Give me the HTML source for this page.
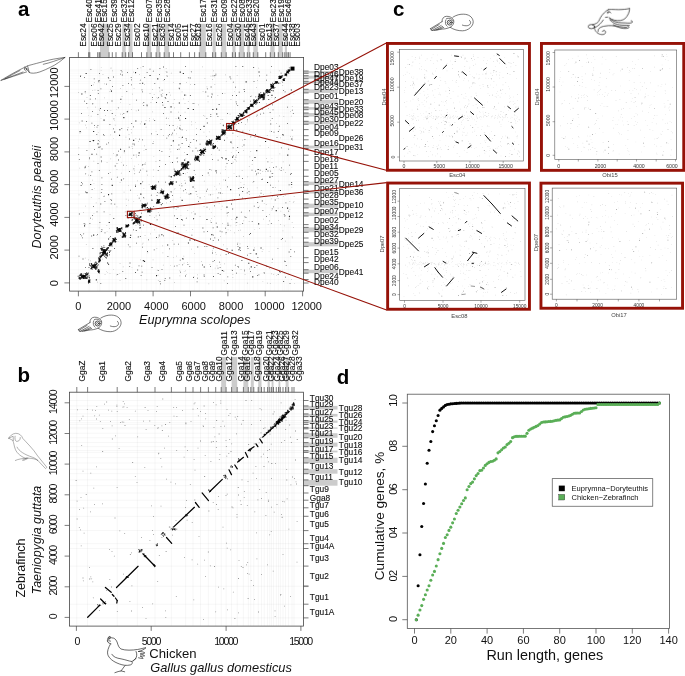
<!DOCTYPE html>
<html><head><meta charset="utf-8"><title>Figure</title>
<style>html,body{margin:0;padding:0;background:#fff}svg{display:block}text{font-family:"Liberation Sans",sans-serif}</style>
</head><body>
<svg width="685" height="676" viewBox="0 0 685 676">
<rect width="685" height="676" fill="#fff"/>
<g opacity="0.999">
<rect x="88.40" y="23.80" width="1.40" height="33.60" fill="#cccccc" stroke="none" stroke-width="0.7" />
<rect x="100.00" y="23.80" width="9.10" height="33.60" fill="#cccccc" stroke="none" stroke-width="0.7" />
<rect x="122.20" y="23.80" width="3.50" height="33.60" fill="#cccccc" stroke="none" stroke-width="0.7" />
<rect x="128.60" y="23.80" width="3.90" height="33.60" fill="#cccccc" stroke="none" stroke-width="0.7" />
<rect x="146.80" y="23.80" width="4.40" height="33.60" fill="#cccccc" stroke="none" stroke-width="0.7" />
<rect x="156.10" y="23.80" width="3.80" height="33.60" fill="#cccccc" stroke="none" stroke-width="0.7" />
<rect x="164.20" y="23.80" width="5.00" height="33.60" fill="#cccccc" stroke="none" stroke-width="0.7" />
<rect x="199.30" y="23.80" width="6.50" height="33.60" fill="#cccccc" stroke="none" stroke-width="0.7" />
<rect x="212.60" y="23.80" width="3.10" height="33.60" fill="#cccccc" stroke="none" stroke-width="0.7" />
<rect x="221.30" y="23.80" width="4.90" height="33.60" fill="#cccccc" stroke="none" stroke-width="0.7" />
<rect x="232.40" y="23.80" width="3.10" height="33.60" fill="#cccccc" stroke="none" stroke-width="0.7" />
<rect x="239.20" y="23.80" width="5.00" height="33.60" fill="#cccccc" stroke="none" stroke-width="0.7" />
<rect x="247.30" y="23.80" width="2.50" height="33.60" fill="#cccccc" stroke="none" stroke-width="0.7" />
<rect x="253.30" y="23.80" width="4.50" height="33.60" fill="#cccccc" stroke="none" stroke-width="0.7" />
<rect x="270.30" y="23.80" width="4.30" height="33.60" fill="#cccccc" stroke="none" stroke-width="0.7" />
<rect x="278.30" y="23.80" width="4.40" height="33.60" fill="#cccccc" stroke="none" stroke-width="0.7" />
<rect x="284.80" y="23.80" width="2.20" height="33.60" fill="#cccccc" stroke="none" stroke-width="0.7" />
<rect x="303.60" y="71.00" width="34.20" height="2.30" fill="#cccccc" stroke="none" stroke-width="0.7" />
<rect x="303.60" y="75.70" width="34.20" height="3.00" fill="#cccccc" stroke="none" stroke-width="0.7" />
<rect x="303.60" y="81.30" width="34.20" height="2.10" fill="#cccccc" stroke="none" stroke-width="0.7" />
<rect x="303.60" y="89.30" width="34.20" height="3.60" fill="#cccccc" stroke="none" stroke-width="0.7" />
<rect x="303.60" y="99.70" width="34.20" height="4.10" fill="#cccccc" stroke="none" stroke-width="0.7" />
<rect x="303.60" y="107.10" width="34.20" height="2.60" fill="#cccccc" stroke="none" stroke-width="0.7" />
<rect x="303.60" y="113.00" width="34.20" height="3.60" fill="#cccccc" stroke="none" stroke-width="0.7" />
<rect x="303.60" y="121.30" width="34.20" height="3.00" fill="#cccccc" stroke="none" stroke-width="0.7" />
<rect x="303.60" y="145.60" width="34.20" height="2.90" fill="#cccccc" stroke="none" stroke-width="0.7" />
<rect x="303.60" y="181.70" width="34.20" height="3.40" fill="#cccccc" stroke="none" stroke-width="0.7" />
<rect x="303.60" y="190.50" width="34.20" height="3.00" fill="#cccccc" stroke="none" stroke-width="0.7" />
<rect x="303.60" y="203.70" width="34.20" height="4.20" fill="#cccccc" stroke="none" stroke-width="0.7" />
<rect x="303.60" y="212.70" width="34.20" height="3.30" fill="#cccccc" stroke="none" stroke-width="0.7" />
<rect x="303.60" y="227.40" width="34.20" height="4.90" fill="#cccccc" stroke="none" stroke-width="0.7" />
<rect x="303.60" y="242.20" width="34.20" height="4.20" fill="#cccccc" stroke="none" stroke-width="0.7" />
<rect x="303.60" y="269.70" width="34.20" height="3.50" fill="#cccccc" stroke="none" stroke-width="0.7" />
<path d="M78.4 57.4V291.1M88.7 57.4V291.1M89.8 57.4V291.1M97.7 57.4V291.1M99.2 57.4V291.1M100.0 57.4V291.1M109.1 57.4V291.1M112.3 57.4V291.1M116.0 57.4V291.1M122.2 57.4V291.1M125.7 57.4V291.1M128.6 57.4V291.1M132.5 57.4V291.1M141.5 57.4V291.1M146.8 57.4V291.1M151.2 57.4V291.1M156.1 57.4V291.1M159.9 57.4V291.1M164.2 57.4V291.1M169.2 57.4V291.1M173.5 57.4V291.1M180.7 57.4V291.1M189.4 57.4V291.1M194.6 57.4V291.1M199.3 57.4V291.1M205.8 57.4V291.1M212.6 57.4V291.1M215.7 57.4V291.1M221.3 57.4V291.1M226.2 57.4V291.1M232.4 57.4V291.1M235.5 57.4V291.1M239.2 57.4V291.1M244.2 57.4V291.1M247.3 57.4V291.1M249.8 57.4V291.1M253.3 57.4V291.1M257.8 57.4V291.1M265.7 57.4V291.1M270.3 57.4V291.1M274.6 57.4V291.1M278.3 57.4V291.1M282.7 57.4V291.1M284.8 57.4V291.1M287.0 57.4V291.1M288.5 57.4V291.1M290.1 57.4V291.1M69.6 69.7H303.6M69.6 71.0H303.6M69.6 73.3H303.6M69.6 75.7H303.6M69.6 78.7H303.6M69.6 81.3H303.6M69.6 83.4H303.6M69.6 89.3H303.6M69.6 92.9H303.6M69.6 99.7H303.6M69.6 103.8H303.6M69.6 107.1H303.6M69.6 109.7H303.6M69.6 113.0H303.6M69.6 116.6H303.6M69.6 121.3H303.6M69.6 124.3H303.6M69.6 129.6H303.6M69.6 135.7H303.6M69.6 139.8H303.6M69.6 145.4H303.6M69.6 148.5H303.6M69.6 155.2H303.6M69.6 161.4H303.6M69.6 170.0H303.6M69.6 176.3H303.6M69.6 181.6H303.6M69.6 185.1H303.6M69.6 190.4H303.6M69.6 193.5H303.6M69.6 199.1H303.6M69.6 203.7H303.6M69.6 207.9H303.6M69.6 212.7H303.6M69.6 216.0H303.6M69.6 224.6H303.6M69.6 227.4H303.6M69.6 232.3H303.6M69.6 238.0H303.6M69.6 242.2H303.6M69.6 246.4H303.6M69.6 257.7H303.6M69.6 262.6H303.6M69.6 269.7H303.6M69.6 273.2H303.6M69.6 279.5H303.6M69.6 283.0H303.6" stroke="#999" stroke-width="0.3" stroke-opacity="0.16" fill="none"/>
<rect x="69.60" y="57.40" width="234.00" height="233.70" fill="none" stroke="#444" stroke-width="0.8" />
<path d="M78.4 57.4v-5.2M88.7 57.4v-5.2M89.8 57.4v-5.2M97.7 57.4v-5.2M99.2 57.4v-5.2M100.0 57.4v-5.2M109.1 57.4v-5.2M112.3 57.4v-5.2M116.0 57.4v-5.2M122.2 57.4v-5.2M125.7 57.4v-5.2M128.6 57.4v-5.2M132.5 57.4v-5.2M141.5 57.4v-5.2M146.8 57.4v-5.2M151.2 57.4v-5.2M156.1 57.4v-5.2M159.9 57.4v-5.2M164.2 57.4v-5.2M169.2 57.4v-5.2M173.5 57.4v-5.2M180.7 57.4v-5.2M189.4 57.4v-5.2M194.6 57.4v-5.2M199.3 57.4v-5.2M205.8 57.4v-5.2M212.6 57.4v-5.2M215.7 57.4v-5.2M221.3 57.4v-5.2M226.2 57.4v-5.2M232.4 57.4v-5.2M235.5 57.4v-5.2M239.2 57.4v-5.2M244.2 57.4v-5.2M247.3 57.4v-5.2M249.8 57.4v-5.2M253.3 57.4v-5.2M257.8 57.4v-5.2M265.7 57.4v-5.2M270.3 57.4v-5.2M274.6 57.4v-5.2M278.3 57.4v-5.2M282.7 57.4v-5.2M284.8 57.4v-5.2M287.0 57.4v-5.2M288.5 57.4v-5.2M290.1 57.4v-5.2M303.6 71.0h5M303.6 73.3h5M303.6 75.7h5M303.6 78.7h5M303.6 81.3h5M303.6 83.4h5M303.6 89.3h5M303.6 92.9h5M303.6 99.7h5M303.6 103.8h5M303.6 107.1h5M303.6 109.7h5M303.6 113.0h5M303.6 116.6h5M303.6 121.3h5M303.6 124.3h5M303.6 129.6h5M303.6 135.7h5M303.6 139.8h5M303.6 145.4h5M303.6 148.5h5M303.6 155.2h5M303.6 161.4h5M303.6 170.0h5M303.6 176.3h5M303.6 181.6h5M303.6 185.1h5M303.6 190.4h5M303.6 193.5h5M303.6 199.1h5M303.6 203.7h5M303.6 207.9h5M303.6 212.7h5M303.6 216.0h5M303.6 224.6h5M303.6 227.4h5M303.6 232.3h5M303.6 238.0h5M303.6 242.2h5M303.6 246.4h5M303.6 257.7h5M303.6 262.6h5M303.6 269.7h5M303.6 273.2h5M303.6 279.5h5M303.6 283.0h5M78.4 291.1v5.2M69.6 282.9h-5.2M115.8 291.1v5.2M69.6 250.1h-5.2M153.1 291.1v5.2M69.6 217.4h-5.2M190.5 291.1v5.2M69.6 184.6h-5.2M227.9 291.1v5.2M69.6 151.9h-5.2M265.2 291.1v5.2M69.6 119.1h-5.2M302.6 291.1v5.2M69.6 86.4h-5.2" stroke="#444" stroke-width="0.7" fill="none"/>
<text font-size="9.0" text-anchor="start" fill="#111" transform="translate(86.20 46.70) rotate(-90) scale(0.93 1)" stroke="#111" stroke-width="0.12">Esc24</text>
<text font-size="9.0" text-anchor="start" fill="#111" transform="translate(96.50 46.70) rotate(-90) scale(0.93 1)" stroke="#111" stroke-width="0.12">Esc06</text>
<text font-size="9.0" text-anchor="start" fill="#111" transform="translate(104.10 46.70) rotate(-90) scale(0.93 1)" stroke="#111" stroke-width="0.12">Esc42</text>
<text font-size="9.0" text-anchor="start" fill="#111" transform="translate(113.20 46.70) rotate(-90) scale(0.93 1)" stroke="#111" stroke-width="0.12">Esc25</text>
<text font-size="9.0" text-anchor="start" fill="#111" transform="translate(121.00 46.70) rotate(-90) scale(0.93 1)" stroke="#111" stroke-width="0.12">Esc29</text>
<text font-size="9.0" text-anchor="start" fill="#111" transform="translate(129.60 46.70) rotate(-90) scale(0.93 1)" stroke="#111" stroke-width="0.12">Esc34</text>
<text font-size="9.0" text-anchor="start" fill="#111" transform="translate(139.80 46.70) rotate(-90) scale(0.93 1)" stroke="#111" stroke-width="0.12">Esc02</text>
<text font-size="9.0" text-anchor="start" fill="#111" transform="translate(149.00 46.70) rotate(-90) scale(0.93 1)" stroke="#111" stroke-width="0.12">Esc10</text>
<text font-size="9.0" text-anchor="start" fill="#111" transform="translate(157.80 46.70) rotate(-90) scale(0.93 1)" stroke="#111" stroke-width="0.12">Esc21</text>
<text font-size="9.0" text-anchor="start" fill="#111" transform="translate(165.40 46.70) rotate(-90) scale(0.93 1)" stroke="#111" stroke-width="0.12">Esc36</text>
<text font-size="9.0" text-anchor="start" fill="#111" transform="translate(173.60 46.70) rotate(-90) scale(0.93 1)" stroke="#111" stroke-width="0.12">Esc14</text>
<text font-size="9.0" text-anchor="start" fill="#111" transform="translate(180.70 46.70) rotate(-90) scale(0.93 1)" stroke="#111" stroke-width="0.12">Esc05</text>
<text font-size="9.0" text-anchor="start" fill="#111" transform="translate(187.70 46.70) rotate(-90) scale(0.93 1)" stroke="#111" stroke-width="0.12">Esc11</text>
<text font-size="9.0" text-anchor="start" fill="#111" transform="translate(195.50 46.70) rotate(-90) scale(0.93 1)" stroke="#111" stroke-width="0.12">Esc27</text>
<text font-size="9.0" text-anchor="start" fill="#111" transform="translate(201.20 46.70) rotate(-90) scale(0.93 1)" stroke="#111" stroke-width="0.12">Esc18</text>
<text font-size="9.0" text-anchor="start" fill="#111" transform="translate(212.40 46.70) rotate(-90) scale(0.93 1)" stroke="#111" stroke-width="0.12">Esc16</text>
<text font-size="9.0" text-anchor="start" fill="#111" transform="translate(222.00 46.70) rotate(-90) scale(0.93 1)" stroke="#111" stroke-width="0.12">Esc26</text>
<text font-size="9.0" text-anchor="start" fill="#111" transform="translate(232.90 46.70) rotate(-90) scale(0.93 1)" stroke="#111" stroke-width="0.12">Esc04</text>
<text font-size="9.0" text-anchor="start" fill="#111" transform="translate(241.00 46.70) rotate(-90) scale(0.93 1)" stroke="#111" stroke-width="0.12">Esc30</text>
<text font-size="9.0" text-anchor="start" fill="#111" transform="translate(249.60 46.70) rotate(-90) scale(0.93 1)" stroke="#111" stroke-width="0.12">Esc45</text>
<text font-size="9.0" text-anchor="start" fill="#111" transform="translate(256.20 46.70) rotate(-90) scale(0.93 1)" stroke="#111" stroke-width="0.12">Esc43</text>
<text font-size="9.0" text-anchor="start" fill="#111" transform="translate(265.00 46.70) rotate(-90) scale(0.93 1)" stroke="#111" stroke-width="0.12">Esc01</text>
<text font-size="9.0" text-anchor="start" fill="#111" transform="translate(271.50 46.70) rotate(-90) scale(0.93 1)" stroke="#111" stroke-width="0.12">Esc13</text>
<text font-size="9.0" text-anchor="start" fill="#111" transform="translate(279.20 46.70) rotate(-90) scale(0.93 1)" stroke="#111" stroke-width="0.12">Esc37</text>
<text font-size="9.0" text-anchor="start" fill="#111" transform="translate(287.50 46.70) rotate(-90) scale(0.93 1)" stroke="#111" stroke-width="0.12">Esc44</text>
<text font-size="9.0" text-anchor="start" fill="#111" transform="translate(294.60 46.70) rotate(-90) scale(0.93 1)" stroke="#111" stroke-width="0.12">Esc38</text>
<text font-size="9.0" text-anchor="start" fill="#111" transform="translate(300.20 46.70) rotate(-90) scale(0.93 1)" stroke="#111" stroke-width="0.12">Esc03</text>
<text font-size="9.0" text-anchor="start" fill="#111" transform="translate(91.80 22.40) rotate(-90) scale(0.93 1)" stroke="#111" stroke-width="0.12">Esc40</text>
<text font-size="9.0" text-anchor="start" fill="#111" transform="translate(101.40 22.40) rotate(-90) scale(0.93 1)" stroke="#111" stroke-width="0.12">Esc41</text>
<text font-size="9.0" text-anchor="start" fill="#111" transform="translate(107.20 22.40) rotate(-90) scale(0.93 1)" stroke="#111" stroke-width="0.12">Esc15</text>
<text font-size="9.0" text-anchor="start" fill="#111" transform="translate(116.70 22.40) rotate(-90) scale(0.93 1)" stroke="#111" stroke-width="0.12">Esc39</text>
<text font-size="9.0" text-anchor="start" fill="#111" transform="translate(127.20 22.40) rotate(-90) scale(0.93 1)" stroke="#111" stroke-width="0.12">Esc32</text>
<text font-size="9.0" text-anchor="start" fill="#111" transform="translate(133.70 22.40) rotate(-90) scale(0.93 1)" stroke="#111" stroke-width="0.12">Esc12</text>
<text font-size="9.0" text-anchor="start" fill="#111" transform="translate(152.20 22.40) rotate(-90) scale(0.93 1)" stroke="#111" stroke-width="0.12">Esc07</text>
<text font-size="9.0" text-anchor="start" fill="#111" transform="translate(161.90 22.40) rotate(-90) scale(0.93 1)" stroke="#111" stroke-width="0.12">Esc35</text>
<text font-size="9.0" text-anchor="start" fill="#111" transform="translate(169.50 22.40) rotate(-90) scale(0.93 1)" stroke="#111" stroke-width="0.12">Esc28</text>
<text font-size="9.0" text-anchor="start" fill="#111" transform="translate(206.20 22.40) rotate(-90) scale(0.93 1)" stroke="#111" stroke-width="0.12">Esc17</text>
<text font-size="9.0" text-anchor="start" fill="#111" transform="translate(217.20 22.40) rotate(-90) scale(0.93 1)" stroke="#111" stroke-width="0.12">Esc31</text>
<text font-size="9.0" text-anchor="start" fill="#111" transform="translate(227.20 22.40) rotate(-90) scale(0.93 1)" stroke="#111" stroke-width="0.12">Esc09</text>
<text font-size="9.0" text-anchor="start" fill="#111" transform="translate(237.00 22.40) rotate(-90) scale(0.93 1)" stroke="#111" stroke-width="0.12">Esc22</text>
<text font-size="9.0" text-anchor="start" fill="#111" transform="translate(245.20 22.40) rotate(-90) scale(0.93 1)" stroke="#111" stroke-width="0.12">Esc08</text>
<text font-size="9.0" text-anchor="start" fill="#111" transform="translate(252.20 22.40) rotate(-90) scale(0.93 1)" stroke="#111" stroke-width="0.12">Esc33</text>
<text font-size="9.0" text-anchor="start" fill="#111" transform="translate(258.90 22.40) rotate(-90) scale(0.93 1)" stroke="#111" stroke-width="0.12">Esc20</text>
<text font-size="9.0" text-anchor="start" fill="#111" transform="translate(276.20 22.40) rotate(-90) scale(0.93 1)" stroke="#111" stroke-width="0.12">Esc23</text>
<text font-size="9.0" text-anchor="start" fill="#111" transform="translate(284.00 22.40) rotate(-90) scale(0.93 1)" stroke="#111" stroke-width="0.12">Esc19</text>
<text font-size="9.0" text-anchor="start" fill="#111" transform="translate(290.50 22.40) rotate(-90) scale(0.93 1)" stroke="#111" stroke-width="0.12">Esc46</text>
<text font-size="9.0" text-anchor="start" fill="#111" transform="translate(314.00 69.50) scale(0.93 1)" stroke="#111" stroke-width="0.12">Dpe03</text>
<text font-size="9.0" text-anchor="start" fill="#111" transform="translate(314.00 76.60) scale(0.93 1)" stroke="#111" stroke-width="0.12">Dpe46</text>
<text font-size="9.0" text-anchor="start" fill="#111" transform="translate(314.00 80.70) scale(0.93 1)" stroke="#111" stroke-width="0.12">Dpe47</text>
<text font-size="9.0" text-anchor="start" fill="#111" transform="translate(314.00 85.10) scale(0.93 1)" stroke="#111" stroke-width="0.12">Dpe44</text>
<text font-size="9.0" text-anchor="start" fill="#111" transform="translate(314.00 90.20) scale(0.93 1)" stroke="#111" stroke-width="0.12">Dpe23</text>
<text font-size="9.0" text-anchor="start" fill="#111" transform="translate(314.00 99.20) scale(0.93 1)" stroke="#111" stroke-width="0.12">Dpe01</text>
<text font-size="9.0" text-anchor="start" fill="#111" transform="translate(314.00 108.80) scale(0.93 1)" stroke="#111" stroke-width="0.12">Dpe43</text>
<text font-size="9.0" text-anchor="start" fill="#111" transform="translate(314.00 115.30) scale(0.93 1)" stroke="#111" stroke-width="0.12">Dpe45</text>
<text font-size="9.0" text-anchor="start" fill="#111" transform="translate(314.00 122.40) scale(0.93 1)" stroke="#111" stroke-width="0.12">Dpe30</text>
<text font-size="9.0" text-anchor="start" fill="#111" transform="translate(314.00 130.00) scale(0.93 1)" stroke="#111" stroke-width="0.12">Dpe04</text>
<text font-size="9.0" text-anchor="start" fill="#111" transform="translate(314.00 136.20) scale(0.93 1)" stroke="#111" stroke-width="0.12">Dpe09</text>
<text font-size="9.0" text-anchor="start" fill="#111" transform="translate(314.00 145.60) scale(0.93 1)" stroke="#111" stroke-width="0.12">Dpe16</text>
<text font-size="9.0" text-anchor="start" fill="#111" transform="translate(314.00 154.90) scale(0.93 1)" stroke="#111" stroke-width="0.12">Dpe17</text>
<text font-size="9.0" text-anchor="start" fill="#111" transform="translate(314.00 162.00) scale(0.93 1)" stroke="#111" stroke-width="0.12">Dpe18</text>
<text font-size="9.0" text-anchor="start" fill="#111" transform="translate(314.00 169.20) scale(0.93 1)" stroke="#111" stroke-width="0.12">Dpe11</text>
<text font-size="9.0" text-anchor="start" fill="#111" transform="translate(314.00 176.20) scale(0.93 1)" stroke="#111" stroke-width="0.12">Dpe05</text>
<text font-size="9.0" text-anchor="start" fill="#111" transform="translate(314.00 182.60) scale(0.93 1)" stroke="#111" stroke-width="0.12">Dpe27</text>
<text font-size="9.0" text-anchor="start" fill="#111" transform="translate(314.00 191.20) scale(0.93 1)" stroke="#111" stroke-width="0.12">Dpe21</text>
<text font-size="9.0" text-anchor="start" fill="#111" transform="translate(314.00 198.00) scale(0.93 1)" stroke="#111" stroke-width="0.12">Dpe28</text>
<text font-size="9.0" text-anchor="start" fill="#111" transform="translate(314.00 204.70) scale(0.93 1)" stroke="#111" stroke-width="0.12">Dpe35</text>
<text font-size="9.0" text-anchor="start" fill="#111" transform="translate(314.00 213.80) scale(0.93 1)" stroke="#111" stroke-width="0.12">Dpe07</text>
<text font-size="9.0" text-anchor="start" fill="#111" transform="translate(314.00 223.40) scale(0.93 1)" stroke="#111" stroke-width="0.12">Dpe02</text>
<text font-size="9.0" text-anchor="start" fill="#111" transform="translate(314.00 229.70) scale(0.93 1)" stroke="#111" stroke-width="0.12">Dpe34</text>
<text font-size="9.0" text-anchor="start" fill="#111" transform="translate(314.00 237.40) scale(0.93 1)" stroke="#111" stroke-width="0.12">Dpe32</text>
<text font-size="9.0" text-anchor="start" fill="#111" transform="translate(314.00 244.20) scale(0.93 1)" stroke="#111" stroke-width="0.12">Dpe39</text>
<text font-size="9.0" text-anchor="start" fill="#111" transform="translate(314.00 254.70) scale(0.93 1)" stroke="#111" stroke-width="0.12">Dpe15</text>
<text font-size="9.0" text-anchor="start" fill="#111" transform="translate(314.00 262.40) scale(0.93 1)" stroke="#111" stroke-width="0.12">Dpe42</text>
<text font-size="9.0" text-anchor="start" fill="#111" transform="translate(314.00 269.50) scale(0.93 1)" stroke="#111" stroke-width="0.12">Dpe06</text>
<text font-size="9.0" text-anchor="start" fill="#111" transform="translate(314.00 279.20) scale(0.93 1)" stroke="#111" stroke-width="0.12">Dpe24</text>
<text font-size="9.0" text-anchor="start" fill="#111" transform="translate(314.00 284.90) scale(0.93 1)" stroke="#111" stroke-width="0.12">Dpe40</text>
<text font-size="9.0" text-anchor="start" fill="#111" transform="translate(338.80 74.80) scale(0.93 1)" stroke="#111" stroke-width="0.12">Dpe38</text>
<text font-size="9.0" text-anchor="start" fill="#111" transform="translate(338.80 80.50) scale(0.93 1)" stroke="#111" stroke-width="0.12">Dpe19</text>
<text font-size="9.0" text-anchor="start" fill="#111" transform="translate(338.80 86.70) scale(0.93 1)" stroke="#111" stroke-width="0.12">Dpe37</text>
<text font-size="9.0" text-anchor="start" fill="#111" transform="translate(338.80 94.20) scale(0.93 1)" stroke="#111" stroke-width="0.12">Dpe13</text>
<text font-size="9.0" text-anchor="start" fill="#111" transform="translate(338.80 105.20) scale(0.93 1)" stroke="#111" stroke-width="0.12">Dpe20</text>
<text font-size="9.0" text-anchor="start" fill="#111" transform="translate(338.80 111.80) scale(0.93 1)" stroke="#111" stroke-width="0.12">Dpe33</text>
<text font-size="9.0" text-anchor="start" fill="#111" transform="translate(338.80 118.20) scale(0.93 1)" stroke="#111" stroke-width="0.12">Dpe08</text>
<text font-size="9.0" text-anchor="start" fill="#111" transform="translate(338.80 126.00) scale(0.93 1)" stroke="#111" stroke-width="0.12">Dpe22</text>
<text font-size="9.0" text-anchor="start" fill="#111" transform="translate(338.80 140.70) scale(0.93 1)" stroke="#111" stroke-width="0.12">Dpe26</text>
<text font-size="9.0" text-anchor="start" fill="#111" transform="translate(338.80 150.40) scale(0.93 1)" stroke="#111" stroke-width="0.12">Dpe31</text>
<text font-size="9.0" text-anchor="start" fill="#111" transform="translate(338.80 186.90) scale(0.93 1)" stroke="#111" stroke-width="0.12">Dpe14</text>
<text font-size="9.0" text-anchor="start" fill="#111" transform="translate(338.80 195.20) scale(0.93 1)" stroke="#111" stroke-width="0.12">Dpe36</text>
<text font-size="9.0" text-anchor="start" fill="#111" transform="translate(338.80 208.00) scale(0.93 1)" stroke="#111" stroke-width="0.12">Dpe10</text>
<text font-size="9.0" text-anchor="start" fill="#111" transform="translate(338.80 218.20) scale(0.93 1)" stroke="#111" stroke-width="0.12">Dpe12</text>
<text font-size="9.0" text-anchor="start" fill="#111" transform="translate(338.80 233.00) scale(0.93 1)" stroke="#111" stroke-width="0.12">Dpe29</text>
<text font-size="9.0" text-anchor="start" fill="#111" transform="translate(338.80 247.00) scale(0.93 1)" stroke="#111" stroke-width="0.12">Dpe25</text>
<text font-size="9.0" text-anchor="start" fill="#111" transform="translate(338.80 274.90) scale(0.93 1)" stroke="#111" stroke-width="0.12">Dpe41</text>
<text x="78.40" y="309.70" font-size="11" text-anchor="middle" fill="#111">0</text>
<text x="57.60" y="283.30" font-size="11" text-anchor="middle" fill="#111" transform="rotate(-90 57.60 283.30)">0</text>
<text x="118.97" y="309.70" font-size="11" text-anchor="middle" fill="#111">2000</text>
<text x="57.60" y="247.35" font-size="11" text-anchor="middle" fill="#111" transform="rotate(-90 57.60 247.35)">2000</text>
<text x="156.33" y="309.70" font-size="11" text-anchor="middle" fill="#111">4000</text>
<text x="57.60" y="214.60" font-size="11" text-anchor="middle" fill="#111" transform="rotate(-90 57.60 214.60)">4000</text>
<text x="193.70" y="309.70" font-size="11" text-anchor="middle" fill="#111">6000</text>
<text x="57.60" y="181.85" font-size="11" text-anchor="middle" fill="#111" transform="rotate(-90 57.60 181.85)">6000</text>
<text x="231.07" y="309.70" font-size="11" text-anchor="middle" fill="#111">8000</text>
<text x="57.60" y="149.10" font-size="11" text-anchor="middle" fill="#111" transform="rotate(-90 57.60 149.10)">8000</text>
<text x="269.33" y="309.70" font-size="11" text-anchor="middle" fill="#111">10000</text>
<text x="57.60" y="115.45" font-size="11" text-anchor="middle" fill="#111" transform="rotate(-90 57.60 115.45)">10000</text>
<text x="306.70" y="309.70" font-size="11" text-anchor="middle" fill="#111">12000</text>
<text x="57.60" y="82.70" font-size="11" text-anchor="middle" fill="#111" transform="rotate(-90 57.60 82.70)">12000</text>
<text x="139.10" y="323.80" font-size="12.7" text-anchor="start" fill="#111" font-style="italic">Euprymna scolopes</text>
<text x="40.80" y="197.00" font-size="12.5" text-anchor="middle" fill="#111" transform="rotate(-90 40.80 197.00)" font-style="italic">Doryteuthis pealeii</text>
<text x="18.00" y="16.40" font-size="20.5" text-anchor="start" fill="#000" font-weight="bold">a</text>
<path d="M212.7 227.5h0.8v0.8h-0.8zM250.0 271.2h0.8v0.8h-0.8zM238.0 266.8h0.8v0.8h-0.8zM84.5 167.4h0.8v0.8h-0.8zM282.0 207.3h0.8v0.8h-0.8zM272.8 90.6h0.8v0.8h-0.8zM179.5 119.7h0.8v0.8h-0.8zM195.7 190.9h0.8v0.8h-0.8zM81.0 113.2h0.8v0.8h-0.8zM138.6 265.5h0.8v0.8h-0.8zM243.6 100.7h0.8v0.8h-0.8zM250.4 96.2h0.8v0.8h-0.8zM211.6 93.6h0.8v0.8h-0.8zM78.6 255.7h0.8v0.8h-0.8zM123.4 112.9h0.8v0.8h-0.8zM290.4 255.9h0.8v0.8h-0.8zM140.7 275.3h0.8v0.8h-0.8zM194.7 213.6h0.8v0.8h-0.8zM122.4 270.9h0.8v0.8h-0.8zM227.4 276.4h0.8v0.8h-0.8zM271.2 131.0h0.8v0.8h-0.8zM156.2 102.1h0.8v0.8h-0.8zM109.7 80.2h0.8v0.8h-0.8zM143.3 197.3h0.8v0.8h-0.8zM78.9 213.6h0.8v0.8h-0.8zM151.2 133.5h0.8v0.8h-0.8zM255.0 170.7h0.8v0.8h-0.8zM146.4 170.8h0.8v0.8h-0.8zM230.4 78.4h0.8v0.8h-0.8zM288.8 71.0h0.8v0.8h-0.8zM240.2 249.9h0.8v0.8h-0.8zM82.1 237.5h0.8v0.8h-0.8zM157.3 191.9h0.8v0.8h-0.8zM80.2 76.2h0.8v0.8h-0.8zM117.3 273.9h0.8v0.8h-0.8zM120.6 230.5h0.8v0.8h-0.8zM279.0 271.1h0.8v0.8h-0.8zM152.6 143.2h0.8v0.8h-0.8zM191.5 234.8h0.8v0.8h-0.8zM101.5 228.9h0.8v0.8h-0.8zM250.4 253.2h0.8v0.8h-0.8zM86.1 271.9h0.8v0.8h-0.8zM97.9 140.2h0.8v0.8h-0.8zM210.1 265.9h0.8v0.8h-0.8zM151.6 267.2h0.8v0.8h-0.8zM196.0 134.0h0.8v0.8h-0.8zM146.6 104.6h0.8v0.8h-0.8zM95.1 98.4h0.8v0.8h-0.8zM227.1 283.0h0.8v0.8h-0.8zM113.1 76.6h0.8v0.8h-0.8zM291.3 182.1h0.8v0.8h-0.8zM165.9 117.7h0.8v0.8h-0.8zM206.5 245.9h0.8v0.8h-0.8zM176.6 157.8h0.8v0.8h-0.8zM90.2 265.4h0.8v0.8h-0.8zM85.3 173.4h0.8v0.8h-0.8zM259.3 94.4h0.8v0.8h-0.8zM236.2 272.8h0.8v0.8h-0.8zM214.4 237.5h0.8v0.8h-0.8zM101.2 160.6h0.8v0.8h-0.8zM110.4 249.9h0.8v0.8h-0.8zM141.9 164.7h0.8v0.8h-0.8zM294.0 251.5h0.8v0.8h-0.8zM289.0 164.7h0.8v0.8h-0.8zM183.6 224.8h0.8v0.8h-0.8zM181.7 129.4h0.8v0.8h-0.8zM165.4 97.9h0.8v0.8h-0.8zM159.6 281.2h0.8v0.8h-0.8zM285.5 202.5h0.8v0.8h-0.8zM186.1 139.7h0.8v0.8h-0.8zM97.5 125.3h0.8v0.8h-0.8zM247.1 254.8h0.8v0.8h-0.8zM156.2 237.1h0.8v0.8h-0.8zM245.6 217.2h0.8v0.8h-0.8zM221.6 231.4h0.8v0.8h-0.8zM156.7 219.4h0.8v0.8h-0.8zM138.9 171.7h0.8v0.8h-0.8zM244.5 216.4h0.8v0.8h-0.8zM141.7 271.8h0.8v0.8h-0.8zM218.5 192.4h0.8v0.8h-0.8zM80.7 185.1h0.8v0.8h-0.8zM132.3 212.2h0.8v0.8h-0.8zM178.2 243.8h0.8v0.8h-0.8zM218.0 239.6h0.8v0.8h-0.8zM153.3 206.2h0.8v0.8h-0.8zM237.6 246.3h0.8v0.8h-0.8zM153.8 249.5h0.8v0.8h-0.8zM266.1 215.9h0.8v0.8h-0.8zM289.0 274.2h0.8v0.8h-0.8zM190.1 181.2h0.8v0.8h-0.8zM114.1 248.1h0.8v0.8h-0.8zM280.7 169.9h0.8v0.8h-0.8zM227.5 222.7h0.8v0.8h-0.8zM236.0 103.4h0.8v0.8h-0.8zM246.8 192.5h0.8v0.8h-0.8zM222.0 157.6h0.8v0.8h-0.8zM212.9 234.7h0.8v0.8h-0.8zM215.8 222.8h0.8v0.8h-0.8zM84.2 100.8h0.8v0.8h-0.8zM173.5 207.5h0.8v0.8h-0.8zM125.5 215.3h0.8v0.8h-0.8zM214.5 75.1h0.8v0.8h-0.8zM180.1 115.3h0.8v0.8h-0.8zM89.9 95.1h0.8v0.8h-0.8zM146.7 105.5h0.8v0.8h-0.8zM120.0 73.8h0.8v0.8h-0.8zM178.7 148.8h0.8v0.8h-0.8zM210.3 194.5h0.8v0.8h-0.8zM129.6 262.6h0.8v0.8h-0.8zM78.3 154.3h0.8v0.8h-0.8zM138.4 155.3h0.8v0.8h-0.8zM103.1 247.0h0.8v0.8h-0.8zM159.0 73.9h0.8v0.8h-0.8zM210.7 86.6h0.8v0.8h-0.8zM196.0 139.9h0.8v0.8h-0.8zM203.7 274.6h0.8v0.8h-0.8zM255.0 157.2h0.8v0.8h-0.8zM253.8 205.8h0.8v0.8h-0.8zM158.0 96.9h0.8v0.8h-0.8zM206.9 188.8h0.8v0.8h-0.8zM285.0 276.7h0.8v0.8h-0.8zM209.7 142.4h0.8v0.8h-0.8zM271.2 66.2h0.8v0.8h-0.8zM101.5 189.2h0.8v0.8h-0.8zM211.1 96.6h0.8v0.8h-0.8zM214.2 260.0h0.8v0.8h-0.8zM159.4 160.0h0.8v0.8h-0.8zM127.1 129.5h0.8v0.8h-0.8zM288.3 148.7h0.8v0.8h-0.8zM285.8 264.9h0.8v0.8h-0.8zM206.9 122.6h0.8v0.8h-0.8zM290.1 174.0h0.8v0.8h-0.8zM167.9 135.5h0.8v0.8h-0.8zM290.8 173.1h0.8v0.8h-0.8zM140.1 169.8h0.8v0.8h-0.8zM104.5 201.3h0.8v0.8h-0.8zM174.0 129.8h0.8v0.8h-0.8zM247.0 246.0h0.8v0.8h-0.8zM81.1 181.9h0.8v0.8h-0.8zM137.3 269.6h0.8v0.8h-0.8zM247.1 119.5h0.8v0.8h-0.8zM136.0 99.7h0.8v0.8h-0.8zM291.8 129.8h0.8v0.8h-0.8zM209.5 169.3h0.8v0.8h-0.8zM217.5 197.5h0.8v0.8h-0.8zM238.8 91.7h0.8v0.8h-0.8zM242.4 131.5h0.8v0.8h-0.8zM193.4 139.2h0.8v0.8h-0.8zM142.3 181.4h0.8v0.8h-0.8zM178.5 144.6h0.8v0.8h-0.8zM239.1 194.6h0.8v0.8h-0.8zM86.1 121.0h0.8v0.8h-0.8zM176.6 265.5h0.8v0.8h-0.8zM270.0 184.8h0.8v0.8h-0.8zM81.3 235.5h0.8v0.8h-0.8zM170.6 191.3h0.8v0.8h-0.8zM231.2 203.6h0.8v0.8h-0.8zM182.3 264.5h0.8v0.8h-0.8zM161.5 151.3h0.8v0.8h-0.8zM262.2 108.8h0.8v0.8h-0.8zM142.2 246.7h0.8v0.8h-0.8zM92.5 248.1h0.8v0.8h-0.8zM228.2 160.2h0.8v0.8h-0.8zM140.1 236.0h0.8v0.8h-0.8zM274.9 97.1h0.8v0.8h-0.8zM181.5 185.5h0.8v0.8h-0.8zM185.7 138.0h0.8v0.8h-0.8zM111.4 193.5h0.8v0.8h-0.8zM253.6 80.9h0.8v0.8h-0.8zM127.9 244.4h0.8v0.8h-0.8zM249.2 210.5h0.8v0.8h-0.8zM83.7 223.3h0.8v0.8h-0.8zM289.6 283.3h0.8v0.8h-0.8zM229.7 76.6h0.8v0.8h-0.8zM260.1 113.7h0.8v0.8h-0.8zM217.7 273.3h0.8v0.8h-0.8zM232.1 95.3h0.8v0.8h-0.8zM141.4 265.8h0.8v0.8h-0.8zM110.5 198.9h0.8v0.8h-0.8zM167.6 101.1h0.8v0.8h-0.8zM212.6 75.5h0.8v0.8h-0.8zM101.6 148.6h0.8v0.8h-0.8zM93.8 78.5h0.8v0.8h-0.8zM202.5 227.6h0.8v0.8h-0.8zM267.9 95.2h0.8v0.8h-0.8zM171.4 134.5h0.8v0.8h-0.8zM207.8 172.6h0.8v0.8h-0.8zM280.9 147.5h0.8v0.8h-0.8zM90.2 217.8h0.8v0.8h-0.8zM110.8 203.4h0.8v0.8h-0.8zM187.5 264.2h0.8v0.8h-0.8zM198.1 201.2h0.8v0.8h-0.8zM135.1 186.1h0.8v0.8h-0.8zM133.1 229.4h0.8v0.8h-0.8zM189.9 95.1h0.8v0.8h-0.8zM128.8 146.8h0.8v0.8h-0.8zM237.3 105.0h0.8v0.8h-0.8zM232.3 208.6h0.8v0.8h-0.8zM96.6 211.4h0.8v0.8h-0.8zM97.9 93.2h0.8v0.8h-0.8zM206.5 117.9h0.8v0.8h-0.8zM267.6 170.6h0.8v0.8h-0.8zM148.0 239.4h0.8v0.8h-0.8zM84.6 223.8h0.8v0.8h-0.8zM89.8 98.8h0.8v0.8h-0.8zM283.8 214.3h0.8v0.8h-0.8zM126.4 91.3h0.8v0.8h-0.8zM288.3 210.8h0.8v0.8h-0.8zM255.4 96.4h0.8v0.8h-0.8zM213.2 143.1h0.8v0.8h-0.8zM129.0 138.6h0.8v0.8h-0.8zM210.8 141.9h0.8v0.8h-0.8zM161.5 95.7h0.8v0.8h-0.8zM257.7 207.0h0.8v0.8h-0.8zM252.0 160.3h0.8v0.8h-0.8zM262.1 178.7h0.8v0.8h-0.8zM206.2 190.8h0.8v0.8h-0.8zM238.1 152.1h0.8v0.8h-0.8zM99.2 73.2h0.8v0.8h-0.8zM121.9 74.6h0.8v0.8h-0.8zM270.3 170.7h0.8v0.8h-0.8zM242.4 66.1h0.8v0.8h-0.8zM179.8 259.7h0.8v0.8h-0.8zM212.0 159.3h0.8v0.8h-0.8zM178.8 87.7h0.8v0.8h-0.8zM111.6 100.6h0.8v0.8h-0.8zM159.1 150.0h0.8v0.8h-0.8zM268.4 99.1h0.8v0.8h-0.8zM133.1 126.4h0.8v0.8h-0.8zM113.1 128.5h0.8v0.8h-0.8zM129.0 170.9h0.8v0.8h-0.8zM85.1 267.3h0.8v0.8h-0.8zM157.9 270.2h0.8v0.8h-0.8zM226.7 212.7h0.8v0.8h-0.8zM180.1 271.8h0.8v0.8h-0.8zM103.7 211.5h0.8v0.8h-0.8zM141.1 212.8h0.8v0.8h-0.8zM235.7 101.5h0.8v0.8h-0.8zM121.6 71.4h0.8v0.8h-0.8zM128.0 83.0h0.8v0.8h-0.8zM164.8 278.0h0.8v0.8h-0.8zM156.9 133.9h0.8v0.8h-0.8zM179.3 127.6h0.8v0.8h-0.8zM236.4 222.3h0.8v0.8h-0.8zM113.5 118.4h0.8v0.8h-0.8zM223.4 270.7h0.8v0.8h-0.8zM217.7 159.8h0.8v0.8h-0.8zM288.9 67.4h0.8v0.8h-0.8zM91.3 235.6h0.8v0.8h-0.8zM166.8 75.8h0.8v0.8h-0.8zM196.7 281.4h0.8v0.8h-0.8zM190.3 142.2h0.8v0.8h-0.8zM98.5 81.5h0.8v0.8h-0.8zM272.3 172.9h0.8v0.8h-0.8zM280.3 77.7h0.8v0.8h-0.8zM130.8 77.0h0.8v0.8h-0.8zM164.0 79.1h0.8v0.8h-0.8zM133.4 154.7h0.8v0.8h-0.8zM144.3 77.2h0.8v0.8h-0.8zM86.3 277.5h0.8v0.8h-0.8zM116.9 176.7h0.8v0.8h-0.8zM165.1 181.7h0.8v0.8h-0.8zM96.4 134.3h0.8v0.8h-0.8zM101.5 184.0h0.8v0.8h-0.8zM277.2 196.2h0.8v0.8h-0.8zM263.3 112.7h0.8v0.8h-0.8zM82.0 183.5h0.8v0.8h-0.8zM183.3 190.4h0.8v0.8h-0.8zM159.6 202.1h0.8v0.8h-0.8zM234.9 264.8h0.8v0.8h-0.8zM144.6 163.8h0.8v0.8h-0.8zM256.7 114.8h0.8v0.8h-0.8zM103.2 133.9h0.8v0.8h-0.8zM97.1 234.2h0.8v0.8h-0.8zM255.2 134.1h0.8v0.8h-0.8zM106.2 83.8h0.8v0.8h-0.8zM131.1 84.4h0.8v0.8h-0.8zM170.8 191.6h0.8v0.8h-0.8zM131.2 79.4h0.8v0.8h-0.8zM229.5 76.5h0.8v0.8h-0.8zM121.4 128.3h0.8v0.8h-0.8zM158.9 87.5h0.8v0.8h-0.8zM169.0 134.3h0.8v0.8h-0.8zM240.7 187.1h0.8v0.8h-0.8zM271.8 208.4h0.8v0.8h-0.8zM242.3 191.1h0.8v0.8h-0.8zM173.7 243.8h0.8v0.8h-0.8zM219.8 273.9h0.8v0.8h-0.8zM235.5 218.6h0.8v0.8h-0.8zM136.0 242.8h0.8v0.8h-0.8zM160.8 94.4h0.8v0.8h-0.8zM92.4 102.9h0.8v0.8h-0.8zM134.9 213.1h0.8v0.8h-0.8zM139.9 79.8h0.8v0.8h-0.8zM243.2 187.3h0.8v0.8h-0.8zM84.1 77.0h0.8v0.8h-0.8zM106.3 143.8h0.8v0.8h-0.8zM263.9 272.6h0.8v0.8h-0.8zM210.4 116.3h0.8v0.8h-0.8zM170.8 144.9h0.8v0.8h-0.8zM149.6 68.7h0.8v0.8h-0.8zM204.4 246.0h0.8v0.8h-0.8zM235.2 86.7h0.8v0.8h-0.8zM192.7 103.3h0.8v0.8h-0.8zM231.4 163.1h0.8v0.8h-0.8zM280.9 239.0h0.8v0.8h-0.8zM103.7 135.0h0.8v0.8h-0.8zM275.8 166.4h0.8v0.8h-0.8zM172.0 162.1h0.8v0.8h-0.8zM244.0 269.8h0.8v0.8h-0.8zM193.2 277.1h0.8v0.8h-0.8zM206.9 88.5h0.8v0.8h-0.8zM254.1 157.3h0.8v0.8h-0.8zM89.5 278.9h0.8v0.8h-0.8zM85.3 191.6h0.8v0.8h-0.8zM182.3 258.0h0.8v0.8h-0.8zM163.0 112.9h0.8v0.8h-0.8zM138.0 109.8h0.8v0.8h-0.8zM199.7 143.7h0.8v0.8h-0.8zM240.4 118.6h0.8v0.8h-0.8zM154.2 120.0h0.8v0.8h-0.8zM290.4 248.9h0.8v0.8h-0.8zM261.8 200.6h0.8v0.8h-0.8zM164.8 97.1h0.8v0.8h-0.8zM257.8 172.7h0.8v0.8h-0.8zM86.4 102.9h0.8v0.8h-0.8zM99.5 222.2h0.8v0.8h-0.8zM272.6 109.4h0.8v0.8h-0.8zM250.4 136.5h0.8v0.8h-0.8zM225.7 253.9h0.8v0.8h-0.8zM212.8 240.2h0.8v0.8h-0.8zM159.5 68.2h0.8v0.8h-0.8zM188.7 193.7h0.8v0.8h-0.8zM118.1 150.7h0.8v0.8h-0.8zM146.7 71.9h0.8v0.8h-0.8zM145.6 149.3h0.8v0.8h-0.8zM181.0 219.1h0.8v0.8h-0.8zM164.4 279.9h0.8v0.8h-0.8zM254.4 267.1h0.8v0.8h-0.8zM227.8 211.9h0.8v0.8h-0.8zM194.1 239.9h0.8v0.8h-0.8zM156.6 195.2h0.8v0.8h-0.8zM225.0 179.7h0.8v0.8h-0.8zM139.6 82.9h0.8v0.8h-0.8zM97.1 143.5h0.8v0.8h-0.8zM203.6 231.4h0.8v0.8h-0.8zM232.5 132.8h0.8v0.8h-0.8zM278.9 125.8h0.8v0.8h-0.8zM232.9 81.7h0.8v0.8h-0.8zM240.9 211.8h0.8v0.8h-0.8zM284.9 261.3h0.8v0.8h-0.8zM226.7 248.5h0.8v0.8h-0.8zM237.7 199.0h0.8v0.8h-0.8zM123.3 178.5h0.8v0.8h-0.8zM271.8 118.0h0.8v0.8h-0.8zM288.7 184.4h0.8v0.8h-0.8zM163.2 66.6h0.8v0.8h-0.8zM162.5 104.8h0.8v0.8h-0.8zM219.3 261.8h0.8v0.8h-0.8zM274.8 199.6h0.8v0.8h-0.8zM161.7 89.7h0.8v0.8h-0.8zM227.0 186.5h0.8v0.8h-0.8zM232.7 147.4h0.8v0.8h-0.8zM269.7 112.3h0.8v0.8h-0.8zM144.2 124.3h0.8v0.8h-0.8zM212.6 261.3h0.8v0.8h-0.8zM114.4 203.8h0.8v0.8h-0.8zM243.8 114.9h0.8v0.8h-0.8zM91.7 189.2h0.8v0.8h-0.8zM257.5 257.3h0.8v0.8h-0.8zM235.5 156.7h0.8v0.8h-0.8zM170.1 181.1h0.8v0.8h-0.8zM273.6 131.8h0.8v0.8h-0.8zM138.8 197.8h0.8v0.8h-0.8zM287.0 106.8h0.8v0.8h-0.8zM84.8 91.2h0.8v0.8h-0.8zM199.7 197.4h0.8v0.8h-0.8zM117.9 107.4h0.8v0.8h-0.8zM206.6 206.7h0.8v0.8h-0.8zM227.3 224.7h0.8v0.8h-0.8zM91.5 171.5h0.8v0.8h-0.8zM258.5 274.4h0.8v0.8h-0.8zM147.0 251.1h0.8v0.8h-0.8zM217.6 267.7h0.8v0.8h-0.8zM127.7 217.7h0.8v0.8h-0.8zM259.8 169.8h0.8v0.8h-0.8zM100.0 108.1h0.8v0.8h-0.8zM112.0 86.2h0.8v0.8h-0.8zM111.0 200.0h0.8v0.8h-0.8zM100.9 231.0h0.8v0.8h-0.8zM237.2 243.7h0.8v0.8h-0.8zM251.8 221.2h0.8v0.8h-0.8zM277.8 274.3h0.8v0.8h-0.8zM213.2 276.1h0.8v0.8h-0.8zM100.5 88.4h0.8v0.8h-0.8zM92.1 110.9h0.8v0.8h-0.8zM159.1 165.9h0.8v0.8h-0.8zM225.2 227.7h0.8v0.8h-0.8zM96.3 153.8h0.8v0.8h-0.8zM195.6 147.7h0.8v0.8h-0.8zM103.6 196.0h0.8v0.8h-0.8zM159.1 214.8h0.8v0.8h-0.8zM185.2 275.6h0.8v0.8h-0.8zM282.3 81.7h0.8v0.8h-0.8zM242.3 223.0h0.8v0.8h-0.8zM142.1 91.4h0.8v0.8h-0.8zM181.7 143.1h0.8v0.8h-0.8zM237.5 265.9h0.8v0.8h-0.8zM160.7 129.3h0.8v0.8h-0.8zM185.9 217.7h0.8v0.8h-0.8zM248.6 191.3h0.8v0.8h-0.8zM142.1 139.4h0.8v0.8h-0.8zM261.4 179.0h0.8v0.8h-0.8zM89.1 157.6h0.8v0.8h-0.8zM129.6 211.0h0.8v0.8h-0.8zM94.0 125.0h0.8v0.8h-0.8zM98.9 170.0h0.8v0.8h-0.8zM290.9 183.9h0.8v0.8h-0.8zM161.6 269.3h0.8v0.8h-0.8zM98.0 143.5h0.8v0.8h-0.8zM253.3 67.1h0.8v0.8h-0.8zM243.6 144.6h0.8v0.8h-0.8zM81.7 120.6h0.8v0.8h-0.8zM177.2 149.3h0.8v0.8h-0.8zM189.8 77.6h0.8v0.8h-0.8zM125.4 278.1h0.8v0.8h-0.8zM173.8 168.7h0.8v0.8h-0.8zM96.6 126.8h0.8v0.8h-0.8zM284.4 215.6h0.8v0.8h-0.8zM187.9 77.5h0.8v0.8h-0.8zM163.0 235.5h0.8v0.8h-0.8zM172.1 195.2h0.8v0.8h-0.8zM273.1 206.4h0.8v0.8h-0.8zM215.5 73.8h0.8v0.8h-0.8zM83.3 233.5h0.8v0.8h-0.8zM167.5 256.3h0.8v0.8h-0.8zM256.5 265.3h0.8v0.8h-0.8zM160.0 283.5h0.8v0.8h-0.8zM241.5 260.1h0.8v0.8h-0.8zM110.2 236.0h0.8v0.8h-0.8zM169.4 277.6h0.8v0.8h-0.8zM292.9 113.2h0.8v0.8h-0.8zM169.2 125.0h0.8v0.8h-0.8zM179.7 128.4h0.8v0.8h-0.8zM222.2 92.9h0.8v0.8h-0.8zM114.8 165.6h0.8v0.8h-0.8zM94.2 149.0h0.8v0.8h-0.8zM272.0 258.7h0.8v0.8h-0.8zM120.7 70.0h0.8v0.8h-0.8zM257.1 275.2h0.8v0.8h-0.8zM207.6 95.7h0.8v0.8h-0.8zM129.3 266.3h0.8v0.8h-0.8zM280.7 72.8h0.8v0.8h-0.8zM118.1 159.4h0.8v0.8h-0.8zM135.8 230.1h0.8v0.8h-0.8zM158.8 234.8h0.8v0.8h-0.8zM111.0 178.8h0.8v0.8h-0.8zM288.8 218.8h0.8v0.8h-0.8zM97.7 90.2h0.8v0.8h-0.8zM217.2 147.6h0.8v0.8h-0.8zM157.8 170.0h0.8v0.8h-0.8zM203.8 276.3h0.8v0.8h-0.8zM130.2 189.8h0.8v0.8h-0.8zM135.0 184.7h0.8v0.8h-0.8zM236.2 95.1h0.8v0.8h-0.8zM182.1 219.6h0.8v0.8h-0.8zM80.0 233.9h0.8v0.8h-0.8zM168.7 175.8h0.8v0.8h-0.8zM210.1 238.6h0.8v0.8h-0.8zM90.3 175.0h0.8v0.8h-0.8zM86.5 149.9h0.8v0.8h-0.8zM152.9 70.7h0.8v0.8h-0.8zM142.5 164.0h0.8v0.8h-0.8zM219.7 267.3h0.8v0.8h-0.8zM158.2 181.4h0.8v0.8h-0.8zM232.2 270.0h0.8v0.8h-0.8zM283.3 281.1h0.8v0.8h-0.8zM143.4 102.3h0.8v0.8h-0.8zM279.5 82.8h0.8v0.8h-0.8zM175.1 226.3h0.8v0.8h-0.8zM192.4 150.6h0.8v0.8h-0.8zM277.9 131.1h0.8v0.8h-0.8zM197.4 246.6h0.8v0.8h-0.8zM108.0 142.4h0.8v0.8h-0.8zM185.0 189.2h0.8v0.8h-0.8zM123.0 164.8h0.8v0.8h-0.8zM91.1 85.1h0.8v0.8h-0.8zM152.1 97.3h0.8v0.8h-0.8zM287.2 123.3h0.8v0.8h-0.8zM137.8 236.6h0.8v0.8h-0.8zM238.3 123.1h0.8v0.8h-0.8zM257.3 202.2h0.8v0.8h-0.8zM162.1 202.9h0.8v0.8h-0.8zM131.3 123.3h0.8v0.8h-0.8zM267.5 161.5h0.8v0.8h-0.8zM272.0 104.5h0.8v0.8h-0.8zM107.9 77.3h0.8v0.8h-0.8zM238.0 188.2h0.8v0.8h-0.8zM80.3 75.4h0.8v0.8h-0.8zM256.2 173.6h0.8v0.8h-0.8zM266.4 74.7h0.8v0.8h-0.8zM205.4 91.6h0.8v0.8h-0.8zM234.0 199.1h0.8v0.8h-0.8zM210.4 114.2h0.8v0.8h-0.8zM283.2 90.2h0.8v0.8h-0.8zM92.0 214.9h0.8v0.8h-0.8zM98.2 80.5h0.8v0.8h-0.8zM177.6 207.3h0.8v0.8h-0.8zM270.9 222.9h0.8v0.8h-0.8zM93.2 206.0h0.8v0.8h-0.8zM260.4 92.2h0.8v0.8h-0.8zM241.2 122.3h0.8v0.8h-0.8zM142.7 66.3h0.8v0.8h-0.8zM242.0 178.3h0.8v0.8h-0.8zM273.0 167.3h0.8v0.8h-0.8zM111.8 113.1h0.8v0.8h-0.8zM135.1 272.1h0.8v0.8h-0.8zM122.5 85.2h0.8v0.8h-0.8zM154.4 83.2h0.8v0.8h-0.8zM170.0 201.3h0.8v0.8h-0.8zM218.7 104.1h0.8v0.8h-0.8zM108.2 172.9h0.8v0.8h-0.8zM226.6 163.3h0.8v0.8h-0.8zM202.0 264.6h0.8v0.8h-0.8zM109.5 124.3h0.8v0.8h-0.8zM184.9 182.7h0.8v0.8h-0.8zM272.6 186.9h0.8v0.8h-0.8zM221.3 157.3h0.8v0.8h-0.8zM247.6 248.0h0.8v0.8h-0.8zM141.6 89.5h0.8v0.8h-0.8zM134.2 143.8h0.8v0.8h-0.8zM270.4 123.6h0.8v0.8h-0.8zM214.1 205.5h0.8v0.8h-0.8zM284.7 91.4h0.8v0.8h-0.8zM244.5 139.2h0.8v0.8h-0.8zM100.4 203.6h0.8v0.8h-0.8zM260.6 192.8h0.8v0.8h-0.8zM89.0 277.6h0.8v0.8h-0.8zM161.2 204.5h0.8v0.8h-0.8zM234.6 122.7h0.8v0.8h-0.8zM166.4 137.7h0.8v0.8h-0.8zM98.9 80.0h0.8v0.8h-0.8zM233.0 155.4h0.8v0.8h-0.8zM266.1 79.7h0.8v0.8h-0.8zM143.3 105.2h0.8v0.8h-0.8zM282.0 238.1h0.8v0.8h-0.8zM271.8 176.2h0.8v0.8h-0.8zM100.7 156.6h0.8v0.8h-0.8zM127.1 71.9h0.8v0.8h-0.8zM200.2 129.1h0.8v0.8h-0.8zM101.5 177.4h0.8v0.8h-0.8zM279.8 271.9h0.8v0.8h-0.8zM178.9 88.4h0.8v0.8h-0.8zM244.2 91.0h0.8v0.8h-0.8zM194.3 84.2h0.8v0.8h-0.8zM291.4 184.2h0.8v0.8h-0.8zM172.7 125.3h0.8v0.8h-0.8zM197.2 277.8h0.8v0.8h-0.8zM170.6 111.6h0.8v0.8h-0.8zM189.4 265.9h0.8v0.8h-0.8zM160.7 204.0h0.8v0.8h-0.8zM276.6 136.9h0.8v0.8h-0.8zM253.4 181.2h0.8v0.8h-0.8zM108.3 77.7h0.8v0.8h-0.8zM281.0 167.4h0.8v0.8h-0.8zM173.9 265.8h0.8v0.8h-0.8zM202.2 174.9h0.8v0.8h-0.8zM139.6 228.0h0.8v0.8h-0.8zM133.5 168.4h0.8v0.8h-0.8zM242.0 197.7h0.8v0.8h-0.8zM107.2 110.1h0.8v0.8h-0.8zM228.3 224.7h0.8v0.8h-0.8zM100.4 283.2h0.8v0.8h-0.8zM107.0 102.5h0.8v0.8h-0.8zM97.6 163.2h0.8v0.8h-0.8zM212.0 252.6h0.8v0.8h-0.8zM113.4 218.1h0.8v0.8h-0.8zM100.9 192.3h0.8v0.8h-0.8zM132.6 143.6h0.8v0.8h-0.8zM89.5 222.9h0.8v0.8h-0.8zM104.6 232.4h0.8v0.8h-0.8zM150.9 194.8h0.8v0.8h-0.8zM216.2 172.4h0.8v0.8h-0.8zM266.9 266.2h0.8v0.8h-0.8zM139.1 138.7h0.8v0.8h-0.8zM267.6 94.9h0.8v0.8h-0.8zM168.9 156.3h0.8v0.8h-0.8zM289.1 93.9h0.8v0.8h-0.8zM219.7 230.8h0.8v0.8h-0.8zM235.5 66.2h0.8v0.8h-0.8zM282.0 134.0h0.8v0.8h-0.8zM262.5 210.0h0.8v0.8h-0.8zM169.1 248.4h0.8v0.8h-0.8zM224.2 140.0h0.8v0.8h-0.8zM236.3 176.0h0.8v0.8h-0.8zM231.9 199.7h0.8v0.8h-0.8zM250.1 100.7h0.8v0.8h-0.8zM185.0 66.3h0.8v0.8h-0.8zM249.0 234.0h0.8v0.8h-0.8zM259.0 75.4h0.8v0.8h-0.8zM193.8 170.2h0.8v0.8h-0.8zM104.0 110.1h0.8v0.8h-0.8zM288.7 251.6h0.8v0.8h-0.8zM129.6 246.5h0.8v0.8h-0.8zM218.8 149.8h0.8v0.8h-0.8zM217.5 115.9h0.8v0.8h-0.8zM137.3 68.2h0.8v0.8h-0.8zM220.0 192.6h0.8v0.8h-0.8zM238.8 175.7h0.8v0.8h-0.8zM172.1 132.7h0.8v0.8h-0.8zM237.0 147.2h0.8v0.8h-0.8zM207.1 230.9h0.8v0.8h-0.8zM174.2 215.4h0.8v0.8h-0.8zM91.5 122.7h0.8v0.8h-0.8zM259.8 98.1h0.8v0.8h-0.8zM90.5 69.2h0.8v0.8h-0.8zM243.7 89.1h0.8v0.8h-0.8zM177.1 161.4h0.8v0.8h-0.8zM251.6 169.8h0.8v0.8h-0.8zM190.9 71.4h0.8v0.8h-0.8zM250.0 233.1h0.8v0.8h-0.8zM212.9 247.7h0.8v0.8h-0.8zM210.8 221.9h0.8v0.8h-0.8zM262.0 200.4h0.8v0.8h-0.8zM82.6 258.6h0.8v0.8h-0.8zM291.9 109.8h0.8v0.8h-0.8zM92.5 140.0h0.8v0.8h-0.8zM99.8 146.4h0.8v0.8h-0.8zM97.5 113.9h0.8v0.8h-0.8zM78.9 159.3h0.8v0.8h-0.8zM143.0 224.7h0.8v0.8h-0.8zM162.2 102.1h0.8v0.8h-0.8zM284.1 260.7h0.8v0.8h-0.8zM227.1 113.2h0.8v0.8h-0.8zM165.2 164.2h0.8v0.8h-0.8zM166.5 71.7h0.8v0.8h-0.8zM176.6 233.1h0.8v0.8h-0.8zM228.0 253.3h0.8v0.8h-0.8zM225.7 232.0h0.8v0.8h-0.8zM266.3 265.7h0.8v0.8h-0.8z" fill="#000" fill-opacity="0.8"/>
<path d="M249.5 156.6h0.7v0.7h-0.7zM220.8 209.4h0.7v0.7h-0.7zM268.9 221.4h0.7v0.7h-0.7zM174.0 107.6h0.7v0.7h-0.7zM149.0 120.6h0.7v0.7h-0.7zM225.5 233.5h0.7v0.7h-0.7zM119.7 182.2h0.7v0.7h-0.7zM259.7 145.6h0.7v0.7h-0.7zM98.7 197.9h0.7v0.7h-0.7zM156.5 97.4h0.7v0.7h-0.7zM140.5 67.5h0.7v0.7h-0.7zM110.4 158.6h0.7v0.7h-0.7zM100.9 67.4h0.7v0.7h-0.7zM197.0 274.6h0.7v0.7h-0.7zM258.4 137.1h0.7v0.7h-0.7zM277.9 83.4h0.7v0.7h-0.7zM110.7 67.5h0.7v0.7h-0.7zM90.9 197.1h0.7v0.7h-0.7zM241.8 170.0h0.7v0.7h-0.7zM251.8 164.3h0.7v0.7h-0.7zM276.7 198.4h0.7v0.7h-0.7zM194.2 103.2h0.7v0.7h-0.7zM170.4 161.9h0.7v0.7h-0.7zM256.0 116.0h0.7v0.7h-0.7zM141.9 243.8h0.7v0.7h-0.7zM93.6 182.9h0.7v0.7h-0.7zM125.7 210.9h0.7v0.7h-0.7zM206.6 86.6h0.7v0.7h-0.7zM236.0 154.7h0.7v0.7h-0.7zM147.5 252.5h0.7v0.7h-0.7zM246.5 133.4h0.7v0.7h-0.7zM224.6 92.9h0.7v0.7h-0.7zM190.3 84.0h0.7v0.7h-0.7zM216.7 265.5h0.7v0.7h-0.7zM215.7 74.9h0.7v0.7h-0.7zM189.1 168.3h0.7v0.7h-0.7zM173.9 99.0h0.7v0.7h-0.7zM138.3 163.9h0.7v0.7h-0.7zM93.6 212.9h0.7v0.7h-0.7zM130.9 129.2h0.7v0.7h-0.7zM97.9 131.9h0.7v0.7h-0.7zM279.4 129.6h0.7v0.7h-0.7zM99.0 141.3h0.7v0.7h-0.7zM282.4 85.2h0.7v0.7h-0.7zM152.2 111.6h0.7v0.7h-0.7zM225.5 166.5h0.7v0.7h-0.7zM99.5 253.8h0.7v0.7h-0.7zM149.1 215.4h0.7v0.7h-0.7zM176.1 255.8h0.7v0.7h-0.7zM90.8 115.7h0.7v0.7h-0.7zM139.9 123.6h0.7v0.7h-0.7zM255.8 175.4h0.7v0.7h-0.7zM153.1 176.4h0.7v0.7h-0.7zM260.9 190.1h0.7v0.7h-0.7zM175.8 209.0h0.7v0.7h-0.7zM211.1 154.3h0.7v0.7h-0.7zM170.3 94.7h0.7v0.7h-0.7zM173.1 257.4h0.7v0.7h-0.7zM144.3 145.6h0.7v0.7h-0.7zM208.6 194.6h0.7v0.7h-0.7zM116.1 163.1h0.7v0.7h-0.7zM236.8 75.1h0.7v0.7h-0.7zM101.7 230.5h0.7v0.7h-0.7zM273.8 80.7h0.7v0.7h-0.7zM95.8 202.5h0.7v0.7h-0.7zM139.7 209.0h0.7v0.7h-0.7zM85.6 165.4h0.7v0.7h-0.7zM113.2 138.4h0.7v0.7h-0.7zM228.1 177.1h0.7v0.7h-0.7zM262.6 249.3h0.7v0.7h-0.7zM212.0 250.6h0.7v0.7h-0.7zM116.6 169.3h0.7v0.7h-0.7zM147.3 202.1h0.7v0.7h-0.7zM102.3 258.8h0.7v0.7h-0.7zM158.3 236.7h0.7v0.7h-0.7zM281.9 270.7h0.7v0.7h-0.7zM162.5 252.6h0.7v0.7h-0.7zM293.6 94.4h0.7v0.7h-0.7zM239.7 224.4h0.7v0.7h-0.7zM177.1 126.5h0.7v0.7h-0.7zM115.7 155.7h0.7v0.7h-0.7zM279.5 153.6h0.7v0.7h-0.7zM133.4 200.9h0.7v0.7h-0.7zM172.7 199.6h0.7v0.7h-0.7zM176.4 128.4h0.7v0.7h-0.7zM85.9 244.2h0.7v0.7h-0.7zM220.6 119.1h0.7v0.7h-0.7zM186.1 192.5h0.7v0.7h-0.7zM187.0 262.2h0.7v0.7h-0.7zM246.4 132.8h0.7v0.7h-0.7zM151.4 199.2h0.7v0.7h-0.7zM113.3 269.4h0.7v0.7h-0.7zM88.1 174.8h0.7v0.7h-0.7zM137.3 180.6h0.7v0.7h-0.7zM88.1 114.9h0.7v0.7h-0.7zM291.9 237.6h0.7v0.7h-0.7zM126.0 165.3h0.7v0.7h-0.7zM85.3 92.6h0.7v0.7h-0.7zM119.7 280.3h0.7v0.7h-0.7zM145.6 120.0h0.7v0.7h-0.7zM92.4 90.0h0.7v0.7h-0.7zM293.2 227.2h0.7v0.7h-0.7zM277.0 248.0h0.7v0.7h-0.7zM247.3 121.6h0.7v0.7h-0.7zM114.8 124.8h0.7v0.7h-0.7zM92.4 104.2h0.7v0.7h-0.7zM233.7 172.9h0.7v0.7h-0.7zM80.5 132.4h0.7v0.7h-0.7zM261.8 251.3h0.7v0.7h-0.7zM235.8 225.3h0.7v0.7h-0.7zM275.2 187.3h0.7v0.7h-0.7zM161.0 190.8h0.7v0.7h-0.7zM139.3 74.0h0.7v0.7h-0.7zM134.4 165.7h0.7v0.7h-0.7zM104.2 83.6h0.7v0.7h-0.7zM131.7 146.2h0.7v0.7h-0.7zM285.0 172.1h0.7v0.7h-0.7zM259.0 228.1h0.7v0.7h-0.7zM206.2 136.2h0.7v0.7h-0.7zM163.1 135.1h0.7v0.7h-0.7zM215.3 252.2h0.7v0.7h-0.7zM249.0 130.3h0.7v0.7h-0.7zM110.6 68.0h0.7v0.7h-0.7zM204.5 115.7h0.7v0.7h-0.7zM79.4 131.8h0.7v0.7h-0.7zM127.6 110.7h0.7v0.7h-0.7zM221.8 193.3h0.7v0.7h-0.7zM139.1 225.1h0.7v0.7h-0.7zM122.8 266.6h0.7v0.7h-0.7zM103.9 194.9h0.7v0.7h-0.7zM230.5 225.5h0.7v0.7h-0.7zM183.5 255.8h0.7v0.7h-0.7zM214.1 216.4h0.7v0.7h-0.7zM95.3 106.7h0.7v0.7h-0.7zM178.9 184.8h0.7v0.7h-0.7zM98.8 227.5h0.7v0.7h-0.7zM153.1 169.5h0.7v0.7h-0.7zM191.0 248.7h0.7v0.7h-0.7zM143.5 187.9h0.7v0.7h-0.7zM209.0 208.7h0.7v0.7h-0.7zM145.7 126.8h0.7v0.7h-0.7zM179.9 196.9h0.7v0.7h-0.7zM217.5 95.2h0.7v0.7h-0.7zM174.6 188.0h0.7v0.7h-0.7zM120.3 88.3h0.7v0.7h-0.7zM278.9 70.6h0.7v0.7h-0.7zM186.0 130.2h0.7v0.7h-0.7zM85.0 124.8h0.7v0.7h-0.7zM113.1 153.2h0.7v0.7h-0.7zM274.8 83.3h0.7v0.7h-0.7zM154.2 217.3h0.7v0.7h-0.7zM213.2 70.6h0.7v0.7h-0.7zM127.7 127.2h0.7v0.7h-0.7zM271.6 162.3h0.7v0.7h-0.7zM133.9 170.6h0.7v0.7h-0.7zM183.0 98.6h0.7v0.7h-0.7zM222.3 223.0h0.7v0.7h-0.7zM181.3 183.0h0.7v0.7h-0.7zM244.7 274.2h0.7v0.7h-0.7zM210.6 75.7h0.7v0.7h-0.7zM187.4 210.2h0.7v0.7h-0.7zM149.7 215.0h0.7v0.7h-0.7zM157.7 200.2h0.7v0.7h-0.7zM210.9 211.9h0.7v0.7h-0.7zM278.2 220.1h0.7v0.7h-0.7zM231.5 219.4h0.7v0.7h-0.7zM128.1 199.7h0.7v0.7h-0.7zM212.3 79.3h0.7v0.7h-0.7zM241.2 115.4h0.7v0.7h-0.7zM184.5 180.1h0.7v0.7h-0.7zM234.2 232.6h0.7v0.7h-0.7zM179.4 270.6h0.7v0.7h-0.7zM173.9 189.4h0.7v0.7h-0.7zM292.4 136.5h0.7v0.7h-0.7zM232.5 274.2h0.7v0.7h-0.7zM96.5 235.2h0.7v0.7h-0.7zM219.1 183.5h0.7v0.7h-0.7zM248.8 253.3h0.7v0.7h-0.7zM109.9 172.0h0.7v0.7h-0.7zM211.2 218.2h0.7v0.7h-0.7zM285.3 240.8h0.7v0.7h-0.7zM257.2 80.1h0.7v0.7h-0.7zM170.3 264.9h0.7v0.7h-0.7zM282.6 230.6h0.7v0.7h-0.7zM150.3 233.6h0.7v0.7h-0.7zM193.1 211.4h0.7v0.7h-0.7zM215.9 254.4h0.7v0.7h-0.7zM232.5 277.3h0.7v0.7h-0.7zM184.9 173.5h0.7v0.7h-0.7zM220.3 188.4h0.7v0.7h-0.7zM88.9 274.9h0.7v0.7h-0.7zM147.1 174.8h0.7v0.7h-0.7zM87.4 107.5h0.7v0.7h-0.7zM278.9 126.4h0.7v0.7h-0.7zM142.7 242.8h0.7v0.7h-0.7zM130.4 211.4h0.7v0.7h-0.7zM201.0 261.2h0.7v0.7h-0.7zM181.2 137.6h0.7v0.7h-0.7zM134.2 145.3h0.7v0.7h-0.7zM78.3 92.1h0.7v0.7h-0.7zM110.4 134.5h0.7v0.7h-0.7zM244.2 271.1h0.7v0.7h-0.7zM154.8 120.4h0.7v0.7h-0.7zM141.6 203.0h0.7v0.7h-0.7zM181.7 91.6h0.7v0.7h-0.7zM191.4 124.6h0.7v0.7h-0.7zM109.4 237.0h0.7v0.7h-0.7zM101.0 161.7h0.7v0.7h-0.7zM243.7 184.2h0.7v0.7h-0.7zM266.9 135.1h0.7v0.7h-0.7zM282.7 75.5h0.7v0.7h-0.7zM271.6 158.4h0.7v0.7h-0.7zM78.9 122.5h0.7v0.7h-0.7zM291.8 222.0h0.7v0.7h-0.7zM237.5 242.6h0.7v0.7h-0.7zM79.6 132.9h0.7v0.7h-0.7zM178.8 264.0h0.7v0.7h-0.7zM274.4 98.6h0.7v0.7h-0.7zM291.5 186.7h0.7v0.7h-0.7zM144.1 84.1h0.7v0.7h-0.7zM170.4 179.4h0.7v0.7h-0.7zM176.2 133.6h0.7v0.7h-0.7zM283.0 169.5h0.7v0.7h-0.7zM144.7 235.3h0.7v0.7h-0.7zM131.0 158.1h0.7v0.7h-0.7zM100.7 117.9h0.7v0.7h-0.7zM293.6 201.3h0.7v0.7h-0.7zM191.4 212.6h0.7v0.7h-0.7zM223.4 179.5h0.7v0.7h-0.7zM157.5 98.1h0.7v0.7h-0.7zM84.6 92.4h0.7v0.7h-0.7zM165.8 68.3h0.7v0.7h-0.7zM224.0 139.5h0.7v0.7h-0.7zM128.7 134.3h0.7v0.7h-0.7zM184.7 111.7h0.7v0.7h-0.7zM262.4 171.2h0.7v0.7h-0.7zM93.1 84.6h0.7v0.7h-0.7zM270.6 191.9h0.7v0.7h-0.7zM141.2 221.3h0.7v0.7h-0.7zM88.2 259.6h0.7v0.7h-0.7zM280.5 210.7h0.7v0.7h-0.7zM89.2 158.7h0.7v0.7h-0.7zM259.0 195.2h0.7v0.7h-0.7zM123.4 117.1h0.7v0.7h-0.7zM92.0 179.7h0.7v0.7h-0.7zM117.4 163.0h0.7v0.7h-0.7zM271.7 262.2h0.7v0.7h-0.7zM184.5 236.7h0.7v0.7h-0.7zM107.2 272.4h0.7v0.7h-0.7zM265.2 171.1h0.7v0.7h-0.7zM269.6 130.8h0.7v0.7h-0.7zM290.0 136.3h0.7v0.7h-0.7zM277.9 248.3h0.7v0.7h-0.7zM280.1 224.3h0.7v0.7h-0.7zM94.1 126.9h0.7v0.7h-0.7zM219.9 263.9h0.7v0.7h-0.7zM225.3 74.5h0.7v0.7h-0.7zM153.3 141.2h0.7v0.7h-0.7zM115.2 115.0h0.7v0.7h-0.7zM189.7 147.2h0.7v0.7h-0.7zM135.9 155.8h0.7v0.7h-0.7zM282.9 196.0h0.7v0.7h-0.7zM240.7 269.1h0.7v0.7h-0.7zM84.9 257.7h0.7v0.7h-0.7zM98.8 108.8h0.7v0.7h-0.7zM238.0 230.0h0.7v0.7h-0.7zM211.0 169.7h0.7v0.7h-0.7zM234.2 159.2h0.7v0.7h-0.7zM120.2 113.8h0.7v0.7h-0.7zM102.6 74.0h0.7v0.7h-0.7zM283.9 272.9h0.7v0.7h-0.7zM153.5 155.9h0.7v0.7h-0.7zM138.5 236.1h0.7v0.7h-0.7zM184.6 103.2h0.7v0.7h-0.7zM269.2 268.2h0.7v0.7h-0.7zM88.3 166.0h0.7v0.7h-0.7zM126.0 205.2h0.7v0.7h-0.7zM155.7 130.9h0.7v0.7h-0.7zM143.6 198.3h0.7v0.7h-0.7zM186.9 172.2h0.7v0.7h-0.7zM225.3 169.1h0.7v0.7h-0.7zM282.8 161.5h0.7v0.7h-0.7zM249.3 268.6h0.7v0.7h-0.7zM212.5 194.4h0.7v0.7h-0.7zM248.8 221.0h0.7v0.7h-0.7zM120.0 156.8h0.7v0.7h-0.7zM112.1 70.6h0.7v0.7h-0.7zM226.7 137.6h0.7v0.7h-0.7zM133.3 71.7h0.7v0.7h-0.7zM83.1 212.3h0.7v0.7h-0.7zM155.6 161.0h0.7v0.7h-0.7zM224.2 263.6h0.7v0.7h-0.7zM229.7 113.8h0.7v0.7h-0.7zM291.9 106.0h0.7v0.7h-0.7zM203.7 206.2h0.7v0.7h-0.7zM140.3 259.6h0.7v0.7h-0.7zM210.0 220.6h0.7v0.7h-0.7zM108.2 247.2h0.7v0.7h-0.7zM140.3 200.6h0.7v0.7h-0.7zM237.4 136.2h0.7v0.7h-0.7zM135.5 138.0h0.7v0.7h-0.7zM289.5 209.2h0.7v0.7h-0.7zM180.0 188.4h0.7v0.7h-0.7zM219.9 123.1h0.7v0.7h-0.7zM94.6 89.8h0.7v0.7h-0.7zM204.0 196.4h0.7v0.7h-0.7zM289.5 201.2h0.7v0.7h-0.7zM262.5 280.9h0.7v0.7h-0.7zM185.5 157.9h0.7v0.7h-0.7zM180.0 147.0h0.7v0.7h-0.7zM242.4 191.3h0.7v0.7h-0.7zM104.7 274.0h0.7v0.7h-0.7zM192.0 229.0h0.7v0.7h-0.7zM196.5 194.2h0.7v0.7h-0.7zM202.7 91.0h0.7v0.7h-0.7zM106.5 225.2h0.7v0.7h-0.7zM153.8 94.1h0.7v0.7h-0.7zM254.4 228.9h0.7v0.7h-0.7zM243.2 150.3h0.7v0.7h-0.7zM106.7 231.4h0.7v0.7h-0.7zM124.8 211.5h0.7v0.7h-0.7zM228.7 125.6h0.7v0.7h-0.7zM78.7 194.6h0.7v0.7h-0.7zM249.0 194.1h0.7v0.7h-0.7zM290.9 115.8h0.7v0.7h-0.7zM236.2 160.8h0.7v0.7h-0.7zM203.6 131.8h0.7v0.7h-0.7zM128.0 185.4h0.7v0.7h-0.7zM209.5 264.1h0.7v0.7h-0.7zM208.7 174.8h0.7v0.7h-0.7zM218.8 202.8h0.7v0.7h-0.7zM166.4 124.1h0.7v0.7h-0.7zM225.6 150.3h0.7v0.7h-0.7zM86.3 103.1h0.7v0.7h-0.7zM155.8 215.5h0.7v0.7h-0.7zM220.0 172.8h0.7v0.7h-0.7zM254.6 137.1h0.7v0.7h-0.7zM154.1 229.6h0.7v0.7h-0.7zM225.0 158.8h0.7v0.7h-0.7zM270.4 71.8h0.7v0.7h-0.7zM194.1 252.9h0.7v0.7h-0.7zM268.1 108.1h0.7v0.7h-0.7zM252.6 182.1h0.7v0.7h-0.7zM280.3 137.5h0.7v0.7h-0.7zM221.8 205.8h0.7v0.7h-0.7zM292.2 139.9h0.7v0.7h-0.7zM162.4 93.2h0.7v0.7h-0.7zM225.9 81.4h0.7v0.7h-0.7zM261.7 97.9h0.7v0.7h-0.7zM119.4 272.9h0.7v0.7h-0.7zM185.9 230.4h0.7v0.7h-0.7zM152.9 118.8h0.7v0.7h-0.7zM157.9 280.0h0.7v0.7h-0.7zM119.7 263.0h0.7v0.7h-0.7zM269.0 214.2h0.7v0.7h-0.7zM135.6 225.1h0.7v0.7h-0.7zM273.7 195.1h0.7v0.7h-0.7zM125.8 198.8h0.7v0.7h-0.7zM284.9 194.7h0.7v0.7h-0.7zM110.5 110.1h0.7v0.7h-0.7zM214.4 76.5h0.7v0.7h-0.7zM78.5 147.5h0.7v0.7h-0.7zM133.9 173.5h0.7v0.7h-0.7zM94.1 187.9h0.7v0.7h-0.7zM224.2 135.1h0.7v0.7h-0.7zM203.9 180.8h0.7v0.7h-0.7zM248.7 191.5h0.7v0.7h-0.7zM216.1 188.8h0.7v0.7h-0.7zM256.0 87.1h0.7v0.7h-0.7zM102.9 254.5h0.7v0.7h-0.7zM258.4 67.8h0.7v0.7h-0.7zM271.4 198.6h0.7v0.7h-0.7zM263.2 218.7h0.7v0.7h-0.7zM159.5 90.8h0.7v0.7h-0.7zM243.4 220.6h0.7v0.7h-0.7zM179.8 125.0h0.7v0.7h-0.7zM156.9 269.8h0.7v0.7h-0.7zM178.3 111.8h0.7v0.7h-0.7zM291.3 279.0h0.7v0.7h-0.7zM116.4 108.9h0.7v0.7h-0.7zM235.9 150.3h0.7v0.7h-0.7zM180.6 214.9h0.7v0.7h-0.7zM137.3 195.4h0.7v0.7h-0.7zM122.3 114.2h0.7v0.7h-0.7zM196.1 159.2h0.7v0.7h-0.7zM271.5 97.2h0.7v0.7h-0.7zM276.2 123.1h0.7v0.7h-0.7zM152.3 89.2h0.7v0.7h-0.7zM146.5 279.6h0.7v0.7h-0.7zM156.5 248.0h0.7v0.7h-0.7zM289.2 217.5h0.7v0.7h-0.7zM118.1 160.0h0.7v0.7h-0.7zM114.3 120.4h0.7v0.7h-0.7zM150.6 102.2h0.7v0.7h-0.7zM225.1 179.9h0.7v0.7h-0.7zM141.1 121.5h0.7v0.7h-0.7zM109.0 90.9h0.7v0.7h-0.7zM173.0 82.4h0.7v0.7h-0.7zM191.1 121.6h0.7v0.7h-0.7zM245.0 124.2h0.7v0.7h-0.7zM263.2 271.9h0.7v0.7h-0.7zM279.0 115.6h0.7v0.7h-0.7zM278.9 168.8h0.7v0.7h-0.7zM269.3 167.1h0.7v0.7h-0.7zM195.1 122.4h0.7v0.7h-0.7zM241.9 146.1h0.7v0.7h-0.7zM269.2 220.1h0.7v0.7h-0.7zM170.9 72.8h0.7v0.7h-0.7zM136.3 156.9h0.7v0.7h-0.7zM158.2 192.9h0.7v0.7h-0.7zM79.4 167.8h0.7v0.7h-0.7zM271.0 273.5h0.7v0.7h-0.7zM227.0 215.5h0.7v0.7h-0.7zM208.5 283.6h0.7v0.7h-0.7zM248.9 166.2h0.7v0.7h-0.7zM185.3 270.6h0.7v0.7h-0.7zM197.4 196.3h0.7v0.7h-0.7zM144.7 210.7h0.7v0.7h-0.7zM183.8 271.4h0.7v0.7h-0.7zM294.2 282.9h0.7v0.7h-0.7zM283.6 75.5h0.7v0.7h-0.7zM94.0 139.9h0.7v0.7h-0.7zM256.8 187.6h0.7v0.7h-0.7zM133.7 88.0h0.7v0.7h-0.7zM132.3 93.8h0.7v0.7h-0.7zM109.3 228.2h0.7v0.7h-0.7zM120.0 102.4h0.7v0.7h-0.7zM212.1 94.5h0.7v0.7h-0.7zM258.3 207.6h0.7v0.7h-0.7zM267.8 224.1h0.7v0.7h-0.7zM236.1 124.3h0.7v0.7h-0.7zM169.6 148.7h0.7v0.7h-0.7zM162.9 264.7h0.7v0.7h-0.7zM172.4 240.0h0.7v0.7h-0.7zM214.5 84.1h0.7v0.7h-0.7zM123.7 191.8h0.7v0.7h-0.7zM248.8 116.8h0.7v0.7h-0.7zM132.2 148.1h0.7v0.7h-0.7zM177.4 157.5h0.7v0.7h-0.7zM278.0 198.4h0.7v0.7h-0.7zM138.3 141.0h0.7v0.7h-0.7zM187.9 101.0h0.7v0.7h-0.7zM162.9 80.2h0.7v0.7h-0.7zM220.0 254.8h0.7v0.7h-0.7zM272.4 196.1h0.7v0.7h-0.7zM161.3 188.0h0.7v0.7h-0.7zM198.2 104.5h0.7v0.7h-0.7zM195.0 174.3h0.7v0.7h-0.7zM120.9 162.4h0.7v0.7h-0.7zM258.9 205.7h0.7v0.7h-0.7zM149.3 118.0h0.7v0.7h-0.7zM214.4 186.4h0.7v0.7h-0.7zM142.6 168.6h0.7v0.7h-0.7zM166.1 202.6h0.7v0.7h-0.7zM268.0 147.2h0.7v0.7h-0.7zM194.5 188.4h0.7v0.7h-0.7zM222.4 119.1h0.7v0.7h-0.7zM131.6 266.9h0.7v0.7h-0.7zM109.7 214.3h0.7v0.7h-0.7zM134.4 173.0h0.7v0.7h-0.7zM175.7 118.1h0.7v0.7h-0.7zM116.3 274.5h0.7v0.7h-0.7zM86.6 97.1h0.7v0.7h-0.7zM237.8 146.9h0.7v0.7h-0.7zM120.4 235.1h0.7v0.7h-0.7zM290.3 111.3h0.7v0.7h-0.7zM230.9 152.4h0.7v0.7h-0.7zM293.8 196.0h0.7v0.7h-0.7zM271.5 210.4h0.7v0.7h-0.7zM106.7 162.2h0.7v0.7h-0.7zM230.6 99.3h0.7v0.7h-0.7zM97.3 281.8h0.7v0.7h-0.7zM277.8 207.7h0.7v0.7h-0.7zM92.0 218.7h0.7v0.7h-0.7zM291.8 236.4h0.7v0.7h-0.7zM232.8 161.8h0.7v0.7h-0.7zM214.8 267.7h0.7v0.7h-0.7zM186.1 82.3h0.7v0.7h-0.7zM109.6 273.4h0.7v0.7h-0.7zM231.5 269.7h0.7v0.7h-0.7zM110.2 89.0h0.7v0.7h-0.7zM225.8 159.3h0.7v0.7h-0.7zM178.2 116.7h0.7v0.7h-0.7zM243.1 236.2h0.7v0.7h-0.7zM235.0 159.6h0.7v0.7h-0.7zM184.3 152.2h0.7v0.7h-0.7zM178.8 137.0h0.7v0.7h-0.7zM179.5 275.5h0.7v0.7h-0.7zM251.4 95.5h0.7v0.7h-0.7zM223.1 244.5h0.7v0.7h-0.7zM152.7 259.6h0.7v0.7h-0.7zM281.4 81.4h0.7v0.7h-0.7zM213.3 148.9h0.7v0.7h-0.7zM179.0 185.4h0.7v0.7h-0.7zM263.9 203.4h0.7v0.7h-0.7zM270.1 120.2h0.7v0.7h-0.7zM250.4 151.3h0.7v0.7h-0.7zM117.7 240.9h0.7v0.7h-0.7zM203.0 115.1h0.7v0.7h-0.7zM271.2 173.1h0.7v0.7h-0.7zM223.8 280.6h0.7v0.7h-0.7zM148.8 184.4h0.7v0.7h-0.7zM196.3 128.2h0.7v0.7h-0.7zM193.6 276.4h0.7v0.7h-0.7zM228.9 123.8h0.7v0.7h-0.7zM225.9 200.0h0.7v0.7h-0.7zM157.9 212.2h0.7v0.7h-0.7zM159.4 236.1h0.7v0.7h-0.7zM162.0 245.5h0.7v0.7h-0.7zM142.4 103.4h0.7v0.7h-0.7zM149.4 93.4h0.7v0.7h-0.7zM267.2 282.8h0.7v0.7h-0.7zM168.1 118.3h0.7v0.7h-0.7zM268.7 251.4h0.7v0.7h-0.7zM131.0 132.6h0.7v0.7h-0.7zM185.7 94.8h0.7v0.7h-0.7zM123.8 152.6h0.7v0.7h-0.7zM104.1 97.5h0.7v0.7h-0.7zM208.9 131.5h0.7v0.7h-0.7zM276.0 275.4h0.7v0.7h-0.7zM223.0 125.9h0.7v0.7h-0.7zM242.3 139.8h0.7v0.7h-0.7zM266.2 158.3h0.7v0.7h-0.7zM227.7 229.5h0.7v0.7h-0.7zM230.0 229.9h0.7v0.7h-0.7zM152.2 99.1h0.7v0.7h-0.7zM157.8 274.7h0.7v0.7h-0.7zM86.2 127.5h0.7v0.7h-0.7zM145.1 161.9h0.7v0.7h-0.7zM266.3 103.5h0.7v0.7h-0.7zM100.8 69.9h0.7v0.7h-0.7zM151.6 224.2h0.7v0.7h-0.7zM176.0 206.7h0.7v0.7h-0.7zM189.0 144.5h0.7v0.7h-0.7zM166.3 74.9h0.7v0.7h-0.7zM283.9 225.5h0.7v0.7h-0.7zM99.3 110.2h0.7v0.7h-0.7zM247.4 176.6h0.7v0.7h-0.7zM240.0 229.7h0.7v0.7h-0.7zM109.7 245.1h0.7v0.7h-0.7zM121.7 96.1h0.7v0.7h-0.7zM239.7 243.5h0.7v0.7h-0.7zM143.6 149.9h0.7v0.7h-0.7zM236.8 130.1h0.7v0.7h-0.7zM174.3 282.1h0.7v0.7h-0.7zM106.3 271.4h0.7v0.7h-0.7zM269.9 283.0h0.7v0.7h-0.7zM131.2 109.2h0.7v0.7h-0.7zM172.8 103.3h0.7v0.7h-0.7zM278.0 190.3h0.7v0.7h-0.7zM260.1 173.0h0.7v0.7h-0.7zM185.9 274.1h0.7v0.7h-0.7zM105.3 115.2h0.7v0.7h-0.7zM263.2 194.3h0.7v0.7h-0.7zM247.2 282.7h0.7v0.7h-0.7zM245.0 198.9h0.7v0.7h-0.7zM240.5 181.9h0.7v0.7h-0.7zM125.6 136.8h0.7v0.7h-0.7zM278.0 180.7h0.7v0.7h-0.7zM85.2 205.7h0.7v0.7h-0.7zM292.9 202.3h0.7v0.7h-0.7zM184.6 165.3h0.7v0.7h-0.7zM214.5 199.9h0.7v0.7h-0.7zM183.7 262.7h0.7v0.7h-0.7zM269.8 236.3h0.7v0.7h-0.7zM234.9 222.5h0.7v0.7h-0.7zM120.9 172.8h0.7v0.7h-0.7zM135.8 110.6h0.7v0.7h-0.7zM283.5 116.3h0.7v0.7h-0.7zM254.3 247.6h0.7v0.7h-0.7zM165.7 71.4h0.7v0.7h-0.7zM116.6 206.6h0.7v0.7h-0.7zM231.5 143.3h0.7v0.7h-0.7zM207.7 101.5h0.7v0.7h-0.7zM220.3 236.2h0.7v0.7h-0.7zM247.3 188.6h0.7v0.7h-0.7zM202.1 66.5h0.7v0.7h-0.7zM135.8 154.5h0.7v0.7h-0.7zM93.9 82.0h0.7v0.7h-0.7zM285.0 214.9h0.7v0.7h-0.7zM199.7 216.1h0.7v0.7h-0.7zM265.9 204.3h0.7v0.7h-0.7zM170.5 151.5h0.7v0.7h-0.7zM287.9 273.8h0.7v0.7h-0.7zM111.1 244.2h0.7v0.7h-0.7zM217.1 140.9h0.7v0.7h-0.7zM228.3 125.8h0.7v0.7h-0.7zM239.3 187.7h0.7v0.7h-0.7zM204.6 78.3h0.7v0.7h-0.7zM273.4 274.2h0.7v0.7h-0.7zM242.6 129.9h0.7v0.7h-0.7zM234.3 91.4h0.7v0.7h-0.7zM196.3 141.2h0.7v0.7h-0.7zM180.0 129.1h0.7v0.7h-0.7zM93.5 160.8h0.7v0.7h-0.7zM129.5 104.2h0.7v0.7h-0.7zM149.8 93.2h0.7v0.7h-0.7zM83.0 278.0h0.7v0.7h-0.7zM90.2 260.5h0.7v0.7h-0.7zM168.9 92.3h0.7v0.7h-0.7z" fill="#000" fill-opacity="0.33"/>
<path d="M170.7 176.3h1.1v1.1h-1.1zM90.1 184.0h1.1v1.1h-1.1zM79.6 130.9h1.1v1.1h-1.1zM231.6 249.7h1.1v1.1h-1.1zM116.5 154.4h1.1v1.1h-1.1zM282.7 134.4h1.1v1.1h-1.1zM103.5 119.6h1.1v1.1h-1.1zM265.0 140.9h1.1v1.1h-1.1zM221.8 270.0h1.1v1.1h-1.1zM212.3 108.9h1.1v1.1h-1.1zM181.9 136.7h1.1v1.1h-1.1zM181.6 199.8h1.1v1.1h-1.1zM288.9 215.8h1.1v1.1h-1.1zM187.9 242.4h1.1v1.1h-1.1zM187.6 107.9h1.1v1.1h-1.1zM222.8 124.7h1.1v1.1h-1.1zM123.9 150.5h1.1v1.1h-1.1zM182.8 72.9h1.1v1.1h-1.1zM156.0 275.1h1.1v1.1h-1.1zM188.2 146.0h1.1v1.1h-1.1zM176.7 217.9h1.1v1.1h-1.1zM186.7 154.0h1.1v1.1h-1.1zM203.5 125.8h1.1v1.1h-1.1zM225.5 158.1h1.1v1.1h-1.1zM230.4 141.6h1.1v1.1h-1.1zM216.0 108.6h1.1v1.1h-1.1zM182.8 173.0h1.1v1.1h-1.1zM81.3 93.4h1.1v1.1h-1.1zM177.5 232.4h1.1v1.1h-1.1zM253.3 249.6h1.1v1.1h-1.1zM252.2 276.3h1.1v1.1h-1.1zM120.3 98.7h1.1v1.1h-1.1zM108.0 238.4h1.1v1.1h-1.1zM119.0 134.8h1.1v1.1h-1.1zM108.0 263.7h1.1v1.1h-1.1zM123.3 117.1h1.1v1.1h-1.1zM206.4 218.9h1.1v1.1h-1.1zM86.4 192.1h1.1v1.1h-1.1zM192.5 186.5h1.1v1.1h-1.1zM189.4 239.5h1.1v1.1h-1.1zM255.7 253.3h1.1v1.1h-1.1zM149.5 74.9h1.1v1.1h-1.1zM179.7 71.6h1.1v1.1h-1.1zM215.5 170.3h1.1v1.1h-1.1zM239.3 247.3h1.1v1.1h-1.1zM236.3 216.8h1.1v1.1h-1.1zM149.9 223.9h1.1v1.1h-1.1zM216.2 113.5h1.1v1.1h-1.1zM265.8 168.8h1.1v1.1h-1.1zM192.8 108.9h1.1v1.1h-1.1zM257.6 169.0h1.1v1.1h-1.1zM238.4 249.2h1.1v1.1h-1.1zM190.2 193.2h1.1v1.1h-1.1zM178.1 117.6h1.1v1.1h-1.1zM250.7 266.3h1.1v1.1h-1.1zM85.6 73.0h1.1v1.1h-1.1zM179.5 83.2h1.1v1.1h-1.1zM172.8 140.3h1.1v1.1h-1.1zM130.1 234.7h1.1v1.1h-1.1zM203.7 266.5h1.1v1.1h-1.1zM120.0 148.7h1.1v1.1h-1.1zM211.3 234.1h1.1v1.1h-1.1zM170.5 106.3h1.1v1.1h-1.1zM161.3 189.5h1.1v1.1h-1.1zM287.0 207.6h1.1v1.1h-1.1zM260.5 247.4h1.1v1.1h-1.1zM170.6 176.0h1.1v1.1h-1.1zM258.1 223.3h1.1v1.1h-1.1zM164.4 106.9h1.1v1.1h-1.1zM236.1 129.5h1.1v1.1h-1.1zM135.3 120.5h1.1v1.1h-1.1zM226.4 206.6h1.1v1.1h-1.1zM280.4 194.2h1.1v1.1h-1.1zM182.5 258.4h1.1v1.1h-1.1zM108.0 194.1h1.1v1.1h-1.1zM291.3 138.4h1.1v1.1h-1.1zM110.9 90.6h1.1v1.1h-1.1zM84.0 225.3h1.1v1.1h-1.1zM167.1 244.5h1.1v1.1h-1.1zM258.5 71.5h1.1v1.1h-1.1zM144.3 123.3h1.1v1.1h-1.1zM135.0 72.1h1.1v1.1h-1.1zM133.1 139.8h1.1v1.1h-1.1zM175.8 181.5h1.1v1.1h-1.1zM290.8 89.4h1.1v1.1h-1.1zM107.0 262.5h1.1v1.1h-1.1zM140.2 183.1h1.1v1.1h-1.1zM144.0 260.8h1.1v1.1h-1.1zM279.8 190.0h1.1v1.1h-1.1zM98.4 146.7h1.1v1.1h-1.1zM230.1 189.1h1.1v1.1h-1.1zM138.6 152.3h1.1v1.1h-1.1zM91.4 153.7h1.1v1.1h-1.1zM256.2 150.1h1.1v1.1h-1.1zM178.8 102.4h1.1v1.1h-1.1zM232.0 156.6h1.1v1.1h-1.1zM161.3 234.2h1.1v1.1h-1.1zM142.1 82.7h1.1v1.1h-1.1zM216.7 226.5h1.1v1.1h-1.1zM89.5 141.0h1.1v1.1h-1.1zM269.4 176.6h1.1v1.1h-1.1zM166.0 94.2h1.1v1.1h-1.1zM140.3 193.6h1.1v1.1h-1.1zM275.7 210.1h1.1v1.1h-1.1zM287.2 154.6h1.1v1.1h-1.1zM93.0 140.1h1.1v1.1h-1.1zM157.2 78.3h1.1v1.1h-1.1zM95.6 264.2h1.1v1.1h-1.1zM271.4 94.8h1.1v1.1h-1.1zM95.8 279.3h1.1v1.1h-1.1zM114.1 131.5h1.1v1.1h-1.1zM126.8 111.2h1.1v1.1h-1.1zM84.8 166.4h1.1v1.1h-1.1zM245.6 81.3h1.1v1.1h-1.1zM184.2 94.6h1.1v1.1h-1.1zM248.2 262.7h1.1v1.1h-1.1zM267.0 182.0h1.1v1.1h-1.1zM108.7 222.0h1.1v1.1h-1.1zM93.1 234.6h1.1v1.1h-1.1zM142.8 260.1h1.1v1.1h-1.1zM139.6 227.0h1.1v1.1h-1.1zM185.0 117.9h1.1v1.1h-1.1zM184.1 159.6h1.1v1.1h-1.1zM111.7 184.8h1.1v1.1h-1.1zM193.0 218.2h1.1v1.1h-1.1zM151.4 199.7h1.1v1.1h-1.1zM120.9 179.5h1.1v1.1h-1.1zM129.8 236.9h1.1v1.1h-1.1zM119.3 129.2h1.1v1.1h-1.1zM93.1 131.0h1.1v1.1h-1.1z" fill="#000" fill-opacity="0.85"/>
<path d="M84.0 276.2h0.9v0.9h-0.9zM80.9 277.3h0.9v0.9h-0.9zM80.9 275.5h0.9v0.9h-0.9zM82.8 275.3h0.9v0.9h-0.9zM80.3 273.6h0.9v0.9h-0.9zM82.0 275.7h0.9v0.9h-0.9zM83.7 275.8h0.9v0.9h-0.9zM80.6 274.3h0.9v0.9h-0.9zM86.3 274.3h0.9v0.9h-0.9zM80.7 274.6h0.9v0.9h-0.9zM79.1 277.6h0.9v0.9h-0.9zM78.9 274.7h0.9v0.9h-0.9zM81.8 276.7h0.9v0.9h-0.9zM84.4 276.6h0.9v0.9h-0.9zM78.3 277.5h0.9v0.9h-0.9zM81.1 273.3h0.9v0.9h-0.9zM82.8 275.4h0.9v0.9h-0.9zM84.4 275.1h0.9v0.9h-0.9zM83.2 276.7h0.9v0.9h-0.9zM81.9 276.4h0.9v0.9h-0.9zM87.2 273.5h0.9v0.9h-0.9zM82.3 277.4h0.9v0.9h-0.9zM81.3 274.9h0.9v0.9h-0.9zM79.2 278.4h0.9v0.9h-0.9zM80.7 277.0h0.9v0.9h-0.9zM80.2 277.3h0.9v0.9h-0.9zM83.5 275.5h0.9v0.9h-0.9zM80.5 275.1h0.9v0.9h-0.9zM79.5 274.7h0.9v0.9h-0.9zM82.6 276.0h0.9v0.9h-0.9zM81.9 277.4h0.9v0.9h-0.9zM88.7 277.0h0.9v0.9h-0.9zM85.9 277.2h0.9v0.9h-0.9zM86.1 274.4h0.9v0.9h-0.9zM85.2 276.4h0.9v0.9h-0.9zM87.3 274.0h0.9v0.9h-0.9zM85.7 273.6h0.9v0.9h-0.9zM85.9 273.3h0.9v0.9h-0.9zM84.4 277.8h0.9v0.9h-0.9zM77.7 275.8h0.9v0.9h-0.9zM86.1 277.9h0.9v0.9h-0.9zM79.5 277.7h0.9v0.9h-0.9zM85.2 275.5h0.9v0.9h-0.9zM86.7 273.9h0.9v0.9h-0.9zM86.7 277.4h0.9v0.9h-0.9zM81.8 275.1h0.9v0.9h-0.9zM80.6 275.2h0.9v0.9h-0.9zM85.9 274.6h0.9v0.9h-0.9zM84.9 277.1h0.9v0.9h-0.9zM87.3 273.8h0.9v0.9h-0.9zM85.8 278.2h0.9v0.9h-0.9zM84.4 276.2h0.9v0.9h-0.9zM83.5 275.5h0.9v0.9h-0.9zM80.9 274.3h0.9v0.9h-0.9zM80.9 274.9h0.9v0.9h-0.9zM83.2 275.0h0.9v0.9h-0.9zM80.1 277.9h0.9v0.9h-0.9zM83.8 275.8h0.9v0.9h-0.9zM85.7 278.1h0.9v0.9h-0.9zM80.1 273.7h0.9v0.9h-0.9zM80.6 277.1h0.9v0.9h-0.9zM87.2 276.4h0.9v0.9h-0.9zM87.0 273.2h0.9v0.9h-0.9zM86.8 274.1h0.9v0.9h-0.9zM82.9 276.4h0.9v0.9h-0.9zM83.4 275.6h0.9v0.9h-0.9zM83.0 277.6h0.9v0.9h-0.9zM86.5 275.5h0.9v0.9h-0.9zM87.0 277.5h0.9v0.9h-0.9zM86.1 277.8h0.9v0.9h-0.9zM86.6 273.3h0.9v0.9h-0.9zM80.2 277.7h0.9v0.9h-0.9zM82.1 275.9h0.9v0.9h-0.9zM83.0 278.1h0.9v0.9h-0.9zM84.6 277.0h0.9v0.9h-0.9zM84.4 275.1h0.9v0.9h-0.9zM85.7 274.2h0.9v0.9h-0.9zM87.7 272.5h0.9v0.9h-0.9zM79.1 277.1h0.9v0.9h-0.9zM81.5 274.4h0.9v0.9h-0.9zM80.3 274.3h0.9v0.9h-0.9zM84.9 277.8h0.9v0.9h-0.9zM88.5 275.5h0.9v0.9h-0.9zM79.5 278.8h0.9v0.9h-0.9zM80.3 274.4h0.9v0.9h-0.9zM82.7 273.7h0.9v0.9h-0.9zM83.7 276.1h0.9v0.9h-0.9zM84.1 275.1h0.9v0.9h-0.9zM84.7 273.1h0.9v0.9h-0.9zM80.7 274.8h0.9v0.9h-0.9zM79.5 278.7h0.9v0.9h-0.9zM85.3 274.2h0.9v0.9h-0.9zM82.9 276.4h0.9v0.9h-0.9zM87.0 274.3h0.9v0.9h-0.9zM82.3 275.4h0.9v0.9h-0.9zM86.8 273.5h0.9v0.9h-0.9zM78.8 278.1h0.9v0.9h-0.9zM84.0 277.3h0.9v0.9h-0.9zM83.5 275.8h0.9v0.9h-0.9zM83.4 275.3h0.9v0.9h-0.9zM85.6 273.8h0.9v0.9h-0.9zM81.3 277.5h0.9v0.9h-0.9zM84.8 277.8h0.9v0.9h-0.9zM81.4 277.1h0.9v0.9h-0.9zM80.4 277.7h0.9v0.9h-0.9zM85.1 274.5h0.9v0.9h-0.9zM87.6 273.4h0.9v0.9h-0.9zM86.8 273.9h0.9v0.9h-0.9zM82.9 276.5h0.9v0.9h-0.9zM85.1 277.4h0.9v0.9h-0.9zM85.3 274.5h0.9v0.9h-0.9zM79.5 277.3h0.9v0.9h-0.9zM87.7 272.8h0.9v0.9h-0.9zM82.0 276.7h0.9v0.9h-0.9zM82.6 276.6h0.9v0.9h-0.9zM79.9 278.8h0.9v0.9h-0.9zM81.7 275.3h0.9v0.9h-0.9zM86.0 274.0h0.9v0.9h-0.9zM86.1 273.7h0.9v0.9h-0.9zM87.1 273.6h0.9v0.9h-0.9zM81.5 275.4h0.9v0.9h-0.9zM83.9 277.7h0.9v0.9h-0.9zM85.3 277.4h0.9v0.9h-0.9zM86.1 277.5h0.9v0.9h-0.9zM85.1 275.1h0.9v0.9h-0.9zM79.3 275.7h0.9v0.9h-0.9zM86.5 277.8h0.9v0.9h-0.9zM80.0 275.0h0.9v0.9h-0.9zM80.9 277.8h0.9v0.9h-0.9zM81.7 275.7h0.9v0.9h-0.9zM85.0 274.4h0.9v0.9h-0.9zM87.3 273.3h0.9v0.9h-0.9zM84.3 278.2h0.9v0.9h-0.9zM81.2 276.5h0.9v0.9h-0.9zM85.8 277.5h0.9v0.9h-0.9zM87.4 273.2h0.9v0.9h-0.9zM81.4 275.1h0.9v0.9h-0.9zM81.9 276.3h0.9v0.9h-0.9zM79.4 277.5h0.9v0.9h-0.9zM88.7 280.2h0.9v0.9h-0.9zM88.5 282.1h0.9v0.9h-0.9zM89.2 280.6h0.9v0.9h-0.9zM89.4 279.8h0.9v0.9h-0.9zM88.7 281.9h0.9v0.9h-0.9zM88.6 280.6h0.9v0.9h-0.9zM89.3 279.7h0.9v0.9h-0.9zM88.4 281.9h0.9v0.9h-0.9zM88.2 280.6h0.9v0.9h-0.9zM88.6 281.4h0.9v0.9h-0.9zM88.0 282.3h0.9v0.9h-0.9zM89.1 280.3h0.9v0.9h-0.9zM88.6 282.0h0.9v0.9h-0.9zM89.0 281.8h0.9v0.9h-0.9zM89.5 281.9h0.9v0.9h-0.9zM88.7 279.8h0.9v0.9h-0.9zM88.1 282.6h0.9v0.9h-0.9zM88.7 280.9h0.9v0.9h-0.9zM88.7 281.5h0.9v0.9h-0.9zM88.1 280.7h0.9v0.9h-0.9zM88.2 279.6h0.9v0.9h-0.9zM87.9 282.4h0.9v0.9h-0.9zM88.5 266.9h0.9v0.9h-0.9zM96.5 263.0h0.9v0.9h-0.9zM95.5 267.3h0.9v0.9h-0.9zM92.0 267.1h0.9v0.9h-0.9zM89.5 264.9h0.9v0.9h-0.9zM96.9 263.4h0.9v0.9h-0.9zM91.3 263.6h0.9v0.9h-0.9zM92.6 264.9h0.9v0.9h-0.9zM94.7 266.7h0.9v0.9h-0.9zM94.7 267.9h0.9v0.9h-0.9zM93.0 265.9h0.9v0.9h-0.9zM93.4 265.5h0.9v0.9h-0.9zM94.2 266.9h0.9v0.9h-0.9zM94.7 263.7h0.9v0.9h-0.9zM94.6 265.2h0.9v0.9h-0.9zM95.4 267.1h0.9v0.9h-0.9zM93.4 266.6h0.9v0.9h-0.9zM92.2 266.2h0.9v0.9h-0.9zM91.0 264.3h0.9v0.9h-0.9zM92.9 265.0h0.9v0.9h-0.9zM93.8 266.4h0.9v0.9h-0.9zM93.7 265.7h0.9v0.9h-0.9zM97.1 265.4h0.9v0.9h-0.9zM90.6 265.5h0.9v0.9h-0.9zM94.2 264.3h0.9v0.9h-0.9zM94.4 264.9h0.9v0.9h-0.9zM93.6 265.3h0.9v0.9h-0.9zM92.7 265.8h0.9v0.9h-0.9zM95.6 265.9h0.9v0.9h-0.9zM96.2 262.6h0.9v0.9h-0.9zM91.0 268.0h0.9v0.9h-0.9zM93.6 265.9h0.9v0.9h-0.9zM94.5 266.4h0.9v0.9h-0.9zM94.8 267.8h0.9v0.9h-0.9zM89.2 264.5h0.9v0.9h-0.9zM93.9 265.8h0.9v0.9h-0.9zM94.3 265.7h0.9v0.9h-0.9zM93.7 267.0h0.9v0.9h-0.9zM96.6 267.3h0.9v0.9h-0.9zM96.0 267.8h0.9v0.9h-0.9zM90.6 268.1h0.9v0.9h-0.9zM91.2 265.9h0.9v0.9h-0.9zM96.0 267.6h0.9v0.9h-0.9zM93.4 265.7h0.9v0.9h-0.9zM91.3 264.3h0.9v0.9h-0.9zM90.5 267.9h0.9v0.9h-0.9zM96.1 264.2h0.9v0.9h-0.9zM93.2 264.8h0.9v0.9h-0.9zM95.2 268.9h0.9v0.9h-0.9zM96.2 263.0h0.9v0.9h-0.9zM92.2 264.7h0.9v0.9h-0.9zM91.3 267.3h0.9v0.9h-0.9zM92.8 266.7h0.9v0.9h-0.9zM93.4 265.2h0.9v0.9h-0.9zM92.7 265.4h0.9v0.9h-0.9zM91.0 267.5h0.9v0.9h-0.9zM92.6 264.8h0.9v0.9h-0.9zM96.3 265.7h0.9v0.9h-0.9zM92.5 264.8h0.9v0.9h-0.9zM91.3 263.5h0.9v0.9h-0.9zM95.5 267.4h0.9v0.9h-0.9zM94.6 266.5h0.9v0.9h-0.9zM91.5 264.4h0.9v0.9h-0.9zM94.2 265.7h0.9v0.9h-0.9zM91.0 267.2h0.9v0.9h-0.9zM90.6 268.0h0.9v0.9h-0.9zM94.0 266.3h0.9v0.9h-0.9zM93.2 265.5h0.9v0.9h-0.9zM95.1 265.0h0.9v0.9h-0.9zM93.5 265.5h0.9v0.9h-0.9zM91.9 266.2h0.9v0.9h-0.9zM93.0 266.0h0.9v0.9h-0.9zM95.3 264.0h0.9v0.9h-0.9zM92.8 266.8h0.9v0.9h-0.9zM93.9 264.8h0.9v0.9h-0.9zM94.3 264.4h0.9v0.9h-0.9zM94.2 267.1h0.9v0.9h-0.9zM94.6 266.7h0.9v0.9h-0.9zM92.9 266.1h0.9v0.9h-0.9zM91.8 266.8h0.9v0.9h-0.9zM90.9 263.1h0.9v0.9h-0.9zM98.1 264.4h0.9v0.9h-0.9zM94.7 264.5h0.9v0.9h-0.9zM93.8 264.8h0.9v0.9h-0.9zM91.9 267.7h0.9v0.9h-0.9zM93.5 265.4h0.9v0.9h-0.9zM95.2 268.2h0.9v0.9h-0.9zM94.1 263.4h0.9v0.9h-0.9zM94.8 266.2h0.9v0.9h-0.9zM93.1 265.0h0.9v0.9h-0.9zM96.7 267.6h0.9v0.9h-0.9zM95.2 264.0h0.9v0.9h-0.9zM91.2 267.0h0.9v0.9h-0.9zM91.7 268.9h0.9v0.9h-0.9zM91.9 266.2h0.9v0.9h-0.9zM93.2 265.6h0.9v0.9h-0.9zM92.1 267.2h0.9v0.9h-0.9zM90.4 268.3h0.9v0.9h-0.9zM92.4 267.1h0.9v0.9h-0.9zM89.3 263.3h0.9v0.9h-0.9zM95.6 269.2h0.9v0.9h-0.9zM90.6 268.3h0.9v0.9h-0.9zM95.2 266.4h0.9v0.9h-0.9zM89.1 264.7h0.9v0.9h-0.9zM95.9 266.8h0.9v0.9h-0.9zM93.2 266.1h0.9v0.9h-0.9zM92.9 266.0h0.9v0.9h-0.9zM92.5 266.5h0.9v0.9h-0.9zM94.4 267.0h0.9v0.9h-0.9zM93.4 266.6h0.9v0.9h-0.9zM94.7 264.0h0.9v0.9h-0.9zM91.2 267.9h0.9v0.9h-0.9zM96.8 265.6h0.9v0.9h-0.9zM95.6 267.4h0.9v0.9h-0.9zM95.4 261.6h0.9v0.9h-0.9zM94.7 267.0h0.9v0.9h-0.9zM94.7 262.3h0.9v0.9h-0.9zM94.6 264.0h0.9v0.9h-0.9zM94.9 267.9h0.9v0.9h-0.9zM94.5 267.5h0.9v0.9h-0.9zM93.7 265.5h0.9v0.9h-0.9zM93.4 265.2h0.9v0.9h-0.9zM98.2 271.1h0.9v0.9h-0.9zM98.5 270.8h0.9v0.9h-0.9zM97.9 270.9h0.9v0.9h-0.9zM97.4 270.2h0.9v0.9h-0.9zM99.0 270.4h0.9v0.9h-0.9zM98.2 270.8h0.9v0.9h-0.9zM98.0 270.7h0.9v0.9h-0.9zM97.7 270.4h0.9v0.9h-0.9zM98.7 271.8h0.9v0.9h-0.9zM98.7 270.7h0.9v0.9h-0.9zM97.9 271.3h0.9v0.9h-0.9zM97.8 268.9h0.9v0.9h-0.9zM98.1 272.1h0.9v0.9h-0.9zM98.8 270.9h0.9v0.9h-0.9zM98.1 270.8h0.9v0.9h-0.9zM98.4 269.2h0.9v0.9h-0.9zM97.7 271.0h0.9v0.9h-0.9zM97.7 270.9h0.9v0.9h-0.9zM98.4 270.1h0.9v0.9h-0.9zM97.8 270.7h0.9v0.9h-0.9zM98.8 272.6h0.9v0.9h-0.9zM97.8 270.4h0.9v0.9h-0.9zM99.3 258.4h0.9v0.9h-0.9zM100.0 257.2h0.9v0.9h-0.9zM98.2 261.1h0.9v0.9h-0.9zM99.5 260.7h0.9v0.9h-0.9zM99.8 257.6h0.9v0.9h-0.9zM98.9 259.9h0.9v0.9h-0.9zM99.0 261.2h0.9v0.9h-0.9zM100.1 260.3h0.9v0.9h-0.9zM99.1 261.0h0.9v0.9h-0.9zM99.0 259.0h0.9v0.9h-0.9zM98.7 259.7h0.9v0.9h-0.9zM99.4 260.5h0.9v0.9h-0.9zM99.2 258.6h0.9v0.9h-0.9zM99.1 260.6h0.9v0.9h-0.9zM98.3 257.3h0.9v0.9h-0.9zM98.9 258.1h0.9v0.9h-0.9zM98.3 257.9h0.9v0.9h-0.9zM98.4 258.5h0.9v0.9h-0.9zM98.7 260.2h0.9v0.9h-0.9zM99.0 261.4h0.9v0.9h-0.9zM99.8 259.2h0.9v0.9h-0.9zM99.1 259.4h0.9v0.9h-0.9zM99.0 259.8h0.9v0.9h-0.9zM98.7 260.8h0.9v0.9h-0.9zM98.3 262.2h0.9v0.9h-0.9zM99.7 257.4h0.9v0.9h-0.9zM99.6 257.0h0.9v0.9h-0.9zM101.9 254.2h0.9v0.9h-0.9zM101.8 253.7h0.9v0.9h-0.9zM104.3 252.4h0.9v0.9h-0.9zM104.5 250.1h0.9v0.9h-0.9zM105.3 254.3h0.9v0.9h-0.9zM100.4 252.2h0.9v0.9h-0.9zM105.4 249.6h0.9v0.9h-0.9zM103.3 254.1h0.9v0.9h-0.9zM107.7 247.5h0.9v0.9h-0.9zM105.4 253.7h0.9v0.9h-0.9zM101.1 248.7h0.9v0.9h-0.9zM105.4 249.9h0.9v0.9h-0.9zM103.9 249.6h0.9v0.9h-0.9zM104.3 246.9h0.9v0.9h-0.9zM103.4 245.4h0.9v0.9h-0.9zM103.3 252.8h0.9v0.9h-0.9zM105.5 250.1h0.9v0.9h-0.9zM99.6 256.0h0.9v0.9h-0.9zM105.4 257.1h0.9v0.9h-0.9zM101.8 254.1h0.9v0.9h-0.9zM101.5 247.9h0.9v0.9h-0.9zM101.9 248.2h0.9v0.9h-0.9zM106.3 250.0h0.9v0.9h-0.9zM106.2 249.3h0.9v0.9h-0.9zM104.9 252.8h0.9v0.9h-0.9zM102.2 254.0h0.9v0.9h-0.9zM101.2 246.4h0.9v0.9h-0.9zM102.1 254.1h0.9v0.9h-0.9zM101.4 255.0h0.9v0.9h-0.9zM106.5 255.0h0.9v0.9h-0.9zM105.1 252.1h0.9v0.9h-0.9zM102.3 250.7h0.9v0.9h-0.9zM103.6 254.4h0.9v0.9h-0.9zM100.4 256.3h0.9v0.9h-0.9zM105.0 250.7h0.9v0.9h-0.9zM104.4 252.1h0.9v0.9h-0.9zM104.6 252.6h0.9v0.9h-0.9zM99.3 255.8h0.9v0.9h-0.9zM104.6 251.8h0.9v0.9h-0.9zM106.7 254.7h0.9v0.9h-0.9zM100.2 255.8h0.9v0.9h-0.9zM104.0 251.6h0.9v0.9h-0.9zM103.2 251.0h0.9v0.9h-0.9zM106.9 255.1h0.9v0.9h-0.9zM104.7 250.8h0.9v0.9h-0.9zM104.0 253.3h0.9v0.9h-0.9zM104.2 255.9h0.9v0.9h-0.9zM105.3 249.2h0.9v0.9h-0.9zM104.7 252.6h0.9v0.9h-0.9zM102.8 250.3h0.9v0.9h-0.9zM101.2 256.2h0.9v0.9h-0.9zM107.3 248.0h0.9v0.9h-0.9zM99.8 256.0h0.9v0.9h-0.9zM101.7 248.6h0.9v0.9h-0.9zM105.1 252.4h0.9v0.9h-0.9zM105.7 248.9h0.9v0.9h-0.9zM105.2 254.1h0.9v0.9h-0.9zM105.3 252.7h0.9v0.9h-0.9zM103.3 250.3h0.9v0.9h-0.9zM102.2 253.3h0.9v0.9h-0.9zM103.6 252.2h0.9v0.9h-0.9zM102.2 249.2h0.9v0.9h-0.9zM103.8 252.2h0.9v0.9h-0.9zM102.7 249.4h0.9v0.9h-0.9zM103.0 251.0h0.9v0.9h-0.9zM106.7 247.9h0.9v0.9h-0.9zM103.9 251.5h0.9v0.9h-0.9zM102.0 254.3h0.9v0.9h-0.9zM106.9 255.3h0.9v0.9h-0.9zM104.9 252.6h0.9v0.9h-0.9zM101.0 249.9h0.9v0.9h-0.9zM102.9 253.6h0.9v0.9h-0.9zM105.4 253.5h0.9v0.9h-0.9zM107.5 246.9h0.9v0.9h-0.9zM101.0 249.3h0.9v0.9h-0.9zM99.7 253.3h0.9v0.9h-0.9zM100.4 255.9h0.9v0.9h-0.9zM100.1 255.7h0.9v0.9h-0.9zM102.5 248.7h0.9v0.9h-0.9zM105.0 253.0h0.9v0.9h-0.9zM104.5 250.7h0.9v0.9h-0.9zM104.8 249.7h0.9v0.9h-0.9zM107.3 247.8h0.9v0.9h-0.9zM103.2 252.7h0.9v0.9h-0.9zM103.2 250.1h0.9v0.9h-0.9zM106.8 254.3h0.9v0.9h-0.9zM102.2 251.9h0.9v0.9h-0.9zM105.7 253.1h0.9v0.9h-0.9zM108.0 247.1h0.9v0.9h-0.9zM106.9 247.6h0.9v0.9h-0.9zM102.4 253.2h0.9v0.9h-0.9zM100.9 255.8h0.9v0.9h-0.9zM101.6 248.6h0.9v0.9h-0.9zM101.9 247.4h0.9v0.9h-0.9zM103.0 251.9h0.9v0.9h-0.9zM106.7 249.3h0.9v0.9h-0.9zM105.7 249.9h0.9v0.9h-0.9zM106.1 253.8h0.9v0.9h-0.9zM103.4 252.5h0.9v0.9h-0.9zM105.5 253.8h0.9v0.9h-0.9zM101.3 248.3h0.9v0.9h-0.9zM106.9 247.9h0.9v0.9h-0.9zM101.8 249.6h0.9v0.9h-0.9zM101.8 254.4h0.9v0.9h-0.9zM105.0 250.3h0.9v0.9h-0.9zM101.0 248.3h0.9v0.9h-0.9zM104.0 252.6h0.9v0.9h-0.9zM102.9 253.8h0.9v0.9h-0.9zM105.7 253.2h0.9v0.9h-0.9zM103.4 252.1h0.9v0.9h-0.9zM106.3 255.0h0.9v0.9h-0.9zM100.6 256.0h0.9v0.9h-0.9zM105.9 250.0h0.9v0.9h-0.9zM100.3 255.5h0.9v0.9h-0.9zM102.8 254.1h0.9v0.9h-0.9zM103.7 250.4h0.9v0.9h-0.9zM101.1 249.5h0.9v0.9h-0.9zM107.3 247.8h0.9v0.9h-0.9zM103.6 249.0h0.9v0.9h-0.9zM104.6 250.7h0.9v0.9h-0.9zM107.0 253.0h0.9v0.9h-0.9zM107.6 247.5h0.9v0.9h-0.9zM103.9 251.1h0.9v0.9h-0.9zM103.3 250.8h0.9v0.9h-0.9zM104.2 252.0h0.9v0.9h-0.9zM107.9 247.5h0.9v0.9h-0.9zM104.7 255.4h0.9v0.9h-0.9zM109.1 254.4h0.9v0.9h-0.9zM102.9 253.1h0.9v0.9h-0.9zM103.4 253.0h0.9v0.9h-0.9zM103.0 251.2h0.9v0.9h-0.9zM103.1 252.2h0.9v0.9h-0.9zM101.8 249.3h0.9v0.9h-0.9zM105.3 250.4h0.9v0.9h-0.9zM106.6 254.3h0.9v0.9h-0.9zM103.7 252.2h0.9v0.9h-0.9zM102.4 253.5h0.9v0.9h-0.9zM103.1 254.5h0.9v0.9h-0.9zM103.7 252.2h0.9v0.9h-0.9zM105.0 252.2h0.9v0.9h-0.9zM106.1 254.2h0.9v0.9h-0.9zM103.2 252.8h0.9v0.9h-0.9zM105.4 253.2h0.9v0.9h-0.9zM100.6 256.7h0.9v0.9h-0.9zM101.4 248.6h0.9v0.9h-0.9zM101.5 252.0h0.9v0.9h-0.9zM101.6 247.8h0.9v0.9h-0.9zM105.9 257.6h0.9v0.9h-0.9zM100.4 255.4h0.9v0.9h-0.9zM104.9 252.4h0.9v0.9h-0.9zM100.1 255.7h0.9v0.9h-0.9zM103.8 250.5h0.9v0.9h-0.9zM104.2 252.0h0.9v0.9h-0.9zM106.6 255.5h0.9v0.9h-0.9zM102.0 254.6h0.9v0.9h-0.9zM104.2 248.9h0.9v0.9h-0.9zM107.1 255.6h0.9v0.9h-0.9zM100.1 256.1h0.9v0.9h-0.9zM101.9 248.8h0.9v0.9h-0.9zM102.3 255.2h0.9v0.9h-0.9zM102.8 252.9h0.9v0.9h-0.9zM103.3 251.5h0.9v0.9h-0.9zM101.8 248.8h0.9v0.9h-0.9zM100.3 248.1h0.9v0.9h-0.9zM106.9 252.2h0.9v0.9h-0.9zM106.1 250.2h0.9v0.9h-0.9zM109.5 251.0h0.9v0.9h-0.9zM106.6 247.4h0.9v0.9h-0.9zM102.5 249.8h0.9v0.9h-0.9zM107.6 248.1h0.9v0.9h-0.9zM105.9 253.5h0.9v0.9h-0.9zM102.3 253.8h0.9v0.9h-0.9zM104.5 252.4h0.9v0.9h-0.9zM102.1 252.5h0.9v0.9h-0.9zM104.4 250.9h0.9v0.9h-0.9zM103.3 253.4h0.9v0.9h-0.9zM99.6 252.6h0.9v0.9h-0.9zM103.6 250.6h0.9v0.9h-0.9zM104.7 252.2h0.9v0.9h-0.9zM109.0 252.1h0.9v0.9h-0.9zM103.8 252.0h0.9v0.9h-0.9zM106.2 249.0h0.9v0.9h-0.9zM107.0 248.8h0.9v0.9h-0.9zM106.2 254.2h0.9v0.9h-0.9zM106.2 248.1h0.9v0.9h-0.9zM105.6 254.2h0.9v0.9h-0.9zM106.5 249.2h0.9v0.9h-0.9zM102.4 253.2h0.9v0.9h-0.9zM100.8 255.1h0.9v0.9h-0.9zM104.9 252.8h0.9v0.9h-0.9zM103.6 250.5h0.9v0.9h-0.9zM104.7 252.4h0.9v0.9h-0.9zM101.2 255.7h0.9v0.9h-0.9zM104.8 252.2h0.9v0.9h-0.9zM106.2 249.4h0.9v0.9h-0.9zM102.9 250.4h0.9v0.9h-0.9zM107.1 247.6h0.9v0.9h-0.9zM102.2 248.9h0.9v0.9h-0.9zM100.3 255.7h0.9v0.9h-0.9zM105.4 250.2h0.9v0.9h-0.9zM104.5 251.1h0.9v0.9h-0.9zM100.6 248.7h0.9v0.9h-0.9zM102.7 249.0h0.9v0.9h-0.9zM106.8 254.6h0.9v0.9h-0.9zM108.5 249.9h0.9v0.9h-0.9zM101.2 248.0h0.9v0.9h-0.9zM106.9 248.2h0.9v0.9h-0.9zM106.6 255.0h0.9v0.9h-0.9zM101.5 254.3h0.9v0.9h-0.9zM105.6 249.1h0.9v0.9h-0.9zM104.9 249.5h0.9v0.9h-0.9zM104.5 252.2h0.9v0.9h-0.9zM103.8 250.6h0.9v0.9h-0.9zM104.4 251.7h0.9v0.9h-0.9zM106.5 254.1h0.9v0.9h-0.9zM110.3 243.1h0.9v0.9h-0.9zM110.7 244.3h0.9v0.9h-0.9zM110.6 243.3h0.9v0.9h-0.9zM110.7 244.4h0.9v0.9h-0.9zM109.3 244.5h0.9v0.9h-0.9zM110.4 244.7h0.9v0.9h-0.9zM109.8 244.1h0.9v0.9h-0.9zM110.5 244.1h0.9v0.9h-0.9zM109.7 244.1h0.9v0.9h-0.9zM111.6 242.5h0.9v0.9h-0.9zM110.5 243.1h0.9v0.9h-0.9zM109.2 243.4h0.9v0.9h-0.9zM111.6 245.6h0.9v0.9h-0.9zM110.3 242.1h0.9v0.9h-0.9zM109.4 243.2h0.9v0.9h-0.9zM110.4 243.3h0.9v0.9h-0.9zM111.1 243.1h0.9v0.9h-0.9zM108.5 245.1h0.9v0.9h-0.9zM111.8 242.2h0.9v0.9h-0.9zM111.1 244.4h0.9v0.9h-0.9zM109.2 245.3h0.9v0.9h-0.9zM110.9 243.6h0.9v0.9h-0.9zM111.1 244.2h0.9v0.9h-0.9zM110.8 242.7h0.9v0.9h-0.9zM109.0 244.6h0.9v0.9h-0.9zM110.6 243.8h0.9v0.9h-0.9zM111.1 242.4h0.9v0.9h-0.9zM109.8 244.8h0.9v0.9h-0.9zM109.2 244.4h0.9v0.9h-0.9zM109.5 244.5h0.9v0.9h-0.9zM109.7 244.1h0.9v0.9h-0.9zM109.2 242.7h0.9v0.9h-0.9zM110.4 242.6h0.9v0.9h-0.9zM110.9 244.1h0.9v0.9h-0.9zM111.9 242.6h0.9v0.9h-0.9zM109.5 245.5h0.9v0.9h-0.9zM113.1 239.1h0.9v0.9h-0.9zM112.5 240.9h0.9v0.9h-0.9zM112.0 238.2h0.9v0.9h-0.9zM112.7 239.0h0.9v0.9h-0.9zM115.5 240.9h0.9v0.9h-0.9zM113.1 238.3h0.9v0.9h-0.9zM115.1 237.5h0.9v0.9h-0.9zM112.0 238.2h0.9v0.9h-0.9zM112.5 240.2h0.9v0.9h-0.9zM114.3 238.5h0.9v0.9h-0.9zM113.1 240.2h0.9v0.9h-0.9zM112.5 241.9h0.9v0.9h-0.9zM113.9 239.8h0.9v0.9h-0.9zM113.0 241.0h0.9v0.9h-0.9zM113.5 240.0h0.9v0.9h-0.9zM112.3 241.2h0.9v0.9h-0.9zM116.1 239.2h0.9v0.9h-0.9zM113.2 240.4h0.9v0.9h-0.9zM114.7 240.3h0.9v0.9h-0.9zM114.3 240.8h0.9v0.9h-0.9zM113.0 241.2h0.9v0.9h-0.9zM114.3 239.7h0.9v0.9h-0.9zM113.5 239.5h0.9v0.9h-0.9zM113.9 239.8h0.9v0.9h-0.9zM114.5 240.5h0.9v0.9h-0.9zM113.5 239.3h0.9v0.9h-0.9zM113.1 239.1h0.9v0.9h-0.9zM114.5 241.6h0.9v0.9h-0.9zM115.2 238.5h0.9v0.9h-0.9zM115.0 238.7h0.9v0.9h-0.9zM113.4 238.8h0.9v0.9h-0.9zM112.3 241.6h0.9v0.9h-0.9zM113.3 240.4h0.9v0.9h-0.9zM113.9 239.4h0.9v0.9h-0.9zM114.4 238.7h0.9v0.9h-0.9zM115.5 238.7h0.9v0.9h-0.9zM111.8 240.5h0.9v0.9h-0.9zM114.4 237.4h0.9v0.9h-0.9zM114.5 240.9h0.9v0.9h-0.9zM113.0 240.6h0.9v0.9h-0.9zM113.3 240.2h0.9v0.9h-0.9zM121.6 228.6h0.9v0.9h-0.9zM118.4 229.5h0.9v0.9h-0.9zM118.8 229.5h0.9v0.9h-0.9zM116.9 227.9h0.9v0.9h-0.9zM119.0 228.6h0.9v0.9h-0.9zM118.5 229.8h0.9v0.9h-0.9zM119.3 229.6h0.9v0.9h-0.9zM117.6 228.8h0.9v0.9h-0.9zM116.7 228.9h0.9v0.9h-0.9zM120.5 228.1h0.9v0.9h-0.9zM119.1 229.7h0.9v0.9h-0.9zM117.8 228.8h0.9v0.9h-0.9zM119.6 228.2h0.9v0.9h-0.9zM119.8 229.1h0.9v0.9h-0.9zM116.1 227.6h0.9v0.9h-0.9zM116.9 230.7h0.9v0.9h-0.9zM120.7 227.7h0.9v0.9h-0.9zM117.6 230.2h0.9v0.9h-0.9zM117.2 230.4h0.9v0.9h-0.9zM118.9 229.9h0.9v0.9h-0.9zM118.1 230.3h0.9v0.9h-0.9zM119.3 230.1h0.9v0.9h-0.9zM115.9 230.1h0.9v0.9h-0.9zM119.9 228.8h0.9v0.9h-0.9zM119.3 231.1h0.9v0.9h-0.9zM119.5 228.7h0.9v0.9h-0.9zM117.2 228.2h0.9v0.9h-0.9zM119.2 228.6h0.9v0.9h-0.9zM119.9 228.1h0.9v0.9h-0.9zM121.2 227.8h0.9v0.9h-0.9zM120.5 231.1h0.9v0.9h-0.9zM119.7 230.3h0.9v0.9h-0.9zM120.5 230.4h0.9v0.9h-0.9zM117.0 227.0h0.9v0.9h-0.9zM117.9 229.7h0.9v0.9h-0.9zM117.4 228.0h0.9v0.9h-0.9zM119.2 229.2h0.9v0.9h-0.9zM119.2 229.1h0.9v0.9h-0.9zM119.4 228.1h0.9v0.9h-0.9zM119.9 230.9h0.9v0.9h-0.9zM118.7 229.3h0.9v0.9h-0.9zM119.9 231.2h0.9v0.9h-0.9zM116.9 230.7h0.9v0.9h-0.9zM121.4 227.1h0.9v0.9h-0.9zM116.4 231.9h0.9v0.9h-0.9zM119.1 230.3h0.9v0.9h-0.9zM116.0 231.7h0.9v0.9h-0.9zM120.9 231.4h0.9v0.9h-0.9zM117.9 231.5h0.9v0.9h-0.9zM116.9 227.7h0.9v0.9h-0.9zM117.6 228.5h0.9v0.9h-0.9zM118.3 230.0h0.9v0.9h-0.9zM116.1 230.7h0.9v0.9h-0.9zM117.8 230.5h0.9v0.9h-0.9zM118.8 230.3h0.9v0.9h-0.9zM120.5 228.3h0.9v0.9h-0.9zM118.0 229.9h0.9v0.9h-0.9zM117.6 228.5h0.9v0.9h-0.9zM119.4 228.5h0.9v0.9h-0.9zM120.5 228.4h0.9v0.9h-0.9zM120.2 228.2h0.9v0.9h-0.9zM119.6 228.7h0.9v0.9h-0.9zM117.5 230.6h0.9v0.9h-0.9zM120.5 230.3h0.9v0.9h-0.9zM118.5 229.1h0.9v0.9h-0.9zM117.4 228.2h0.9v0.9h-0.9zM119.1 229.9h0.9v0.9h-0.9zM116.7 232.1h0.9v0.9h-0.9zM117.3 229.9h0.9v0.9h-0.9zM116.4 231.6h0.9v0.9h-0.9zM125.2 232.9h0.9v0.9h-0.9zM125.4 234.9h0.9v0.9h-0.9zM122.1 236.4h0.9v0.9h-0.9zM123.0 235.5h0.9v0.9h-0.9zM122.4 232.1h0.9v0.9h-0.9zM123.7 235.4h0.9v0.9h-0.9zM122.5 235.5h0.9v0.9h-0.9zM124.3 233.3h0.9v0.9h-0.9zM123.9 234.0h0.9v0.9h-0.9zM123.9 235.6h0.9v0.9h-0.9zM123.3 234.6h0.9v0.9h-0.9zM122.3 232.9h0.9v0.9h-0.9zM124.1 234.1h0.9v0.9h-0.9zM122.4 237.2h0.9v0.9h-0.9zM123.0 235.6h0.9v0.9h-0.9zM123.2 233.3h0.9v0.9h-0.9zM124.8 233.7h0.9v0.9h-0.9zM122.7 233.5h0.9v0.9h-0.9zM123.2 232.8h0.9v0.9h-0.9zM124.0 233.9h0.9v0.9h-0.9zM123.2 235.4h0.9v0.9h-0.9zM124.3 235.7h0.9v0.9h-0.9zM121.9 236.3h0.9v0.9h-0.9zM122.7 235.4h0.9v0.9h-0.9zM122.8 234.6h0.9v0.9h-0.9zM122.8 236.2h0.9v0.9h-0.9zM123.1 235.3h0.9v0.9h-0.9zM125.2 236.0h0.9v0.9h-0.9zM123.9 235.7h0.9v0.9h-0.9zM123.1 235.3h0.9v0.9h-0.9zM125.0 231.9h0.9v0.9h-0.9zM123.5 236.9h0.9v0.9h-0.9zM122.6 233.2h0.9v0.9h-0.9zM123.9 235.3h0.9v0.9h-0.9zM124.9 236.5h0.9v0.9h-0.9zM124.8 236.8h0.9v0.9h-0.9zM124.5 233.9h0.9v0.9h-0.9zM123.2 235.4h0.9v0.9h-0.9zM125.0 232.4h0.9v0.9h-0.9zM123.3 233.4h0.9v0.9h-0.9zM124.2 233.2h0.9v0.9h-0.9zM123.7 234.5h0.9v0.9h-0.9zM121.8 236.6h0.9v0.9h-0.9zM121.6 236.5h0.9v0.9h-0.9zM122.6 236.2h0.9v0.9h-0.9zM124.8 235.1h0.9v0.9h-0.9zM123.2 235.2h0.9v0.9h-0.9zM122.1 236.9h0.9v0.9h-0.9zM125.0 236.1h0.9v0.9h-0.9zM125.4 226.4h0.9v0.9h-0.9zM128.2 224.2h0.9v0.9h-0.9zM125.3 224.8h0.9v0.9h-0.9zM128.1 224.2h0.9v0.9h-0.9zM126.4 225.4h0.9v0.9h-0.9zM125.8 226.6h0.9v0.9h-0.9zM127.4 224.9h0.9v0.9h-0.9zM125.8 226.4h0.9v0.9h-0.9zM126.2 224.9h0.9v0.9h-0.9zM128.1 223.9h0.9v0.9h-0.9zM127.7 224.3h0.9v0.9h-0.9zM127.4 226.4h0.9v0.9h-0.9zM128.4 225.0h0.9v0.9h-0.9zM127.6 223.9h0.9v0.9h-0.9zM127.7 224.6h0.9v0.9h-0.9zM126.1 226.1h0.9v0.9h-0.9zM128.1 224.4h0.9v0.9h-0.9zM128.0 224.8h0.9v0.9h-0.9zM125.6 224.2h0.9v0.9h-0.9zM126.7 225.0h0.9v0.9h-0.9zM125.6 225.9h0.9v0.9h-0.9zM128.1 225.5h0.9v0.9h-0.9zM127.1 225.8h0.9v0.9h-0.9zM126.8 226.2h0.9v0.9h-0.9zM126.4 225.4h0.9v0.9h-0.9zM125.1 226.5h0.9v0.9h-0.9zM131.0 214.0h0.9v0.9h-0.9zM129.0 213.7h0.9v0.9h-0.9zM131.8 212.9h0.9v0.9h-0.9zM130.1 212.9h0.9v0.9h-0.9zM129.6 214.4h0.9v0.9h-0.9zM130.0 214.9h0.9v0.9h-0.9zM129.6 214.2h0.9v0.9h-0.9zM128.3 214.8h0.9v0.9h-0.9zM132.1 212.4h0.9v0.9h-0.9zM130.9 215.0h0.9v0.9h-0.9zM131.5 212.4h0.9v0.9h-0.9zM130.7 213.2h0.9v0.9h-0.9zM129.1 215.2h0.9v0.9h-0.9zM128.9 214.8h0.9v0.9h-0.9zM131.3 215.9h0.9v0.9h-0.9zM130.0 213.6h0.9v0.9h-0.9zM131.5 215.0h0.9v0.9h-0.9zM131.5 212.5h0.9v0.9h-0.9zM131.0 214.1h0.9v0.9h-0.9zM132.6 214.5h0.9v0.9h-0.9zM131.3 212.0h0.9v0.9h-0.9zM131.2 212.8h0.9v0.9h-0.9zM131.0 213.1h0.9v0.9h-0.9zM128.7 215.2h0.9v0.9h-0.9zM129.3 212.6h0.9v0.9h-0.9zM130.3 213.6h0.9v0.9h-0.9zM128.9 213.5h0.9v0.9h-0.9zM130.5 212.7h0.9v0.9h-0.9zM131.1 212.3h0.9v0.9h-0.9zM130.2 213.5h0.9v0.9h-0.9zM128.8 215.0h0.9v0.9h-0.9zM131.6 214.8h0.9v0.9h-0.9zM130.1 214.4h0.9v0.9h-0.9zM130.2 214.0h0.9v0.9h-0.9zM130.1 214.1h0.9v0.9h-0.9zM136.0 220.2h0.9v0.9h-0.9zM138.7 217.2h0.9v0.9h-0.9zM139.7 216.8h0.9v0.9h-0.9zM140.3 216.8h0.9v0.9h-0.9zM131.7 219.6h0.9v0.9h-0.9zM134.6 221.9h0.9v0.9h-0.9zM137.9 217.4h0.9v0.9h-0.9zM133.7 216.8h0.9v0.9h-0.9zM132.6 223.1h0.9v0.9h-0.9zM136.3 217.5h0.9v0.9h-0.9zM138.3 221.7h0.9v0.9h-0.9zM137.4 219.6h0.9v0.9h-0.9zM136.9 220.0h0.9v0.9h-0.9zM133.5 222.7h0.9v0.9h-0.9zM135.1 218.3h0.9v0.9h-0.9zM135.9 219.9h0.9v0.9h-0.9zM135.4 221.1h0.9v0.9h-0.9zM138.3 221.5h0.9v0.9h-0.9zM136.8 220.2h0.9v0.9h-0.9zM133.3 222.4h0.9v0.9h-0.9zM134.2 222.7h0.9v0.9h-0.9zM139.8 216.2h0.9v0.9h-0.9zM134.8 218.5h0.9v0.9h-0.9zM135.9 220.0h0.9v0.9h-0.9zM139.2 221.5h0.9v0.9h-0.9zM139.0 221.7h0.9v0.9h-0.9zM133.7 222.8h0.9v0.9h-0.9zM134.6 221.9h0.9v0.9h-0.9zM137.1 219.6h0.9v0.9h-0.9zM135.3 220.9h0.9v0.9h-0.9zM134.7 219.0h0.9v0.9h-0.9zM138.7 222.1h0.9v0.9h-0.9zM136.1 218.6h0.9v0.9h-0.9zM132.7 223.7h0.9v0.9h-0.9zM137.4 218.9h0.9v0.9h-0.9zM134.0 222.5h0.9v0.9h-0.9zM134.2 221.9h0.9v0.9h-0.9zM136.5 217.4h0.9v0.9h-0.9zM135.9 220.7h0.9v0.9h-0.9zM137.5 223.4h0.9v0.9h-0.9zM134.4 221.7h0.9v0.9h-0.9zM134.8 218.3h0.9v0.9h-0.9zM137.9 219.6h0.9v0.9h-0.9zM137.5 219.3h0.9v0.9h-0.9zM140.3 216.2h0.9v0.9h-0.9zM133.8 217.2h0.9v0.9h-0.9zM139.1 222.1h0.9v0.9h-0.9zM137.2 217.9h0.9v0.9h-0.9zM135.4 221.0h0.9v0.9h-0.9zM136.9 219.4h0.9v0.9h-0.9zM139.3 222.8h0.9v0.9h-0.9zM134.5 222.1h0.9v0.9h-0.9zM134.0 217.3h0.9v0.9h-0.9zM139.0 217.9h0.9v0.9h-0.9zM135.6 220.6h0.9v0.9h-0.9zM136.8 219.4h0.9v0.9h-0.9zM133.6 223.0h0.9v0.9h-0.9zM136.1 220.7h0.9v0.9h-0.9zM138.6 222.2h0.9v0.9h-0.9zM138.3 222.0h0.9v0.9h-0.9zM140.6 216.4h0.9v0.9h-0.9zM135.9 219.7h0.9v0.9h-0.9zM136.1 220.0h0.9v0.9h-0.9zM138.6 222.0h0.9v0.9h-0.9zM138.4 221.5h0.9v0.9h-0.9zM134.5 218.0h0.9v0.9h-0.9zM140.3 216.1h0.9v0.9h-0.9zM132.3 219.2h0.9v0.9h-0.9zM139.8 217.0h0.9v0.9h-0.9zM133.1 223.3h0.9v0.9h-0.9zM139.7 220.4h0.9v0.9h-0.9zM136.4 219.8h0.9v0.9h-0.9zM134.6 221.6h0.9v0.9h-0.9zM135.9 219.3h0.9v0.9h-0.9zM134.7 221.2h0.9v0.9h-0.9zM136.4 221.0h0.9v0.9h-0.9zM132.9 222.3h0.9v0.9h-0.9zM133.6 216.6h0.9v0.9h-0.9zM138.7 221.2h0.9v0.9h-0.9zM138.1 221.5h0.9v0.9h-0.9zM133.5 221.9h0.9v0.9h-0.9zM134.8 220.9h0.9v0.9h-0.9zM137.5 220.5h0.9v0.9h-0.9zM140.2 216.4h0.9v0.9h-0.9zM133.4 222.3h0.9v0.9h-0.9zM132.9 216.7h0.9v0.9h-0.9zM139.3 217.3h0.9v0.9h-0.9zM134.9 221.1h0.9v0.9h-0.9zM137.3 219.5h0.9v0.9h-0.9zM139.0 221.5h0.9v0.9h-0.9zM139.4 222.8h0.9v0.9h-0.9zM138.8 222.4h0.9v0.9h-0.9zM138.9 217.8h0.9v0.9h-0.9zM135.9 220.1h0.9v0.9h-0.9zM137.9 222.1h0.9v0.9h-0.9zM136.1 220.3h0.9v0.9h-0.9zM141.2 220.4h0.9v0.9h-0.9zM138.8 221.7h0.9v0.9h-0.9zM136.8 219.5h0.9v0.9h-0.9zM136.5 219.1h0.9v0.9h-0.9zM136.2 217.9h0.9v0.9h-0.9zM134.3 222.2h0.9v0.9h-0.9zM134.7 222.3h0.9v0.9h-0.9zM136.4 219.9h0.9v0.9h-0.9zM134.1 222.8h0.9v0.9h-0.9zM137.2 220.0h0.9v0.9h-0.9zM139.9 215.9h0.9v0.9h-0.9zM134.1 221.3h0.9v0.9h-0.9zM139.0 220.5h0.9v0.9h-0.9zM139.0 222.6h0.9v0.9h-0.9zM136.2 221.7h0.9v0.9h-0.9zM136.7 222.6h0.9v0.9h-0.9zM140.8 219.5h0.9v0.9h-0.9zM137.9 221.1h0.9v0.9h-0.9zM137.0 222.1h0.9v0.9h-0.9zM135.0 218.2h0.9v0.9h-0.9zM135.6 214.8h0.9v0.9h-0.9zM137.2 218.9h0.9v0.9h-0.9zM132.8 223.3h0.9v0.9h-0.9zM140.5 216.5h0.9v0.9h-0.9zM135.6 220.8h0.9v0.9h-0.9zM140.5 215.9h0.9v0.9h-0.9zM133.3 217.7h0.9v0.9h-0.9zM137.0 219.9h0.9v0.9h-0.9zM135.4 220.1h0.9v0.9h-0.9zM137.9 219.1h0.9v0.9h-0.9zM137.0 219.6h0.9v0.9h-0.9zM134.8 220.9h0.9v0.9h-0.9zM133.1 222.7h0.9v0.9h-0.9zM136.1 220.4h0.9v0.9h-0.9zM136.3 217.2h0.9v0.9h-0.9zM138.7 217.7h0.9v0.9h-0.9zM136.7 220.8h0.9v0.9h-0.9zM138.1 221.4h0.9v0.9h-0.9zM133.2 223.0h0.9v0.9h-0.9zM134.3 222.2h0.9v0.9h-0.9zM134.7 216.7h0.9v0.9h-0.9zM134.3 216.9h0.9v0.9h-0.9zM133.1 223.4h0.9v0.9h-0.9zM134.2 222.5h0.9v0.9h-0.9zM137.3 215.5h0.9v0.9h-0.9zM134.9 218.6h0.9v0.9h-0.9zM133.5 217.2h0.9v0.9h-0.9zM137.0 220.7h0.9v0.9h-0.9zM138.0 219.4h0.9v0.9h-0.9zM140.0 216.2h0.9v0.9h-0.9zM134.3 218.3h0.9v0.9h-0.9zM137.2 220.6h0.9v0.9h-0.9zM140.3 216.8h0.9v0.9h-0.9zM139.2 222.6h0.9v0.9h-0.9zM135.8 218.2h0.9v0.9h-0.9zM136.4 220.6h0.9v0.9h-0.9zM137.1 218.6h0.9v0.9h-0.9zM134.8 222.0h0.9v0.9h-0.9zM137.5 218.7h0.9v0.9h-0.9zM135.8 220.4h0.9v0.9h-0.9zM137.5 218.5h0.9v0.9h-0.9zM131.6 219.8h0.9v0.9h-0.9zM139.1 222.8h0.9v0.9h-0.9zM135.9 222.0h0.9v0.9h-0.9zM135.9 221.9h0.9v0.9h-0.9zM139.6 224.6h0.9v0.9h-0.9zM133.0 223.4h0.9v0.9h-0.9zM138.2 221.5h0.9v0.9h-0.9zM144.4 204.6h0.9v0.9h-0.9zM144.6 205.9h0.9v0.9h-0.9zM144.0 203.7h0.9v0.9h-0.9zM143.2 205.8h0.9v0.9h-0.9zM143.2 204.4h0.9v0.9h-0.9zM141.9 206.7h0.9v0.9h-0.9zM144.1 204.2h0.9v0.9h-0.9zM141.0 205.3h0.9v0.9h-0.9zM143.0 204.3h0.9v0.9h-0.9zM143.7 205.5h0.9v0.9h-0.9zM143.4 205.1h0.9v0.9h-0.9zM143.9 205.7h0.9v0.9h-0.9zM142.0 206.7h0.9v0.9h-0.9zM142.3 206.9h0.9v0.9h-0.9zM144.2 204.7h0.9v0.9h-0.9zM142.1 205.8h0.9v0.9h-0.9zM141.4 207.2h0.9v0.9h-0.9zM143.2 205.4h0.9v0.9h-0.9zM144.8 204.4h0.9v0.9h-0.9zM143.4 204.6h0.9v0.9h-0.9zM143.5 205.8h0.9v0.9h-0.9zM141.8 203.6h0.9v0.9h-0.9zM146.9 203.4h0.9v0.9h-0.9zM144.7 205.9h0.9v0.9h-0.9zM143.5 205.3h0.9v0.9h-0.9zM144.4 204.6h0.9v0.9h-0.9zM142.6 204.5h0.9v0.9h-0.9zM143.3 205.3h0.9v0.9h-0.9zM144.1 204.6h0.9v0.9h-0.9zM143.0 205.6h0.9v0.9h-0.9zM144.6 205.1h0.9v0.9h-0.9zM145.6 203.7h0.9v0.9h-0.9zM145.5 204.7h0.9v0.9h-0.9zM145.4 203.9h0.9v0.9h-0.9zM144.0 205.6h0.9v0.9h-0.9zM143.0 205.3h0.9v0.9h-0.9zM141.6 206.4h0.9v0.9h-0.9zM144.0 205.4h0.9v0.9h-0.9zM142.1 205.6h0.9v0.9h-0.9zM144.2 204.3h0.9v0.9h-0.9zM144.4 206.7h0.9v0.9h-0.9zM143.9 205.1h0.9v0.9h-0.9zM143.6 205.6h0.9v0.9h-0.9zM143.9 205.4h0.9v0.9h-0.9zM141.8 204.3h0.9v0.9h-0.9zM143.5 204.5h0.9v0.9h-0.9zM146.0 204.8h0.9v0.9h-0.9zM143.5 205.7h0.9v0.9h-0.9zM145.2 203.6h0.9v0.9h-0.9zM143.7 204.7h0.9v0.9h-0.9zM143.2 204.1h0.9v0.9h-0.9zM141.8 207.5h0.9v0.9h-0.9zM142.7 205.4h0.9v0.9h-0.9zM145.6 207.5h0.9v0.9h-0.9zM151.7 208.5h0.9v0.9h-0.9zM150.0 209.2h0.9v0.9h-0.9zM148.8 209.6h0.9v0.9h-0.9zM149.1 211.2h0.9v0.9h-0.9zM149.8 209.5h0.9v0.9h-0.9zM147.2 211.1h0.9v0.9h-0.9zM147.3 209.6h0.9v0.9h-0.9zM148.7 208.8h0.9v0.9h-0.9zM147.6 210.3h0.9v0.9h-0.9zM148.5 209.2h0.9v0.9h-0.9zM147.1 207.0h0.9v0.9h-0.9zM149.2 210.8h0.9v0.9h-0.9zM149.3 209.0h0.9v0.9h-0.9zM149.5 208.5h0.9v0.9h-0.9zM149.3 209.7h0.9v0.9h-0.9zM148.5 209.0h0.9v0.9h-0.9zM149.5 210.8h0.9v0.9h-0.9zM148.4 210.2h0.9v0.9h-0.9zM148.5 209.9h0.9v0.9h-0.9zM147.7 210.6h0.9v0.9h-0.9zM149.4 210.8h0.9v0.9h-0.9zM149.5 210.3h0.9v0.9h-0.9zM148.2 208.8h0.9v0.9h-0.9zM149.8 209.1h0.9v0.9h-0.9zM149.1 211.2h0.9v0.9h-0.9zM149.6 210.3h0.9v0.9h-0.9zM148.5 209.1h0.9v0.9h-0.9zM147.5 210.7h0.9v0.9h-0.9zM151.2 210.6h0.9v0.9h-0.9zM149.9 210.5h0.9v0.9h-0.9zM151.0 208.5h0.9v0.9h-0.9zM148.0 209.1h0.9v0.9h-0.9zM147.0 211.6h0.9v0.9h-0.9zM147.1 209.6h0.9v0.9h-0.9zM147.2 210.5h0.9v0.9h-0.9zM147.1 208.7h0.9v0.9h-0.9zM149.5 212.0h0.9v0.9h-0.9zM149.8 208.9h0.9v0.9h-0.9zM148.7 210.0h0.9v0.9h-0.9zM148.9 209.8h0.9v0.9h-0.9zM149.8 209.1h0.9v0.9h-0.9zM148.9 209.3h0.9v0.9h-0.9zM149.6 209.3h0.9v0.9h-0.9zM147.1 210.7h0.9v0.9h-0.9zM150.0 207.5h0.9v0.9h-0.9zM147.8 210.5h0.9v0.9h-0.9zM148.6 211.0h0.9v0.9h-0.9zM150.0 208.5h0.9v0.9h-0.9zM149.0 210.5h0.9v0.9h-0.9zM147.7 209.2h0.9v0.9h-0.9zM148.8 210.0h0.9v0.9h-0.9zM148.4 209.5h0.9v0.9h-0.9zM154.7 189.2h0.9v0.9h-0.9zM153.3 188.5h0.9v0.9h-0.9zM154.3 188.2h0.9v0.9h-0.9zM152.1 185.8h0.9v0.9h-0.9zM153.3 187.2h0.9v0.9h-0.9zM155.5 186.6h0.9v0.9h-0.9zM154.1 187.3h0.9v0.9h-0.9zM151.3 185.9h0.9v0.9h-0.9zM152.6 186.7h0.9v0.9h-0.9zM154.9 186.3h0.9v0.9h-0.9zM152.4 185.9h0.9v0.9h-0.9zM153.0 186.7h0.9v0.9h-0.9zM153.5 185.8h0.9v0.9h-0.9zM155.3 186.9h0.9v0.9h-0.9zM152.4 185.9h0.9v0.9h-0.9zM153.7 186.0h0.9v0.9h-0.9zM153.0 185.9h0.9v0.9h-0.9zM152.6 187.0h0.9v0.9h-0.9zM152.3 187.1h0.9v0.9h-0.9zM153.8 187.5h0.9v0.9h-0.9zM154.3 186.4h0.9v0.9h-0.9zM153.2 187.3h0.9v0.9h-0.9zM155.4 184.5h0.9v0.9h-0.9zM155.2 189.2h0.9v0.9h-0.9zM154.1 185.9h0.9v0.9h-0.9zM153.2 187.6h0.9v0.9h-0.9zM153.5 187.2h0.9v0.9h-0.9zM153.2 187.0h0.9v0.9h-0.9zM152.3 187.1h0.9v0.9h-0.9zM152.2 188.8h0.9v0.9h-0.9zM155.0 185.8h0.9v0.9h-0.9zM153.7 186.4h0.9v0.9h-0.9zM155.5 185.2h0.9v0.9h-0.9zM151.8 189.1h0.9v0.9h-0.9zM154.3 186.5h0.9v0.9h-0.9zM153.1 188.6h0.9v0.9h-0.9zM153.8 187.0h0.9v0.9h-0.9zM151.8 188.0h0.9v0.9h-0.9zM152.9 187.7h0.9v0.9h-0.9zM150.7 186.7h0.9v0.9h-0.9zM152.7 187.4h0.9v0.9h-0.9zM153.2 187.3h0.9v0.9h-0.9zM152.8 186.7h0.9v0.9h-0.9zM154.1 186.3h0.9v0.9h-0.9zM152.6 186.8h0.9v0.9h-0.9zM153.2 187.4h0.9v0.9h-0.9zM152.7 188.1h0.9v0.9h-0.9zM154.1 188.2h0.9v0.9h-0.9zM150.9 187.9h0.9v0.9h-0.9zM153.1 186.5h0.9v0.9h-0.9zM152.0 189.0h0.9v0.9h-0.9zM153.5 188.2h0.9v0.9h-0.9zM154.7 188.5h0.9v0.9h-0.9zM155.2 187.9h0.9v0.9h-0.9zM152.2 186.9h0.9v0.9h-0.9zM153.0 187.8h0.9v0.9h-0.9zM151.4 188.8h0.9v0.9h-0.9zM152.5 188.1h0.9v0.9h-0.9zM150.6 186.1h0.9v0.9h-0.9zM153.6 186.1h0.9v0.9h-0.9zM152.0 185.8h0.9v0.9h-0.9zM156.9 202.3h0.9v0.9h-0.9zM156.8 199.5h0.9v0.9h-0.9zM158.8 200.1h0.9v0.9h-0.9zM157.1 199.0h0.9v0.9h-0.9zM156.7 202.0h0.9v0.9h-0.9zM158.2 199.3h0.9v0.9h-0.9zM157.6 200.7h0.9v0.9h-0.9zM157.9 200.9h0.9v0.9h-0.9zM157.7 201.6h0.9v0.9h-0.9zM157.8 200.1h0.9v0.9h-0.9zM156.9 199.7h0.9v0.9h-0.9zM158.0 200.1h0.9v0.9h-0.9zM158.6 199.7h0.9v0.9h-0.9zM158.0 201.9h0.9v0.9h-0.9zM157.5 200.9h0.9v0.9h-0.9zM158.2 200.8h0.9v0.9h-0.9zM158.1 201.7h0.9v0.9h-0.9zM157.5 201.1h0.9v0.9h-0.9zM157.0 202.9h0.9v0.9h-0.9zM159.4 199.0h0.9v0.9h-0.9zM157.6 200.6h0.9v0.9h-0.9zM157.1 202.5h0.9v0.9h-0.9zM158.3 202.5h0.9v0.9h-0.9zM156.0 203.2h0.9v0.9h-0.9zM157.0 202.0h0.9v0.9h-0.9zM158.2 200.8h0.9v0.9h-0.9zM157.8 200.3h0.9v0.9h-0.9zM158.7 199.1h0.9v0.9h-0.9zM156.3 202.2h0.9v0.9h-0.9zM156.6 199.7h0.9v0.9h-0.9zM156.8 201.2h0.9v0.9h-0.9zM156.9 200.8h0.9v0.9h-0.9zM157.7 200.4h0.9v0.9h-0.9zM158.9 202.3h0.9v0.9h-0.9zM156.0 202.2h0.9v0.9h-0.9zM157.5 200.8h0.9v0.9h-0.9zM157.2 202.0h0.9v0.9h-0.9zM158.9 199.7h0.9v0.9h-0.9zM157.6 199.9h0.9v0.9h-0.9zM157.3 201.9h0.9v0.9h-0.9zM156.7 201.5h0.9v0.9h-0.9zM158.5 201.1h0.9v0.9h-0.9zM157.3 201.4h0.9v0.9h-0.9zM157.6 200.9h0.9v0.9h-0.9zM160.9 191.9h0.9v0.9h-0.9zM160.6 191.7h0.9v0.9h-0.9zM161.0 192.2h0.9v0.9h-0.9zM161.7 191.0h0.9v0.9h-0.9zM162.8 192.3h0.9v0.9h-0.9zM163.2 193.4h0.9v0.9h-0.9zM161.8 191.6h0.9v0.9h-0.9zM162.6 191.5h0.9v0.9h-0.9zM161.2 191.0h0.9v0.9h-0.9zM161.1 191.1h0.9v0.9h-0.9zM162.3 192.3h0.9v0.9h-0.9zM161.7 191.5h0.9v0.9h-0.9zM162.7 192.1h0.9v0.9h-0.9zM162.1 191.4h0.9v0.9h-0.9zM160.7 190.8h0.9v0.9h-0.9zM163.1 191.2h0.9v0.9h-0.9zM163.1 192.5h0.9v0.9h-0.9zM160.6 192.3h0.9v0.9h-0.9zM160.1 191.7h0.9v0.9h-0.9zM160.4 190.2h0.9v0.9h-0.9zM161.1 190.7h0.9v0.9h-0.9zM161.7 191.2h0.9v0.9h-0.9zM159.9 192.7h0.9v0.9h-0.9zM161.0 191.9h0.9v0.9h-0.9zM162.1 193.3h0.9v0.9h-0.9zM163.1 190.9h0.9v0.9h-0.9zM162.0 191.8h0.9v0.9h-0.9zM162.7 192.7h0.9v0.9h-0.9zM159.7 192.6h0.9v0.9h-0.9zM161.7 192.1h0.9v0.9h-0.9zM162.9 190.6h0.9v0.9h-0.9zM161.4 192.7h0.9v0.9h-0.9zM162.8 190.7h0.9v0.9h-0.9zM163.4 190.6h0.9v0.9h-0.9zM161.7 191.2h0.9v0.9h-0.9zM161.3 190.9h0.9v0.9h-0.9zM165.4 198.7h0.9v0.9h-0.9zM165.3 194.7h0.9v0.9h-0.9zM166.7 196.0h0.9v0.9h-0.9zM166.6 195.6h0.9v0.9h-0.9zM167.3 196.5h0.9v0.9h-0.9zM165.8 195.0h0.9v0.9h-0.9zM164.6 197.7h0.9v0.9h-0.9zM168.8 197.1h0.9v0.9h-0.9zM167.6 197.7h0.9v0.9h-0.9zM165.2 196.6h0.9v0.9h-0.9zM165.9 196.0h0.9v0.9h-0.9zM166.4 197.1h0.9v0.9h-0.9zM166.3 196.0h0.9v0.9h-0.9zM166.3 196.5h0.9v0.9h-0.9zM166.3 195.8h0.9v0.9h-0.9zM168.5 197.1h0.9v0.9h-0.9zM167.0 193.2h0.9v0.9h-0.9zM167.6 197.9h0.9v0.9h-0.9zM168.0 197.9h0.9v0.9h-0.9zM166.2 195.7h0.9v0.9h-0.9zM167.0 196.5h0.9v0.9h-0.9zM168.1 197.4h0.9v0.9h-0.9zM166.3 196.5h0.9v0.9h-0.9zM164.4 197.9h0.9v0.9h-0.9zM166.9 197.5h0.9v0.9h-0.9zM166.3 198.4h0.9v0.9h-0.9zM165.4 196.4h0.9v0.9h-0.9zM166.2 195.5h0.9v0.9h-0.9zM167.1 193.9h0.9v0.9h-0.9zM165.0 196.5h0.9v0.9h-0.9zM165.7 197.0h0.9v0.9h-0.9zM167.6 194.4h0.9v0.9h-0.9zM168.3 195.8h0.9v0.9h-0.9zM166.0 196.2h0.9v0.9h-0.9zM165.8 195.5h0.9v0.9h-0.9zM166.6 195.7h0.9v0.9h-0.9zM166.5 195.9h0.9v0.9h-0.9zM167.0 196.1h0.9v0.9h-0.9zM167.1 195.1h0.9v0.9h-0.9zM166.9 194.5h0.9v0.9h-0.9zM167.2 197.9h0.9v0.9h-0.9zM167.3 193.9h0.9v0.9h-0.9zM166.2 195.8h0.9v0.9h-0.9zM166.0 196.8h0.9v0.9h-0.9zM165.3 197.1h0.9v0.9h-0.9zM167.4 196.8h0.9v0.9h-0.9zM168.3 194.6h0.9v0.9h-0.9zM165.3 196.2h0.9v0.9h-0.9zM166.1 197.3h0.9v0.9h-0.9zM164.7 198.1h0.9v0.9h-0.9zM165.1 196.1h0.9v0.9h-0.9zM165.1 197.8h0.9v0.9h-0.9zM164.8 197.5h0.9v0.9h-0.9zM165.9 195.3h0.9v0.9h-0.9zM164.3 197.4h0.9v0.9h-0.9zM166.5 196.4h0.9v0.9h-0.9zM164.4 197.9h0.9v0.9h-0.9zM166.1 196.4h0.9v0.9h-0.9zM166.7 196.1h0.9v0.9h-0.9zM165.3 195.8h0.9v0.9h-0.9zM165.7 195.6h0.9v0.9h-0.9zM165.8 195.2h0.9v0.9h-0.9zM165.7 197.4h0.9v0.9h-0.9zM167.3 197.9h0.9v0.9h-0.9zM166.0 196.3h0.9v0.9h-0.9zM169.5 184.0h0.9v0.9h-0.9zM169.5 183.5h0.9v0.9h-0.9zM172.7 181.3h0.9v0.9h-0.9zM169.8 182.0h0.9v0.9h-0.9zM171.3 181.3h0.9v0.9h-0.9zM171.8 182.4h0.9v0.9h-0.9zM171.5 182.4h0.9v0.9h-0.9zM171.0 182.5h0.9v0.9h-0.9zM171.7 182.2h0.9v0.9h-0.9zM168.6 183.3h0.9v0.9h-0.9zM169.4 182.9h0.9v0.9h-0.9zM170.7 182.1h0.9v0.9h-0.9zM169.6 184.1h0.9v0.9h-0.9zM171.8 182.2h0.9v0.9h-0.9zM170.6 182.6h0.9v0.9h-0.9zM170.2 181.9h0.9v0.9h-0.9zM171.3 183.1h0.9v0.9h-0.9zM170.7 182.3h0.9v0.9h-0.9zM171.9 184.3h0.9v0.9h-0.9zM170.6 182.9h0.9v0.9h-0.9zM172.1 181.5h0.9v0.9h-0.9zM169.8 183.6h0.9v0.9h-0.9zM170.3 183.1h0.9v0.9h-0.9zM169.6 182.5h0.9v0.9h-0.9zM171.2 183.5h0.9v0.9h-0.9zM170.4 183.1h0.9v0.9h-0.9zM169.7 184.2h0.9v0.9h-0.9zM172.4 183.8h0.9v0.9h-0.9zM171.8 183.6h0.9v0.9h-0.9zM172.4 181.5h0.9v0.9h-0.9zM169.0 184.5h0.9v0.9h-0.9zM170.6 183.2h0.9v0.9h-0.9zM172.2 183.5h0.9v0.9h-0.9zM170.0 183.0h0.9v0.9h-0.9zM169.9 181.8h0.9v0.9h-0.9zM169.8 182.9h0.9v0.9h-0.9zM170.7 181.6h0.9v0.9h-0.9zM171.5 182.9h0.9v0.9h-0.9zM168.9 184.1h0.9v0.9h-0.9zM172.6 183.0h0.9v0.9h-0.9zM175.9 173.7h0.9v0.9h-0.9zM175.0 173.8h0.9v0.9h-0.9zM177.3 173.6h0.9v0.9h-0.9zM178.4 174.0h0.9v0.9h-0.9zM177.3 170.0h0.9v0.9h-0.9zM174.6 174.4h0.9v0.9h-0.9zM175.4 172.7h0.9v0.9h-0.9zM178.3 171.0h0.9v0.9h-0.9zM176.7 172.2h0.9v0.9h-0.9zM176.8 171.4h0.9v0.9h-0.9zM178.7 170.2h0.9v0.9h-0.9zM178.7 172.0h0.9v0.9h-0.9zM178.4 173.6h0.9v0.9h-0.9zM180.3 174.5h0.9v0.9h-0.9zM179.0 170.9h0.9v0.9h-0.9zM174.5 174.1h0.9v0.9h-0.9zM177.5 173.8h0.9v0.9h-0.9zM179.3 172.6h0.9v0.9h-0.9zM174.1 174.9h0.9v0.9h-0.9zM175.8 174.1h0.9v0.9h-0.9zM178.9 174.9h0.9v0.9h-0.9zM175.5 171.9h0.9v0.9h-0.9zM174.8 171.4h0.9v0.9h-0.9zM177.7 171.6h0.9v0.9h-0.9zM175.1 171.4h0.9v0.9h-0.9zM174.7 170.5h0.9v0.9h-0.9zM176.1 172.1h0.9v0.9h-0.9zM176.5 171.9h0.9v0.9h-0.9zM175.2 173.6h0.9v0.9h-0.9zM179.7 170.0h0.9v0.9h-0.9zM177.9 174.1h0.9v0.9h-0.9zM179.3 170.0h0.9v0.9h-0.9zM177.0 172.1h0.9v0.9h-0.9zM177.2 171.7h0.9v0.9h-0.9zM175.8 171.4h0.9v0.9h-0.9zM175.0 174.0h0.9v0.9h-0.9zM177.0 172.3h0.9v0.9h-0.9zM178.0 171.7h0.9v0.9h-0.9zM176.6 171.8h0.9v0.9h-0.9zM176.1 173.8h0.9v0.9h-0.9zM175.6 174.2h0.9v0.9h-0.9zM177.6 171.6h0.9v0.9h-0.9zM175.4 170.9h0.9v0.9h-0.9zM177.2 172.6h0.9v0.9h-0.9zM178.4 171.5h0.9v0.9h-0.9zM173.9 175.6h0.9v0.9h-0.9zM177.3 172.4h0.9v0.9h-0.9zM178.7 172.4h0.9v0.9h-0.9zM177.0 173.1h0.9v0.9h-0.9zM178.4 171.9h0.9v0.9h-0.9zM176.9 171.6h0.9v0.9h-0.9zM176.7 173.0h0.9v0.9h-0.9zM178.0 171.0h0.9v0.9h-0.9zM174.2 175.0h0.9v0.9h-0.9zM177.5 172.1h0.9v0.9h-0.9zM178.0 172.5h0.9v0.9h-0.9zM177.8 171.9h0.9v0.9h-0.9zM176.8 172.8h0.9v0.9h-0.9zM177.5 173.8h0.9v0.9h-0.9zM176.4 174.4h0.9v0.9h-0.9zM177.3 170.7h0.9v0.9h-0.9zM176.6 173.6h0.9v0.9h-0.9zM178.2 173.9h0.9v0.9h-0.9zM174.4 173.4h0.9v0.9h-0.9zM176.3 174.9h0.9v0.9h-0.9zM178.9 174.5h0.9v0.9h-0.9zM178.0 172.8h0.9v0.9h-0.9zM178.0 171.8h0.9v0.9h-0.9zM176.6 172.8h0.9v0.9h-0.9zM174.0 170.7h0.9v0.9h-0.9zM178.4 171.7h0.9v0.9h-0.9zM174.4 173.9h0.9v0.9h-0.9zM179.2 170.5h0.9v0.9h-0.9zM177.0 172.0h0.9v0.9h-0.9zM173.4 175.1h0.9v0.9h-0.9zM176.5 173.0h0.9v0.9h-0.9zM178.3 170.9h0.9v0.9h-0.9zM174.0 170.7h0.9v0.9h-0.9zM175.6 174.7h0.9v0.9h-0.9zM176.1 171.6h0.9v0.9h-0.9zM178.0 172.1h0.9v0.9h-0.9zM175.9 172.8h0.9v0.9h-0.9zM179.0 171.1h0.9v0.9h-0.9zM175.4 171.0h0.9v0.9h-0.9zM175.6 173.3h0.9v0.9h-0.9zM174.6 174.2h0.9v0.9h-0.9zM176.9 173.3h0.9v0.9h-0.9zM178.4 172.1h0.9v0.9h-0.9zM179.0 174.4h0.9v0.9h-0.9zM177.0 173.7h0.9v0.9h-0.9zM179.5 172.9h0.9v0.9h-0.9zM176.6 173.8h0.9v0.9h-0.9zM176.1 173.3h0.9v0.9h-0.9zM176.1 174.9h0.9v0.9h-0.9zM174.6 174.4h0.9v0.9h-0.9zM177.8 170.9h0.9v0.9h-0.9zM178.1 171.2h0.9v0.9h-0.9zM175.7 173.5h0.9v0.9h-0.9zM178.1 171.5h0.9v0.9h-0.9zM178.2 171.4h0.9v0.9h-0.9zM181.7 168.3h0.9v0.9h-0.9zM182.8 166.5h0.9v0.9h-0.9zM183.1 166.6h0.9v0.9h-0.9zM187.1 162.8h0.9v0.9h-0.9zM186.1 164.3h0.9v0.9h-0.9zM187.4 162.0h0.9v0.9h-0.9zM186.0 166.8h0.9v0.9h-0.9zM187.8 160.9h0.9v0.9h-0.9zM180.5 169.1h0.9v0.9h-0.9zM181.6 163.2h0.9v0.9h-0.9zM184.0 165.9h0.9v0.9h-0.9zM185.5 166.5h0.9v0.9h-0.9zM187.2 166.7h0.9v0.9h-0.9zM187.5 167.9h0.9v0.9h-0.9zM184.0 165.9h0.9v0.9h-0.9zM184.8 168.6h0.9v0.9h-0.9zM184.9 164.8h0.9v0.9h-0.9zM180.8 163.8h0.9v0.9h-0.9zM186.9 163.7h0.9v0.9h-0.9zM187.0 162.7h0.9v0.9h-0.9zM182.4 164.3h0.9v0.9h-0.9zM184.5 166.7h0.9v0.9h-0.9zM183.9 164.4h0.9v0.9h-0.9zM185.2 164.2h0.9v0.9h-0.9zM181.2 164.2h0.9v0.9h-0.9zM181.8 166.2h0.9v0.9h-0.9zM184.6 165.4h0.9v0.9h-0.9zM187.0 163.2h0.9v0.9h-0.9zM186.3 167.2h0.9v0.9h-0.9zM183.1 166.8h0.9v0.9h-0.9zM181.6 165.1h0.9v0.9h-0.9zM184.2 164.6h0.9v0.9h-0.9zM184.7 164.4h0.9v0.9h-0.9zM181.9 167.7h0.9v0.9h-0.9zM186.6 163.8h0.9v0.9h-0.9zM182.2 167.1h0.9v0.9h-0.9zM184.3 165.0h0.9v0.9h-0.9zM183.7 165.5h0.9v0.9h-0.9zM181.1 169.1h0.9v0.9h-0.9zM187.6 161.9h0.9v0.9h-0.9zM185.7 166.0h0.9v0.9h-0.9zM183.3 163.8h0.9v0.9h-0.9zM187.8 164.8h0.9v0.9h-0.9zM184.4 165.3h0.9v0.9h-0.9zM181.3 168.7h0.9v0.9h-0.9zM182.6 163.2h0.9v0.9h-0.9zM187.5 162.7h0.9v0.9h-0.9zM183.1 167.0h0.9v0.9h-0.9zM181.4 165.3h0.9v0.9h-0.9zM185.5 164.2h0.9v0.9h-0.9zM182.1 167.5h0.9v0.9h-0.9zM181.6 162.9h0.9v0.9h-0.9zM184.7 165.2h0.9v0.9h-0.9zM183.9 165.2h0.9v0.9h-0.9zM182.3 162.4h0.9v0.9h-0.9zM183.5 166.1h0.9v0.9h-0.9zM181.2 168.2h0.9v0.9h-0.9zM187.9 168.3h0.9v0.9h-0.9zM186.5 167.3h0.9v0.9h-0.9zM187.6 162.5h0.9v0.9h-0.9zM185.2 164.3h0.9v0.9h-0.9zM183.4 165.8h0.9v0.9h-0.9zM183.2 164.0h0.9v0.9h-0.9zM183.3 165.8h0.9v0.9h-0.9zM186.1 166.5h0.9v0.9h-0.9zM182.1 162.3h0.9v0.9h-0.9zM182.4 163.1h0.9v0.9h-0.9zM185.5 164.8h0.9v0.9h-0.9zM182.3 162.5h0.9v0.9h-0.9zM183.8 166.2h0.9v0.9h-0.9zM180.7 169.8h0.9v0.9h-0.9zM186.8 165.5h0.9v0.9h-0.9zM186.8 166.3h0.9v0.9h-0.9zM185.8 165.1h0.9v0.9h-0.9zM186.2 164.7h0.9v0.9h-0.9zM185.1 166.5h0.9v0.9h-0.9zM186.6 163.0h0.9v0.9h-0.9zM185.6 164.2h0.9v0.9h-0.9zM187.2 162.7h0.9v0.9h-0.9zM187.1 167.8h0.9v0.9h-0.9zM181.2 162.4h0.9v0.9h-0.9zM181.6 162.5h0.9v0.9h-0.9zM184.7 165.6h0.9v0.9h-0.9zM188.6 161.7h0.9v0.9h-0.9zM181.5 162.5h0.9v0.9h-0.9zM184.3 164.8h0.9v0.9h-0.9zM187.9 162.0h0.9v0.9h-0.9zM187.4 162.2h0.9v0.9h-0.9zM185.0 165.5h0.9v0.9h-0.9zM183.4 167.3h0.9v0.9h-0.9zM185.3 164.5h0.9v0.9h-0.9zM183.1 167.0h0.9v0.9h-0.9zM188.1 162.0h0.9v0.9h-0.9zM181.8 168.1h0.9v0.9h-0.9zM183.5 165.4h0.9v0.9h-0.9zM184.3 164.9h0.9v0.9h-0.9zM182.7 168.7h0.9v0.9h-0.9zM185.4 162.8h0.9v0.9h-0.9zM182.7 166.9h0.9v0.9h-0.9zM185.8 163.7h0.9v0.9h-0.9zM182.9 167.1h0.9v0.9h-0.9zM182.5 162.9h0.9v0.9h-0.9zM186.0 163.5h0.9v0.9h-0.9zM184.0 166.9h0.9v0.9h-0.9zM183.0 163.8h0.9v0.9h-0.9zM187.9 161.8h0.9v0.9h-0.9zM184.5 164.4h0.9v0.9h-0.9zM185.1 167.8h0.9v0.9h-0.9zM183.9 164.7h0.9v0.9h-0.9zM187.4 162.6h0.9v0.9h-0.9zM187.9 164.0h0.9v0.9h-0.9zM189.6 163.7h0.9v0.9h-0.9zM182.0 166.7h0.9v0.9h-0.9zM186.7 163.1h0.9v0.9h-0.9zM182.9 166.5h0.9v0.9h-0.9zM186.9 161.5h0.9v0.9h-0.9zM183.0 164.7h0.9v0.9h-0.9zM186.7 168.0h0.9v0.9h-0.9zM181.7 162.2h0.9v0.9h-0.9zM184.8 163.8h0.9v0.9h-0.9zM182.8 166.8h0.9v0.9h-0.9zM186.0 164.3h0.9v0.9h-0.9zM184.0 166.0h0.9v0.9h-0.9zM184.2 164.9h0.9v0.9h-0.9zM185.2 164.9h0.9v0.9h-0.9zM185.2 164.4h0.9v0.9h-0.9zM184.7 165.9h0.9v0.9h-0.9zM186.4 164.9h0.9v0.9h-0.9zM182.8 162.1h0.9v0.9h-0.9zM187.2 164.3h0.9v0.9h-0.9zM183.4 166.6h0.9v0.9h-0.9zM184.9 165.2h0.9v0.9h-0.9zM186.9 162.6h0.9v0.9h-0.9zM187.3 161.6h0.9v0.9h-0.9zM184.5 165.4h0.9v0.9h-0.9zM181.8 163.2h0.9v0.9h-0.9zM185.6 163.7h0.9v0.9h-0.9zM182.1 163.9h0.9v0.9h-0.9zM182.8 166.7h0.9v0.9h-0.9zM183.0 164.0h0.9v0.9h-0.9zM185.5 164.2h0.9v0.9h-0.9zM183.6 163.6h0.9v0.9h-0.9zM185.2 163.6h0.9v0.9h-0.9zM183.0 163.6h0.9v0.9h-0.9zM184.7 164.9h0.9v0.9h-0.9zM184.7 165.5h0.9v0.9h-0.9zM182.6 167.6h0.9v0.9h-0.9zM185.4 167.4h0.9v0.9h-0.9zM186.9 162.5h0.9v0.9h-0.9zM180.9 168.0h0.9v0.9h-0.9zM184.8 165.4h0.9v0.9h-0.9zM181.7 167.9h0.9v0.9h-0.9zM183.4 164.5h0.9v0.9h-0.9zM186.1 164.4h0.9v0.9h-0.9zM184.2 165.9h0.9v0.9h-0.9zM183.5 168.4h0.9v0.9h-0.9zM186.1 163.7h0.9v0.9h-0.9zM183.8 163.6h0.9v0.9h-0.9zM186.5 163.5h0.9v0.9h-0.9zM192.5 177.8h0.9v0.9h-0.9zM191.5 179.5h0.9v0.9h-0.9zM191.0 179.9h0.9v0.9h-0.9zM192.5 179.2h0.9v0.9h-0.9zM192.9 176.9h0.9v0.9h-0.9zM192.9 176.7h0.9v0.9h-0.9zM188.7 176.5h0.9v0.9h-0.9zM191.7 178.1h0.9v0.9h-0.9zM191.0 178.2h0.9v0.9h-0.9zM192.0 179.2h0.9v0.9h-0.9zM192.0 178.8h0.9v0.9h-0.9zM189.9 180.9h0.9v0.9h-0.9zM192.3 179.3h0.9v0.9h-0.9zM191.1 178.1h0.9v0.9h-0.9zM190.6 177.9h0.9v0.9h-0.9zM190.4 180.0h0.9v0.9h-0.9zM189.8 180.4h0.9v0.9h-0.9zM190.2 176.6h0.9v0.9h-0.9zM191.5 179.1h0.9v0.9h-0.9zM190.5 177.2h0.9v0.9h-0.9zM190.4 177.8h0.9v0.9h-0.9zM192.1 177.6h0.9v0.9h-0.9zM191.9 177.8h0.9v0.9h-0.9zM190.4 180.4h0.9v0.9h-0.9zM193.8 180.6h0.9v0.9h-0.9zM191.7 179.0h0.9v0.9h-0.9zM192.2 178.0h0.9v0.9h-0.9zM190.7 178.1h0.9v0.9h-0.9zM191.3 178.1h0.9v0.9h-0.9zM189.7 180.0h0.9v0.9h-0.9zM193.2 179.6h0.9v0.9h-0.9zM193.8 180.1h0.9v0.9h-0.9zM190.3 176.8h0.9v0.9h-0.9zM190.6 180.8h0.9v0.9h-0.9zM192.6 176.1h0.9v0.9h-0.9zM192.1 177.5h0.9v0.9h-0.9zM190.2 177.2h0.9v0.9h-0.9zM192.5 180.3h0.9v0.9h-0.9zM191.7 178.3h0.9v0.9h-0.9zM193.7 180.2h0.9v0.9h-0.9zM191.3 180.9h0.9v0.9h-0.9zM190.8 180.1h0.9v0.9h-0.9zM192.7 179.2h0.9v0.9h-0.9zM193.5 176.9h0.9v0.9h-0.9zM192.8 177.0h0.9v0.9h-0.9zM191.9 178.2h0.9v0.9h-0.9zM190.8 179.5h0.9v0.9h-0.9zM190.1 178.2h0.9v0.9h-0.9zM190.7 177.9h0.9v0.9h-0.9zM192.5 177.2h0.9v0.9h-0.9zM193.1 176.3h0.9v0.9h-0.9zM190.2 177.4h0.9v0.9h-0.9zM193.2 177.3h0.9v0.9h-0.9zM192.6 179.4h0.9v0.9h-0.9zM191.5 177.7h0.9v0.9h-0.9zM193.0 180.3h0.9v0.9h-0.9zM191.7 179.3h0.9v0.9h-0.9zM191.8 178.5h0.9v0.9h-0.9zM190.0 179.3h0.9v0.9h-0.9zM190.9 179.4h0.9v0.9h-0.9zM193.1 177.0h0.9v0.9h-0.9zM192.6 177.8h0.9v0.9h-0.9zM191.1 177.8h0.9v0.9h-0.9zM191.2 178.3h0.9v0.9h-0.9zM190.1 181.0h0.9v0.9h-0.9zM198.4 159.7h0.9v0.9h-0.9zM197.2 158.1h0.9v0.9h-0.9zM195.8 159.0h0.9v0.9h-0.9zM196.7 158.8h0.9v0.9h-0.9zM197.1 157.8h0.9v0.9h-0.9zM196.3 157.6h0.9v0.9h-0.9zM197.5 156.3h0.9v0.9h-0.9zM196.9 158.7h0.9v0.9h-0.9zM196.4 158.6h0.9v0.9h-0.9zM197.3 158.6h0.9v0.9h-0.9zM197.9 159.4h0.9v0.9h-0.9zM197.0 157.4h0.9v0.9h-0.9zM196.6 158.4h0.9v0.9h-0.9zM196.4 159.6h0.9v0.9h-0.9zM197.6 159.1h0.9v0.9h-0.9zM198.8 159.8h0.9v0.9h-0.9zM195.9 158.3h0.9v0.9h-0.9zM195.1 157.5h0.9v0.9h-0.9zM197.5 155.6h0.9v0.9h-0.9zM198.0 156.8h0.9v0.9h-0.9zM194.1 159.1h0.9v0.9h-0.9zM194.9 155.6h0.9v0.9h-0.9zM197.4 156.4h0.9v0.9h-0.9zM195.8 158.5h0.9v0.9h-0.9zM195.7 157.4h0.9v0.9h-0.9zM197.5 156.5h0.9v0.9h-0.9zM197.4 159.9h0.9v0.9h-0.9zM197.4 156.9h0.9v0.9h-0.9zM197.5 158.5h0.9v0.9h-0.9zM195.7 159.2h0.9v0.9h-0.9zM197.2 156.7h0.9v0.9h-0.9zM195.4 156.2h0.9v0.9h-0.9zM196.2 157.6h0.9v0.9h-0.9zM197.8 156.9h0.9v0.9h-0.9zM197.3 157.0h0.9v0.9h-0.9zM197.6 160.0h0.9v0.9h-0.9zM196.0 157.5h0.9v0.9h-0.9zM196.1 158.3h0.9v0.9h-0.9zM196.8 157.0h0.9v0.9h-0.9zM197.2 156.7h0.9v0.9h-0.9zM194.9 157.0h0.9v0.9h-0.9zM197.0 159.3h0.9v0.9h-0.9zM197.6 156.3h0.9v0.9h-0.9zM196.3 156.8h0.9v0.9h-0.9zM196.3 159.0h0.9v0.9h-0.9zM197.1 158.6h0.9v0.9h-0.9zM198.1 156.1h0.9v0.9h-0.9zM195.4 156.8h0.9v0.9h-0.9zM195.4 156.1h0.9v0.9h-0.9zM195.1 157.4h0.9v0.9h-0.9zM198.3 156.1h0.9v0.9h-0.9zM196.9 157.4h0.9v0.9h-0.9zM194.6 160.3h0.9v0.9h-0.9zM195.5 159.3h0.9v0.9h-0.9zM195.7 157.4h0.9v0.9h-0.9zM198.4 156.7h0.9v0.9h-0.9zM195.9 158.8h0.9v0.9h-0.9zM196.4 157.8h0.9v0.9h-0.9zM198.9 161.1h0.9v0.9h-0.9zM196.5 157.6h0.9v0.9h-0.9zM196.7 158.4h0.9v0.9h-0.9zM195.2 159.7h0.9v0.9h-0.9zM195.7 156.2h0.9v0.9h-0.9zM198.0 159.7h0.9v0.9h-0.9zM195.6 155.8h0.9v0.9h-0.9zM196.8 158.2h0.9v0.9h-0.9zM195.7 157.8h0.9v0.9h-0.9zM197.3 159.0h0.9v0.9h-0.9zM202.1 152.0h0.9v0.9h-0.9zM203.3 154.7h0.9v0.9h-0.9zM202.6 152.3h0.9v0.9h-0.9zM202.7 150.5h0.9v0.9h-0.9zM205.2 151.2h0.9v0.9h-0.9zM201.4 151.4h0.9v0.9h-0.9zM204.4 148.9h0.9v0.9h-0.9zM204.8 148.9h0.9v0.9h-0.9zM201.1 152.5h0.9v0.9h-0.9zM201.1 150.3h0.9v0.9h-0.9zM202.0 151.8h0.9v0.9h-0.9zM202.1 151.5h0.9v0.9h-0.9zM204.2 149.0h0.9v0.9h-0.9zM203.6 153.1h0.9v0.9h-0.9zM202.0 150.8h0.9v0.9h-0.9zM199.0 150.2h0.9v0.9h-0.9zM203.5 152.9h0.9v0.9h-0.9zM202.5 151.0h0.9v0.9h-0.9zM202.4 151.2h0.9v0.9h-0.9zM202.0 152.0h0.9v0.9h-0.9zM200.7 154.6h0.9v0.9h-0.9zM202.4 150.8h0.9v0.9h-0.9zM202.4 149.8h0.9v0.9h-0.9zM202.4 150.9h0.9v0.9h-0.9zM202.8 151.6h0.9v0.9h-0.9zM200.2 150.2h0.9v0.9h-0.9zM200.1 150.0h0.9v0.9h-0.9zM204.6 149.6h0.9v0.9h-0.9zM201.1 152.3h0.9v0.9h-0.9zM200.5 153.0h0.9v0.9h-0.9zM202.9 152.5h0.9v0.9h-0.9zM197.4 150.4h0.9v0.9h-0.9zM201.4 150.6h0.9v0.9h-0.9zM202.9 151.1h0.9v0.9h-0.9zM202.8 152.1h0.9v0.9h-0.9zM204.1 149.0h0.9v0.9h-0.9zM202.2 151.0h0.9v0.9h-0.9zM199.7 154.8h0.9v0.9h-0.9zM201.6 151.9h0.9v0.9h-0.9zM202.7 152.1h0.9v0.9h-0.9zM203.5 150.6h0.9v0.9h-0.9zM201.3 153.3h0.9v0.9h-0.9zM201.3 150.9h0.9v0.9h-0.9zM203.9 149.7h0.9v0.9h-0.9zM201.2 150.4h0.9v0.9h-0.9zM200.5 152.9h0.9v0.9h-0.9zM204.1 150.1h0.9v0.9h-0.9zM203.3 149.6h0.9v0.9h-0.9zM201.3 151.7h0.9v0.9h-0.9zM202.2 151.9h0.9v0.9h-0.9zM203.3 148.2h0.9v0.9h-0.9zM204.1 148.9h0.9v0.9h-0.9zM201.7 152.0h0.9v0.9h-0.9zM204.1 152.9h0.9v0.9h-0.9zM201.9 151.4h0.9v0.9h-0.9zM203.9 150.1h0.9v0.9h-0.9zM202.5 152.1h0.9v0.9h-0.9zM202.0 150.9h0.9v0.9h-0.9zM202.2 151.7h0.9v0.9h-0.9zM202.0 151.2h0.9v0.9h-0.9zM203.3 152.0h0.9v0.9h-0.9zM199.9 149.6h0.9v0.9h-0.9zM203.5 150.4h0.9v0.9h-0.9zM202.1 150.9h0.9v0.9h-0.9zM201.3 153.1h0.9v0.9h-0.9zM201.2 152.6h0.9v0.9h-0.9zM204.2 150.2h0.9v0.9h-0.9zM199.1 154.1h0.9v0.9h-0.9zM200.4 150.5h0.9v0.9h-0.9zM203.6 150.0h0.9v0.9h-0.9zM202.1 152.3h0.9v0.9h-0.9zM200.9 151.7h0.9v0.9h-0.9zM200.4 150.1h0.9v0.9h-0.9zM202.3 151.5h0.9v0.9h-0.9zM201.6 153.7h0.9v0.9h-0.9zM202.5 150.0h0.9v0.9h-0.9zM200.4 149.6h0.9v0.9h-0.9zM203.9 150.2h0.9v0.9h-0.9zM201.2 150.6h0.9v0.9h-0.9zM199.7 153.9h0.9v0.9h-0.9zM204.8 147.7h0.9v0.9h-0.9zM203.1 152.9h0.9v0.9h-0.9zM202.1 150.8h0.9v0.9h-0.9zM200.4 152.4h0.9v0.9h-0.9zM204.6 149.5h0.9v0.9h-0.9zM201.2 151.9h0.9v0.9h-0.9zM205.2 149.0h0.9v0.9h-0.9zM202.9 149.9h0.9v0.9h-0.9zM203.5 152.9h0.9v0.9h-0.9zM202.4 151.2h0.9v0.9h-0.9zM201.3 151.3h0.9v0.9h-0.9zM202.1 150.6h0.9v0.9h-0.9zM200.6 149.7h0.9v0.9h-0.9zM200.3 149.6h0.9v0.9h-0.9zM203.2 152.4h0.9v0.9h-0.9zM201.3 151.2h0.9v0.9h-0.9zM200.3 149.0h0.9v0.9h-0.9zM210.1 140.7h0.9v0.9h-0.9zM207.9 141.0h0.9v0.9h-0.9zM206.0 144.4h0.9v0.9h-0.9zM208.7 141.5h0.9v0.9h-0.9zM206.6 142.3h0.9v0.9h-0.9zM209.1 142.3h0.9v0.9h-0.9zM206.3 144.2h0.9v0.9h-0.9zM208.9 139.3h0.9v0.9h-0.9zM210.2 140.1h0.9v0.9h-0.9zM208.6 142.9h0.9v0.9h-0.9zM211.0 140.0h0.9v0.9h-0.9zM207.5 143.2h0.9v0.9h-0.9zM207.8 143.2h0.9v0.9h-0.9zM208.5 142.0h0.9v0.9h-0.9zM210.5 141.5h0.9v0.9h-0.9zM207.0 142.2h0.9v0.9h-0.9zM206.0 144.2h0.9v0.9h-0.9zM206.3 144.1h0.9v0.9h-0.9zM211.4 139.8h0.9v0.9h-0.9zM211.0 142.6h0.9v0.9h-0.9zM206.2 141.2h0.9v0.9h-0.9zM207.6 142.1h0.9v0.9h-0.9zM210.9 141.4h0.9v0.9h-0.9zM210.0 140.8h0.9v0.9h-0.9zM208.3 142.2h0.9v0.9h-0.9zM211.2 140.1h0.9v0.9h-0.9zM206.6 144.1h0.9v0.9h-0.9zM206.7 144.9h0.9v0.9h-0.9zM209.3 141.7h0.9v0.9h-0.9zM206.5 144.8h0.9v0.9h-0.9zM206.9 143.3h0.9v0.9h-0.9zM206.4 143.4h0.9v0.9h-0.9zM209.3 141.9h0.9v0.9h-0.9zM208.9 142.8h0.9v0.9h-0.9zM205.2 142.7h0.9v0.9h-0.9zM209.8 143.1h0.9v0.9h-0.9zM209.8 142.1h0.9v0.9h-0.9zM209.0 142.1h0.9v0.9h-0.9zM207.4 142.7h0.9v0.9h-0.9zM206.8 143.5h0.9v0.9h-0.9zM207.4 142.7h0.9v0.9h-0.9zM207.1 143.7h0.9v0.9h-0.9zM208.2 142.1h0.9v0.9h-0.9zM206.7 140.8h0.9v0.9h-0.9zM209.3 143.0h0.9v0.9h-0.9zM209.5 141.8h0.9v0.9h-0.9zM210.4 141.1h0.9v0.9h-0.9zM209.5 144.2h0.9v0.9h-0.9zM210.9 140.9h0.9v0.9h-0.9zM206.3 143.8h0.9v0.9h-0.9zM208.8 142.1h0.9v0.9h-0.9zM206.8 139.9h0.9v0.9h-0.9zM209.2 140.5h0.9v0.9h-0.9zM208.4 141.6h0.9v0.9h-0.9zM210.1 142.6h0.9v0.9h-0.9zM210.6 144.8h0.9v0.9h-0.9zM208.2 141.2h0.9v0.9h-0.9zM211.2 140.4h0.9v0.9h-0.9zM209.8 140.6h0.9v0.9h-0.9zM207.0 141.2h0.9v0.9h-0.9zM206.8 143.6h0.9v0.9h-0.9zM207.8 142.7h0.9v0.9h-0.9zM211.7 143.7h0.9v0.9h-0.9zM210.3 143.5h0.9v0.9h-0.9zM208.3 142.3h0.9v0.9h-0.9zM211.5 139.6h0.9v0.9h-0.9zM210.2 144.3h0.9v0.9h-0.9zM209.8 141.0h0.9v0.9h-0.9zM207.1 143.1h0.9v0.9h-0.9zM205.5 143.9h0.9v0.9h-0.9zM206.6 140.3h0.9v0.9h-0.9zM207.2 144.0h0.9v0.9h-0.9zM206.8 143.3h0.9v0.9h-0.9zM207.9 144.7h0.9v0.9h-0.9zM207.9 143.9h0.9v0.9h-0.9zM209.8 142.6h0.9v0.9h-0.9zM208.1 142.3h0.9v0.9h-0.9zM207.5 143.9h0.9v0.9h-0.9zM207.5 141.6h0.9v0.9h-0.9zM210.8 142.9h0.9v0.9h-0.9zM209.9 141.6h0.9v0.9h-0.9zM210.6 144.4h0.9v0.9h-0.9zM211.3 139.7h0.9v0.9h-0.9zM206.7 144.0h0.9v0.9h-0.9zM205.9 143.0h0.9v0.9h-0.9zM206.4 144.5h0.9v0.9h-0.9zM214.9 146.8h0.9v0.9h-0.9zM213.5 145.5h0.9v0.9h-0.9zM214.4 146.6h0.9v0.9h-0.9zM212.4 145.2h0.9v0.9h-0.9zM214.5 147.2h0.9v0.9h-0.9zM213.1 148.1h0.9v0.9h-0.9zM214.1 146.4h0.9v0.9h-0.9zM212.9 147.2h0.9v0.9h-0.9zM213.7 146.8h0.9v0.9h-0.9zM211.8 147.7h0.9v0.9h-0.9zM212.5 144.7h0.9v0.9h-0.9zM215.3 146.1h0.9v0.9h-0.9zM213.7 147.1h0.9v0.9h-0.9zM214.5 147.0h0.9v0.9h-0.9zM213.7 146.2h0.9v0.9h-0.9zM215.0 145.3h0.9v0.9h-0.9zM213.0 145.6h0.9v0.9h-0.9zM212.4 146.2h0.9v0.9h-0.9zM214.1 147.3h0.9v0.9h-0.9zM212.2 146.3h0.9v0.9h-0.9zM212.8 145.6h0.9v0.9h-0.9zM213.3 146.3h0.9v0.9h-0.9zM215.0 144.9h0.9v0.9h-0.9zM214.5 145.7h0.9v0.9h-0.9zM214.0 147.5h0.9v0.9h-0.9zM212.6 147.8h0.9v0.9h-0.9zM213.5 146.7h0.9v0.9h-0.9zM212.6 147.1h0.9v0.9h-0.9zM213.4 146.1h0.9v0.9h-0.9zM218.5 137.3h0.9v0.9h-0.9zM219.0 136.7h0.9v0.9h-0.9zM218.2 137.6h0.9v0.9h-0.9zM217.4 136.3h0.9v0.9h-0.9zM216.5 138.0h0.9v0.9h-0.9zM217.4 138.5h0.9v0.9h-0.9zM217.8 136.7h0.9v0.9h-0.9zM217.6 137.6h0.9v0.9h-0.9zM216.3 138.4h0.9v0.9h-0.9zM217.3 137.6h0.9v0.9h-0.9zM217.5 137.1h0.9v0.9h-0.9zM219.4 136.1h0.9v0.9h-0.9zM219.9 138.6h0.9v0.9h-0.9zM219.6 137.1h0.9v0.9h-0.9zM219.4 136.5h0.9v0.9h-0.9zM215.7 138.5h0.9v0.9h-0.9zM215.8 138.1h0.9v0.9h-0.9zM218.3 137.2h0.9v0.9h-0.9zM219.3 136.0h0.9v0.9h-0.9zM217.8 137.5h0.9v0.9h-0.9zM218.6 137.1h0.9v0.9h-0.9zM219.0 136.6h0.9v0.9h-0.9zM219.1 137.3h0.9v0.9h-0.9zM215.9 138.8h0.9v0.9h-0.9zM218.5 136.6h0.9v0.9h-0.9zM219.4 136.7h0.9v0.9h-0.9zM216.7 136.5h0.9v0.9h-0.9zM219.6 139.0h0.9v0.9h-0.9zM217.1 138.1h0.9v0.9h-0.9zM219.5 138.1h0.9v0.9h-0.9zM220.4 135.5h0.9v0.9h-0.9zM218.2 135.7h0.9v0.9h-0.9zM217.3 137.9h0.9v0.9h-0.9zM219.4 138.8h0.9v0.9h-0.9zM216.0 135.8h0.9v0.9h-0.9zM218.7 139.0h0.9v0.9h-0.9zM219.5 136.5h0.9v0.9h-0.9zM218.9 135.9h0.9v0.9h-0.9zM216.5 136.1h0.9v0.9h-0.9zM218.3 136.6h0.9v0.9h-0.9zM216.1 136.5h0.9v0.9h-0.9zM218.7 137.5h0.9v0.9h-0.9zM216.1 139.0h0.9v0.9h-0.9zM217.2 137.5h0.9v0.9h-0.9zM216.4 138.8h0.9v0.9h-0.9zM217.9 137.5h0.9v0.9h-0.9zM218.0 137.0h0.9v0.9h-0.9zM219.9 138.9h0.9v0.9h-0.9zM219.6 136.0h0.9v0.9h-0.9zM217.3 138.3h0.9v0.9h-0.9zM216.9 138.5h0.9v0.9h-0.9zM218.0 137.4h0.9v0.9h-0.9zM216.3 138.7h0.9v0.9h-0.9zM220.0 138.8h0.9v0.9h-0.9zM218.1 137.2h0.9v0.9h-0.9zM223.2 132.6h0.9v0.9h-0.9zM222.4 133.8h0.9v0.9h-0.9zM222.3 133.9h0.9v0.9h-0.9zM223.8 133.0h0.9v0.9h-0.9zM221.1 134.4h0.9v0.9h-0.9zM223.0 131.4h0.9v0.9h-0.9zM223.1 133.2h0.9v0.9h-0.9zM222.4 132.2h0.9v0.9h-0.9zM223.7 131.3h0.9v0.9h-0.9zM225.2 132.6h0.9v0.9h-0.9zM224.7 131.9h0.9v0.9h-0.9zM224.3 131.0h0.9v0.9h-0.9zM224.2 130.9h0.9v0.9h-0.9zM223.1 132.3h0.9v0.9h-0.9zM225.4 129.7h0.9v0.9h-0.9zM223.0 130.8h0.9v0.9h-0.9zM222.0 130.2h0.9v0.9h-0.9zM222.1 132.2h0.9v0.9h-0.9zM222.0 132.9h0.9v0.9h-0.9zM221.4 134.9h0.9v0.9h-0.9zM223.1 132.4h0.9v0.9h-0.9zM222.9 131.1h0.9v0.9h-0.9zM222.0 134.5h0.9v0.9h-0.9zM222.5 133.3h0.9v0.9h-0.9zM223.5 133.0h0.9v0.9h-0.9zM224.7 130.5h0.9v0.9h-0.9zM226.1 129.3h0.9v0.9h-0.9zM221.5 133.9h0.9v0.9h-0.9zM221.2 130.9h0.9v0.9h-0.9zM223.8 131.1h0.9v0.9h-0.9zM223.8 131.4h0.9v0.9h-0.9zM221.5 129.8h0.9v0.9h-0.9zM223.2 133.6h0.9v0.9h-0.9zM223.5 132.5h0.9v0.9h-0.9zM225.0 129.9h0.9v0.9h-0.9zM223.5 133.0h0.9v0.9h-0.9zM224.4 131.2h0.9v0.9h-0.9zM221.4 132.2h0.9v0.9h-0.9zM223.2 130.1h0.9v0.9h-0.9zM223.4 130.1h0.9v0.9h-0.9zM224.7 132.3h0.9v0.9h-0.9zM224.9 130.9h0.9v0.9h-0.9zM222.8 132.8h0.9v0.9h-0.9zM222.9 132.8h0.9v0.9h-0.9zM222.8 132.2h0.9v0.9h-0.9zM222.3 130.3h0.9v0.9h-0.9zM222.4 132.9h0.9v0.9h-0.9zM222.0 130.5h0.9v0.9h-0.9zM223.5 131.5h0.9v0.9h-0.9zM224.2 129.8h0.9v0.9h-0.9zM225.0 130.5h0.9v0.9h-0.9zM224.6 132.7h0.9v0.9h-0.9zM224.6 131.2h0.9v0.9h-0.9zM224.1 130.7h0.9v0.9h-0.9zM221.5 129.3h0.9v0.9h-0.9zM222.1 131.1h0.9v0.9h-0.9zM224.1 133.4h0.9v0.9h-0.9zM224.1 131.1h0.9v0.9h-0.9zM224.7 133.9h0.9v0.9h-0.9zM223.2 133.9h0.9v0.9h-0.9zM224.1 132.0h0.9v0.9h-0.9zM220.6 134.7h0.9v0.9h-0.9zM225.6 129.6h0.9v0.9h-0.9zM223.6 132.4h0.9v0.9h-0.9zM224.0 130.5h0.9v0.9h-0.9zM222.6 129.1h0.9v0.9h-0.9zM224.3 131.3h0.9v0.9h-0.9zM224.5 131.3h0.9v0.9h-0.9zM225.6 130.0h0.9v0.9h-0.9zM229.0 126.4h0.9v0.9h-0.9zM227.0 125.7h0.9v0.9h-0.9zM229.5 126.1h0.9v0.9h-0.9zM228.9 126.7h0.9v0.9h-0.9zM229.1 126.5h0.9v0.9h-0.9zM228.0 125.2h0.9v0.9h-0.9zM227.5 128.2h0.9v0.9h-0.9zM229.1 125.8h0.9v0.9h-0.9zM228.5 125.6h0.9v0.9h-0.9zM229.2 127.5h0.9v0.9h-0.9zM229.1 126.1h0.9v0.9h-0.9zM230.4 126.0h0.9v0.9h-0.9zM228.6 123.8h0.9v0.9h-0.9zM231.3 128.0h0.9v0.9h-0.9zM228.1 127.8h0.9v0.9h-0.9zM228.1 126.6h0.9v0.9h-0.9zM231.1 124.7h0.9v0.9h-0.9zM227.2 126.6h0.9v0.9h-0.9zM228.6 126.3h0.9v0.9h-0.9zM230.2 125.0h0.9v0.9h-0.9zM230.6 125.0h0.9v0.9h-0.9zM229.8 126.7h0.9v0.9h-0.9zM230.5 128.2h0.9v0.9h-0.9zM227.0 123.1h0.9v0.9h-0.9zM229.8 126.9h0.9v0.9h-0.9zM230.6 125.6h0.9v0.9h-0.9zM225.9 126.6h0.9v0.9h-0.9zM231.5 124.1h0.9v0.9h-0.9zM229.6 125.5h0.9v0.9h-0.9zM229.1 126.0h0.9v0.9h-0.9zM231.8 125.3h0.9v0.9h-0.9zM226.8 128.4h0.9v0.9h-0.9zM230.9 125.7h0.9v0.9h-0.9zM228.7 126.1h0.9v0.9h-0.9zM228.0 128.4h0.9v0.9h-0.9zM226.8 128.3h0.9v0.9h-0.9zM228.0 127.5h0.9v0.9h-0.9zM226.4 124.9h0.9v0.9h-0.9zM228.2 125.7h0.9v0.9h-0.9zM231.2 124.5h0.9v0.9h-0.9zM226.9 127.9h0.9v0.9h-0.9zM231.1 124.4h0.9v0.9h-0.9zM228.6 126.2h0.9v0.9h-0.9zM230.7 125.3h0.9v0.9h-0.9zM228.8 126.8h0.9v0.9h-0.9zM231.3 127.3h0.9v0.9h-0.9zM230.0 128.0h0.9v0.9h-0.9zM227.5 126.8h0.9v0.9h-0.9zM227.7 128.3h0.9v0.9h-0.9zM229.0 128.8h0.9v0.9h-0.9zM231.0 128.5h0.9v0.9h-0.9zM230.4 128.3h0.9v0.9h-0.9zM230.4 127.0h0.9v0.9h-0.9zM228.7 127.0h0.9v0.9h-0.9zM229.5 127.1h0.9v0.9h-0.9zM230.0 127.2h0.9v0.9h-0.9zM228.7 125.7h0.9v0.9h-0.9zM230.6 127.8h0.9v0.9h-0.9zM230.2 125.9h0.9v0.9h-0.9zM228.5 126.6h0.9v0.9h-0.9zM230.7 125.7h0.9v0.9h-0.9zM230.4 125.2h0.9v0.9h-0.9zM231.0 128.2h0.9v0.9h-0.9zM227.2 128.1h0.9v0.9h-0.9zM229.1 126.0h0.9v0.9h-0.9zM231.0 125.2h0.9v0.9h-0.9zM229.8 127.3h0.9v0.9h-0.9zM229.0 125.6h0.9v0.9h-0.9zM229.9 126.2h0.9v0.9h-0.9zM228.5 126.2h0.9v0.9h-0.9zM227.1 127.9h0.9v0.9h-0.9zM230.7 128.2h0.9v0.9h-0.9zM229.7 125.6h0.9v0.9h-0.9zM229.7 125.8h0.9v0.9h-0.9zM231.0 124.9h0.9v0.9h-0.9zM233.7 123.0h0.9v0.9h-0.9zM233.4 122.4h0.9v0.9h-0.9zM233.0 122.3h0.9v0.9h-0.9zM234.7 121.9h0.9v0.9h-0.9zM232.8 122.0h0.9v0.9h-0.9zM232.4 123.4h0.9v0.9h-0.9zM232.2 121.5h0.9v0.9h-0.9zM233.0 120.8h0.9v0.9h-0.9zM234.3 122.0h0.9v0.9h-0.9zM232.8 123.6h0.9v0.9h-0.9zM233.9 122.2h0.9v0.9h-0.9zM233.0 123.4h0.9v0.9h-0.9zM234.0 122.2h0.9v0.9h-0.9zM233.4 123.2h0.9v0.9h-0.9zM233.9 121.8h0.9v0.9h-0.9zM233.5 122.6h0.9v0.9h-0.9zM233.2 123.0h0.9v0.9h-0.9zM234.5 121.8h0.9v0.9h-0.9zM233.0 122.8h0.9v0.9h-0.9zM232.9 122.7h0.9v0.9h-0.9zM233.7 122.6h0.9v0.9h-0.9zM231.5 121.1h0.9v0.9h-0.9zM232.6 123.9h0.9v0.9h-0.9zM234.1 123.9h0.9v0.9h-0.9zM232.7 123.3h0.9v0.9h-0.9zM232.6 123.7h0.9v0.9h-0.9zM233.2 122.0h0.9v0.9h-0.9zM233.0 122.8h0.9v0.9h-0.9zM237.0 118.6h0.9v0.9h-0.9zM237.4 119.6h0.9v0.9h-0.9zM238.2 118.9h0.9v0.9h-0.9zM235.6 120.6h0.9v0.9h-0.9zM236.2 117.4h0.9v0.9h-0.9zM237.2 119.6h0.9v0.9h-0.9zM237.3 117.7h0.9v0.9h-0.9zM236.8 119.2h0.9v0.9h-0.9zM236.1 118.4h0.9v0.9h-0.9zM238.5 116.3h0.9v0.9h-0.9zM236.1 117.7h0.9v0.9h-0.9zM236.2 119.3h0.9v0.9h-0.9zM235.7 119.6h0.9v0.9h-0.9zM236.3 119.4h0.9v0.9h-0.9zM235.6 120.9h0.9v0.9h-0.9zM235.2 120.6h0.9v0.9h-0.9zM237.9 117.3h0.9v0.9h-0.9zM237.4 119.2h0.9v0.9h-0.9zM236.0 119.7h0.9v0.9h-0.9zM236.1 118.0h0.9v0.9h-0.9zM237.5 115.2h0.9v0.9h-0.9zM237.0 118.6h0.9v0.9h-0.9zM238.5 120.3h0.9v0.9h-0.9zM237.6 117.4h0.9v0.9h-0.9zM235.3 120.2h0.9v0.9h-0.9zM237.7 120.2h0.9v0.9h-0.9zM238.0 116.9h0.9v0.9h-0.9zM236.1 116.8h0.9v0.9h-0.9zM236.7 118.6h0.9v0.9h-0.9zM235.7 118.8h0.9v0.9h-0.9zM237.5 119.6h0.9v0.9h-0.9zM237.4 119.9h0.9v0.9h-0.9zM237.9 117.1h0.9v0.9h-0.9zM238.5 117.0h0.9v0.9h-0.9zM236.5 118.5h0.9v0.9h-0.9zM234.7 119.1h0.9v0.9h-0.9zM236.0 117.0h0.9v0.9h-0.9zM237.6 117.4h0.9v0.9h-0.9zM237.0 117.9h0.9v0.9h-0.9zM235.6 120.5h0.9v0.9h-0.9zM237.4 118.4h0.9v0.9h-0.9zM237.4 117.9h0.9v0.9h-0.9zM236.7 118.1h0.9v0.9h-0.9zM235.9 117.1h0.9v0.9h-0.9zM241.5 115.1h0.9v0.9h-0.9zM238.2 115.1h0.9v0.9h-0.9zM240.2 115.1h0.9v0.9h-0.9zM239.6 113.3h0.9v0.9h-0.9zM241.2 114.0h0.9v0.9h-0.9zM241.3 115.6h0.9v0.9h-0.9zM241.0 113.8h0.9v0.9h-0.9zM239.0 115.7h0.9v0.9h-0.9zM239.9 113.7h0.9v0.9h-0.9zM241.3 114.6h0.9v0.9h-0.9zM243.0 113.9h0.9v0.9h-0.9zM240.5 114.6h0.9v0.9h-0.9zM241.4 114.4h0.9v0.9h-0.9zM242.3 114.6h0.9v0.9h-0.9zM240.4 115.8h0.9v0.9h-0.9zM242.7 115.4h0.9v0.9h-0.9zM242.8 113.2h0.9v0.9h-0.9zM242.5 113.2h0.9v0.9h-0.9zM241.3 114.0h0.9v0.9h-0.9zM241.7 113.7h0.9v0.9h-0.9zM240.6 115.1h0.9v0.9h-0.9zM242.9 113.0h0.9v0.9h-0.9zM239.5 115.6h0.9v0.9h-0.9zM240.5 115.6h0.9v0.9h-0.9zM240.9 114.5h0.9v0.9h-0.9zM243.4 113.4h0.9v0.9h-0.9zM242.5 115.2h0.9v0.9h-0.9zM243.1 112.8h0.9v0.9h-0.9zM241.7 116.2h0.9v0.9h-0.9zM239.7 113.8h0.9v0.9h-0.9zM242.2 115.0h0.9v0.9h-0.9zM241.4 114.5h0.9v0.9h-0.9zM241.0 115.7h0.9v0.9h-0.9zM240.5 113.7h0.9v0.9h-0.9zM239.4 115.7h0.9v0.9h-0.9zM242.9 112.3h0.9v0.9h-0.9zM240.9 115.5h0.9v0.9h-0.9zM240.5 114.7h0.9v0.9h-0.9zM243.5 114.9h0.9v0.9h-0.9zM239.0 113.2h0.9v0.9h-0.9zM243.0 111.8h0.9v0.9h-0.9zM242.1 114.8h0.9v0.9h-0.9zM240.7 114.1h0.9v0.9h-0.9zM240.4 113.7h0.9v0.9h-0.9zM242.0 115.6h0.9v0.9h-0.9zM246.4 112.6h0.9v0.9h-0.9zM245.2 110.5h0.9v0.9h-0.9zM246.3 112.0h0.9v0.9h-0.9zM245.8 112.1h0.9v0.9h-0.9zM244.3 110.4h0.9v0.9h-0.9zM246.5 111.9h0.9v0.9h-0.9zM246.2 108.9h0.9v0.9h-0.9zM245.6 111.1h0.9v0.9h-0.9zM245.9 110.6h0.9v0.9h-0.9zM246.3 109.9h0.9v0.9h-0.9zM247.1 109.6h0.9v0.9h-0.9zM245.5 110.9h0.9v0.9h-0.9zM245.9 110.5h0.9v0.9h-0.9zM245.3 110.0h0.9v0.9h-0.9zM243.6 111.7h0.9v0.9h-0.9zM245.9 110.2h0.9v0.9h-0.9zM244.9 111.1h0.9v0.9h-0.9zM244.4 112.2h0.9v0.9h-0.9zM246.3 111.5h0.9v0.9h-0.9zM245.4 111.3h0.9v0.9h-0.9zM245.4 111.2h0.9v0.9h-0.9zM245.8 110.5h0.9v0.9h-0.9zM244.7 109.9h0.9v0.9h-0.9zM245.5 110.4h0.9v0.9h-0.9zM246.4 109.5h0.9v0.9h-0.9zM244.8 110.8h0.9v0.9h-0.9zM245.7 111.7h0.9v0.9h-0.9zM244.4 110.5h0.9v0.9h-0.9zM244.4 110.5h0.9v0.9h-0.9zM245.8 109.3h0.9v0.9h-0.9zM248.4 107.8h0.9v0.9h-0.9zM248.0 107.3h0.9v0.9h-0.9zM248.9 107.3h0.9v0.9h-0.9zM246.7 107.4h0.9v0.9h-0.9zM247.7 108.6h0.9v0.9h-0.9zM247.6 108.3h0.9v0.9h-0.9zM248.3 108.5h0.9v0.9h-0.9zM247.2 108.7h0.9v0.9h-0.9zM247.7 108.1h0.9v0.9h-0.9zM248.8 108.1h0.9v0.9h-0.9zM247.2 109.2h0.9v0.9h-0.9zM248.4 108.9h0.9v0.9h-0.9zM247.8 107.9h0.9v0.9h-0.9zM248.1 108.2h0.9v0.9h-0.9zM247.4 107.5h0.9v0.9h-0.9zM248.3 107.3h0.9v0.9h-0.9zM249.0 107.3h0.9v0.9h-0.9zM248.6 108.3h0.9v0.9h-0.9zM249.2 108.5h0.9v0.9h-0.9zM249.3 108.7h0.9v0.9h-0.9zM247.7 107.1h0.9v0.9h-0.9zM249.1 107.1h0.9v0.9h-0.9zM248.3 106.9h0.9v0.9h-0.9zM249.3 106.1h0.9v0.9h-0.9zM250.6 104.7h0.9v0.9h-0.9zM252.6 104.2h0.9v0.9h-0.9zM250.8 104.3h0.9v0.9h-0.9zM251.8 103.8h0.9v0.9h-0.9zM251.3 105.5h0.9v0.9h-0.9zM251.1 105.3h0.9v0.9h-0.9zM250.4 105.6h0.9v0.9h-0.9zM251.6 103.5h0.9v0.9h-0.9zM252.8 106.3h0.9v0.9h-0.9zM252.8 104.0h0.9v0.9h-0.9zM250.4 103.9h0.9v0.9h-0.9zM250.2 103.7h0.9v0.9h-0.9zM250.1 105.9h0.9v0.9h-0.9zM250.7 105.2h0.9v0.9h-0.9zM249.9 104.4h0.9v0.9h-0.9zM250.7 105.2h0.9v0.9h-0.9zM250.4 104.6h0.9v0.9h-0.9zM249.9 105.8h0.9v0.9h-0.9zM251.1 105.8h0.9v0.9h-0.9zM250.4 104.7h0.9v0.9h-0.9zM251.8 104.7h0.9v0.9h-0.9zM251.5 105.2h0.9v0.9h-0.9zM250.6 105.2h0.9v0.9h-0.9zM252.1 104.2h0.9v0.9h-0.9zM251.5 104.5h0.9v0.9h-0.9zM251.2 104.8h0.9v0.9h-0.9zM252.3 105.0h0.9v0.9h-0.9zM251.3 105.5h0.9v0.9h-0.9zM252.0 104.2h0.9v0.9h-0.9zM251.8 105.2h0.9v0.9h-0.9zM250.9 105.1h0.9v0.9h-0.9zM252.3 105.9h0.9v0.9h-0.9zM256.1 100.8h0.9v0.9h-0.9zM253.3 102.6h0.9v0.9h-0.9zM254.0 102.2h0.9v0.9h-0.9zM253.8 103.2h0.9v0.9h-0.9zM253.8 101.1h0.9v0.9h-0.9zM254.6 101.3h0.9v0.9h-0.9zM255.3 101.4h0.9v0.9h-0.9zM255.4 101.4h0.9v0.9h-0.9zM254.0 102.7h0.9v0.9h-0.9zM256.3 99.1h0.9v0.9h-0.9zM256.6 100.7h0.9v0.9h-0.9zM255.4 103.8h0.9v0.9h-0.9zM256.8 99.7h0.9v0.9h-0.9zM253.2 102.3h0.9v0.9h-0.9zM258.9 102.0h0.9v0.9h-0.9zM256.2 102.3h0.9v0.9h-0.9zM254.8 101.1h0.9v0.9h-0.9zM254.2 101.1h0.9v0.9h-0.9zM255.3 101.2h0.9v0.9h-0.9zM254.1 101.6h0.9v0.9h-0.9zM254.0 101.9h0.9v0.9h-0.9zM254.3 102.0h0.9v0.9h-0.9zM253.7 102.9h0.9v0.9h-0.9zM256.9 102.3h0.9v0.9h-0.9zM253.1 100.3h0.9v0.9h-0.9zM253.1 103.3h0.9v0.9h-0.9zM256.1 100.7h0.9v0.9h-0.9zM254.6 101.9h0.9v0.9h-0.9zM257.0 100.1h0.9v0.9h-0.9zM256.1 102.6h0.9v0.9h-0.9zM255.3 101.5h0.9v0.9h-0.9zM255.0 100.7h0.9v0.9h-0.9zM253.5 101.7h0.9v0.9h-0.9zM254.1 102.6h0.9v0.9h-0.9zM255.0 102.0h0.9v0.9h-0.9zM254.7 100.5h0.9v0.9h-0.9zM256.1 100.2h0.9v0.9h-0.9zM255.2 101.0h0.9v0.9h-0.9zM256.1 100.0h0.9v0.9h-0.9zM253.9 103.1h0.9v0.9h-0.9zM254.5 102.1h0.9v0.9h-0.9zM254.3 100.5h0.9v0.9h-0.9zM253.5 99.1h0.9v0.9h-0.9zM254.6 101.2h0.9v0.9h-0.9zM253.9 102.5h0.9v0.9h-0.9zM256.8 99.5h0.9v0.9h-0.9zM261.0 96.0h0.9v0.9h-0.9zM259.9 97.2h0.9v0.9h-0.9zM262.3 95.8h0.9v0.9h-0.9zM261.5 96.1h0.9v0.9h-0.9zM261.8 94.8h0.9v0.9h-0.9zM258.1 96.0h0.9v0.9h-0.9zM263.6 97.8h0.9v0.9h-0.9zM260.0 97.1h0.9v0.9h-0.9zM261.2 95.6h0.9v0.9h-0.9zM262.9 96.5h0.9v0.9h-0.9zM260.2 97.3h0.9v0.9h-0.9zM261.9 95.3h0.9v0.9h-0.9zM263.3 98.8h0.9v0.9h-0.9zM258.2 98.7h0.9v0.9h-0.9zM262.9 94.0h0.9v0.9h-0.9zM259.5 94.9h0.9v0.9h-0.9zM263.7 94.2h0.9v0.9h-0.9zM262.6 99.3h0.9v0.9h-0.9zM258.8 97.7h0.9v0.9h-0.9zM261.5 95.3h0.9v0.9h-0.9zM260.7 96.6h0.9v0.9h-0.9zM263.3 92.3h0.9v0.9h-0.9zM264.3 93.3h0.9v0.9h-0.9zM263.8 98.9h0.9v0.9h-0.9zM259.1 97.2h0.9v0.9h-0.9zM259.2 95.4h0.9v0.9h-0.9zM262.8 97.5h0.9v0.9h-0.9zM261.1 96.1h0.9v0.9h-0.9zM258.4 98.4h0.9v0.9h-0.9zM263.4 97.2h0.9v0.9h-0.9zM259.6 96.7h0.9v0.9h-0.9zM258.4 95.6h0.9v0.9h-0.9zM261.0 95.9h0.9v0.9h-0.9zM261.2 95.4h0.9v0.9h-0.9zM260.1 96.8h0.9v0.9h-0.9zM260.2 94.9h0.9v0.9h-0.9zM260.9 94.1h0.9v0.9h-0.9zM259.7 96.9h0.9v0.9h-0.9zM262.4 94.8h0.9v0.9h-0.9zM261.2 96.2h0.9v0.9h-0.9zM263.2 96.5h0.9v0.9h-0.9zM258.8 93.4h0.9v0.9h-0.9zM263.4 94.1h0.9v0.9h-0.9zM263.1 92.9h0.9v0.9h-0.9zM259.2 96.8h0.9v0.9h-0.9zM260.8 95.1h0.9v0.9h-0.9zM263.0 97.1h0.9v0.9h-0.9zM261.9 95.4h0.9v0.9h-0.9zM257.8 98.1h0.9v0.9h-0.9zM258.7 94.5h0.9v0.9h-0.9zM259.1 95.9h0.9v0.9h-0.9zM260.4 95.2h0.9v0.9h-0.9zM262.4 97.1h0.9v0.9h-0.9zM264.3 93.4h0.9v0.9h-0.9zM260.2 94.6h0.9v0.9h-0.9zM264.3 93.3h0.9v0.9h-0.9zM263.9 93.4h0.9v0.9h-0.9zM261.3 94.6h0.9v0.9h-0.9zM262.1 94.1h0.9v0.9h-0.9zM259.9 96.9h0.9v0.9h-0.9zM257.8 96.5h0.9v0.9h-0.9zM260.0 95.3h0.9v0.9h-0.9zM260.6 95.4h0.9v0.9h-0.9zM262.1 94.3h0.9v0.9h-0.9zM259.4 93.5h0.9v0.9h-0.9zM264.8 92.7h0.9v0.9h-0.9zM264.3 93.8h0.9v0.9h-0.9zM258.4 98.5h0.9v0.9h-0.9zM262.4 95.1h0.9v0.9h-0.9zM261.1 95.6h0.9v0.9h-0.9zM262.1 97.0h0.9v0.9h-0.9zM263.2 94.4h0.9v0.9h-0.9zM262.1 95.4h0.9v0.9h-0.9zM258.2 99.2h0.9v0.9h-0.9zM259.3 94.8h0.9v0.9h-0.9zM259.0 94.7h0.9v0.9h-0.9zM264.1 96.8h0.9v0.9h-0.9zM263.9 98.4h0.9v0.9h-0.9zM260.5 94.8h0.9v0.9h-0.9zM263.4 97.0h0.9v0.9h-0.9zM258.8 98.2h0.9v0.9h-0.9zM259.2 94.7h0.9v0.9h-0.9zM262.7 95.5h0.9v0.9h-0.9zM259.5 95.0h0.9v0.9h-0.9zM262.5 98.6h0.9v0.9h-0.9zM260.6 96.6h0.9v0.9h-0.9zM259.3 94.4h0.9v0.9h-0.9zM260.1 96.3h0.9v0.9h-0.9zM262.3 94.8h0.9v0.9h-0.9zM262.4 94.3h0.9v0.9h-0.9zM258.7 97.8h0.9v0.9h-0.9zM263.2 93.4h0.9v0.9h-0.9zM262.6 97.1h0.9v0.9h-0.9zM263.2 93.6h0.9v0.9h-0.9zM262.9 94.2h0.9v0.9h-0.9zM258.2 95.6h0.9v0.9h-0.9zM259.2 94.4h0.9v0.9h-0.9zM258.1 99.4h0.9v0.9h-0.9zM264.3 96.4h0.9v0.9h-0.9zM261.3 95.8h0.9v0.9h-0.9zM263.8 95.6h0.9v0.9h-0.9zM261.4 96.3h0.9v0.9h-0.9zM263.2 95.1h0.9v0.9h-0.9zM258.4 97.5h0.9v0.9h-0.9zM263.8 98.0h0.9v0.9h-0.9zM261.1 96.4h0.9v0.9h-0.9zM261.9 95.7h0.9v0.9h-0.9zM261.3 95.2h0.9v0.9h-0.9zM263.6 94.5h0.9v0.9h-0.9zM263.8 93.8h0.9v0.9h-0.9zM261.2 96.9h0.9v0.9h-0.9zM259.3 97.1h0.9v0.9h-0.9zM258.4 93.7h0.9v0.9h-0.9zM264.4 94.5h0.9v0.9h-0.9zM261.2 94.4h0.9v0.9h-0.9zM258.0 96.0h0.9v0.9h-0.9zM261.2 95.3h0.9v0.9h-0.9zM267.3 91.0h0.9v0.9h-0.9zM267.0 89.5h0.9v0.9h-0.9zM267.6 91.2h0.9v0.9h-0.9zM267.5 91.0h0.9v0.9h-0.9zM267.4 89.1h0.9v0.9h-0.9zM265.1 90.6h0.9v0.9h-0.9zM267.3 90.5h0.9v0.9h-0.9zM269.1 92.0h0.9v0.9h-0.9zM269.6 90.6h0.9v0.9h-0.9zM268.8 89.3h0.9v0.9h-0.9zM267.6 90.7h0.9v0.9h-0.9zM266.8 89.9h0.9v0.9h-0.9zM268.7 91.9h0.9v0.9h-0.9zM266.9 90.9h0.9v0.9h-0.9zM270.1 89.2h0.9v0.9h-0.9zM266.7 92.5h0.9v0.9h-0.9zM268.0 90.3h0.9v0.9h-0.9zM269.5 89.0h0.9v0.9h-0.9zM267.1 89.9h0.9v0.9h-0.9zM268.9 89.4h0.9v0.9h-0.9zM266.3 89.1h0.9v0.9h-0.9zM265.9 89.8h0.9v0.9h-0.9zM267.3 90.7h0.9v0.9h-0.9zM266.2 89.2h0.9v0.9h-0.9zM267.7 90.8h0.9v0.9h-0.9zM266.2 91.9h0.9v0.9h-0.9zM268.4 90.9h0.9v0.9h-0.9zM267.4 91.0h0.9v0.9h-0.9zM269.0 89.2h0.9v0.9h-0.9zM267.7 90.3h0.9v0.9h-0.9zM266.4 91.5h0.9v0.9h-0.9zM266.6 90.1h0.9v0.9h-0.9zM266.2 90.3h0.9v0.9h-0.9zM267.5 91.5h0.9v0.9h-0.9zM266.9 90.2h0.9v0.9h-0.9zM267.6 91.1h0.9v0.9h-0.9zM267.7 90.7h0.9v0.9h-0.9zM269.6 91.9h0.9v0.9h-0.9zM267.3 90.6h0.9v0.9h-0.9zM269.4 89.3h0.9v0.9h-0.9zM267.4 89.4h0.9v0.9h-0.9zM269.0 89.5h0.9v0.9h-0.9zM265.6 91.8h0.9v0.9h-0.9zM270.9 85.8h0.9v0.9h-0.9zM272.1 85.5h0.9v0.9h-0.9zM272.4 85.5h0.9v0.9h-0.9zM272.5 86.4h0.9v0.9h-0.9zM271.5 85.1h0.9v0.9h-0.9zM270.2 84.3h0.9v0.9h-0.9zM272.6 89.9h0.9v0.9h-0.9zM272.4 87.6h0.9v0.9h-0.9zM271.1 87.6h0.9v0.9h-0.9zM270.4 84.4h0.9v0.9h-0.9zM270.7 84.9h0.9v0.9h-0.9zM271.1 84.0h0.9v0.9h-0.9zM272.3 85.5h0.9v0.9h-0.9zM273.2 83.6h0.9v0.9h-0.9zM270.7 84.1h0.9v0.9h-0.9zM271.8 85.9h0.9v0.9h-0.9zM270.8 87.7h0.9v0.9h-0.9zM271.4 86.0h0.9v0.9h-0.9zM272.2 82.8h0.9v0.9h-0.9zM270.4 87.9h0.9v0.9h-0.9zM272.0 86.0h0.9v0.9h-0.9zM273.5 87.9h0.9v0.9h-0.9zM272.3 87.3h0.9v0.9h-0.9zM273.0 84.3h0.9v0.9h-0.9zM271.6 85.5h0.9v0.9h-0.9zM272.8 86.6h0.9v0.9h-0.9zM273.0 87.7h0.9v0.9h-0.9zM271.3 85.1h0.9v0.9h-0.9zM272.7 85.5h0.9v0.9h-0.9zM271.4 85.1h0.9v0.9h-0.9zM273.2 84.2h0.9v0.9h-0.9zM271.1 84.5h0.9v0.9h-0.9zM271.0 87.4h0.9v0.9h-0.9zM273.2 86.2h0.9v0.9h-0.9zM270.9 85.7h0.9v0.9h-0.9zM271.8 85.7h0.9v0.9h-0.9zM271.1 89.9h0.9v0.9h-0.9zM273.3 87.0h0.9v0.9h-0.9zM270.7 84.4h0.9v0.9h-0.9zM274.0 83.2h0.9v0.9h-0.9zM271.6 87.1h0.9v0.9h-0.9zM271.8 86.9h0.9v0.9h-0.9zM272.4 86.8h0.9v0.9h-0.9zM270.6 88.0h0.9v0.9h-0.9zM270.3 83.8h0.9v0.9h-0.9zM272.6 86.3h0.9v0.9h-0.9zM270.5 86.6h0.9v0.9h-0.9zM270.5 86.1h0.9v0.9h-0.9zM272.8 86.1h0.9v0.9h-0.9zM272.5 86.0h0.9v0.9h-0.9zM272.8 86.0h0.9v0.9h-0.9zM274.5 87.2h0.9v0.9h-0.9zM273.2 84.7h0.9v0.9h-0.9zM270.3 88.5h0.9v0.9h-0.9zM271.4 87.9h0.9v0.9h-0.9zM270.5 85.8h0.9v0.9h-0.9zM272.6 85.4h0.9v0.9h-0.9zM271.6 87.3h0.9v0.9h-0.9zM272.0 87.2h0.9v0.9h-0.9zM272.5 86.4h0.9v0.9h-0.9zM277.0 81.2h0.9v0.9h-0.9zM274.7 82.9h0.9v0.9h-0.9zM275.8 81.6h0.9v0.9h-0.9zM275.1 82.7h0.9v0.9h-0.9zM275.1 82.1h0.9v0.9h-0.9zM276.6 82.1h0.9v0.9h-0.9zM275.4 82.1h0.9v0.9h-0.9zM276.8 81.1h0.9v0.9h-0.9zM275.3 81.8h0.9v0.9h-0.9zM277.2 82.3h0.9v0.9h-0.9zM277.9 82.9h0.9v0.9h-0.9zM275.7 82.6h0.9v0.9h-0.9zM277.0 81.0h0.9v0.9h-0.9zM276.0 82.4h0.9v0.9h-0.9zM276.1 81.7h0.9v0.9h-0.9zM275.5 81.8h0.9v0.9h-0.9zM275.5 82.4h0.9v0.9h-0.9zM275.3 82.8h0.9v0.9h-0.9zM274.9 81.2h0.9v0.9h-0.9zM275.2 82.0h0.9v0.9h-0.9zM274.0 82.7h0.9v0.9h-0.9zM276.6 82.5h0.9v0.9h-0.9zM275.8 81.2h0.9v0.9h-0.9zM277.5 81.9h0.9v0.9h-0.9zM274.7 82.7h0.9v0.9h-0.9zM279.5 76.7h0.9v0.9h-0.9zM279.4 76.7h0.9v0.9h-0.9zM280.4 76.8h0.9v0.9h-0.9zM278.8 77.1h0.9v0.9h-0.9zM279.2 77.0h0.9v0.9h-0.9zM279.5 77.0h0.9v0.9h-0.9zM280.9 76.0h0.9v0.9h-0.9zM282.0 75.2h0.9v0.9h-0.9zM281.0 75.9h0.9v0.9h-0.9zM280.1 78.0h0.9v0.9h-0.9zM278.5 77.8h0.9v0.9h-0.9zM278.3 77.8h0.9v0.9h-0.9zM279.3 77.2h0.9v0.9h-0.9zM278.8 76.7h0.9v0.9h-0.9zM280.2 77.2h0.9v0.9h-0.9zM278.4 78.0h0.9v0.9h-0.9zM279.8 76.0h0.9v0.9h-0.9zM281.3 77.0h0.9v0.9h-0.9zM279.7 78.2h0.9v0.9h-0.9zM280.5 76.4h0.9v0.9h-0.9zM280.4 76.2h0.9v0.9h-0.9zM281.1 77.3h0.9v0.9h-0.9zM281.6 75.8h0.9v0.9h-0.9zM278.8 76.7h0.9v0.9h-0.9zM278.7 77.9h0.9v0.9h-0.9zM279.9 77.2h0.9v0.9h-0.9zM279.5 76.8h0.9v0.9h-0.9zM280.9 75.6h0.9v0.9h-0.9zM280.3 76.3h0.9v0.9h-0.9zM278.5 77.5h0.9v0.9h-0.9zM280.1 77.2h0.9v0.9h-0.9zM279.4 76.8h0.9v0.9h-0.9zM278.6 76.0h0.9v0.9h-0.9zM278.4 76.0h0.9v0.9h-0.9zM281.7 76.4h0.9v0.9h-0.9zM281.5 75.4h0.9v0.9h-0.9zM283.7 79.7h0.9v0.9h-0.9zM283.0 78.9h0.9v0.9h-0.9zM282.5 79.0h0.9v0.9h-0.9zM283.8 78.2h0.9v0.9h-0.9zM282.6 79.9h0.9v0.9h-0.9zM283.3 79.8h0.9v0.9h-0.9zM283.4 79.5h0.9v0.9h-0.9zM283.0 78.8h0.9v0.9h-0.9zM283.0 80.1h0.9v0.9h-0.9zM283.1 79.8h0.9v0.9h-0.9zM283.7 79.8h0.9v0.9h-0.9zM283.3 79.6h0.9v0.9h-0.9zM283.6 80.0h0.9v0.9h-0.9zM284.4 78.2h0.9v0.9h-0.9zM283.6 79.1h0.9v0.9h-0.9zM283.1 79.3h0.9v0.9h-0.9zM283.4 79.2h0.9v0.9h-0.9zM283.8 79.2h0.9v0.9h-0.9zM283.4 79.7h0.9v0.9h-0.9zM282.8 79.0h0.9v0.9h-0.9zM285.6 73.9h0.9v0.9h-0.9zM285.0 74.3h0.9v0.9h-0.9zM284.5 75.2h0.9v0.9h-0.9zM286.6 73.4h0.9v0.9h-0.9zM285.2 74.2h0.9v0.9h-0.9zM284.8 74.3h0.9v0.9h-0.9zM286.3 75.4h0.9v0.9h-0.9zM285.1 73.5h0.9v0.9h-0.9zM284.9 74.4h0.9v0.9h-0.9zM285.6 73.9h0.9v0.9h-0.9zM285.3 73.7h0.9v0.9h-0.9zM285.6 73.6h0.9v0.9h-0.9zM285.7 73.9h0.9v0.9h-0.9zM285.1 73.9h0.9v0.9h-0.9zM284.5 73.4h0.9v0.9h-0.9zM285.3 73.5h0.9v0.9h-0.9zM284.8 74.2h0.9v0.9h-0.9zM285.5 74.5h0.9v0.9h-0.9zM286.3 72.7h0.9v0.9h-0.9zM286.2 74.7h0.9v0.9h-0.9zM287.3 71.6h0.9v0.9h-0.9zM287.2 71.2h0.9v0.9h-0.9zM286.9 71.3h0.9v0.9h-0.9zM286.5 70.6h0.9v0.9h-0.9zM286.7 70.3h0.9v0.9h-0.9zM288.2 71.1h0.9v0.9h-0.9zM287.2 71.3h0.9v0.9h-0.9zM288.1 72.2h0.9v0.9h-0.9zM286.6 71.2h0.9v0.9h-0.9zM286.7 70.7h0.9v0.9h-0.9zM287.7 72.0h0.9v0.9h-0.9zM288.1 71.0h0.9v0.9h-0.9zM288.3 72.8h0.9v0.9h-0.9zM286.4 71.8h0.9v0.9h-0.9zM287.9 71.0h0.9v0.9h-0.9zM287.6 71.8h0.9v0.9h-0.9zM287.2 71.4h0.9v0.9h-0.9zM287.3 71.1h0.9v0.9h-0.9zM287.7 69.2h0.9v0.9h-0.9zM288.1 70.4h0.9v0.9h-0.9zM289.1 70.6h0.9v0.9h-0.9zM288.3 70.5h0.9v0.9h-0.9zM288.9 70.4h0.9v0.9h-0.9zM288.5 69.8h0.9v0.9h-0.9zM288.5 70.3h0.9v0.9h-0.9zM289.0 69.5h0.9v0.9h-0.9zM287.9 69.5h0.9v0.9h-0.9zM288.0 70.1h0.9v0.9h-0.9zM289.6 70.4h0.9v0.9h-0.9zM289.0 69.5h0.9v0.9h-0.9zM288.7 69.7h0.9v0.9h-0.9zM289.0 69.8h0.9v0.9h-0.9zM288.6 69.8h0.9v0.9h-0.9zM288.7 70.3h0.9v0.9h-0.9z" fill="#000" fill-opacity="0.88"/>
<path d="M82.7 276.0h1.0v1.0h-1.0zM82.3 275.1h1.0v1.0h-1.0zM81.1 276.1h1.0v1.0h-1.0zM82.4 276.5h1.0v1.0h-1.0zM83.4 275.9h1.0v1.0h-1.0zM83.2 276.3h1.0v1.0h-1.0zM83.2 276.2h1.0v1.0h-1.0zM83.9 275.4h1.0v1.0h-1.0zM82.1 275.9h1.0v1.0h-1.0zM82.7 277.3h1.0v1.0h-1.0zM83.0 275.1h1.0v1.0h-1.0zM83.1 275.9h1.0v1.0h-1.0zM84.2 276.1h1.0v1.0h-1.0zM83.9 276.0h1.0v1.0h-1.0zM82.3 275.8h1.0v1.0h-1.0zM82.5 277.5h1.0v1.0h-1.0zM84.3 275.5h1.0v1.0h-1.0zM89.2 280.7h1.0v1.0h-1.0zM87.9 281.2h1.0v1.0h-1.0zM89.0 280.6h1.0v1.0h-1.0zM88.4 280.8h1.0v1.0h-1.0zM89.1 281.0h1.0v1.0h-1.0zM88.7 280.4h1.0v1.0h-1.0zM88.2 280.4h1.0v1.0h-1.0zM88.4 280.4h1.0v1.0h-1.0zM94.0 266.5h1.0v1.0h-1.0zM93.3 265.5h1.0v1.0h-1.0zM93.2 264.8h1.0v1.0h-1.0zM94.6 264.7h1.0v1.0h-1.0zM92.3 264.7h1.0v1.0h-1.0zM93.7 266.8h1.0v1.0h-1.0zM92.9 264.5h1.0v1.0h-1.0zM92.7 265.8h1.0v1.0h-1.0zM92.9 266.0h1.0v1.0h-1.0zM92.7 264.7h1.0v1.0h-1.0zM92.3 264.7h1.0v1.0h-1.0zM93.0 266.6h1.0v1.0h-1.0zM93.6 264.6h1.0v1.0h-1.0zM93.5 266.2h1.0v1.0h-1.0zM93.0 266.3h1.0v1.0h-1.0zM93.0 265.0h1.0v1.0h-1.0zM93.7 267.4h1.0v1.0h-1.0zM91.8 264.9h1.0v1.0h-1.0zM92.9 265.8h1.0v1.0h-1.0zM97.9 270.9h1.0v1.0h-1.0zM97.9 271.1h1.0v1.0h-1.0zM97.6 271.0h1.0v1.0h-1.0zM98.0 271.2h1.0v1.0h-1.0zM98.7 271.0h1.0v1.0h-1.0zM98.1 270.8h1.0v1.0h-1.0zM98.4 270.9h1.0v1.0h-1.0zM97.7 270.9h1.0v1.0h-1.0zM99.1 259.6h1.0v1.0h-1.0zM99.3 259.2h1.0v1.0h-1.0zM99.0 259.6h1.0v1.0h-1.0zM99.1 259.7h1.0v1.0h-1.0zM98.7 259.5h1.0v1.0h-1.0zM99.5 260.0h1.0v1.0h-1.0zM99.0 259.7h1.0v1.0h-1.0zM98.9 259.5h1.0v1.0h-1.0zM105.1 250.5h1.0v1.0h-1.0zM104.1 250.9h1.0v1.0h-1.0zM104.0 252.3h1.0v1.0h-1.0zM103.8 251.7h1.0v1.0h-1.0zM104.4 252.6h1.0v1.0h-1.0zM104.2 251.3h1.0v1.0h-1.0zM104.3 252.0h1.0v1.0h-1.0zM104.4 250.8h1.0v1.0h-1.0zM103.8 252.5h1.0v1.0h-1.0zM103.9 250.6h1.0v1.0h-1.0zM102.9 250.8h1.0v1.0h-1.0zM103.0 251.2h1.0v1.0h-1.0zM102.7 252.2h1.0v1.0h-1.0zM104.9 251.1h1.0v1.0h-1.0zM102.9 250.5h1.0v1.0h-1.0zM104.6 252.0h1.0v1.0h-1.0zM103.5 252.4h1.0v1.0h-1.0zM104.2 250.6h1.0v1.0h-1.0zM102.8 251.1h1.0v1.0h-1.0zM103.3 252.4h1.0v1.0h-1.0zM104.1 250.7h1.0v1.0h-1.0zM104.1 251.4h1.0v1.0h-1.0zM103.2 250.7h1.0v1.0h-1.0zM110.5 244.2h1.0v1.0h-1.0zM109.8 244.3h1.0v1.0h-1.0zM110.1 244.0h1.0v1.0h-1.0zM111.3 243.8h1.0v1.0h-1.0zM109.7 244.3h1.0v1.0h-1.0zM110.4 243.9h1.0v1.0h-1.0zM109.5 243.6h1.0v1.0h-1.0zM110.6 243.6h1.0v1.0h-1.0zM111.2 242.8h1.0v1.0h-1.0zM109.7 244.3h1.0v1.0h-1.0zM110.8 244.2h1.0v1.0h-1.0zM113.8 239.2h1.0v1.0h-1.0zM113.8 239.7h1.0v1.0h-1.0zM113.2 238.2h1.0v1.0h-1.0zM113.4 238.9h1.0v1.0h-1.0zM113.4 238.6h1.0v1.0h-1.0zM114.5 239.6h1.0v1.0h-1.0zM115.1 241.6h1.0v1.0h-1.0zM113.4 239.1h1.0v1.0h-1.0zM114.7 238.8h1.0v1.0h-1.0zM113.2 240.0h1.0v1.0h-1.0zM114.5 240.8h1.0v1.0h-1.0zM113.4 238.8h1.0v1.0h-1.0zM119.8 229.5h1.0v1.0h-1.0zM118.0 228.6h1.0v1.0h-1.0zM118.6 229.8h1.0v1.0h-1.0zM119.4 229.0h1.0v1.0h-1.0zM118.4 230.1h1.0v1.0h-1.0zM117.1 228.9h1.0v1.0h-1.0zM118.0 229.3h1.0v1.0h-1.0zM119.9 230.1h1.0v1.0h-1.0zM119.0 228.3h1.0v1.0h-1.0zM118.9 230.9h1.0v1.0h-1.0zM117.4 229.4h1.0v1.0h-1.0zM119.5 229.5h1.0v1.0h-1.0zM118.9 228.0h1.0v1.0h-1.0zM118.8 228.6h1.0v1.0h-1.0zM123.5 233.8h1.0v1.0h-1.0zM124.1 235.6h1.0v1.0h-1.0zM123.9 234.9h1.0v1.0h-1.0zM124.3 234.3h1.0v1.0h-1.0zM123.3 236.1h1.0v1.0h-1.0zM123.3 234.5h1.0v1.0h-1.0zM123.0 234.5h1.0v1.0h-1.0zM123.6 234.5h1.0v1.0h-1.0zM123.1 234.6h1.0v1.0h-1.0zM123.2 234.4h1.0v1.0h-1.0zM123.9 235.6h1.0v1.0h-1.0zM122.9 234.4h1.0v1.0h-1.0zM126.0 225.3h1.0v1.0h-1.0zM126.5 226.0h1.0v1.0h-1.0zM127.6 225.3h1.0v1.0h-1.0zM126.8 225.2h1.0v1.0h-1.0zM127.7 225.3h1.0v1.0h-1.0zM126.8 225.5h1.0v1.0h-1.0zM126.6 226.4h1.0v1.0h-1.0zM126.1 225.6h1.0v1.0h-1.0zM126.7 225.7h1.0v1.0h-1.0zM126.0 224.9h1.0v1.0h-1.0zM128.9 213.9h1.0v1.0h-1.0zM129.9 213.9h1.0v1.0h-1.0zM129.4 214.4h1.0v1.0h-1.0zM130.3 213.8h1.0v1.0h-1.0zM129.8 213.8h1.0v1.0h-1.0zM129.1 214.2h1.0v1.0h-1.0zM129.5 213.3h1.0v1.0h-1.0zM129.4 214.3h1.0v1.0h-1.0zM129.5 213.4h1.0v1.0h-1.0zM130.6 213.6h1.0v1.0h-1.0zM129.8 214.2h1.0v1.0h-1.0zM136.5 220.8h1.0v1.0h-1.0zM136.7 220.4h1.0v1.0h-1.0zM135.1 219.9h1.0v1.0h-1.0zM137.5 219.5h1.0v1.0h-1.0zM136.4 219.3h1.0v1.0h-1.0zM135.7 220.2h1.0v1.0h-1.0zM136.5 220.2h1.0v1.0h-1.0zM137.5 219.9h1.0v1.0h-1.0zM135.8 219.5h1.0v1.0h-1.0zM135.8 218.7h1.0v1.0h-1.0zM136.4 220.9h1.0v1.0h-1.0zM136.6 219.3h1.0v1.0h-1.0zM136.7 219.4h1.0v1.0h-1.0zM136.5 220.4h1.0v1.0h-1.0zM135.9 219.5h1.0v1.0h-1.0zM135.1 220.0h1.0v1.0h-1.0zM137.2 220.7h1.0v1.0h-1.0zM136.7 219.9h1.0v1.0h-1.0zM137.0 219.5h1.0v1.0h-1.0zM136.7 217.8h1.0v1.0h-1.0zM135.6 218.7h1.0v1.0h-1.0zM137.7 219.6h1.0v1.0h-1.0zM143.7 205.3h1.0v1.0h-1.0zM143.6 205.5h1.0v1.0h-1.0zM143.1 204.5h1.0v1.0h-1.0zM144.3 205.8h1.0v1.0h-1.0zM143.2 205.4h1.0v1.0h-1.0zM141.9 206.2h1.0v1.0h-1.0zM143.7 205.6h1.0v1.0h-1.0zM143.3 204.8h1.0v1.0h-1.0zM143.5 205.2h1.0v1.0h-1.0zM143.5 204.3h1.0v1.0h-1.0zM142.1 205.2h1.0v1.0h-1.0zM144.9 204.5h1.0v1.0h-1.0zM145.1 205.3h1.0v1.0h-1.0zM149.6 210.5h1.0v1.0h-1.0zM148.3 211.4h1.0v1.0h-1.0zM148.9 209.0h1.0v1.0h-1.0zM149.1 209.6h1.0v1.0h-1.0zM148.4 209.1h1.0v1.0h-1.0zM148.1 210.3h1.0v1.0h-1.0zM148.7 209.4h1.0v1.0h-1.0zM148.1 208.4h1.0v1.0h-1.0zM148.0 208.5h1.0v1.0h-1.0zM147.5 209.2h1.0v1.0h-1.0zM148.2 211.2h1.0v1.0h-1.0zM147.8 210.9h1.0v1.0h-1.0zM147.8 208.8h1.0v1.0h-1.0zM151.8 187.3h1.0v1.0h-1.0zM151.8 186.6h1.0v1.0h-1.0zM152.7 187.0h1.0v1.0h-1.0zM154.4 186.8h1.0v1.0h-1.0zM154.0 185.5h1.0v1.0h-1.0zM151.8 186.4h1.0v1.0h-1.0zM153.8 187.2h1.0v1.0h-1.0zM152.0 185.4h1.0v1.0h-1.0zM153.2 186.7h1.0v1.0h-1.0zM152.6 187.4h1.0v1.0h-1.0zM152.7 188.1h1.0v1.0h-1.0zM151.9 187.7h1.0v1.0h-1.0zM152.1 186.3h1.0v1.0h-1.0zM152.7 187.1h1.0v1.0h-1.0zM157.2 201.4h1.0v1.0h-1.0zM157.3 201.5h1.0v1.0h-1.0zM158.3 199.9h1.0v1.0h-1.0zM158.7 201.5h1.0v1.0h-1.0zM158.1 202.4h1.0v1.0h-1.0zM157.4 201.1h1.0v1.0h-1.0zM157.1 201.2h1.0v1.0h-1.0zM158.1 200.6h1.0v1.0h-1.0zM157.0 201.2h1.0v1.0h-1.0zM157.8 200.3h1.0v1.0h-1.0zM158.5 200.8h1.0v1.0h-1.0zM157.7 201.1h1.0v1.0h-1.0zM161.9 191.4h1.0v1.0h-1.0zM161.8 192.3h1.0v1.0h-1.0zM162.1 191.6h1.0v1.0h-1.0zM161.1 191.3h1.0v1.0h-1.0zM161.0 191.5h1.0v1.0h-1.0zM161.4 191.7h1.0v1.0h-1.0zM162.5 190.9h1.0v1.0h-1.0zM161.2 191.2h1.0v1.0h-1.0zM162.0 191.9h1.0v1.0h-1.0zM162.1 191.5h1.0v1.0h-1.0zM162.6 192.1h1.0v1.0h-1.0zM167.2 196.7h1.0v1.0h-1.0zM167.0 196.0h1.0v1.0h-1.0zM166.5 196.7h1.0v1.0h-1.0zM166.3 194.2h1.0v1.0h-1.0zM166.7 194.7h1.0v1.0h-1.0zM166.7 194.5h1.0v1.0h-1.0zM166.4 196.6h1.0v1.0h-1.0zM164.6 196.0h1.0v1.0h-1.0zM167.3 194.0h1.0v1.0h-1.0zM163.7 195.5h1.0v1.0h-1.0zM165.7 195.8h1.0v1.0h-1.0zM164.8 197.0h1.0v1.0h-1.0zM165.5 196.3h1.0v1.0h-1.0zM166.4 196.5h1.0v1.0h-1.0zM166.3 194.3h1.0v1.0h-1.0zM170.6 182.5h1.0v1.0h-1.0zM170.8 182.6h1.0v1.0h-1.0zM170.5 183.5h1.0v1.0h-1.0zM171.5 183.3h1.0v1.0h-1.0zM170.4 183.6h1.0v1.0h-1.0zM171.4 183.4h1.0v1.0h-1.0zM171.3 183.2h1.0v1.0h-1.0zM171.2 183.4h1.0v1.0h-1.0zM170.9 182.5h1.0v1.0h-1.0zM170.5 183.6h1.0v1.0h-1.0zM170.7 183.3h1.0v1.0h-1.0zM170.5 182.7h1.0v1.0h-1.0zM176.0 173.3h1.0v1.0h-1.0zM176.8 173.7h1.0v1.0h-1.0zM176.4 172.9h1.0v1.0h-1.0zM176.3 171.6h1.0v1.0h-1.0zM176.3 171.9h1.0v1.0h-1.0zM176.8 173.3h1.0v1.0h-1.0zM176.1 173.3h1.0v1.0h-1.0zM177.4 172.4h1.0v1.0h-1.0zM176.4 171.6h1.0v1.0h-1.0zM177.1 172.7h1.0v1.0h-1.0zM176.7 173.2h1.0v1.0h-1.0zM177.1 172.7h1.0v1.0h-1.0zM175.7 173.4h1.0v1.0h-1.0zM177.2 173.3h1.0v1.0h-1.0zM176.8 173.4h1.0v1.0h-1.0zM176.4 171.5h1.0v1.0h-1.0zM175.6 174.0h1.0v1.0h-1.0zM185.1 164.5h1.0v1.0h-1.0zM184.4 163.7h1.0v1.0h-1.0zM184.9 164.5h1.0v1.0h-1.0zM183.0 166.1h1.0v1.0h-1.0zM184.4 164.5h1.0v1.0h-1.0zM183.9 165.9h1.0v1.0h-1.0zM184.6 164.5h1.0v1.0h-1.0zM183.9 165.6h1.0v1.0h-1.0zM184.6 166.3h1.0v1.0h-1.0zM183.9 165.8h1.0v1.0h-1.0zM185.0 165.0h1.0v1.0h-1.0zM184.9 165.2h1.0v1.0h-1.0zM184.4 164.4h1.0v1.0h-1.0zM184.8 166.5h1.0v1.0h-1.0zM185.0 165.9h1.0v1.0h-1.0zM184.7 165.9h1.0v1.0h-1.0zM183.0 167.0h1.0v1.0h-1.0zM185.4 164.2h1.0v1.0h-1.0zM184.6 165.6h1.0v1.0h-1.0zM185.4 164.7h1.0v1.0h-1.0zM184.0 164.3h1.0v1.0h-1.0zM183.5 164.9h1.0v1.0h-1.0zM192.1 179.4h1.0v1.0h-1.0zM190.6 179.2h1.0v1.0h-1.0zM193.1 177.9h1.0v1.0h-1.0zM191.1 179.5h1.0v1.0h-1.0zM189.5 178.6h1.0v1.0h-1.0zM192.0 176.7h1.0v1.0h-1.0zM191.4 178.9h1.0v1.0h-1.0zM192.8 176.5h1.0v1.0h-1.0zM190.8 179.5h1.0v1.0h-1.0zM192.0 178.7h1.0v1.0h-1.0zM192.5 178.1h1.0v1.0h-1.0zM192.0 178.3h1.0v1.0h-1.0zM191.7 179.0h1.0v1.0h-1.0zM191.6 178.6h1.0v1.0h-1.0zM191.8 178.3h1.0v1.0h-1.0zM198.2 157.4h1.0v1.0h-1.0zM196.9 158.4h1.0v1.0h-1.0zM195.6 158.2h1.0v1.0h-1.0zM196.0 157.7h1.0v1.0h-1.0zM196.9 158.1h1.0v1.0h-1.0zM196.8 156.1h1.0v1.0h-1.0zM194.3 157.7h1.0v1.0h-1.0zM196.6 158.3h1.0v1.0h-1.0zM197.7 157.5h1.0v1.0h-1.0zM197.1 158.4h1.0v1.0h-1.0zM196.3 158.7h1.0v1.0h-1.0zM197.5 156.2h1.0v1.0h-1.0zM196.6 159.1h1.0v1.0h-1.0zM197.4 157.2h1.0v1.0h-1.0zM202.8 150.7h1.0v1.0h-1.0zM200.0 151.9h1.0v1.0h-1.0zM201.7 150.7h1.0v1.0h-1.0zM203.1 151.3h1.0v1.0h-1.0zM201.7 151.6h1.0v1.0h-1.0zM202.3 151.5h1.0v1.0h-1.0zM203.6 149.9h1.0v1.0h-1.0zM201.1 150.7h1.0v1.0h-1.0zM201.9 150.8h1.0v1.0h-1.0zM200.9 152.4h1.0v1.0h-1.0zM202.2 151.5h1.0v1.0h-1.0zM201.4 150.9h1.0v1.0h-1.0zM201.5 152.0h1.0v1.0h-1.0zM201.0 151.8h1.0v1.0h-1.0zM201.9 150.7h1.0v1.0h-1.0zM202.2 151.0h1.0v1.0h-1.0zM201.5 150.7h1.0v1.0h-1.0zM202.3 151.3h1.0v1.0h-1.0zM206.3 141.8h1.0v1.0h-1.0zM208.7 142.3h1.0v1.0h-1.0zM208.9 142.8h1.0v1.0h-1.0zM209.6 140.9h1.0v1.0h-1.0zM209.2 142.3h1.0v1.0h-1.0zM208.8 141.9h1.0v1.0h-1.0zM208.8 141.8h1.0v1.0h-1.0zM208.4 142.1h1.0v1.0h-1.0zM208.4 142.6h1.0v1.0h-1.0zM208.8 141.8h1.0v1.0h-1.0zM208.8 143.0h1.0v1.0h-1.0zM208.7 142.1h1.0v1.0h-1.0zM208.7 141.8h1.0v1.0h-1.0zM207.5 140.9h1.0v1.0h-1.0zM209.0 141.0h1.0v1.0h-1.0zM208.9 141.3h1.0v1.0h-1.0zM214.1 147.2h1.0v1.0h-1.0zM214.6 146.0h1.0v1.0h-1.0zM213.1 146.2h1.0v1.0h-1.0zM214.1 146.8h1.0v1.0h-1.0zM213.8 146.9h1.0v1.0h-1.0zM213.3 146.1h1.0v1.0h-1.0zM214.5 146.1h1.0v1.0h-1.0zM214.2 146.8h1.0v1.0h-1.0zM214.1 146.7h1.0v1.0h-1.0zM214.4 146.4h1.0v1.0h-1.0zM213.3 146.6h1.0v1.0h-1.0zM217.9 136.8h1.0v1.0h-1.0zM218.7 136.8h1.0v1.0h-1.0zM217.4 137.4h1.0v1.0h-1.0zM218.5 136.8h1.0v1.0h-1.0zM217.6 138.3h1.0v1.0h-1.0zM217.5 138.1h1.0v1.0h-1.0zM216.5 137.3h1.0v1.0h-1.0zM217.0 137.8h1.0v1.0h-1.0zM217.8 137.0h1.0v1.0h-1.0zM217.2 137.5h1.0v1.0h-1.0zM218.3 138.4h1.0v1.0h-1.0zM218.0 137.4h1.0v1.0h-1.0zM219.3 136.9h1.0v1.0h-1.0zM222.9 132.5h1.0v1.0h-1.0zM223.7 132.4h1.0v1.0h-1.0zM223.9 132.8h1.0v1.0h-1.0zM223.8 132.8h1.0v1.0h-1.0zM222.1 132.6h1.0v1.0h-1.0zM223.7 132.2h1.0v1.0h-1.0zM222.8 132.6h1.0v1.0h-1.0zM221.8 132.6h1.0v1.0h-1.0zM223.0 132.0h1.0v1.0h-1.0zM223.4 132.6h1.0v1.0h-1.0zM223.2 133.2h1.0v1.0h-1.0zM222.2 131.8h1.0v1.0h-1.0zM223.9 132.2h1.0v1.0h-1.0zM222.6 133.1h1.0v1.0h-1.0zM229.3 125.6h1.0v1.0h-1.0zM228.2 125.4h1.0v1.0h-1.0zM229.1 127.0h1.0v1.0h-1.0zM228.1 126.6h1.0v1.0h-1.0zM229.2 125.6h1.0v1.0h-1.0zM228.2 126.3h1.0v1.0h-1.0zM229.2 126.3h1.0v1.0h-1.0zM228.2 126.8h1.0v1.0h-1.0zM228.0 126.6h1.0v1.0h-1.0zM228.9 126.6h1.0v1.0h-1.0zM229.4 126.4h1.0v1.0h-1.0zM228.2 127.4h1.0v1.0h-1.0zM228.5 125.6h1.0v1.0h-1.0zM229.2 126.0h1.0v1.0h-1.0zM228.2 126.9h1.0v1.0h-1.0zM233.7 122.6h1.0v1.0h-1.0zM233.3 122.3h1.0v1.0h-1.0zM233.9 122.7h1.0v1.0h-1.0zM234.4 121.9h1.0v1.0h-1.0zM232.2 122.0h1.0v1.0h-1.0zM234.0 122.0h1.0v1.0h-1.0zM233.3 122.1h1.0v1.0h-1.0zM233.2 122.2h1.0v1.0h-1.0zM234.4 123.3h1.0v1.0h-1.0zM234.1 122.1h1.0v1.0h-1.0zM233.4 122.6h1.0v1.0h-1.0zM237.3 118.6h1.0v1.0h-1.0zM236.6 119.1h1.0v1.0h-1.0zM237.4 118.9h1.0v1.0h-1.0zM236.4 119.3h1.0v1.0h-1.0zM236.3 118.2h1.0v1.0h-1.0zM237.1 119.0h1.0v1.0h-1.0zM236.0 118.9h1.0v1.0h-1.0zM237.3 118.6h1.0v1.0h-1.0zM236.8 118.7h1.0v1.0h-1.0zM237.3 117.8h1.0v1.0h-1.0zM236.2 118.1h1.0v1.0h-1.0zM236.9 117.3h1.0v1.0h-1.0zM241.0 114.2h1.0v1.0h-1.0zM241.5 115.3h1.0v1.0h-1.0zM241.6 114.9h1.0v1.0h-1.0zM241.4 114.1h1.0v1.0h-1.0zM240.1 114.6h1.0v1.0h-1.0zM241.3 114.2h1.0v1.0h-1.0zM241.5 114.7h1.0v1.0h-1.0zM241.3 114.3h1.0v1.0h-1.0zM241.1 114.7h1.0v1.0h-1.0zM241.8 114.9h1.0v1.0h-1.0zM241.6 115.9h1.0v1.0h-1.0zM241.1 114.5h1.0v1.0h-1.0zM244.5 110.4h1.0v1.0h-1.0zM245.6 110.8h1.0v1.0h-1.0zM245.3 110.9h1.0v1.0h-1.0zM245.7 110.8h1.0v1.0h-1.0zM245.0 110.9h1.0v1.0h-1.0zM245.0 110.6h1.0v1.0h-1.0zM245.3 111.7h1.0v1.0h-1.0zM245.7 111.4h1.0v1.0h-1.0zM246.4 111.3h1.0v1.0h-1.0zM245.3 111.3h1.0v1.0h-1.0zM245.6 110.3h1.0v1.0h-1.0zM248.5 107.8h1.0v1.0h-1.0zM247.8 107.7h1.0v1.0h-1.0zM248.4 108.1h1.0v1.0h-1.0zM248.2 107.6h1.0v1.0h-1.0zM247.6 107.6h1.0v1.0h-1.0zM247.9 107.6h1.0v1.0h-1.0zM248.0 108.0h1.0v1.0h-1.0zM248.4 107.8h1.0v1.0h-1.0zM248.2 108.6h1.0v1.0h-1.0zM248.2 107.5h1.0v1.0h-1.0zM250.7 104.4h1.0v1.0h-1.0zM251.6 104.4h1.0v1.0h-1.0zM250.5 105.1h1.0v1.0h-1.0zM250.5 105.6h1.0v1.0h-1.0zM250.5 104.9h1.0v1.0h-1.0zM251.5 105.5h1.0v1.0h-1.0zM251.2 103.9h1.0v1.0h-1.0zM251.9 105.4h1.0v1.0h-1.0zM250.5 104.9h1.0v1.0h-1.0zM251.6 104.8h1.0v1.0h-1.0zM252.1 105.3h1.0v1.0h-1.0zM254.2 101.3h1.0v1.0h-1.0zM254.2 102.9h1.0v1.0h-1.0zM255.1 101.6h1.0v1.0h-1.0zM255.1 101.1h1.0v1.0h-1.0zM255.4 100.9h1.0v1.0h-1.0zM254.5 101.1h1.0v1.0h-1.0zM254.5 102.3h1.0v1.0h-1.0zM254.6 100.2h1.0v1.0h-1.0zM254.2 101.1h1.0v1.0h-1.0zM255.4 100.6h1.0v1.0h-1.0zM255.1 100.4h1.0v1.0h-1.0zM254.3 102.6h1.0v1.0h-1.0zM254.9 100.1h1.0v1.0h-1.0zM260.7 96.0h1.0v1.0h-1.0zM261.7 94.9h1.0v1.0h-1.0zM261.9 95.5h1.0v1.0h-1.0zM261.5 96.0h1.0v1.0h-1.0zM261.0 95.7h1.0v1.0h-1.0zM261.7 96.3h1.0v1.0h-1.0zM261.5 95.1h1.0v1.0h-1.0zM262.8 96.7h1.0v1.0h-1.0zM261.3 94.2h1.0v1.0h-1.0zM260.8 95.6h1.0v1.0h-1.0zM262.2 95.9h1.0v1.0h-1.0zM261.2 95.5h1.0v1.0h-1.0zM261.1 96.8h1.0v1.0h-1.0zM261.2 95.9h1.0v1.0h-1.0zM262.1 95.8h1.0v1.0h-1.0zM261.8 95.1h1.0v1.0h-1.0zM260.7 95.7h1.0v1.0h-1.0zM260.8 95.2h1.0v1.0h-1.0zM269.0 90.6h1.0v1.0h-1.0zM267.1 90.8h1.0v1.0h-1.0zM267.9 91.7h1.0v1.0h-1.0zM266.1 90.3h1.0v1.0h-1.0zM267.1 89.9h1.0v1.0h-1.0zM267.3 90.8h1.0v1.0h-1.0zM267.2 90.2h1.0v1.0h-1.0zM266.2 91.6h1.0v1.0h-1.0zM267.4 90.3h1.0v1.0h-1.0zM267.5 91.1h1.0v1.0h-1.0zM267.5 90.5h1.0v1.0h-1.0zM267.5 90.8h1.0v1.0h-1.0zM271.7 86.7h1.0v1.0h-1.0zM272.3 84.3h1.0v1.0h-1.0zM272.1 85.7h1.0v1.0h-1.0zM271.7 86.0h1.0v1.0h-1.0zM271.8 86.5h1.0v1.0h-1.0zM271.3 86.0h1.0v1.0h-1.0zM271.6 86.0h1.0v1.0h-1.0zM272.3 85.7h1.0v1.0h-1.0zM272.9 85.9h1.0v1.0h-1.0zM271.5 86.5h1.0v1.0h-1.0zM272.3 86.6h1.0v1.0h-1.0zM270.8 85.7h1.0v1.0h-1.0zM272.1 85.3h1.0v1.0h-1.0zM275.6 81.8h1.0v1.0h-1.0zM275.7 81.5h1.0v1.0h-1.0zM275.9 82.4h1.0v1.0h-1.0zM275.6 81.7h1.0v1.0h-1.0zM275.4 81.2h1.0v1.0h-1.0zM276.1 82.0h1.0v1.0h-1.0zM275.8 81.5h1.0v1.0h-1.0zM275.8 81.2h1.0v1.0h-1.0zM275.6 82.0h1.0v1.0h-1.0zM280.5 76.6h1.0v1.0h-1.0zM279.8 77.3h1.0v1.0h-1.0zM279.9 76.7h1.0v1.0h-1.0zM279.0 77.9h1.0v1.0h-1.0zM280.2 76.0h1.0v1.0h-1.0zM279.8 77.2h1.0v1.0h-1.0zM280.1 76.4h1.0v1.0h-1.0zM279.4 75.5h1.0v1.0h-1.0zM279.8 77.4h1.0v1.0h-1.0zM279.1 76.3h1.0v1.0h-1.0zM279.6 77.2h1.0v1.0h-1.0zM283.4 79.2h1.0v1.0h-1.0zM283.0 79.3h1.0v1.0h-1.0zM283.0 78.8h1.0v1.0h-1.0zM282.9 79.3h1.0v1.0h-1.0zM283.2 79.4h1.0v1.0h-1.0zM283.5 79.2h1.0v1.0h-1.0zM283.9 80.0h1.0v1.0h-1.0zM283.6 79.6h1.0v1.0h-1.0zM283.5 79.9h1.0v1.0h-1.0zM285.1 73.8h1.0v1.0h-1.0zM285.4 74.6h1.0v1.0h-1.0zM284.9 73.9h1.0v1.0h-1.0zM285.7 73.9h1.0v1.0h-1.0zM286.0 74.1h1.0v1.0h-1.0zM285.3 74.0h1.0v1.0h-1.0zM284.7 74.5h1.0v1.0h-1.0zM285.8 73.8h1.0v1.0h-1.0zM285.5 73.9h1.0v1.0h-1.0zM287.4 71.6h1.0v1.0h-1.0zM286.9 71.3h1.0v1.0h-1.0zM287.2 71.9h1.0v1.0h-1.0zM286.5 71.9h1.0v1.0h-1.0zM286.9 71.6h1.0v1.0h-1.0zM287.2 71.4h1.0v1.0h-1.0zM287.3 71.9h1.0v1.0h-1.0zM286.9 71.7h1.0v1.0h-1.0zM288.6 69.9h1.0v1.0h-1.0zM288.6 70.3h1.0v1.0h-1.0zM288.4 70.3h1.0v1.0h-1.0zM288.5 69.8h1.0v1.0h-1.0zM289.4 69.6h1.0v1.0h-1.0zM289.0 69.8h1.0v1.0h-1.0zM288.9 69.9h1.0v1.0h-1.0zM288.4 69.9h1.0v1.0h-1.0z" fill="#000" fill-opacity="0.95"/>
<rect x="290.50" y="66.60" width="4.00" height="4.00" fill="#000" stroke="none" stroke-width="0.7" />
<rect x="226.60" y="123.50" width="7.00" height="6.80" fill="none" stroke="#961208" stroke-width="1.1" />
<rect x="127.40" y="211.30" width="6.70" height="6.30" fill="none" stroke="#961208" stroke-width="1.1" />
<text x="393.00" y="16.30" font-size="20.5" text-anchor="start" fill="#000" font-weight="bold">c</text>
<path d="M455.7 111.1h0.6v0.6h-0.6zM510.5 101.4h0.6v0.6h-0.6zM462.1 114.0h0.6v0.6h-0.6zM424.6 106.2h0.6v0.6h-0.6zM476.3 135.3h0.6v0.6h-0.6zM414.0 84.6h0.6v0.6h-0.6zM413.6 137.0h0.6v0.6h-0.6zM483.7 57.5h0.6v0.6h-0.6zM517.2 153.1h0.6v0.6h-0.6zM479.1 116.9h0.6v0.6h-0.6zM421.4 54.8h0.6v0.6h-0.6zM464.5 59.4h0.6v0.6h-0.6zM425.2 78.2h0.6v0.6h-0.6zM406.6 101.2h0.6v0.6h-0.6zM454.3 140.4h0.6v0.6h-0.6zM463.4 119.5h0.6v0.6h-0.6zM461.2 121.8h0.6v0.6h-0.6zM456.2 82.0h0.6v0.6h-0.6zM519.0 156.3h0.6v0.6h-0.6zM500.7 126.5h0.6v0.6h-0.6zM439.7 77.0h0.6v0.6h-0.6zM436.7 60.5h0.6v0.6h-0.6zM492.1 94.6h0.6v0.6h-0.6zM501.5 93.2h0.6v0.6h-0.6zM514.4 140.9h0.6v0.6h-0.6zM403.2 74.9h0.6v0.6h-0.6zM508.9 101.8h0.6v0.6h-0.6zM517.0 94.3h0.6v0.6h-0.6zM411.6 118.3h0.6v0.6h-0.6zM493.6 81.1h0.6v0.6h-0.6zM413.2 87.6h0.6v0.6h-0.6zM515.1 131.7h0.6v0.6h-0.6zM416.8 78.7h0.6v0.6h-0.6zM414.8 59.4h0.6v0.6h-0.6zM495.7 71.6h0.6v0.6h-0.6zM468.1 99.5h0.6v0.6h-0.6zM425.3 129.0h0.6v0.6h-0.6zM418.3 119.8h0.6v0.6h-0.6zM416.6 96.7h0.6v0.6h-0.6zM427.8 81.1h0.6v0.6h-0.6zM515.9 136.4h0.6v0.6h-0.6zM438.4 144.8h0.6v0.6h-0.6zM427.6 94.0h0.6v0.6h-0.6zM502.4 119.6h0.6v0.6h-0.6zM414.8 155.6h0.6v0.6h-0.6zM427.9 79.9h0.6v0.6h-0.6zM492.9 87.2h0.6v0.6h-0.6zM437.5 60.8h0.6v0.6h-0.6zM413.6 113.5h0.6v0.6h-0.6zM431.3 115.4h0.6v0.6h-0.6zM446.3 100.1h0.6v0.6h-0.6zM514.6 103.3h0.6v0.6h-0.6zM469.9 142.9h0.6v0.6h-0.6zM424.3 69.2h0.6v0.6h-0.6zM508.7 137.8h0.6v0.6h-0.6zM432.1 72.8h0.6v0.6h-0.6zM489.0 150.5h0.6v0.6h-0.6zM425.9 151.5h0.6v0.6h-0.6zM505.6 115.7h0.6v0.6h-0.6zM452.1 63.9h0.6v0.6h-0.6zM407.6 152.8h0.6v0.6h-0.6zM430.8 126.1h0.6v0.6h-0.6zM433.0 138.5h0.6v0.6h-0.6zM472.4 83.6h0.6v0.6h-0.6zM423.5 127.8h0.6v0.6h-0.6zM411.1 76.8h0.6v0.6h-0.6zM468.1 141.4h0.6v0.6h-0.6zM474.5 82.2h0.6v0.6h-0.6zM509.7 74.3h0.6v0.6h-0.6zM405.0 81.1h0.6v0.6h-0.6zM454.9 59.5h0.6v0.6h-0.6zM423.6 91.4h0.6v0.6h-0.6zM469.6 66.8h0.6v0.6h-0.6zM445.2 145.4h0.6v0.6h-0.6zM517.0 121.2h0.6v0.6h-0.6zM483.4 113.7h0.6v0.6h-0.6zM419.4 56.8h0.6v0.6h-0.6zM405.2 147.4h0.6v0.6h-0.6zM484.6 152.8h0.6v0.6h-0.6zM405.6 119.0h0.6v0.6h-0.6zM459.1 128.8h0.6v0.6h-0.6zM440.2 156.6h0.6v0.6h-0.6zM411.8 109.7h0.6v0.6h-0.6zM488.7 146.4h0.6v0.6h-0.6zM488.7 126.0h0.6v0.6h-0.6zM495.3 147.9h0.6v0.6h-0.6zM444.0 124.1h0.6v0.6h-0.6zM507.8 143.4h0.6v0.6h-0.6zM451.6 135.0h0.6v0.6h-0.6zM503.4 112.5h0.6v0.6h-0.6zM475.7 92.8h0.6v0.6h-0.6zM470.8 116.2h0.6v0.6h-0.6zM412.4 119.4h0.6v0.6h-0.6zM518.5 144.3h0.6v0.6h-0.6zM487.7 93.4h0.6v0.6h-0.6zM488.5 113.3h0.6v0.6h-0.6zM454.3 140.0h0.6v0.6h-0.6zM412.8 130.8h0.6v0.6h-0.6zM406.6 115.4h0.6v0.6h-0.6zM459.0 77.0h0.6v0.6h-0.6zM484.2 104.7h0.6v0.6h-0.6zM474.5 148.5h0.6v0.6h-0.6zM432.8 54.4h0.6v0.6h-0.6zM438.1 123.4h0.6v0.6h-0.6zM426.6 70.8h0.6v0.6h-0.6zM508.3 121.5h0.6v0.6h-0.6zM454.5 145.5h0.6v0.6h-0.6zM441.1 122.1h0.6v0.6h-0.6zM426.2 97.8h0.6v0.6h-0.6zM496.8 147.8h0.6v0.6h-0.6zM505.4 93.0h0.6v0.6h-0.6zM470.9 86.0h0.6v0.6h-0.6zM418.9 104.6h0.6v0.6h-0.6zM500.4 141.0h0.6v0.6h-0.6zM485.7 151.5h0.6v0.6h-0.6zM435.3 70.7h0.6v0.6h-0.6zM455.5 81.7h0.6v0.6h-0.6zM428.0 96.0h0.6v0.6h-0.6zM475.8 104.3h0.6v0.6h-0.6zM439.7 140.0h0.6v0.6h-0.6zM517.2 100.0h0.6v0.6h-0.6zM411.8 56.5h0.6v0.6h-0.6zM504.5 57.5h0.6v0.6h-0.6zM485.4 112.3h0.6v0.6h-0.6zM439.0 135.1h0.6v0.6h-0.6zM405.3 67.3h0.6v0.6h-0.6zM456.0 55.8h0.6v0.6h-0.6zM499.5 77.8h0.6v0.6h-0.6zM419.5 58.1h0.6v0.6h-0.6zM476.2 99.4h0.6v0.6h-0.6zM476.3 121.0h0.6v0.6h-0.6zM496.9 152.4h0.6v0.6h-0.6zM482.6 73.8h0.6v0.6h-0.6zM458.3 71.7h0.6v0.6h-0.6zM404.4 102.1h0.6v0.6h-0.6zM486.1 71.7h0.6v0.6h-0.6zM434.7 89.0h0.6v0.6h-0.6zM484.1 107.1h0.6v0.6h-0.6zM474.5 131.5h0.6v0.6h-0.6zM448.8 135.2h0.6v0.6h-0.6zM508.4 62.2h0.6v0.6h-0.6zM511.5 128.0h0.6v0.6h-0.6zM418.2 100.1h0.6v0.6h-0.6zM475.8 147.4h0.6v0.6h-0.6zM446.9 112.1h0.6v0.6h-0.6zM505.3 135.7h0.6v0.6h-0.6zM512.8 101.2h0.6v0.6h-0.6zM478.8 74.4h0.6v0.6h-0.6zM487.0 137.9h0.6v0.6h-0.6zM477.7 127.5h0.6v0.6h-0.6zM427.9 146.3h0.6v0.6h-0.6zM517.0 154.4h0.6v0.6h-0.6zM465.5 135.0h0.6v0.6h-0.6zM440.3 147.4h0.6v0.6h-0.6zM502.5 89.3h0.6v0.6h-0.6zM412.7 98.8h0.6v0.6h-0.6zM467.0 132.7h0.6v0.6h-0.6zM459.7 56.1h0.6v0.6h-0.6zM497.1 59.8h0.6v0.6h-0.6zM496.0 71.1h0.6v0.6h-0.6zM442.0 134.7h0.6v0.6h-0.6zM419.4 68.6h0.6v0.6h-0.6zM463.1 128.1h0.6v0.6h-0.6zM500.7 124.5h0.6v0.6h-0.6zM513.0 104.2h0.6v0.6h-0.6zM513.4 62.1h0.6v0.6h-0.6zM428.8 107.7h0.6v0.6h-0.6zM436.8 128.6h0.6v0.6h-0.6zM477.3 107.3h0.6v0.6h-0.6zM501.1 111.2h0.6v0.6h-0.6zM439.3 92.7h0.6v0.6h-0.6zM501.3 146.4h0.6v0.6h-0.6zM427.3 141.3h0.6v0.6h-0.6zM515.6 107.5h0.6v0.6h-0.6zM469.7 74.0h0.6v0.6h-0.6zM465.4 105.3h0.6v0.6h-0.6zM473.4 56.1h0.6v0.6h-0.6zM515.7 106.6h0.6v0.6h-0.6zM449.6 136.1h0.6v0.6h-0.6zM468.5 104.0h0.6v0.6h-0.6zM483.4 60.0h0.6v0.6h-0.6zM465.7 96.0h0.6v0.6h-0.6zM514.3 148.8h0.6v0.6h-0.6zM434.4 102.2h0.6v0.6h-0.6zM417.9 98.1h0.6v0.6h-0.6zM497.9 146.4h0.6v0.6h-0.6zM458.5 86.0h0.6v0.6h-0.6zM425.3 117.2h0.6v0.6h-0.6zM510.6 66.6h0.6v0.6h-0.6zM493.7 55.6h0.6v0.6h-0.6zM425.7 76.7h0.6v0.6h-0.6zM482.9 86.5h0.6v0.6h-0.6zM444.4 117.3h0.6v0.6h-0.6zM415.3 128.8h0.6v0.6h-0.6zM417.4 106.0h0.6v0.6h-0.6zM432.2 73.7h0.6v0.6h-0.6zM464.7 98.4h0.6v0.6h-0.6zM446.8 96.0h0.6v0.6h-0.6zM464.6 69.7h0.6v0.6h-0.6zM426.8 118.5h0.6v0.6h-0.6zM477.3 108.0h0.6v0.6h-0.6zM502.0 116.5h0.6v0.6h-0.6zM502.7 77.3h0.6v0.6h-0.6zM489.2 137.1h0.6v0.6h-0.6zM508.0 85.9h0.6v0.6h-0.6zM439.7 148.7h0.6v0.6h-0.6zM428.4 156.5h0.6v0.6h-0.6zM506.2 67.1h0.6v0.6h-0.6zM430.9 128.4h0.6v0.6h-0.6zM433.3 63.2h0.6v0.6h-0.6zM499.8 96.8h0.6v0.6h-0.6zM494.9 66.2h0.6v0.6h-0.6zM449.9 124.1h0.6v0.6h-0.6zM405.2 74.0h0.6v0.6h-0.6zM482.4 147.5h0.6v0.6h-0.6zM515.6 65.1h0.6v0.6h-0.6zM461.9 131.7h0.6v0.6h-0.6zM461.5 124.2h0.6v0.6h-0.6zM425.1 60.5h0.6v0.6h-0.6zM415.4 57.1h0.6v0.6h-0.6zM467.2 106.5h0.6v0.6h-0.6zM469.2 68.4h0.6v0.6h-0.6zM424.5 74.3h0.6v0.6h-0.6zM500.7 155.7h0.6v0.6h-0.6zM510.8 63.1h0.6v0.6h-0.6zM410.3 151.7h0.6v0.6h-0.6zM456.8 132.3h0.6v0.6h-0.6zM441.1 101.5h0.6v0.6h-0.6zM463.0 97.7h0.6v0.6h-0.6zM472.9 54.6h0.6v0.6h-0.6zM484.6 140.6h0.6v0.6h-0.6zM424.2 100.2h0.6v0.6h-0.6zM489.0 95.1h0.6v0.6h-0.6zM425.8 70.3h0.6v0.6h-0.6zM462.7 54.8h0.6v0.6h-0.6zM506.9 136.2h0.6v0.6h-0.6zM485.0 142.3h0.6v0.6h-0.6zM476.2 95.1h0.6v0.6h-0.6zM472.8 105.4h0.6v0.6h-0.6zM517.3 136.5h0.6v0.6h-0.6zM433.1 147.5h0.6v0.6h-0.6zM489.6 133.7h0.6v0.6h-0.6zM497.8 95.2h0.6v0.6h-0.6zM507.3 144.3h0.6v0.6h-0.6zM483.8 132.6h0.6v0.6h-0.6zM492.0 95.2h0.6v0.6h-0.6zM487.1 60.5h0.6v0.6h-0.6zM442.8 101.7h0.6v0.6h-0.6zM404.3 90.0h0.6v0.6h-0.6zM477.3 117.8h0.6v0.6h-0.6zM430.1 151.0h0.6v0.6h-0.6zM480.5 88.2h0.6v0.6h-0.6zM479.8 112.2h0.6v0.6h-0.6zM465.0 93.5h0.6v0.6h-0.6zM519.3 119.7h0.6v0.6h-0.6zM484.6 132.0h0.6v0.6h-0.6zM517.0 55.6h0.6v0.6h-0.6zM474.6 129.7h0.6v0.6h-0.6zM432.9 94.8h0.6v0.6h-0.6zM409.0 73.4h0.6v0.6h-0.6zM446.8 63.4h0.6v0.6h-0.6zM432.3 146.9h0.6v0.6h-0.6zM467.0 105.8h0.6v0.6h-0.6zM515.5 112.0h0.6v0.6h-0.6zM518.7 119.2h0.6v0.6h-0.6zM497.2 61.1h0.6v0.6h-0.6zM472.5 131.8h0.6v0.6h-0.6zM408.3 149.5h0.6v0.6h-0.6zM421.7 102.0h0.6v0.6h-0.6zM422.8 104.5h0.6v0.6h-0.6zM474.1 59.3h0.6v0.6h-0.6zM512.9 96.7h0.6v0.6h-0.6zM464.3 115.1h0.6v0.6h-0.6zM445.6 82.8h0.6v0.6h-0.6zM479.2 111.2h0.6v0.6h-0.6zM436.0 127.4h0.6v0.6h-0.6zM437.5 54.7h0.6v0.6h-0.6zM431.6 57.6h0.6v0.6h-0.6zM421.3 131.3h0.6v0.6h-0.6zM448.4 146.1h0.6v0.6h-0.6zM490.1 58.4h0.6v0.6h-0.6zM518.0 151.0h0.6v0.6h-0.6zM411.6 146.9h0.6v0.6h-0.6zM453.0 102.6h0.6v0.6h-0.6zM516.2 78.4h0.6v0.6h-0.6zM463.9 150.2h0.6v0.6h-0.6zM487.1 101.7h0.6v0.6h-0.6zM516.8 137.7h0.6v0.6h-0.6zM473.2 65.1h0.6v0.6h-0.6zM475.6 100.4h0.6v0.6h-0.6zM426.8 58.6h0.6v0.6h-0.6zM464.5 66.1h0.6v0.6h-0.6zM454.6 122.3h0.6v0.6h-0.6zM456.0 80.3h0.6v0.6h-0.6zM470.8 96.6h0.6v0.6h-0.6zM493.5 108.1h0.6v0.6h-0.6zM519.0 151.8h0.6v0.6h-0.6zM488.4 77.9h0.6v0.6h-0.6zM416.3 145.6h0.6v0.6h-0.6zM494.2 117.9h0.6v0.6h-0.6zM444.8 81.3h0.6v0.6h-0.6zM482.7 111.7h0.6v0.6h-0.6zM471.9 118.7h0.6v0.6h-0.6zM490.6 72.8h0.6v0.6h-0.6zM432.0 154.6h0.6v0.6h-0.6zM509.5 144.2h0.6v0.6h-0.6zM407.7 59.5h0.6v0.6h-0.6zM434.6 97.2h0.6v0.6h-0.6zM475.5 63.8h0.6v0.6h-0.6zM466.0 60.7h0.6v0.6h-0.6zM413.1 123.2h0.6v0.6h-0.6zM467.1 118.5h0.6v0.6h-0.6zM446.5 102.7h0.6v0.6h-0.6zM427.6 88.8h0.6v0.6h-0.6zM489.6 140.0h0.6v0.6h-0.6zM411.7 65.6h0.6v0.6h-0.6zM497.1 117.8h0.6v0.6h-0.6zM492.4 75.3h0.6v0.6h-0.6zM452.4 79.9h0.6v0.6h-0.6zM497.2 91.4h0.6v0.6h-0.6zM479.1 155.6h0.6v0.6h-0.6zM440.9 110.0h0.6v0.6h-0.6zM489.8 148.5h0.6v0.6h-0.6zM452.8 91.4h0.6v0.6h-0.6zM414.4 143.8h0.6v0.6h-0.6zM412.2 61.8h0.6v0.6h-0.6zM468.7 103.4h0.6v0.6h-0.6zM482.7 84.1h0.6v0.6h-0.6zM493.2 61.1h0.6v0.6h-0.6zM427.9 121.7h0.6v0.6h-0.6zM412.6 84.6h0.6v0.6h-0.6zM487.3 125.0h0.6v0.6h-0.6zM436.0 68.0h0.6v0.6h-0.6zM444.7 128.3h0.6v0.6h-0.6zM445.7 65.3h0.6v0.6h-0.6zM485.5 112.1h0.6v0.6h-0.6zM509.8 150.5h0.6v0.6h-0.6zM509.2 98.5h0.6v0.6h-0.6zM496.4 84.7h0.6v0.6h-0.6zM440.0 94.6h0.6v0.6h-0.6zM511.7 145.8h0.6v0.6h-0.6zM432.0 90.6h0.6v0.6h-0.6zM445.6 90.8h0.6v0.6h-0.6zM449.1 93.3h0.6v0.6h-0.6zM425.8 111.6h0.6v0.6h-0.6zM495.7 109.1h0.6v0.6h-0.6zM500.3 111.4h0.6v0.6h-0.6zM423.6 131.8h0.6v0.6h-0.6zM505.5 82.3h0.6v0.6h-0.6zM405.7 106.6h0.6v0.6h-0.6zM466.3 111.9h0.6v0.6h-0.6zM515.4 120.6h0.6v0.6h-0.6zM496.6 59.8h0.6v0.6h-0.6zM466.6 134.8h0.6v0.6h-0.6zM412.9 61.7h0.6v0.6h-0.6zM488.7 146.3h0.6v0.6h-0.6zM412.9 118.8h0.6v0.6h-0.6zM419.8 130.4h0.6v0.6h-0.6zM478.5 78.6h0.6v0.6h-0.6zM428.7 132.4h0.6v0.6h-0.6zM463.7 132.3h0.6v0.6h-0.6zM448.9 88.2h0.6v0.6h-0.6zM515.6 122.8h0.6v0.6h-0.6zM460.5 108.8h0.6v0.6h-0.6zM486.9 126.5h0.6v0.6h-0.6zM509.4 95.7h0.6v0.6h-0.6zM499.1 122.2h0.6v0.6h-0.6zM502.3 136.6h0.6v0.6h-0.6zM500.0 145.2h0.6v0.6h-0.6zM514.4 119.5h0.6v0.6h-0.6zM464.0 126.7h0.6v0.6h-0.6zM496.3 96.8h0.6v0.6h-0.6zM452.0 68.3h0.6v0.6h-0.6zM489.2 155.8h0.6v0.6h-0.6zM446.7 70.6h0.6v0.6h-0.6zM426.8 97.2h0.6v0.6h-0.6zM437.0 153.6h0.6v0.6h-0.6zM410.0 85.1h0.6v0.6h-0.6zM416.4 120.3h0.6v0.6h-0.6zM493.3 71.8h0.6v0.6h-0.6zM410.3 100.7h0.6v0.6h-0.6zM471.0 147.3h0.6v0.6h-0.6zM407.3 64.4h0.6v0.6h-0.6zM424.5 75.7h0.6v0.6h-0.6zM430.5 127.4h0.6v0.6h-0.6zM472.2 76.4h0.6v0.6h-0.6zM424.6 82.3h0.6v0.6h-0.6zM423.1 131.6h0.6v0.6h-0.6zM439.3 109.9h0.6v0.6h-0.6zM498.1 102.8h0.6v0.6h-0.6zM433.4 145.0h0.6v0.6h-0.6zM509.3 88.6h0.6v0.6h-0.6zM466.7 152.3h0.6v0.6h-0.6zM459.2 76.1h0.6v0.6h-0.6zM408.9 151.3h0.6v0.6h-0.6zM496.2 93.0h0.6v0.6h-0.6zM464.4 106.6h0.6v0.6h-0.6zM435.0 155.7h0.6v0.6h-0.6zM479.5 77.8h0.6v0.6h-0.6zM404.4 102.1h0.6v0.6h-0.6zM446.3 135.7h0.6v0.6h-0.6zM486.0 115.9h0.6v0.6h-0.6zM421.4 69.4h0.6v0.6h-0.6zM440.5 80.1h0.6v0.6h-0.6zM504.1 106.6h0.6v0.6h-0.6zM477.1 156.0h0.6v0.6h-0.6zM434.1 108.5h0.6v0.6h-0.6zM420.6 132.9h0.6v0.6h-0.6zM403.3 138.2h0.6v0.6h-0.6zM501.4 138.3h0.6v0.6h-0.6zM412.7 81.1h0.6v0.6h-0.6zM486.4 63.3h0.6v0.6h-0.6zM458.9 101.7h0.6v0.6h-0.6zM514.1 113.9h0.6v0.6h-0.6zM502.7 84.6h0.6v0.6h-0.6zM494.8 96.4h0.6v0.6h-0.6zM509.6 62.6h0.6v0.6h-0.6zM499.1 74.8h0.6v0.6h-0.6zM466.2 107.6h0.6v0.6h-0.6zM421.4 139.3h0.6v0.6h-0.6zM439.3 85.4h0.6v0.6h-0.6zM411.9 84.8h0.6v0.6h-0.6zM457.4 127.2h0.6v0.6h-0.6zM444.9 124.3h0.6v0.6h-0.6zM415.4 94.0h0.6v0.6h-0.6zM456.8 153.3h0.6v0.6h-0.6zM499.5 120.9h0.6v0.6h-0.6zM404.5 92.2h0.6v0.6h-0.6zM485.6 77.8h0.6v0.6h-0.6zM468.7 100.6h0.6v0.6h-0.6zM404.3 155.8h0.6v0.6h-0.6zM496.0 74.6h0.6v0.6h-0.6zM474.7 83.3h0.6v0.6h-0.6zM446.8 109.1h0.6v0.6h-0.6zM437.8 88.1h0.6v0.6h-0.6zM448.7 122.2h0.6v0.6h-0.6zM432.9 73.9h0.6v0.6h-0.6zM488.1 87.3h0.6v0.6h-0.6zM512.9 111.5h0.6v0.6h-0.6zM487.2 87.5h0.6v0.6h-0.6zM499.2 62.8h0.6v0.6h-0.6zM419.5 63.0h0.6v0.6h-0.6zM481.8 126.5h0.6v0.6h-0.6zM424.0 94.8h0.6v0.6h-0.6zM500.4 114.5h0.6v0.6h-0.6zM413.6 76.7h0.6v0.6h-0.6zM421.4 66.0h0.6v0.6h-0.6zM450.4 60.7h0.6v0.6h-0.6zM510.1 97.4h0.6v0.6h-0.6zM462.5 120.2h0.6v0.6h-0.6zM492.2 138.2h0.6v0.6h-0.6zM447.9 87.5h0.6v0.6h-0.6zM451.0 54.8h0.6v0.6h-0.6zM449.7 125.6h0.6v0.6h-0.6zM517.2 134.9h0.6v0.6h-0.6zM479.8 116.2h0.6v0.6h-0.6zM405.3 87.5h0.6v0.6h-0.6zM442.9 120.5h0.6v0.6h-0.6zM415.4 92.3h0.6v0.6h-0.6zM462.3 134.8h0.6v0.6h-0.6zM499.0 116.5h0.6v0.6h-0.6zM421.5 132.5h0.6v0.6h-0.6zM508.0 109.9h0.6v0.6h-0.6zM444.1 105.0h0.6v0.6h-0.6zM419.6 127.0h0.6v0.6h-0.6zM517.8 106.6h0.6v0.6h-0.6zM486.2 139.7h0.6v0.6h-0.6zM426.0 151.0h0.6v0.6h-0.6zM476.0 73.7h0.6v0.6h-0.6zM412.8 78.5h0.6v0.6h-0.6zM470.1 125.3h0.6v0.6h-0.6zM441.4 149.4h0.6v0.6h-0.6zM445.1 101.1h0.6v0.6h-0.6zM417.5 154.0h0.6v0.6h-0.6zM418.9 146.8h0.6v0.6h-0.6zM466.2 111.2h0.6v0.6h-0.6zM468.2 80.6h0.6v0.6h-0.6zM508.8 155.9h0.6v0.6h-0.6zM498.1 115.5h0.6v0.6h-0.6zM417.4 138.6h0.6v0.6h-0.6zM436.6 146.0h0.6v0.6h-0.6zM431.1 112.6h0.6v0.6h-0.6zM499.6 72.4h0.6v0.6h-0.6zM466.8 61.1h0.6v0.6h-0.6zM406.8 71.8h0.6v0.6h-0.6zM517.8 150.4h0.6v0.6h-0.6zM479.6 85.0h0.6v0.6h-0.6zM481.1 129.5h0.6v0.6h-0.6zM447.4 114.5h0.6v0.6h-0.6zM496.5 54.9h0.6v0.6h-0.6zM426.3 101.6h0.6v0.6h-0.6zM419.7 93.2h0.6v0.6h-0.6zM469.3 71.2h0.6v0.6h-0.6zM463.5 80.5h0.6v0.6h-0.6zM469.1 87.6h0.6v0.6h-0.6zM477.7 57.1h0.6v0.6h-0.6zM481.1 68.2h0.6v0.6h-0.6zM514.6 115.3h0.6v0.6h-0.6zM457.7 95.8h0.6v0.6h-0.6zM475.6 124.5h0.6v0.6h-0.6zM491.2 131.0h0.6v0.6h-0.6zM459.5 156.1h0.6v0.6h-0.6zM500.5 141.7h0.6v0.6h-0.6zM450.6 98.1h0.6v0.6h-0.6zM468.9 146.9h0.6v0.6h-0.6zM464.2 107.5h0.6v0.6h-0.6zM453.3 146.8h0.6v0.6h-0.6zM440.4 58.9h0.6v0.6h-0.6zM487.4 146.4h0.6v0.6h-0.6zM488.2 115.0h0.6v0.6h-0.6zM490.5 84.7h0.6v0.6h-0.6zM472.1 60.4h0.6v0.6h-0.6zM417.6 99.5h0.6v0.6h-0.6zM461.5 94.3h0.6v0.6h-0.6zM409.1 125.1h0.6v0.6h-0.6zM464.2 78.0h0.6v0.6h-0.6zM438.7 94.1h0.6v0.6h-0.6zM430.5 60.3h0.6v0.6h-0.6zM509.0 153.2h0.6v0.6h-0.6zM480.5 142.9h0.6v0.6h-0.6z" fill="#000" fill-opacity="0.22"/>
<path d="M452.0 136.5h0.7v0.7h-0.7zM428.8 130.4h0.7v0.7h-0.7zM468.9 146.7h0.7v0.7h-0.7zM414.5 135.2h0.7v0.7h-0.7zM417.4 108.8h0.7v0.7h-0.7zM513.6 53.2h0.7v0.7h-0.7zM431.4 84.1h0.7v0.7h-0.7zM440.8 59.6h0.7v0.7h-0.7zM507.1 137.5h0.7v0.7h-0.7zM449.2 90.0h0.7v0.7h-0.7zM471.1 57.9h0.7v0.7h-0.7zM406.7 146.1h0.7v0.7h-0.7zM438.8 104.7h0.7v0.7h-0.7zM511.6 154.3h0.7v0.7h-0.7zM458.0 74.5h0.7v0.7h-0.7zM437.4 148.6h0.7v0.7h-0.7zM507.3 73.4h0.7v0.7h-0.7zM500.4 89.8h0.7v0.7h-0.7zM458.0 70.9h0.7v0.7h-0.7zM505.3 156.2h0.7v0.7h-0.7zM426.5 118.6h0.7v0.7h-0.7zM425.3 144.2h0.7v0.7h-0.7zM408.9 64.1h0.7v0.7h-0.7zM487.4 85.5h0.7v0.7h-0.7zM507.7 143.2h0.7v0.7h-0.7zM485.9 67.1h0.7v0.7h-0.7zM483.9 150.2h0.7v0.7h-0.7zM454.8 61.3h0.7v0.7h-0.7zM429.0 84.9h0.7v0.7h-0.7zM485.6 73.5h0.7v0.7h-0.7zM424.1 77.5h0.7v0.7h-0.7zM480.3 135.0h0.7v0.7h-0.7zM446.3 121.7h0.7v0.7h-0.7zM505.8 114.2h0.7v0.7h-0.7zM429.7 84.3h0.7v0.7h-0.7zM510.7 122.2h0.7v0.7h-0.7zM435.2 119.4h0.7v0.7h-0.7zM413.5 154.9h0.7v0.7h-0.7zM454.2 107.8h0.7v0.7h-0.7zM464.7 57.8h0.7v0.7h-0.7zM472.7 82.6h0.7v0.7h-0.7zM432.2 136.3h0.7v0.7h-0.7zM413.2 82.7h0.7v0.7h-0.7zM490.9 78.6h0.7v0.7h-0.7zM435.5 109.9h0.7v0.7h-0.7zM424.7 146.0h0.7v0.7h-0.7zM517.8 56.6h0.7v0.7h-0.7zM456.7 130.8h0.7v0.7h-0.7zM447.8 149.3h0.7v0.7h-0.7zM461.1 71.8h0.7v0.7h-0.7zM467.7 119.9h0.7v0.7h-0.7zM444.8 121.3h0.7v0.7h-0.7zM494.0 106.6h0.7v0.7h-0.7zM461.8 140.6h0.7v0.7h-0.7zM482.6 107.0h0.7v0.7h-0.7zM513.6 71.2h0.7v0.7h-0.7zM493.6 70.2h0.7v0.7h-0.7zM473.7 77.5h0.7v0.7h-0.7zM454.2 133.2h0.7v0.7h-0.7zM494.4 135.0h0.7v0.7h-0.7zM430.5 103.8h0.7v0.7h-0.7zM428.8 113.2h0.7v0.7h-0.7zM461.0 56.8h0.7v0.7h-0.7zM472.4 127.1h0.7v0.7h-0.7zM469.6 143.5h0.7v0.7h-0.7z" fill="#000" fill-opacity="0.55"/>
<path d="M426.9 116.8h0.6v0.6h-0.6zM461.8 116.9h0.6v0.6h-0.6zM455.0 115.8h0.6v0.6h-0.6zM495.1 117.0h0.6v0.6h-0.6zM415.1 118.0h0.6v0.6h-0.6zM467.0 115.8h0.6v0.6h-0.6zM494.3 116.8h0.6v0.6h-0.6zM441.4 117.4h0.6v0.6h-0.6zM411.8 116.0h0.6v0.6h-0.6zM465.0 118.2h0.6v0.6h-0.6zM436.3 116.3h0.6v0.6h-0.6zM497.5 116.4h0.6v0.6h-0.6zM426.0 116.7h0.6v0.6h-0.6zM483.2 117.4h0.6v0.6h-0.6zM498.7 116.8h0.6v0.6h-0.6zM452.4 116.3h0.6v0.6h-0.6zM447.3 117.4h0.6v0.6h-0.6zM411.7 119.8h0.6v0.6h-0.6zM461.0 116.9h0.6v0.6h-0.6zM423.0 113.2h0.6v0.6h-0.6zM457.3 116.7h0.6v0.6h-0.6zM433.6 116.4h0.6v0.6h-0.6zM505.2 117.5h0.6v0.6h-0.6zM439.9 117.6h0.6v0.6h-0.6zM453.9 117.0h0.6v0.6h-0.6zM516.9 116.8h0.6v0.6h-0.6zM491.2 116.6h0.6v0.6h-0.6zM435.0 115.8h0.6v0.6h-0.6zM467.9 116.8h0.6v0.6h-0.6zM509.9 118.0h0.6v0.6h-0.6zM447.2 114.9h0.6v0.6h-0.6zM474.4 119.6h0.6v0.6h-0.6zM411.5 115.3h0.6v0.6h-0.6zM413.5 117.7h0.6v0.6h-0.6zM444.9 115.9h0.6v0.6h-0.6zM472.2 114.4h0.6v0.6h-0.6zM504.8 115.5h0.6v0.6h-0.6zM500.0 117.0h0.6v0.6h-0.6zM449.1 116.9h0.6v0.6h-0.6zM445.4 115.9h0.6v0.6h-0.6zM427.3 116.0h0.6v0.6h-0.6zM429.5 116.5h0.6v0.6h-0.6zM430.7 115.7h0.6v0.6h-0.6zM456.4 116.9h0.6v0.6h-0.6zM516.6 115.7h0.6v0.6h-0.6zM429.6 114.5h0.6v0.6h-0.6zM449.3 118.4h0.6v0.6h-0.6zM447.1 117.5h0.6v0.6h-0.6zM437.4 117.5h0.6v0.6h-0.6zM436.0 116.8h0.6v0.6h-0.6zM450.4 118.4h0.6v0.6h-0.6zM436.7 115.8h0.6v0.6h-0.6zM446.9 118.3h0.6v0.6h-0.6zM446.7 119.0h0.6v0.6h-0.6zM491.5 116.3h0.6v0.6h-0.6zM409.3 114.1h0.6v0.6h-0.6zM442.6 116.3h0.6v0.6h-0.6zM504.3 117.0h0.6v0.6h-0.6zM442.9 116.9h0.6v0.6h-0.6zM413.2 115.3h0.6v0.6h-0.6zM450.5 116.7h0.6v0.6h-0.6zM423.7 117.0h0.6v0.6h-0.6zM472.7 117.7h0.6v0.6h-0.6zM453.8 116.9h0.6v0.6h-0.6zM467.0 117.9h0.6v0.6h-0.6zM435.8 118.1h0.6v0.6h-0.6zM487.0 116.4h0.6v0.6h-0.6zM429.7 116.1h0.6v0.6h-0.6zM438.0 116.4h0.6v0.6h-0.6zM449.7 115.5h0.6v0.6h-0.6zM502.5 116.8h0.6v0.6h-0.6zM445.1 117.7h0.6v0.6h-0.6zM430.9 117.0h0.6v0.6h-0.6zM476.6 116.8h0.6v0.6h-0.6zM469.5 117.9h0.6v0.6h-0.6zM439.9 113.7h0.6v0.6h-0.6zM481.0 117.4h0.6v0.6h-0.6zM483.1 116.3h0.6v0.6h-0.6zM480.6 119.0h0.6v0.6h-0.6zM433.0 116.0h0.6v0.6h-0.6zM476.8 117.8h0.6v0.6h-0.6zM450.3 117.4h0.6v0.6h-0.6zM413.7 115.9h0.6v0.6h-0.6zM461.9 117.4h0.6v0.6h-0.6zM437.9 117.4h0.6v0.6h-0.6zM459.5 117.7h0.6v0.6h-0.6zM425.5 116.2h0.6v0.6h-0.6zM417.4 115.9h0.6v0.6h-0.6zM444.8 116.1h0.6v0.6h-0.6zM471.3 117.0h0.6v0.6h-0.6zM484.4 114.9h0.6v0.6h-0.6zM409.6 116.1h0.6v0.6h-0.6zM450.2 116.4h0.6v0.6h-0.6zM451.7 117.0h0.6v0.6h-0.6zM413.1 115.1h0.6v0.6h-0.6zM458.8 116.7h0.6v0.6h-0.6zM443.0 116.7h0.6v0.6h-0.6zM445.3 117.0h0.6v0.6h-0.6zM505.4 115.8h0.6v0.6h-0.6zM480.7 116.3h0.6v0.6h-0.6zM427.6 115.1h0.6v0.6h-0.6zM512.3 117.0h0.6v0.6h-0.6zM447.1 114.2h0.6v0.6h-0.6zM492.1 115.4h0.6v0.6h-0.6zM476.2 115.8h0.6v0.6h-0.6zM452.9 115.9h0.6v0.6h-0.6zM437.5 117.9h0.6v0.6h-0.6zM449.2 114.5h0.6v0.6h-0.6zM507.3 117.3h0.6v0.6h-0.6zM463.0 116.9h0.6v0.6h-0.6zM441.1 114.6h0.6v0.6h-0.6zM423.6 119.2h0.6v0.6h-0.6zM428.3 116.9h0.6v0.6h-0.6zM432.9 118.5h0.6v0.6h-0.6zM407.2 115.5h0.6v0.6h-0.6zM433.5 116.4h0.6v0.6h-0.6zM461.5 115.8h0.6v0.6h-0.6zM475.9 115.5h0.6v0.6h-0.6zM468.9 118.2h0.6v0.6h-0.6zM443.9 113.9h0.6v0.6h-0.6zM445.3 117.5h0.6v0.6h-0.6zM486.0 116.0h0.6v0.6h-0.6zM483.7 115.5h0.6v0.6h-0.6zM497.9 113.8h0.6v0.6h-0.6zM424.7 115.7h0.6v0.6h-0.6zM469.2 115.7h0.6v0.6h-0.6zM447.8 116.3h0.6v0.6h-0.6zM465.9 118.6h0.6v0.6h-0.6zM433.2 116.7h0.6v0.6h-0.6zM426.7 117.8h0.6v0.6h-0.6zM463.7 117.0h0.6v0.6h-0.6zM414.7 117.0h0.6v0.6h-0.6zM418.4 116.5h0.6v0.6h-0.6zM456.9 116.1h0.6v0.6h-0.6zM492.2 116.0h0.6v0.6h-0.6zM502.6 116.8h0.6v0.6h-0.6zM503.0 117.6h0.6v0.6h-0.6zM463.0 117.0h0.6v0.6h-0.6zM494.9 115.2h0.6v0.6h-0.6zM434.9 117.9h0.6v0.6h-0.6zM486.0 116.2h0.6v0.6h-0.6zM490.8 117.7h0.6v0.6h-0.6zM500.0 117.4h0.6v0.6h-0.6zM453.4 115.3h0.6v0.6h-0.6zM485.0 115.1h0.6v0.6h-0.6zM495.4 115.1h0.6v0.6h-0.6zM420.9 115.4h0.6v0.6h-0.6zM432.6 117.9h0.6v0.6h-0.6zM427.4 118.3h0.6v0.6h-0.6zM510.8 116.8h0.6v0.6h-0.6zM514.0 117.9h0.6v0.6h-0.6zM453.3 118.1h0.6v0.6h-0.6zM476.7 114.5h0.6v0.6h-0.6zM516.1 118.4h0.6v0.6h-0.6zM412.5 116.6h0.6v0.6h-0.6zM411.8 116.1h0.6v0.6h-0.6zM438.6 116.3h0.6v0.6h-0.6zM420.3 112.9h0.6v0.6h-0.6zM443.5 118.2h0.6v0.6h-0.6zM460.3 116.9h0.6v0.6h-0.6z" fill="#000" fill-opacity="0.15"/>
<line x1="414.60" y1="95.30" x2="424.70" y2="83.90" stroke="#111" stroke-width="1.0" stroke-linecap="round" stroke-opacity="1"/>
<line x1="405.30" y1="120.60" x2="408.80" y2="123.80" stroke="#111" stroke-width="1.0" stroke-linecap="round" stroke-opacity="1"/>
<line x1="409.30" y1="131.30" x2="414.10" y2="127.30" stroke="#111" stroke-width="1.0" stroke-linecap="round" stroke-opacity="1"/>
<line x1="443.10" y1="68.70" x2="446.60" y2="65.20" stroke="#111" stroke-width="1.0" stroke-linecap="round" stroke-opacity="1"/>
<line x1="434.60" y1="78.50" x2="436.40" y2="76.40" stroke="#111" stroke-width="1.0" stroke-linecap="round" stroke-opacity="1"/>
<line x1="454.50" y1="55.90" x2="458.50" y2="56.40" stroke="#111" stroke-width="1.0" stroke-linecap="round" stroke-opacity="1"/>
<line x1="462.50" y1="71.90" x2="466.50" y2="75.30" stroke="#111" stroke-width="1.0" stroke-linecap="round" stroke-opacity="1"/>
<line x1="474.50" y1="98.00" x2="482.50" y2="105.20" stroke="#111" stroke-width="1.0" stroke-linecap="round" stroke-opacity="1"/>
<line x1="458.50" y1="119.00" x2="462.50" y2="116.30" stroke="#111" stroke-width="1.0" stroke-linecap="round" stroke-opacity="1"/>
<line x1="470.50" y1="111.80" x2="473.70" y2="114.50" stroke="#111" stroke-width="1.0" stroke-linecap="round" stroke-opacity="1"/>
<line x1="485.20" y1="135.00" x2="490.50" y2="141.10" stroke="#111" stroke-width="1.0" stroke-linecap="round" stroke-opacity="1"/>
<line x1="493.20" y1="149.90" x2="496.60" y2="153.10" stroke="#111" stroke-width="1.0" stroke-linecap="round" stroke-opacity="1"/>
<line x1="467.90" y1="147.80" x2="471.00" y2="145.60" stroke="#111" stroke-width="1.0" stroke-linecap="round" stroke-opacity="1"/>
<line x1="497.10" y1="54.00" x2="499.30" y2="55.40" stroke="#111" stroke-width="1.0" stroke-linecap="round" stroke-opacity="1"/>
<line x1="499.80" y1="58.60" x2="505.10" y2="63.90" stroke="#111" stroke-width="1.0" stroke-linecap="round" stroke-opacity="1"/>
<line x1="507.80" y1="106.50" x2="510.50" y2="108.60" stroke="#111" stroke-width="1.0" stroke-linecap="round" stroke-opacity="1"/>
<line x1="514.40" y1="111.80" x2="518.40" y2="108.40" stroke="#111" stroke-width="1.0" stroke-linecap="round" stroke-opacity="1"/>
<line x1="483.80" y1="69.80" x2="486.00" y2="68.20" stroke="#111" stroke-width="1.0" stroke-linecap="round" stroke-opacity="1"/>
<line x1="455.90" y1="141.90" x2="458.50" y2="143.00" stroke="#111" stroke-width="1.0" stroke-linecap="round" stroke-opacity="1"/>
<line x1="511.80" y1="126.50" x2="513.10" y2="127.80" stroke="#111" stroke-width="1.0" stroke-linecap="round" stroke-opacity="1"/>
<line x1="512.30" y1="143.00" x2="513.70" y2="144.30" stroke="#111" stroke-width="1.0" stroke-linecap="round" stroke-opacity="1"/>
<line x1="403.90" y1="149.20" x2="405.00" y2="148.40" stroke="#111" stroke-width="1.0" stroke-linecap="round" stroke-opacity="1"/>
<line x1="451.90" y1="125.20" x2="452.60" y2="124.60" stroke="#111" stroke-width="1.0" stroke-linecap="round" stroke-opacity="1"/>
<line x1="442.50" y1="132.40" x2="443.40" y2="131.60" stroke="#111" stroke-width="1.0" stroke-linecap="round" stroke-opacity="1"/>
<line x1="446.00" y1="115.80" x2="446.80" y2="115.20" stroke="#111" stroke-width="1.0" stroke-linecap="round" stroke-opacity="1"/>
<rect x="399.40" y="49.50" width="124.20" height="111.50" fill="none" stroke="#555" stroke-width="0.6" />
<text x="404.00" y="167.70" font-size="5.2" text-anchor="middle" fill="#333">0</text>
<text x="439.30" y="167.70" font-size="5.2" text-anchor="middle" fill="#333">5000</text>
<text x="472.50" y="167.70" font-size="5.2" text-anchor="middle" fill="#333">10000</text>
<text x="505.70" y="167.70" font-size="5.2" text-anchor="middle" fill="#333">15000</text>
<text x="394.50" y="157.00" font-size="5.2" text-anchor="middle" fill="#333" transform="rotate(-90 394.50 157.00)">0</text>
<text x="394.50" y="120.80" font-size="5.2" text-anchor="middle" fill="#333" transform="rotate(-90 394.50 120.80)">5000</text>
<text x="394.50" y="84.60" font-size="5.2" text-anchor="middle" fill="#333" transform="rotate(-90 394.50 84.60)">10000</text>
<text x="394.50" y="58.20" font-size="5.2" text-anchor="middle" fill="#333" transform="rotate(-90 394.50 58.20)">15000</text>
<path d="M404.0 161.0v2.2M436.8 161.0v2.2M470.0 161.0v2.2M503.2 161.0v2.2M399.4 157.0h-2.2M399.4 122.2h-2.2M399.4 87.2h-2.2M399.4 52.2h-2.2" stroke="#555" stroke-width="0.5" fill="none"/>
<text x="457.30" y="177.20" font-size="5.8" text-anchor="middle" fill="#444">Esc04</text>
<text x="385.90" y="97.00" font-size="5.8" text-anchor="middle" fill="#444" transform="rotate(-90 385.90 97.00)">Dpe04</text>
<rect x="387.45" y="43.45" width="142.00" height="126.80" fill="none" stroke="#961208" stroke-width="2.9" />
<path d="M612.6 120.3h0.6v0.6h-0.6zM634.4 68.1h0.6v0.6h-0.6zM559.7 91.7h0.6v0.6h-0.6zM589.7 135.8h0.6v0.6h-0.6zM637.2 114.6h0.6v0.6h-0.6zM622.1 120.7h0.6v0.6h-0.6zM575.0 98.3h0.6v0.6h-0.6zM577.0 145.5h0.6v0.6h-0.6zM565.2 136.6h0.6v0.6h-0.6zM567.0 123.3h0.6v0.6h-0.6zM596.9 94.7h0.6v0.6h-0.6zM654.4 55.6h0.6v0.6h-0.6zM565.4 146.4h0.6v0.6h-0.6zM616.5 62.9h0.6v0.6h-0.6zM670.9 149.6h0.6v0.6h-0.6zM571.3 96.6h0.6v0.6h-0.6zM573.9 85.4h0.6v0.6h-0.6zM629.3 70.3h0.6v0.6h-0.6zM637.9 58.9h0.6v0.6h-0.6zM578.0 136.3h0.6v0.6h-0.6zM604.1 96.1h0.6v0.6h-0.6zM626.4 102.0h0.6v0.6h-0.6zM602.3 56.8h0.6v0.6h-0.6zM641.2 151.7h0.6v0.6h-0.6zM669.7 120.9h0.6v0.6h-0.6zM599.1 90.5h0.6v0.6h-0.6zM637.1 122.0h0.6v0.6h-0.6zM571.5 77.5h0.6v0.6h-0.6zM599.9 105.5h0.6v0.6h-0.6zM650.8 104.4h0.6v0.6h-0.6zM561.7 137.0h0.6v0.6h-0.6zM607.5 106.3h0.6v0.6h-0.6zM583.8 97.0h0.6v0.6h-0.6zM602.7 131.9h0.6v0.6h-0.6zM570.2 109.4h0.6v0.6h-0.6zM578.8 124.2h0.6v0.6h-0.6zM562.7 81.7h0.6v0.6h-0.6zM597.7 118.2h0.6v0.6h-0.6zM564.4 100.2h0.6v0.6h-0.6zM582.3 82.3h0.6v0.6h-0.6zM612.7 150.8h0.6v0.6h-0.6zM613.3 150.5h0.6v0.6h-0.6zM577.6 147.3h0.6v0.6h-0.6zM600.0 72.9h0.6v0.6h-0.6zM643.8 146.1h0.6v0.6h-0.6zM559.3 80.9h0.6v0.6h-0.6zM646.3 88.3h0.6v0.6h-0.6zM586.0 54.6h0.6v0.6h-0.6zM563.1 116.4h0.6v0.6h-0.6zM670.6 154.8h0.6v0.6h-0.6zM615.9 56.1h0.6v0.6h-0.6zM595.2 133.5h0.6v0.6h-0.6zM653.3 118.5h0.6v0.6h-0.6zM584.6 107.1h0.6v0.6h-0.6zM612.9 117.2h0.6v0.6h-0.6zM588.4 149.6h0.6v0.6h-0.6zM660.4 70.1h0.6v0.6h-0.6zM591.7 142.2h0.6v0.6h-0.6zM590.2 149.3h0.6v0.6h-0.6zM617.2 124.2h0.6v0.6h-0.6zM638.8 75.4h0.6v0.6h-0.6zM591.0 79.5h0.6v0.6h-0.6zM636.3 124.0h0.6v0.6h-0.6zM573.5 143.5h0.6v0.6h-0.6zM606.4 78.1h0.6v0.6h-0.6zM608.1 152.9h0.6v0.6h-0.6zM622.3 117.0h0.6v0.6h-0.6zM663.3 151.1h0.6v0.6h-0.6zM645.1 96.0h0.6v0.6h-0.6zM625.5 145.0h0.6v0.6h-0.6zM648.4 112.5h0.6v0.6h-0.6zM598.1 91.0h0.6v0.6h-0.6zM642.3 110.8h0.6v0.6h-0.6zM560.4 125.6h0.6v0.6h-0.6zM661.4 134.5h0.6v0.6h-0.6zM660.7 145.9h0.6v0.6h-0.6zM619.4 133.6h0.6v0.6h-0.6zM601.7 63.7h0.6v0.6h-0.6zM598.7 85.3h0.6v0.6h-0.6zM664.9 123.5h0.6v0.6h-0.6zM620.2 116.7h0.6v0.6h-0.6zM572.7 107.8h0.6v0.6h-0.6zM638.3 93.6h0.6v0.6h-0.6zM586.5 94.9h0.6v0.6h-0.6zM595.4 123.1h0.6v0.6h-0.6zM574.7 62.9h0.6v0.6h-0.6zM594.1 124.2h0.6v0.6h-0.6zM645.0 120.5h0.6v0.6h-0.6zM665.0 90.7h0.6v0.6h-0.6zM561.9 103.1h0.6v0.6h-0.6zM609.0 71.9h0.6v0.6h-0.6zM634.5 88.3h0.6v0.6h-0.6zM585.6 86.9h0.6v0.6h-0.6zM666.0 54.5h0.6v0.6h-0.6zM599.5 82.0h0.6v0.6h-0.6zM581.4 97.5h0.6v0.6h-0.6zM583.6 146.8h0.6v0.6h-0.6zM615.6 124.4h0.6v0.6h-0.6zM577.0 100.8h0.6v0.6h-0.6zM627.6 139.1h0.6v0.6h-0.6zM587.0 100.3h0.6v0.6h-0.6zM655.9 137.9h0.6v0.6h-0.6zM584.4 108.2h0.6v0.6h-0.6zM645.2 93.7h0.6v0.6h-0.6zM635.2 120.9h0.6v0.6h-0.6zM669.3 109.8h0.6v0.6h-0.6zM636.0 89.2h0.6v0.6h-0.6zM641.9 86.3h0.6v0.6h-0.6zM615.4 90.3h0.6v0.6h-0.6zM593.5 67.5h0.6v0.6h-0.6zM584.2 108.8h0.6v0.6h-0.6zM587.2 58.4h0.6v0.6h-0.6zM650.0 82.6h0.6v0.6h-0.6zM665.1 114.4h0.6v0.6h-0.6zM602.8 142.1h0.6v0.6h-0.6zM660.7 86.2h0.6v0.6h-0.6zM572.8 118.6h0.6v0.6h-0.6zM654.5 115.3h0.6v0.6h-0.6zM647.8 95.5h0.6v0.6h-0.6zM628.9 80.4h0.6v0.6h-0.6zM604.8 92.2h0.6v0.6h-0.6zM602.3 94.2h0.6v0.6h-0.6zM650.4 70.9h0.6v0.6h-0.6zM581.9 79.5h0.6v0.6h-0.6zM669.1 106.7h0.6v0.6h-0.6zM564.5 138.3h0.6v0.6h-0.6zM658.0 136.9h0.6v0.6h-0.6zM599.4 128.1h0.6v0.6h-0.6zM593.3 67.6h0.6v0.6h-0.6zM657.1 138.1h0.6v0.6h-0.6zM582.6 142.8h0.6v0.6h-0.6zM561.3 84.9h0.6v0.6h-0.6zM560.0 71.0h0.6v0.6h-0.6zM577.1 126.2h0.6v0.6h-0.6zM592.3 73.0h0.6v0.6h-0.6zM579.5 85.3h0.6v0.6h-0.6zM656.7 115.2h0.6v0.6h-0.6zM570.2 123.1h0.6v0.6h-0.6zM619.6 99.1h0.6v0.6h-0.6zM618.6 119.7h0.6v0.6h-0.6zM649.7 104.9h0.6v0.6h-0.6zM630.9 101.0h0.6v0.6h-0.6zM630.7 93.1h0.6v0.6h-0.6zM605.8 106.0h0.6v0.6h-0.6zM639.9 81.9h0.6v0.6h-0.6zM663.8 103.5h0.6v0.6h-0.6zM655.9 123.6h0.6v0.6h-0.6zM667.4 122.8h0.6v0.6h-0.6zM607.1 94.8h0.6v0.6h-0.6zM627.7 130.1h0.6v0.6h-0.6zM654.1 66.8h0.6v0.6h-0.6zM565.6 64.7h0.6v0.6h-0.6zM568.1 59.4h0.6v0.6h-0.6zM559.5 79.0h0.6v0.6h-0.6zM571.4 123.1h0.6v0.6h-0.6zM628.6 151.5h0.6v0.6h-0.6zM667.9 129.3h0.6v0.6h-0.6zM666.7 56.5h0.6v0.6h-0.6zM584.5 147.5h0.6v0.6h-0.6zM612.7 74.6h0.6v0.6h-0.6zM644.7 96.6h0.6v0.6h-0.6zM620.4 85.7h0.6v0.6h-0.6zM586.0 62.5h0.6v0.6h-0.6zM627.6 150.2h0.6v0.6h-0.6zM670.9 131.2h0.6v0.6h-0.6zM664.8 90.4h0.6v0.6h-0.6zM592.5 147.3h0.6v0.6h-0.6zM626.9 121.5h0.6v0.6h-0.6zM559.9 76.9h0.6v0.6h-0.6zM613.4 127.8h0.6v0.6h-0.6zM652.6 130.4h0.6v0.6h-0.6zM597.2 92.4h0.6v0.6h-0.6zM656.7 153.9h0.6v0.6h-0.6zM613.7 73.4h0.6v0.6h-0.6zM629.6 108.0h0.6v0.6h-0.6zM599.7 77.1h0.6v0.6h-0.6zM602.4 115.7h0.6v0.6h-0.6zM572.9 108.5h0.6v0.6h-0.6zM667.0 129.2h0.6v0.6h-0.6zM587.2 96.1h0.6v0.6h-0.6zM570.2 128.4h0.6v0.6h-0.6zM630.5 71.2h0.6v0.6h-0.6zM620.9 114.1h0.6v0.6h-0.6zM624.2 92.0h0.6v0.6h-0.6zM593.8 89.6h0.6v0.6h-0.6zM672.1 87.2h0.6v0.6h-0.6zM615.7 100.3h0.6v0.6h-0.6zM578.2 94.2h0.6v0.6h-0.6zM581.8 86.4h0.6v0.6h-0.6zM600.3 89.1h0.6v0.6h-0.6zM665.3 83.8h0.6v0.6h-0.6zM596.4 120.3h0.6v0.6h-0.6zM603.7 105.9h0.6v0.6h-0.6zM632.3 61.2h0.6v0.6h-0.6zM635.0 63.9h0.6v0.6h-0.6zM587.0 135.7h0.6v0.6h-0.6zM671.2 121.9h0.6v0.6h-0.6zM578.0 98.1h0.6v0.6h-0.6zM590.7 138.9h0.6v0.6h-0.6zM585.1 73.6h0.6v0.6h-0.6zM631.2 118.2h0.6v0.6h-0.6zM625.7 102.2h0.6v0.6h-0.6zM667.7 100.1h0.6v0.6h-0.6zM665.2 93.4h0.6v0.6h-0.6zM611.5 90.1h0.6v0.6h-0.6zM640.0 129.8h0.6v0.6h-0.6zM585.7 107.0h0.6v0.6h-0.6zM641.2 104.5h0.6v0.6h-0.6zM633.9 116.1h0.6v0.6h-0.6zM639.9 89.7h0.6v0.6h-0.6zM593.4 56.2h0.6v0.6h-0.6zM659.9 133.7h0.6v0.6h-0.6zM603.0 151.7h0.6v0.6h-0.6zM661.3 69.0h0.6v0.6h-0.6zM653.8 96.3h0.6v0.6h-0.6zM594.3 80.0h0.6v0.6h-0.6zM605.6 58.9h0.6v0.6h-0.6zM564.2 65.5h0.6v0.6h-0.6zM593.5 69.8h0.6v0.6h-0.6zM572.4 138.0h0.6v0.6h-0.6zM601.7 103.4h0.6v0.6h-0.6zM627.0 148.2h0.6v0.6h-0.6zM575.1 76.8h0.6v0.6h-0.6zM656.5 145.8h0.6v0.6h-0.6zM664.6 107.2h0.6v0.6h-0.6zM600.3 72.8h0.6v0.6h-0.6zM662.2 131.2h0.6v0.6h-0.6zM621.3 133.9h0.6v0.6h-0.6zM588.2 107.8h0.6v0.6h-0.6zM661.8 64.7h0.6v0.6h-0.6zM628.8 72.5h0.6v0.6h-0.6zM653.9 138.7h0.6v0.6h-0.6zM631.9 97.9h0.6v0.6h-0.6zM560.9 103.7h0.6v0.6h-0.6zM599.4 94.2h0.6v0.6h-0.6zM567.3 146.9h0.6v0.6h-0.6zM618.0 110.6h0.6v0.6h-0.6zM654.4 144.5h0.6v0.6h-0.6zM621.1 108.8h0.6v0.6h-0.6zM655.0 91.4h0.6v0.6h-0.6zM661.1 56.2h0.6v0.6h-0.6zM649.2 107.2h0.6v0.6h-0.6zM629.4 154.0h0.6v0.6h-0.6zM583.5 95.0h0.6v0.6h-0.6zM649.6 129.3h0.6v0.6h-0.6zM618.2 132.4h0.6v0.6h-0.6zM635.6 141.7h0.6v0.6h-0.6zM632.6 90.5h0.6v0.6h-0.6zM591.2 62.0h0.6v0.6h-0.6zM572.5 58.0h0.6v0.6h-0.6zM669.6 68.0h0.6v0.6h-0.6zM627.2 67.3h0.6v0.6h-0.6zM668.5 107.7h0.6v0.6h-0.6zM578.7 137.4h0.6v0.6h-0.6zM656.5 152.8h0.6v0.6h-0.6zM583.9 94.5h0.6v0.6h-0.6zM633.8 82.3h0.6v0.6h-0.6zM623.3 124.7h0.6v0.6h-0.6zM644.1 137.2h0.6v0.6h-0.6zM644.0 82.6h0.6v0.6h-0.6zM644.6 97.6h0.6v0.6h-0.6zM577.8 55.8h0.6v0.6h-0.6zM629.4 90.0h0.6v0.6h-0.6zM569.2 103.3h0.6v0.6h-0.6zM605.8 86.6h0.6v0.6h-0.6zM623.0 108.3h0.6v0.6h-0.6zM618.8 153.7h0.6v0.6h-0.6zM661.6 84.0h0.6v0.6h-0.6zM657.8 85.6h0.6v0.6h-0.6zM665.2 59.5h0.6v0.6h-0.6zM594.7 148.1h0.6v0.6h-0.6zM633.8 125.3h0.6v0.6h-0.6zM581.8 66.0h0.6v0.6h-0.6zM667.8 60.4h0.6v0.6h-0.6zM578.5 97.3h0.6v0.6h-0.6zM651.8 122.5h0.6v0.6h-0.6zM672.2 132.6h0.6v0.6h-0.6zM608.3 146.0h0.6v0.6h-0.6zM594.6 58.9h0.6v0.6h-0.6zM667.8 143.0h0.6v0.6h-0.6zM633.7 102.3h0.6v0.6h-0.6zM581.7 75.9h0.6v0.6h-0.6zM566.2 63.2h0.6v0.6h-0.6zM613.1 144.5h0.6v0.6h-0.6zM664.7 105.8h0.6v0.6h-0.6zM635.2 101.1h0.6v0.6h-0.6zM646.9 125.2h0.6v0.6h-0.6zM670.7 139.4h0.6v0.6h-0.6zM635.7 113.5h0.6v0.6h-0.6zM577.7 101.5h0.6v0.6h-0.6zM609.5 69.3h0.6v0.6h-0.6zM581.5 95.4h0.6v0.6h-0.6zM578.5 116.9h0.6v0.6h-0.6zM595.9 153.8h0.6v0.6h-0.6zM636.4 106.0h0.6v0.6h-0.6zM607.9 93.4h0.6v0.6h-0.6zM581.3 151.2h0.6v0.6h-0.6zM662.6 119.6h0.6v0.6h-0.6zM632.5 68.3h0.6v0.6h-0.6zM620.2 70.6h0.6v0.6h-0.6z" fill="#000" fill-opacity="0.22"/>
<path d="M595.4 113.1h0.7v0.7h-0.7zM577.8 77.3h0.7v0.7h-0.7zM641.6 102.8h0.7v0.7h-0.7zM659.8 69.8h0.7v0.7h-0.7zM568.5 148.7h0.7v0.7h-0.7zM627.8 123.9h0.7v0.7h-0.7zM621.8 68.7h0.7v0.7h-0.7zM669.8 103.8h0.7v0.7h-0.7zM662.0 68.5h0.7v0.7h-0.7zM589.8 109.3h0.7v0.7h-0.7zM586.6 140.7h0.7v0.7h-0.7zM588.1 61.7h0.7v0.7h-0.7zM577.0 81.2h0.7v0.7h-0.7zM666.4 142.6h0.7v0.7h-0.7zM634.7 96.9h0.7v0.7h-0.7zM563.2 137.9h0.7v0.7h-0.7zM572.8 73.9h0.7v0.7h-0.7zM608.0 141.0h0.7v0.7h-0.7zM579.3 60.0h0.7v0.7h-0.7zM661.8 54.5h0.7v0.7h-0.7zM642.1 67.9h0.7v0.7h-0.7zM592.5 74.7h0.7v0.7h-0.7zM608.4 147.0h0.7v0.7h-0.7zM654.1 107.9h0.7v0.7h-0.7zM568.4 71.4h0.7v0.7h-0.7zM592.1 134.1h0.7v0.7h-0.7zM662.8 56.2h0.7v0.7h-0.7zM596.5 150.9h0.7v0.7h-0.7zM575.6 61.7h0.7v0.7h-0.7zM588.7 143.7h0.7v0.7h-0.7zM588.4 126.7h0.7v0.7h-0.7zM572.0 120.3h0.7v0.7h-0.7zM577.7 113.9h0.7v0.7h-0.7zM643.0 142.7h0.7v0.7h-0.7zM608.1 153.4h0.7v0.7h-0.7zM604.7 149.8h0.7v0.7h-0.7zM662.5 154.8h0.7v0.7h-0.7z" fill="#000" fill-opacity="0.55"/>
<rect x="554.80" y="50.00" width="121.90" height="109.30" fill="none" stroke="#555" stroke-width="0.6" />
<text x="558.80" y="167.60" font-size="5.2" text-anchor="middle" fill="#333">0</text>
<text x="600.40" y="167.60" font-size="5.2" text-anchor="middle" fill="#333">2000</text>
<text x="639.00" y="167.60" font-size="5.2" text-anchor="middle" fill="#333">4000</text>
<text x="671.90" y="167.60" font-size="5.2" text-anchor="middle" fill="#333">6000</text>
<text x="549.70" y="155.30" font-size="5.2" text-anchor="middle" fill="#333" transform="rotate(-90 549.70 155.30)">0</text>
<text x="549.70" y="120.30" font-size="5.2" text-anchor="middle" fill="#333" transform="rotate(-90 549.70 120.30)">5000</text>
<text x="549.70" y="84.40" font-size="5.2" text-anchor="middle" fill="#333" transform="rotate(-90 549.70 84.40)">10000</text>
<text x="549.70" y="58.20" font-size="5.2" text-anchor="middle" fill="#333" transform="rotate(-90 549.70 58.20)">15000</text>
<path d="M558.8 159.3v2.2M578.3 159.3v2.2M597.9 159.3v2.2M617.2 159.3v2.2M636.5 159.3v2.2M656.2 159.3v2.2M675.5 159.3v2.2M554.8 155.3h-2.2M554.8 121.7h-2.2M554.8 87.0h-2.2M554.8 52.5h-2.2" stroke="#555" stroke-width="0.5" fill="none"/>
<text x="610.00" y="177.20" font-size="5.8" text-anchor="middle" fill="#444">Obi15</text>
<text x="538.50" y="97.00" font-size="5.8" text-anchor="middle" fill="#444" transform="rotate(-90 538.50 97.00)">Dpe04</text>
<rect x="541.45" y="43.45" width="142.30" height="126.90" fill="none" stroke="#961208" stroke-width="2.9" />
<path d="M433.8 263.4h0.6v0.6h-0.6zM483.6 280.5h0.6v0.6h-0.6zM425.2 216.0h0.6v0.6h-0.6zM420.7 215.5h0.6v0.6h-0.6zM489.5 205.6h0.6v0.6h-0.6zM465.7 214.3h0.6v0.6h-0.6zM438.0 237.0h0.6v0.6h-0.6zM501.7 255.4h0.6v0.6h-0.6zM405.1 220.7h0.6v0.6h-0.6zM420.6 282.8h0.6v0.6h-0.6zM498.4 276.0h0.6v0.6h-0.6zM500.3 269.6h0.6v0.6h-0.6zM514.8 274.7h0.6v0.6h-0.6zM433.5 280.6h0.6v0.6h-0.6zM460.5 270.7h0.6v0.6h-0.6zM469.6 236.8h0.6v0.6h-0.6zM446.1 236.8h0.6v0.6h-0.6zM440.2 204.2h0.6v0.6h-0.6zM499.5 275.2h0.6v0.6h-0.6zM519.0 264.0h0.6v0.6h-0.6zM468.4 270.0h0.6v0.6h-0.6zM419.2 262.5h0.6v0.6h-0.6zM455.4 210.4h0.6v0.6h-0.6zM427.2 246.5h0.6v0.6h-0.6zM433.1 239.9h0.6v0.6h-0.6zM474.4 233.2h0.6v0.6h-0.6zM418.7 243.1h0.6v0.6h-0.6zM431.0 216.6h0.6v0.6h-0.6zM426.2 230.2h0.6v0.6h-0.6zM412.0 259.9h0.6v0.6h-0.6zM515.3 232.6h0.6v0.6h-0.6zM487.7 289.2h0.6v0.6h-0.6zM408.5 206.8h0.6v0.6h-0.6zM498.0 279.3h0.6v0.6h-0.6zM478.4 208.6h0.6v0.6h-0.6zM451.9 282.5h0.6v0.6h-0.6zM507.4 275.7h0.6v0.6h-0.6zM427.2 281.0h0.6v0.6h-0.6zM447.4 266.7h0.6v0.6h-0.6zM419.5 293.2h0.6v0.6h-0.6zM474.2 267.3h0.6v0.6h-0.6zM428.2 256.3h0.6v0.6h-0.6zM471.5 253.6h0.6v0.6h-0.6zM445.6 267.8h0.6v0.6h-0.6zM443.4 222.8h0.6v0.6h-0.6zM422.7 263.3h0.6v0.6h-0.6zM416.6 215.5h0.6v0.6h-0.6zM411.5 259.1h0.6v0.6h-0.6zM468.6 248.6h0.6v0.6h-0.6zM408.0 237.8h0.6v0.6h-0.6zM443.6 201.7h0.6v0.6h-0.6zM403.7 296.0h0.6v0.6h-0.6zM417.7 223.4h0.6v0.6h-0.6zM434.9 254.2h0.6v0.6h-0.6zM412.5 241.0h0.6v0.6h-0.6zM446.4 279.0h0.6v0.6h-0.6zM404.1 226.9h0.6v0.6h-0.6zM461.6 293.1h0.6v0.6h-0.6zM464.0 241.4h0.6v0.6h-0.6zM481.9 222.9h0.6v0.6h-0.6zM407.1 244.2h0.6v0.6h-0.6zM510.2 268.9h0.6v0.6h-0.6zM433.7 263.3h0.6v0.6h-0.6zM503.0 218.9h0.6v0.6h-0.6zM472.4 229.0h0.6v0.6h-0.6zM432.1 221.9h0.6v0.6h-0.6zM427.3 228.6h0.6v0.6h-0.6zM407.9 233.4h0.6v0.6h-0.6zM413.6 271.0h0.6v0.6h-0.6zM473.8 192.4h0.6v0.6h-0.6zM494.2 211.8h0.6v0.6h-0.6zM459.8 249.8h0.6v0.6h-0.6zM442.4 222.2h0.6v0.6h-0.6zM454.4 206.3h0.6v0.6h-0.6zM504.7 203.7h0.6v0.6h-0.6zM500.0 214.7h0.6v0.6h-0.6zM439.0 232.5h0.6v0.6h-0.6zM407.3 205.4h0.6v0.6h-0.6zM445.7 238.0h0.6v0.6h-0.6zM506.2 295.1h0.6v0.6h-0.6zM408.5 247.8h0.6v0.6h-0.6zM418.6 275.7h0.6v0.6h-0.6zM441.3 285.0h0.6v0.6h-0.6zM467.4 205.1h0.6v0.6h-0.6zM404.0 217.9h0.6v0.6h-0.6zM505.2 207.6h0.6v0.6h-0.6zM459.6 230.7h0.6v0.6h-0.6zM443.9 275.5h0.6v0.6h-0.6zM428.5 266.9h0.6v0.6h-0.6zM481.6 289.5h0.6v0.6h-0.6zM464.4 287.9h0.6v0.6h-0.6zM455.1 251.7h0.6v0.6h-0.6zM476.2 279.5h0.6v0.6h-0.6zM508.7 204.0h0.6v0.6h-0.6zM419.5 247.6h0.6v0.6h-0.6zM498.7 247.6h0.6v0.6h-0.6zM438.5 292.2h0.6v0.6h-0.6zM438.3 201.1h0.6v0.6h-0.6zM409.5 195.2h0.6v0.6h-0.6zM488.7 203.2h0.6v0.6h-0.6zM487.4 282.3h0.6v0.6h-0.6zM520.7 276.3h0.6v0.6h-0.6zM453.2 256.8h0.6v0.6h-0.6zM501.1 266.6h0.6v0.6h-0.6zM437.5 271.4h0.6v0.6h-0.6zM416.2 224.1h0.6v0.6h-0.6zM520.2 241.1h0.6v0.6h-0.6zM434.8 273.8h0.6v0.6h-0.6zM456.2 192.4h0.6v0.6h-0.6zM406.8 219.0h0.6v0.6h-0.6zM442.3 289.7h0.6v0.6h-0.6zM432.4 280.6h0.6v0.6h-0.6zM503.5 235.4h0.6v0.6h-0.6zM519.9 271.4h0.6v0.6h-0.6zM460.2 219.2h0.6v0.6h-0.6zM457.5 286.0h0.6v0.6h-0.6zM466.4 212.2h0.6v0.6h-0.6zM447.5 241.6h0.6v0.6h-0.6zM425.8 251.7h0.6v0.6h-0.6zM407.4 277.6h0.6v0.6h-0.6zM424.4 202.7h0.6v0.6h-0.6zM472.5 224.0h0.6v0.6h-0.6zM507.2 243.8h0.6v0.6h-0.6zM464.6 279.0h0.6v0.6h-0.6zM428.5 269.7h0.6v0.6h-0.6zM479.5 236.6h0.6v0.6h-0.6zM515.9 194.3h0.6v0.6h-0.6zM504.5 206.9h0.6v0.6h-0.6zM501.9 208.0h0.6v0.6h-0.6zM409.7 244.2h0.6v0.6h-0.6zM512.0 218.8h0.6v0.6h-0.6zM460.5 255.4h0.6v0.6h-0.6zM432.0 247.3h0.6v0.6h-0.6zM404.5 238.8h0.6v0.6h-0.6zM492.5 227.4h0.6v0.6h-0.6zM429.3 197.3h0.6v0.6h-0.6zM485.6 236.5h0.6v0.6h-0.6zM510.6 269.2h0.6v0.6h-0.6zM415.2 287.3h0.6v0.6h-0.6zM512.7 277.1h0.6v0.6h-0.6zM500.9 263.0h0.6v0.6h-0.6zM488.0 261.5h0.6v0.6h-0.6zM472.7 218.8h0.6v0.6h-0.6zM419.1 267.7h0.6v0.6h-0.6zM473.4 197.9h0.6v0.6h-0.6zM478.7 255.6h0.6v0.6h-0.6zM463.4 272.8h0.6v0.6h-0.6zM506.2 231.7h0.6v0.6h-0.6zM499.0 244.0h0.6v0.6h-0.6zM470.5 235.1h0.6v0.6h-0.6zM512.8 238.3h0.6v0.6h-0.6zM515.1 227.2h0.6v0.6h-0.6zM482.3 287.1h0.6v0.6h-0.6zM483.6 231.1h0.6v0.6h-0.6zM412.5 241.8h0.6v0.6h-0.6zM452.0 276.8h0.6v0.6h-0.6zM495.4 294.8h0.6v0.6h-0.6zM455.9 234.8h0.6v0.6h-0.6zM469.6 270.1h0.6v0.6h-0.6zM412.8 214.5h0.6v0.6h-0.6zM420.5 225.8h0.6v0.6h-0.6zM438.6 292.9h0.6v0.6h-0.6zM427.8 289.3h0.6v0.6h-0.6zM438.0 213.2h0.6v0.6h-0.6zM517.7 201.3h0.6v0.6h-0.6zM416.6 205.4h0.6v0.6h-0.6zM411.2 232.3h0.6v0.6h-0.6zM428.3 208.6h0.6v0.6h-0.6zM405.2 264.8h0.6v0.6h-0.6zM409.2 216.1h0.6v0.6h-0.6zM469.7 284.1h0.6v0.6h-0.6zM480.8 265.9h0.6v0.6h-0.6zM485.6 275.1h0.6v0.6h-0.6zM503.5 208.2h0.6v0.6h-0.6zM409.7 256.7h0.6v0.6h-0.6zM464.3 246.3h0.6v0.6h-0.6zM495.1 210.2h0.6v0.6h-0.6zM486.2 236.4h0.6v0.6h-0.6zM452.9 217.5h0.6v0.6h-0.6zM436.4 252.3h0.6v0.6h-0.6zM468.4 286.5h0.6v0.6h-0.6zM436.3 266.6h0.6v0.6h-0.6zM414.8 259.9h0.6v0.6h-0.6zM422.2 281.4h0.6v0.6h-0.6zM516.6 218.5h0.6v0.6h-0.6zM498.2 214.9h0.6v0.6h-0.6zM439.2 202.8h0.6v0.6h-0.6zM455.2 202.9h0.6v0.6h-0.6zM486.0 252.0h0.6v0.6h-0.6zM452.7 266.0h0.6v0.6h-0.6zM430.8 226.6h0.6v0.6h-0.6zM446.0 192.2h0.6v0.6h-0.6zM507.4 201.2h0.6v0.6h-0.6zM415.3 275.1h0.6v0.6h-0.6zM499.4 238.6h0.6v0.6h-0.6zM452.8 206.5h0.6v0.6h-0.6zM403.5 246.2h0.6v0.6h-0.6zM432.0 207.7h0.6v0.6h-0.6zM509.6 194.0h0.6v0.6h-0.6zM445.9 270.3h0.6v0.6h-0.6zM491.0 203.1h0.6v0.6h-0.6zM490.5 250.7h0.6v0.6h-0.6zM477.3 290.3h0.6v0.6h-0.6zM497.1 254.4h0.6v0.6h-0.6zM493.7 243.2h0.6v0.6h-0.6zM468.1 277.2h0.6v0.6h-0.6zM476.1 231.2h0.6v0.6h-0.6zM405.8 274.3h0.6v0.6h-0.6zM443.3 236.7h0.6v0.6h-0.6zM437.1 249.9h0.6v0.6h-0.6zM450.4 278.9h0.6v0.6h-0.6zM473.1 250.2h0.6v0.6h-0.6zM495.2 237.9h0.6v0.6h-0.6zM466.3 270.2h0.6v0.6h-0.6zM488.2 269.5h0.6v0.6h-0.6zM507.9 250.1h0.6v0.6h-0.6zM468.5 211.6h0.6v0.6h-0.6zM431.7 237.3h0.6v0.6h-0.6zM461.9 285.7h0.6v0.6h-0.6zM408.4 228.4h0.6v0.6h-0.6zM490.2 239.8h0.6v0.6h-0.6zM502.9 208.7h0.6v0.6h-0.6zM493.8 236.9h0.6v0.6h-0.6zM470.0 197.9h0.6v0.6h-0.6zM450.7 275.7h0.6v0.6h-0.6zM489.6 250.8h0.6v0.6h-0.6zM453.0 196.1h0.6v0.6h-0.6zM485.4 238.5h0.6v0.6h-0.6zM488.3 255.8h0.6v0.6h-0.6zM450.6 283.1h0.6v0.6h-0.6zM418.9 291.9h0.6v0.6h-0.6zM413.5 293.0h0.6v0.6h-0.6zM472.2 238.7h0.6v0.6h-0.6zM513.2 245.4h0.6v0.6h-0.6zM463.0 198.2h0.6v0.6h-0.6zM497.0 258.6h0.6v0.6h-0.6zM431.5 203.8h0.6v0.6h-0.6zM452.7 289.4h0.6v0.6h-0.6zM505.5 240.5h0.6v0.6h-0.6zM407.6 278.4h0.6v0.6h-0.6zM427.1 268.2h0.6v0.6h-0.6zM462.0 292.4h0.6v0.6h-0.6zM420.7 274.7h0.6v0.6h-0.6zM487.9 193.8h0.6v0.6h-0.6zM469.7 222.7h0.6v0.6h-0.6zM485.0 292.2h0.6v0.6h-0.6zM481.5 243.5h0.6v0.6h-0.6zM474.2 217.9h0.6v0.6h-0.6zM458.3 204.1h0.6v0.6h-0.6zM487.9 198.9h0.6v0.6h-0.6zM465.2 210.7h0.6v0.6h-0.6zM469.5 197.9h0.6v0.6h-0.6zM406.6 257.1h0.6v0.6h-0.6zM487.8 284.6h0.6v0.6h-0.6zM482.8 295.7h0.6v0.6h-0.6zM420.1 257.5h0.6v0.6h-0.6zM478.0 210.3h0.6v0.6h-0.6zM419.8 217.1h0.6v0.6h-0.6zM464.8 274.0h0.6v0.6h-0.6zM486.8 251.6h0.6v0.6h-0.6zM412.5 267.2h0.6v0.6h-0.6zM463.5 209.7h0.6v0.6h-0.6zM475.9 217.6h0.6v0.6h-0.6zM439.6 239.0h0.6v0.6h-0.6zM491.5 203.1h0.6v0.6h-0.6zM455.3 216.5h0.6v0.6h-0.6zM482.1 277.0h0.6v0.6h-0.6zM434.4 267.0h0.6v0.6h-0.6zM457.8 214.7h0.6v0.6h-0.6zM435.7 248.1h0.6v0.6h-0.6zM498.0 254.7h0.6v0.6h-0.6zM403.5 273.4h0.6v0.6h-0.6zM471.5 236.0h0.6v0.6h-0.6zM431.7 237.9h0.6v0.6h-0.6zM484.6 220.3h0.6v0.6h-0.6zM419.6 283.6h0.6v0.6h-0.6zM455.3 199.4h0.6v0.6h-0.6zM507.9 203.4h0.6v0.6h-0.6zM446.2 256.5h0.6v0.6h-0.6zM481.3 285.7h0.6v0.6h-0.6zM424.0 251.3h0.6v0.6h-0.6zM506.6 240.7h0.6v0.6h-0.6zM487.2 240.6h0.6v0.6h-0.6zM487.4 291.8h0.6v0.6h-0.6zM443.3 268.8h0.6v0.6h-0.6zM443.9 284.5h0.6v0.6h-0.6zM493.0 281.4h0.6v0.6h-0.6zM505.9 254.0h0.6v0.6h-0.6zM514.9 208.2h0.6v0.6h-0.6zM470.7 199.7h0.6v0.6h-0.6zM471.8 263.6h0.6v0.6h-0.6zM436.9 276.6h0.6v0.6h-0.6zM452.4 212.6h0.6v0.6h-0.6zM426.1 252.2h0.6v0.6h-0.6zM448.5 196.9h0.6v0.6h-0.6zM439.3 293.6h0.6v0.6h-0.6zM458.8 263.2h0.6v0.6h-0.6zM453.4 199.4h0.6v0.6h-0.6zM475.2 213.9h0.6v0.6h-0.6zM417.7 256.3h0.6v0.6h-0.6zM482.7 193.1h0.6v0.6h-0.6zM514.4 194.2h0.6v0.6h-0.6zM422.9 226.3h0.6v0.6h-0.6zM496.9 269.4h0.6v0.6h-0.6zM490.6 236.8h0.6v0.6h-0.6zM510.4 205.9h0.6v0.6h-0.6zM516.1 197.2h0.6v0.6h-0.6zM421.4 270.2h0.6v0.6h-0.6zM493.7 262.1h0.6v0.6h-0.6zM432.6 282.3h0.6v0.6h-0.6zM463.8 213.5h0.6v0.6h-0.6zM414.7 295.1h0.6v0.6h-0.6zM409.9 214.9h0.6v0.6h-0.6zM445.2 285.1h0.6v0.6h-0.6zM500.8 279.7h0.6v0.6h-0.6zM477.4 193.2h0.6v0.6h-0.6zM490.0 211.8h0.6v0.6h-0.6zM514.5 293.1h0.6v0.6h-0.6zM411.1 268.2h0.6v0.6h-0.6zM431.7 202.9h0.6v0.6h-0.6zM506.0 238.1h0.6v0.6h-0.6zM438.0 250.4h0.6v0.6h-0.6zM411.0 236.2h0.6v0.6h-0.6zM479.6 282.1h0.6v0.6h-0.6zM417.8 285.1h0.6v0.6h-0.6zM415.8 213.5h0.6v0.6h-0.6zM442.5 209.6h0.6v0.6h-0.6zM414.1 260.3h0.6v0.6h-0.6zM450.2 211.8h0.6v0.6h-0.6zM463.8 204.9h0.6v0.6h-0.6zM483.3 292.5h0.6v0.6h-0.6zM458.2 235.9h0.6v0.6h-0.6zM450.2 230.2h0.6v0.6h-0.6zM451.9 210.6h0.6v0.6h-0.6zM438.1 264.0h0.6v0.6h-0.6zM459.7 199.1h0.6v0.6h-0.6zM420.4 279.6h0.6v0.6h-0.6zM444.8 278.5h0.6v0.6h-0.6zM475.8 257.2h0.6v0.6h-0.6zM445.1 252.4h0.6v0.6h-0.6zM452.1 245.8h0.6v0.6h-0.6zM514.2 203.2h0.6v0.6h-0.6zM428.5 286.1h0.6v0.6h-0.6zM512.2 276.7h0.6v0.6h-0.6zM504.3 202.8h0.6v0.6h-0.6zM487.7 205.0h0.6v0.6h-0.6zM502.9 233.3h0.6v0.6h-0.6zM460.8 246.2h0.6v0.6h-0.6zM427.5 251.0h0.6v0.6h-0.6zM504.5 238.8h0.6v0.6h-0.6zM454.9 230.2h0.6v0.6h-0.6zM425.8 221.7h0.6v0.6h-0.6zM501.7 292.6h0.6v0.6h-0.6zM447.3 221.9h0.6v0.6h-0.6zM442.9 282.0h0.6v0.6h-0.6zM434.2 211.0h0.6v0.6h-0.6zM440.4 201.0h0.6v0.6h-0.6zM420.6 216.2h0.6v0.6h-0.6zM479.8 288.8h0.6v0.6h-0.6zM433.8 222.5h0.6v0.6h-0.6zM472.2 195.1h0.6v0.6h-0.6zM413.8 251.8h0.6v0.6h-0.6zM457.9 228.6h0.6v0.6h-0.6zM452.1 194.0h0.6v0.6h-0.6zM433.9 210.5h0.6v0.6h-0.6zM431.4 199.3h0.6v0.6h-0.6zM499.1 193.7h0.6v0.6h-0.6zM452.0 209.9h0.6v0.6h-0.6zM427.3 271.1h0.6v0.6h-0.6zM516.1 292.6h0.6v0.6h-0.6zM442.2 248.4h0.6v0.6h-0.6zM454.0 200.3h0.6v0.6h-0.6zM453.0 255.7h0.6v0.6h-0.6zM450.2 273.8h0.6v0.6h-0.6zM455.8 222.6h0.6v0.6h-0.6zM508.4 251.4h0.6v0.6h-0.6zM433.3 286.2h0.6v0.6h-0.6zM459.7 254.8h0.6v0.6h-0.6zM458.3 281.5h0.6v0.6h-0.6zM489.2 238.1h0.6v0.6h-0.6zM446.3 272.5h0.6v0.6h-0.6zM501.6 254.8h0.6v0.6h-0.6zM505.8 247.0h0.6v0.6h-0.6zM452.1 225.0h0.6v0.6h-0.6zM435.0 208.0h0.6v0.6h-0.6zM511.7 249.6h0.6v0.6h-0.6zM413.2 213.7h0.6v0.6h-0.6zM453.1 276.0h0.6v0.6h-0.6zM503.8 271.1h0.6v0.6h-0.6zM437.7 236.5h0.6v0.6h-0.6zM514.5 232.4h0.6v0.6h-0.6zM479.6 197.2h0.6v0.6h-0.6zM459.7 244.8h0.6v0.6h-0.6zM510.1 292.1h0.6v0.6h-0.6zM491.7 226.6h0.6v0.6h-0.6zM505.7 287.4h0.6v0.6h-0.6zM412.3 236.3h0.6v0.6h-0.6zM468.0 223.8h0.6v0.6h-0.6zM431.6 273.8h0.6v0.6h-0.6zM428.0 249.7h0.6v0.6h-0.6zM405.7 240.1h0.6v0.6h-0.6zM516.5 192.4h0.6v0.6h-0.6zM416.0 285.9h0.6v0.6h-0.6zM510.7 244.7h0.6v0.6h-0.6zM438.0 223.1h0.6v0.6h-0.6zM489.5 252.5h0.6v0.6h-0.6zM455.8 264.0h0.6v0.6h-0.6zM415.0 232.5h0.6v0.6h-0.6zM506.4 287.1h0.6v0.6h-0.6zM460.4 273.5h0.6v0.6h-0.6zM507.2 246.3h0.6v0.6h-0.6zM420.2 202.9h0.6v0.6h-0.6zM482.1 227.6h0.6v0.6h-0.6zM465.2 196.4h0.6v0.6h-0.6zM514.6 220.9h0.6v0.6h-0.6zM477.8 256.9h0.6v0.6h-0.6zM445.2 213.8h0.6v0.6h-0.6zM469.3 226.0h0.6v0.6h-0.6zM412.4 210.3h0.6v0.6h-0.6zM408.0 285.6h0.6v0.6h-0.6z" fill="#000" fill-opacity="0.22"/>
<path d="M427.1 287.8h0.7v0.7h-0.7zM475.9 291.6h0.7v0.7h-0.7zM458.4 218.5h0.7v0.7h-0.7zM413.2 256.7h0.7v0.7h-0.7zM484.9 262.7h0.7v0.7h-0.7zM510.1 202.2h0.7v0.7h-0.7zM479.0 265.3h0.7v0.7h-0.7zM513.8 218.1h0.7v0.7h-0.7zM512.6 194.6h0.7v0.7h-0.7zM472.4 226.1h0.7v0.7h-0.7zM464.2 210.1h0.7v0.7h-0.7zM448.5 228.3h0.7v0.7h-0.7zM457.7 234.2h0.7v0.7h-0.7zM429.0 209.5h0.7v0.7h-0.7zM458.2 295.2h0.7v0.7h-0.7zM502.9 207.6h0.7v0.7h-0.7zM477.7 207.2h0.7v0.7h-0.7zM441.5 295.7h0.7v0.7h-0.7zM443.1 202.6h0.7v0.7h-0.7zM469.2 253.1h0.7v0.7h-0.7zM463.3 290.7h0.7v0.7h-0.7zM463.5 229.9h0.7v0.7h-0.7zM427.8 252.5h0.7v0.7h-0.7zM490.6 244.4h0.7v0.7h-0.7zM449.2 218.1h0.7v0.7h-0.7zM502.5 295.3h0.7v0.7h-0.7zM472.0 266.0h0.7v0.7h-0.7zM441.4 208.4h0.7v0.7h-0.7zM410.0 256.3h0.7v0.7h-0.7zM510.9 263.9h0.7v0.7h-0.7zM482.3 281.5h0.7v0.7h-0.7zM451.7 236.6h0.7v0.7h-0.7zM433.9 278.6h0.7v0.7h-0.7zM484.3 246.5h0.7v0.7h-0.7zM494.7 287.0h0.7v0.7h-0.7zM408.7 214.8h0.7v0.7h-0.7zM458.2 266.4h0.7v0.7h-0.7zM431.7 238.1h0.7v0.7h-0.7zM481.2 222.6h0.7v0.7h-0.7zM481.9 198.2h0.7v0.7h-0.7zM451.7 258.5h0.7v0.7h-0.7zM504.6 245.2h0.7v0.7h-0.7zM481.3 261.1h0.7v0.7h-0.7zM479.3 239.0h0.7v0.7h-0.7zM440.5 205.3h0.7v0.7h-0.7zM507.4 272.7h0.7v0.7h-0.7zM479.7 270.4h0.7v0.7h-0.7zM440.2 210.4h0.7v0.7h-0.7zM465.8 240.7h0.7v0.7h-0.7zM479.4 282.9h0.7v0.7h-0.7zM449.4 230.9h0.7v0.7h-0.7zM486.0 283.9h0.7v0.7h-0.7z" fill="#000" fill-opacity="0.55"/>
<path d="M470.4 261.4h0.6v0.6h-0.6zM509.8 262.1h0.6v0.6h-0.6zM412.4 264.0h0.6v0.6h-0.6zM468.8 263.4h0.6v0.6h-0.6zM463.0 264.4h0.6v0.6h-0.6zM412.3 263.4h0.6v0.6h-0.6zM514.1 262.2h0.6v0.6h-0.6zM454.9 263.9h0.6v0.6h-0.6zM438.3 265.0h0.6v0.6h-0.6zM431.4 263.8h0.6v0.6h-0.6zM463.0 266.9h0.6v0.6h-0.6zM441.7 263.4h0.6v0.6h-0.6zM444.6 264.7h0.6v0.6h-0.6zM427.4 264.6h0.6v0.6h-0.6zM421.5 264.8h0.6v0.6h-0.6zM506.4 262.7h0.6v0.6h-0.6zM431.3 264.2h0.6v0.6h-0.6zM484.4 264.9h0.6v0.6h-0.6zM427.2 262.0h0.6v0.6h-0.6zM463.0 263.5h0.6v0.6h-0.6zM442.4 263.0h0.6v0.6h-0.6zM418.3 263.7h0.6v0.6h-0.6zM414.0 264.0h0.6v0.6h-0.6zM482.5 262.7h0.6v0.6h-0.6zM420.2 263.7h0.6v0.6h-0.6zM497.1 263.3h0.6v0.6h-0.6zM466.6 265.6h0.6v0.6h-0.6zM408.8 262.1h0.6v0.6h-0.6zM413.0 263.5h0.6v0.6h-0.6zM503.7 263.9h0.6v0.6h-0.6zM423.4 262.2h0.6v0.6h-0.6zM485.5 260.9h0.6v0.6h-0.6zM518.2 262.8h0.6v0.6h-0.6zM515.7 262.5h0.6v0.6h-0.6zM431.5 262.3h0.6v0.6h-0.6zM468.1 263.1h0.6v0.6h-0.6zM440.6 267.1h0.6v0.6h-0.6zM485.2 262.6h0.6v0.6h-0.6zM462.7 266.3h0.6v0.6h-0.6zM412.8 262.6h0.6v0.6h-0.6zM505.9 263.9h0.6v0.6h-0.6zM435.6 263.8h0.6v0.6h-0.6zM448.7 260.5h0.6v0.6h-0.6zM424.0 263.8h0.6v0.6h-0.6zM479.4 262.9h0.6v0.6h-0.6zM518.3 263.5h0.6v0.6h-0.6zM509.3 262.1h0.6v0.6h-0.6zM457.6 265.5h0.6v0.6h-0.6zM482.4 265.0h0.6v0.6h-0.6zM447.6 262.8h0.6v0.6h-0.6zM413.2 262.0h0.6v0.6h-0.6zM437.8 263.8h0.6v0.6h-0.6zM471.6 264.4h0.6v0.6h-0.6zM461.0 263.6h0.6v0.6h-0.6zM461.1 263.3h0.6v0.6h-0.6zM438.6 262.7h0.6v0.6h-0.6zM488.9 263.4h0.6v0.6h-0.6zM476.7 264.2h0.6v0.6h-0.6zM446.4 260.8h0.6v0.6h-0.6zM515.5 261.8h0.6v0.6h-0.6zM495.5 265.6h0.6v0.6h-0.6zM447.4 263.1h0.6v0.6h-0.6zM511.2 264.1h0.6v0.6h-0.6zM463.7 264.1h0.6v0.6h-0.6zM421.1 262.3h0.6v0.6h-0.6zM430.6 262.6h0.6v0.6h-0.6zM490.1 264.7h0.6v0.6h-0.6zM438.0 264.2h0.6v0.6h-0.6zM511.8 264.2h0.6v0.6h-0.6zM486.8 264.4h0.6v0.6h-0.6zM441.1 263.8h0.6v0.6h-0.6zM415.8 263.0h0.6v0.6h-0.6zM408.8 262.2h0.6v0.6h-0.6zM467.0 263.0h0.6v0.6h-0.6zM460.0 264.1h0.6v0.6h-0.6zM423.7 262.9h0.6v0.6h-0.6zM435.0 264.6h0.6v0.6h-0.6zM420.0 261.6h0.6v0.6h-0.6zM407.5 266.6h0.6v0.6h-0.6zM438.1 263.3h0.6v0.6h-0.6zM466.6 264.9h0.6v0.6h-0.6zM426.6 263.9h0.6v0.6h-0.6zM483.4 264.4h0.6v0.6h-0.6zM444.0 264.8h0.6v0.6h-0.6zM461.0 264.9h0.6v0.6h-0.6zM515.9 263.0h0.6v0.6h-0.6zM487.6 263.6h0.6v0.6h-0.6zM498.4 264.4h0.6v0.6h-0.6zM493.8 264.9h0.6v0.6h-0.6zM440.6 265.2h0.6v0.6h-0.6zM470.5 265.6h0.6v0.6h-0.6zM426.8 261.8h0.6v0.6h-0.6zM423.3 263.3h0.6v0.6h-0.6zM514.8 265.1h0.6v0.6h-0.6zM480.1 263.7h0.6v0.6h-0.6zM460.3 261.3h0.6v0.6h-0.6zM449.2 264.0h0.6v0.6h-0.6zM505.8 261.9h0.6v0.6h-0.6zM518.4 262.4h0.6v0.6h-0.6zM421.7 263.7h0.6v0.6h-0.6zM472.5 263.1h0.6v0.6h-0.6zM463.8 264.5h0.6v0.6h-0.6zM488.5 262.9h0.6v0.6h-0.6zM479.9 262.3h0.6v0.6h-0.6zM477.3 265.1h0.6v0.6h-0.6zM501.8 262.6h0.6v0.6h-0.6zM434.2 263.6h0.6v0.6h-0.6zM498.0 263.4h0.6v0.6h-0.6zM409.0 262.8h0.6v0.6h-0.6zM425.5 262.9h0.6v0.6h-0.6zM490.1 264.7h0.6v0.6h-0.6zM416.6 264.9h0.6v0.6h-0.6zM430.6 262.3h0.6v0.6h-0.6zM480.7 264.5h0.6v0.6h-0.6zM447.4 263.7h0.6v0.6h-0.6zM428.8 263.3h0.6v0.6h-0.6zM451.2 262.2h0.6v0.6h-0.6zM506.1 262.4h0.6v0.6h-0.6zM446.4 262.3h0.6v0.6h-0.6zM425.2 262.1h0.6v0.6h-0.6zM448.3 262.0h0.6v0.6h-0.6zM466.3 264.1h0.6v0.6h-0.6zM422.8 263.8h0.6v0.6h-0.6zM417.1 264.5h0.6v0.6h-0.6zM493.2 265.0h0.6v0.6h-0.6zM431.9 262.3h0.6v0.6h-0.6zM472.8 264.3h0.6v0.6h-0.6zM435.7 263.7h0.6v0.6h-0.6zM474.0 262.2h0.6v0.6h-0.6zM425.3 262.8h0.6v0.6h-0.6zM463.3 263.5h0.6v0.6h-0.6zM448.5 261.1h0.6v0.6h-0.6zM457.4 263.8h0.6v0.6h-0.6zM474.6 263.2h0.6v0.6h-0.6zM418.8 264.1h0.6v0.6h-0.6zM415.4 261.8h0.6v0.6h-0.6zM412.3 264.5h0.6v0.6h-0.6zM472.1 263.1h0.6v0.6h-0.6zM472.0 263.1h0.6v0.6h-0.6zM488.0 263.9h0.6v0.6h-0.6zM444.7 261.6h0.6v0.6h-0.6zM511.8 264.5h0.6v0.6h-0.6zM439.3 262.5h0.6v0.6h-0.6zM457.5 265.3h0.6v0.6h-0.6zM506.8 263.2h0.6v0.6h-0.6zM439.1 263.8h0.6v0.6h-0.6zM507.4 260.6h0.6v0.6h-0.6zM498.9 262.0h0.6v0.6h-0.6zM483.2 264.0h0.6v0.6h-0.6zM409.7 264.6h0.6v0.6h-0.6zM444.6 264.1h0.6v0.6h-0.6zM424.7 266.3h0.6v0.6h-0.6zM445.8 264.2h0.6v0.6h-0.6zM484.9 263.6h0.6v0.6h-0.6zM452.3 261.3h0.6v0.6h-0.6zM484.8 263.4h0.6v0.6h-0.6zM431.0 263.5h0.6v0.6h-0.6zM472.9 261.7h0.6v0.6h-0.6zM463.2 264.9h0.6v0.6h-0.6zM414.1 262.7h0.6v0.6h-0.6z" fill="#000" fill-opacity="0.15"/>
<line x1="483.90" y1="195.60" x2="492.00" y2="204.00" stroke="#111" stroke-width="1.0" stroke-linecap="round" stroke-opacity="1"/>
<line x1="492.00" y1="204.00" x2="500.30" y2="213.50" stroke="#111" stroke-width="1.0" stroke-linecap="round" stroke-opacity="1"/>
<line x1="405.70" y1="238.10" x2="418.50" y2="250.90" stroke="#111" stroke-width="1.0" stroke-linecap="round" stroke-opacity="1"/>
<line x1="418.50" y1="238.10" x2="423.90" y2="233.40" stroke="#111" stroke-width="1.0" stroke-linecap="round" stroke-opacity="1"/>
<line x1="429.10" y1="226.90" x2="433.30" y2="229.40" stroke="#111" stroke-width="1.0" stroke-linecap="round" stroke-opacity="1"/>
<line x1="458.30" y1="230.60" x2="460.60" y2="229.70" stroke="#111" stroke-width="1.0" stroke-linecap="round" stroke-opacity="1"/>
<line x1="465.30" y1="222.90" x2="466.90" y2="221.30" stroke="#111" stroke-width="1.0" stroke-linecap="round" stroke-opacity="1"/>
<line x1="476.90" y1="230.60" x2="481.60" y2="233.40" stroke="#111" stroke-width="1.0" stroke-linecap="round" stroke-opacity="1"/>
<line x1="507.30" y1="222.90" x2="511.50" y2="225.90" stroke="#111" stroke-width="1.0" stroke-linecap="round" stroke-opacity="1"/>
<line x1="512.00" y1="215.90" x2="517.80" y2="221.00" stroke="#111" stroke-width="1.0" stroke-linecap="round" stroke-opacity="1"/>
<line x1="467.60" y1="260.70" x2="473.40" y2="253.30" stroke="#111" stroke-width="1.0" stroke-linecap="round" stroke-opacity="1"/>
<line x1="472.30" y1="252.10" x2="476.90" y2="253.30" stroke="#111" stroke-width="1.0" stroke-linecap="round" stroke-opacity="1"/>
<line x1="424.40" y1="266.80" x2="429.10" y2="263.80" stroke="#111" stroke-width="1.0" stroke-linecap="round" stroke-opacity="1"/>
<line x1="434.90" y1="267.70" x2="438.00" y2="272.00" stroke="#111" stroke-width="1.0" stroke-linecap="round" stroke-opacity="1"/>
<line x1="438.00" y1="272.00" x2="442.60" y2="277.30" stroke="#111" stroke-width="1.0" stroke-linecap="round" stroke-opacity="1"/>
<line x1="443.10" y1="261.40" x2="445.90" y2="263.10" stroke="#111" stroke-width="1.0" stroke-linecap="round" stroke-opacity="1"/>
<line x1="446.60" y1="286.00" x2="453.60" y2="277.80" stroke="#111" stroke-width="1.0" stroke-linecap="round" stroke-opacity="1"/>
<line x1="480.40" y1="287.10" x2="483.90" y2="289.00" stroke="#111" stroke-width="1.0" stroke-linecap="round" stroke-opacity="0.7"/>
<line x1="501.50" y1="292.30" x2="506.10" y2="289.00" stroke="#111" stroke-width="1.0" stroke-linecap="round" stroke-opacity="1"/>
<line x1="454.70" y1="192.50" x2="458.30" y2="193.70" stroke="#111" stroke-width="1.0" stroke-linecap="round" stroke-opacity="0.45"/>
<line x1="461.80" y1="294.60" x2="465.30" y2="294.10" stroke="#111" stroke-width="1.0" stroke-linecap="round" stroke-opacity="0.4"/>
<line x1="471.10" y1="286.00" x2="474.60" y2="286.40" stroke="#111" stroke-width="1.0" stroke-linecap="round" stroke-opacity="0.45"/>
<line x1="472.00" y1="263.30" x2="473.50" y2="263.30" stroke="#111" stroke-width="1.0" stroke-linecap="round" stroke-opacity="1"/>
<rect x="399.70" y="188.30" width="125.30" height="112.20" fill="none" stroke="#555" stroke-width="0.6" />
<text x="404.50" y="307.80" font-size="4.8" text-anchor="middle" fill="#333">0</text>
<text x="443.00" y="307.80" font-size="4.8" text-anchor="middle" fill="#333">5000</text>
<text x="481.00" y="307.80" font-size="4.8" text-anchor="middle" fill="#333">10000</text>
<text x="519.70" y="307.80" font-size="4.8" text-anchor="middle" fill="#333">15000</text>
<text x="396.10" y="294.60" font-size="4.8" text-anchor="middle" fill="#333" transform="rotate(-90 396.10 294.60)">0</text>
<text x="396.10" y="280.60" font-size="4.8" text-anchor="middle" fill="#333" transform="rotate(-90 396.10 280.60)">2000</text>
<text x="396.10" y="263.80" font-size="4.8" text-anchor="middle" fill="#333" transform="rotate(-90 396.10 263.80)">4000</text>
<text x="396.10" y="248.10" font-size="4.8" text-anchor="middle" fill="#333" transform="rotate(-90 396.10 248.10)">6000</text>
<text x="396.10" y="232.20" font-size="4.8" text-anchor="middle" fill="#333" transform="rotate(-90 396.10 232.20)">8000</text>
<text x="396.10" y="213.20" font-size="4.8" text-anchor="middle" fill="#333" transform="rotate(-90 396.10 213.20)">10000</text>
<text x="396.10" y="196.80" font-size="4.8" text-anchor="middle" fill="#333" transform="rotate(-90 396.10 196.80)">12000</text>
<path d="M404.5 300.5v2.2M443.0 300.5v2.2M481.0 300.5v2.2M519.7 300.5v2.2M399.7 294.6h-2.2M399.7 280.6h-2.2M399.7 263.8h-2.2M399.7 248.1h-2.2M399.7 232.2h-2.2M399.7 216.5h-2.2M399.7 201.2h-2.2" stroke="#555" stroke-width="0.5" fill="none"/>
<text x="459.40" y="317.60" font-size="5.8" text-anchor="middle" fill="#444">Esc08</text>
<text x="384.00" y="244.00" font-size="5.8" text-anchor="middle" fill="#444" transform="rotate(-90 384.00 244.00)">Dpe07</text>
<rect x="387.65" y="183.05" width="141.80" height="126.20" fill="none" stroke="#961208" stroke-width="2.9" />
<path d="M568.3 264.2h0.6v0.6h-0.6zM631.9 288.8h0.6v0.6h-0.6zM587.5 218.2h0.6v0.6h-0.6zM641.4 259.7h0.6v0.6h-0.6zM591.2 262.3h0.6v0.6h-0.6zM602.1 272.0h0.6v0.6h-0.6zM569.7 214.8h0.6v0.6h-0.6zM660.9 228.7h0.6v0.6h-0.6zM586.2 274.7h0.6v0.6h-0.6zM629.5 207.2h0.6v0.6h-0.6zM620.1 260.3h0.6v0.6h-0.6zM575.1 259.0h0.6v0.6h-0.6zM570.2 226.6h0.6v0.6h-0.6zM565.6 212.9h0.6v0.6h-0.6zM669.8 233.4h0.6v0.6h-0.6zM671.3 237.0h0.6v0.6h-0.6zM626.7 281.8h0.6v0.6h-0.6zM635.9 203.3h0.6v0.6h-0.6zM624.5 257.1h0.6v0.6h-0.6zM577.0 201.6h0.6v0.6h-0.6zM657.8 244.8h0.6v0.6h-0.6zM578.5 238.5h0.6v0.6h-0.6zM581.3 274.1h0.6v0.6h-0.6zM614.2 202.4h0.6v0.6h-0.6zM651.2 201.0h0.6v0.6h-0.6zM588.6 194.7h0.6v0.6h-0.6zM642.1 203.5h0.6v0.6h-0.6zM617.2 201.4h0.6v0.6h-0.6zM611.9 262.5h0.6v0.6h-0.6zM618.2 238.7h0.6v0.6h-0.6zM612.4 236.9h0.6v0.6h-0.6zM625.3 201.6h0.6v0.6h-0.6zM611.2 216.2h0.6v0.6h-0.6zM656.7 288.6h0.6v0.6h-0.6zM563.6 206.6h0.6v0.6h-0.6zM637.9 250.7h0.6v0.6h-0.6zM558.1 264.5h0.6v0.6h-0.6zM665.9 235.4h0.6v0.6h-0.6zM596.4 250.5h0.6v0.6h-0.6zM665.3 219.0h0.6v0.6h-0.6zM591.1 211.3h0.6v0.6h-0.6zM629.1 240.2h0.6v0.6h-0.6zM585.7 231.8h0.6v0.6h-0.6zM560.0 224.0h0.6v0.6h-0.6zM670.4 252.2h0.6v0.6h-0.6zM588.8 288.3h0.6v0.6h-0.6zM597.6 217.7h0.6v0.6h-0.6zM560.0 206.9h0.6v0.6h-0.6zM579.1 215.5h0.6v0.6h-0.6zM657.6 219.1h0.6v0.6h-0.6zM584.9 254.1h0.6v0.6h-0.6zM662.7 221.8h0.6v0.6h-0.6zM644.6 229.8h0.6v0.6h-0.6zM621.3 253.2h0.6v0.6h-0.6zM665.7 269.9h0.6v0.6h-0.6zM615.1 278.5h0.6v0.6h-0.6zM598.6 231.4h0.6v0.6h-0.6zM667.7 248.1h0.6v0.6h-0.6zM646.0 224.2h0.6v0.6h-0.6zM662.5 255.0h0.6v0.6h-0.6zM584.7 288.1h0.6v0.6h-0.6zM610.5 226.8h0.6v0.6h-0.6zM586.5 202.4h0.6v0.6h-0.6zM579.3 263.2h0.6v0.6h-0.6zM572.3 218.5h0.6v0.6h-0.6zM608.0 248.0h0.6v0.6h-0.6zM600.2 272.7h0.6v0.6h-0.6zM585.8 229.8h0.6v0.6h-0.6zM605.4 205.1h0.6v0.6h-0.6zM581.8 206.9h0.6v0.6h-0.6zM640.4 206.9h0.6v0.6h-0.6zM633.7 214.7h0.6v0.6h-0.6zM631.3 259.5h0.6v0.6h-0.6zM597.1 288.0h0.6v0.6h-0.6zM632.4 249.3h0.6v0.6h-0.6zM561.3 233.7h0.6v0.6h-0.6zM586.9 240.2h0.6v0.6h-0.6zM664.6 280.9h0.6v0.6h-0.6zM563.1 261.9h0.6v0.6h-0.6zM664.7 247.7h0.6v0.6h-0.6zM567.2 281.2h0.6v0.6h-0.6zM605.6 292.9h0.6v0.6h-0.6zM657.8 277.3h0.6v0.6h-0.6zM664.4 198.8h0.6v0.6h-0.6zM648.4 223.3h0.6v0.6h-0.6zM571.6 230.9h0.6v0.6h-0.6zM624.5 192.3h0.6v0.6h-0.6zM608.3 272.7h0.6v0.6h-0.6zM613.6 246.3h0.6v0.6h-0.6zM590.4 292.0h0.6v0.6h-0.6zM584.8 262.0h0.6v0.6h-0.6zM631.1 191.9h0.6v0.6h-0.6zM672.0 216.1h0.6v0.6h-0.6zM671.1 287.5h0.6v0.6h-0.6zM660.9 280.0h0.6v0.6h-0.6zM602.2 237.7h0.6v0.6h-0.6zM596.2 288.3h0.6v0.6h-0.6zM559.3 205.9h0.6v0.6h-0.6zM667.3 274.9h0.6v0.6h-0.6zM638.2 291.6h0.6v0.6h-0.6zM616.9 277.9h0.6v0.6h-0.6zM607.5 284.7h0.6v0.6h-0.6zM564.0 237.0h0.6v0.6h-0.6zM623.1 273.7h0.6v0.6h-0.6zM605.1 262.0h0.6v0.6h-0.6zM668.6 235.0h0.6v0.6h-0.6zM579.1 194.9h0.6v0.6h-0.6zM656.3 240.9h0.6v0.6h-0.6zM601.1 245.4h0.6v0.6h-0.6zM569.9 214.7h0.6v0.6h-0.6zM583.4 218.1h0.6v0.6h-0.6zM656.0 217.2h0.6v0.6h-0.6zM566.4 281.2h0.6v0.6h-0.6zM620.9 194.7h0.6v0.6h-0.6zM634.6 262.6h0.6v0.6h-0.6zM631.6 271.7h0.6v0.6h-0.6zM605.3 215.0h0.6v0.6h-0.6zM642.6 256.2h0.6v0.6h-0.6zM637.9 210.7h0.6v0.6h-0.6zM599.3 263.1h0.6v0.6h-0.6zM600.7 253.9h0.6v0.6h-0.6zM611.0 269.6h0.6v0.6h-0.6zM596.5 243.1h0.6v0.6h-0.6zM652.4 223.8h0.6v0.6h-0.6zM576.4 257.4h0.6v0.6h-0.6zM571.4 280.2h0.6v0.6h-0.6zM587.9 285.0h0.6v0.6h-0.6zM618.1 207.7h0.6v0.6h-0.6zM616.6 262.2h0.6v0.6h-0.6zM612.5 257.3h0.6v0.6h-0.6zM598.9 290.7h0.6v0.6h-0.6zM576.2 274.0h0.6v0.6h-0.6zM558.7 244.1h0.6v0.6h-0.6zM563.6 205.4h0.6v0.6h-0.6zM624.5 285.0h0.6v0.6h-0.6zM591.9 233.3h0.6v0.6h-0.6zM611.4 254.2h0.6v0.6h-0.6zM596.7 228.0h0.6v0.6h-0.6zM655.3 249.1h0.6v0.6h-0.6zM597.0 276.1h0.6v0.6h-0.6zM672.3 236.4h0.6v0.6h-0.6zM557.7 223.3h0.6v0.6h-0.6zM660.5 209.5h0.6v0.6h-0.6zM579.0 273.5h0.6v0.6h-0.6zM569.2 279.4h0.6v0.6h-0.6zM582.3 231.8h0.6v0.6h-0.6zM625.1 203.4h0.6v0.6h-0.6zM646.2 237.0h0.6v0.6h-0.6zM645.6 270.6h0.6v0.6h-0.6zM564.8 276.6h0.6v0.6h-0.6zM651.5 216.7h0.6v0.6h-0.6zM624.8 213.0h0.6v0.6h-0.6zM618.6 269.3h0.6v0.6h-0.6zM599.8 246.8h0.6v0.6h-0.6zM571.2 280.8h0.6v0.6h-0.6zM628.9 277.4h0.6v0.6h-0.6zM565.3 268.6h0.6v0.6h-0.6zM566.4 249.2h0.6v0.6h-0.6zM582.8 284.7h0.6v0.6h-0.6zM568.3 240.6h0.6v0.6h-0.6zM610.8 231.6h0.6v0.6h-0.6zM563.4 260.5h0.6v0.6h-0.6zM669.1 229.0h0.6v0.6h-0.6zM660.6 226.7h0.6v0.6h-0.6zM587.7 238.7h0.6v0.6h-0.6zM669.2 272.2h0.6v0.6h-0.6zM629.6 195.9h0.6v0.6h-0.6zM608.5 193.3h0.6v0.6h-0.6zM563.1 230.6h0.6v0.6h-0.6zM584.3 202.5h0.6v0.6h-0.6zM615.5 272.5h0.6v0.6h-0.6zM663.7 286.2h0.6v0.6h-0.6zM605.5 210.2h0.6v0.6h-0.6zM668.2 235.4h0.6v0.6h-0.6zM595.9 276.8h0.6v0.6h-0.6zM620.9 290.0h0.6v0.6h-0.6zM637.6 289.3h0.6v0.6h-0.6zM573.7 289.1h0.6v0.6h-0.6zM619.0 263.6h0.6v0.6h-0.6zM591.0 217.0h0.6v0.6h-0.6zM590.5 209.3h0.6v0.6h-0.6zM667.8 204.1h0.6v0.6h-0.6zM584.2 257.1h0.6v0.6h-0.6zM579.7 213.8h0.6v0.6h-0.6zM585.4 215.9h0.6v0.6h-0.6zM557.1 268.1h0.6v0.6h-0.6zM632.7 223.8h0.6v0.6h-0.6zM660.7 249.5h0.6v0.6h-0.6zM581.5 291.3h0.6v0.6h-0.6zM582.7 275.3h0.6v0.6h-0.6zM651.0 192.1h0.6v0.6h-0.6zM654.6 235.2h0.6v0.6h-0.6zM614.4 289.3h0.6v0.6h-0.6zM608.5 216.7h0.6v0.6h-0.6zM561.7 283.1h0.6v0.6h-0.6zM608.9 265.1h0.6v0.6h-0.6zM630.6 292.8h0.6v0.6h-0.6zM665.0 288.3h0.6v0.6h-0.6zM614.7 285.7h0.6v0.6h-0.6zM591.6 204.6h0.6v0.6h-0.6zM630.4 194.7h0.6v0.6h-0.6zM669.2 225.3h0.6v0.6h-0.6zM605.3 221.8h0.6v0.6h-0.6zM593.5 247.2h0.6v0.6h-0.6zM649.2 193.3h0.6v0.6h-0.6zM595.9 217.2h0.6v0.6h-0.6zM667.6 237.1h0.6v0.6h-0.6zM607.7 288.4h0.6v0.6h-0.6zM601.0 231.4h0.6v0.6h-0.6zM602.4 216.2h0.6v0.6h-0.6zM637.9 221.4h0.6v0.6h-0.6zM615.2 250.7h0.6v0.6h-0.6zM645.2 268.1h0.6v0.6h-0.6zM612.0 289.7h0.6v0.6h-0.6zM666.1 288.5h0.6v0.6h-0.6zM639.1 238.6h0.6v0.6h-0.6zM597.8 280.5h0.6v0.6h-0.6zM611.1 268.9h0.6v0.6h-0.6zM601.1 229.5h0.6v0.6h-0.6zM558.0 267.1h0.6v0.6h-0.6zM589.7 242.7h0.6v0.6h-0.6zM640.4 277.6h0.6v0.6h-0.6zM666.0 260.2h0.6v0.6h-0.6zM583.0 287.6h0.6v0.6h-0.6zM562.2 234.3h0.6v0.6h-0.6zM663.7 279.0h0.6v0.6h-0.6zM625.2 281.3h0.6v0.6h-0.6zM576.5 195.9h0.6v0.6h-0.6zM590.5 287.7h0.6v0.6h-0.6zM560.5 225.3h0.6v0.6h-0.6zM615.1 213.0h0.6v0.6h-0.6zM657.4 202.8h0.6v0.6h-0.6zM565.9 294.6h0.6v0.6h-0.6zM557.3 214.8h0.6v0.6h-0.6zM603.5 282.6h0.6v0.6h-0.6zM595.0 250.6h0.6v0.6h-0.6zM649.6 255.5h0.6v0.6h-0.6zM652.7 193.5h0.6v0.6h-0.6zM619.0 194.0h0.6v0.6h-0.6zM655.2 194.4h0.6v0.6h-0.6zM566.9 236.0h0.6v0.6h-0.6zM628.2 193.2h0.6v0.6h-0.6zM630.4 202.4h0.6v0.6h-0.6zM593.6 196.1h0.6v0.6h-0.6zM640.6 277.5h0.6v0.6h-0.6zM645.6 225.0h0.6v0.6h-0.6zM585.0 291.0h0.6v0.6h-0.6zM651.0 291.7h0.6v0.6h-0.6zM604.2 282.5h0.6v0.6h-0.6zM634.8 272.8h0.6v0.6h-0.6zM615.6 272.6h0.6v0.6h-0.6zM614.0 219.9h0.6v0.6h-0.6zM611.5 196.0h0.6v0.6h-0.6zM634.4 226.3h0.6v0.6h-0.6zM576.9 273.5h0.6v0.6h-0.6zM617.2 224.4h0.6v0.6h-0.6zM663.4 288.5h0.6v0.6h-0.6zM605.4 248.2h0.6v0.6h-0.6zM555.9 228.6h0.6v0.6h-0.6zM671.0 244.4h0.6v0.6h-0.6zM671.7 194.8h0.6v0.6h-0.6zM557.9 198.1h0.6v0.6h-0.6zM564.7 269.6h0.6v0.6h-0.6zM671.0 270.3h0.6v0.6h-0.6zM626.4 231.1h0.6v0.6h-0.6zM600.4 205.3h0.6v0.6h-0.6zM602.2 204.3h0.6v0.6h-0.6zM650.2 247.3h0.6v0.6h-0.6zM599.9 279.6h0.6v0.6h-0.6zM590.9 281.7h0.6v0.6h-0.6zM639.5 256.5h0.6v0.6h-0.6zM625.2 257.0h0.6v0.6h-0.6zM661.1 294.4h0.6v0.6h-0.6zM621.0 290.8h0.6v0.6h-0.6zM584.4 287.3h0.6v0.6h-0.6zM658.8 257.4h0.6v0.6h-0.6zM568.7 283.3h0.6v0.6h-0.6zM600.0 226.1h0.6v0.6h-0.6zM666.7 200.8h0.6v0.6h-0.6zM631.0 215.1h0.6v0.6h-0.6z" fill="#000" fill-opacity="0.22"/>
<path d="M657.1 214.0h0.7v0.7h-0.7zM568.2 241.9h0.7v0.7h-0.7zM609.1 269.3h0.7v0.7h-0.7zM588.6 221.8h0.7v0.7h-0.7zM590.1 248.5h0.7v0.7h-0.7zM571.2 249.6h0.7v0.7h-0.7zM651.4 262.6h0.7v0.7h-0.7zM585.7 241.3h0.7v0.7h-0.7zM566.8 240.4h0.7v0.7h-0.7zM644.4 191.8h0.7v0.7h-0.7zM631.2 286.7h0.7v0.7h-0.7zM588.4 224.6h0.7v0.7h-0.7zM635.2 207.8h0.7v0.7h-0.7zM587.2 255.4h0.7v0.7h-0.7zM616.2 209.0h0.7v0.7h-0.7zM579.0 242.4h0.7v0.7h-0.7zM656.9 212.4h0.7v0.7h-0.7zM635.6 246.5h0.7v0.7h-0.7zM588.2 234.4h0.7v0.7h-0.7zM651.6 202.3h0.7v0.7h-0.7zM619.6 241.1h0.7v0.7h-0.7zM568.7 234.5h0.7v0.7h-0.7zM575.7 233.4h0.7v0.7h-0.7zM559.4 250.2h0.7v0.7h-0.7zM649.6 281.8h0.7v0.7h-0.7zM664.5 217.7h0.7v0.7h-0.7zM649.1 228.7h0.7v0.7h-0.7zM639.1 240.3h0.7v0.7h-0.7zM642.4 233.0h0.7v0.7h-0.7zM667.6 239.8h0.7v0.7h-0.7zM648.9 210.3h0.7v0.7h-0.7zM640.6 213.5h0.7v0.7h-0.7zM603.5 230.9h0.7v0.7h-0.7zM633.4 251.3h0.7v0.7h-0.7zM587.9 287.9h0.7v0.7h-0.7z" fill="#000" fill-opacity="0.55"/>
<rect x="552.20" y="188.10" width="124.50" height="111.10" fill="none" stroke="#555" stroke-width="0.6" />
<text x="556.40" y="306.60" font-size="4.8" text-anchor="middle" fill="#333">0</text>
<text x="597.60" y="306.60" font-size="4.8" text-anchor="middle" fill="#333">2000</text>
<text x="638.90" y="306.60" font-size="4.8" text-anchor="middle" fill="#333">4000</text>
<text x="548.60" y="294.20" font-size="4.8" text-anchor="middle" fill="#333" transform="rotate(-90 548.60 294.20)">0</text>
<text x="548.60" y="279.30" font-size="4.8" text-anchor="middle" fill="#333" transform="rotate(-90 548.60 279.30)">2000</text>
<text x="548.60" y="263.30" font-size="4.8" text-anchor="middle" fill="#333" transform="rotate(-90 548.60 263.30)">4000</text>
<text x="548.60" y="247.90" font-size="4.8" text-anchor="middle" fill="#333" transform="rotate(-90 548.60 247.90)">6000</text>
<text x="548.60" y="231.90" font-size="4.8" text-anchor="middle" fill="#333" transform="rotate(-90 548.60 231.90)">8000</text>
<text x="548.60" y="213.00" font-size="4.8" text-anchor="middle" fill="#333" transform="rotate(-90 548.60 213.00)">10000</text>
<text x="548.60" y="196.50" font-size="4.8" text-anchor="middle" fill="#333" transform="rotate(-90 548.60 196.50)">12000</text>
<path d="M556.4 299.2v2.2M577.0 299.2v2.2M597.6 299.2v2.2M618.3 299.2v2.2M638.9 299.2v2.2M659.5 299.2v2.2M552.2 294.2h-2.2M552.2 279.3h-2.2M552.2 263.3h-2.2M552.2 247.9h-2.2M552.2 231.9h-2.2M552.2 216.3h-2.2M552.2 200.2h-2.2" stroke="#555" stroke-width="0.5" fill="none"/>
<text x="619.00" y="317.40" font-size="5.8" text-anchor="middle" fill="#444">Obi17</text>
<text x="538.40" y="242.60" font-size="5.8" text-anchor="middle" fill="#444" transform="rotate(-90 538.40 242.60)">Dpe07</text>
<rect x="540.95" y="183.15" width="141.60" height="125.10" fill="none" stroke="#961208" stroke-width="2.9" />
<line x1="233.60" y1="123.50" x2="386.30" y2="43.00" stroke="#961208" stroke-width="1.1" />
<line x1="233.60" y1="130.30" x2="386.30" y2="170.30" stroke="#961208" stroke-width="1.1" />
<line x1="134.10" y1="211.30" x2="386.60" y2="182.60" stroke="#961208" stroke-width="1.1" />
<line x1="134.10" y1="217.60" x2="386.60" y2="310.00" stroke="#961208" stroke-width="1.1" />
<rect x="221.20" y="357.00" width="4.90" height="35.20" fill="#cccccc" stroke="none" stroke-width="0.7" />
<rect x="231.60" y="357.00" width="5.60" height="35.20" fill="#cccccc" stroke="none" stroke-width="0.7" />
<rect x="243.40" y="357.00" width="4.90" height="35.20" fill="#cccccc" stroke="none" stroke-width="0.7" />
<rect x="250.80" y="357.00" width="3.00" height="35.20" fill="#cccccc" stroke="none" stroke-width="0.7" />
<rect x="258.20" y="357.00" width="3.30" height="35.20" fill="#cccccc" stroke="none" stroke-width="0.7" />
<rect x="267.60" y="357.00" width="2.20" height="35.20" fill="#cccccc" stroke="none" stroke-width="0.7" />
<rect x="271.60" y="357.00" width="1.90" height="35.20" fill="#cccccc" stroke="none" stroke-width="0.7" />
<rect x="278.50" y="357.00" width="1.80" height="35.20" fill="#cccccc" stroke="none" stroke-width="0.7" />
<rect x="285.60" y="357.00" width="3.00" height="35.20" fill="#cccccc" stroke="none" stroke-width="0.7" />
<rect x="303.50" y="405.90" width="34.00" height="3.60" fill="#cccccc" stroke="none" stroke-width="0.7" />
<rect x="303.50" y="413.90" width="34.00" height="2.70" fill="#cccccc" stroke="none" stroke-width="0.7" />
<rect x="303.50" y="420.50" width="34.00" height="2.30" fill="#cccccc" stroke="none" stroke-width="0.7" />
<rect x="303.50" y="427.40" width="34.00" height="1.40" fill="#cccccc" stroke="none" stroke-width="0.7" />
<rect x="303.50" y="433.20" width="34.00" height="4.60" fill="#cccccc" stroke="none" stroke-width="0.7" />
<rect x="303.50" y="442.60" width="34.00" height="4.10" fill="#cccccc" stroke="none" stroke-width="0.7" />
<rect x="303.50" y="450.60" width="34.00" height="1.80" fill="#cccccc" stroke="none" stroke-width="0.7" />
<rect x="303.50" y="457.70" width="34.00" height="5.30" fill="#cccccc" stroke="none" stroke-width="0.7" />
<rect x="303.50" y="469.20" width="34.00" height="4.50" fill="#cccccc" stroke="none" stroke-width="0.7" />
<rect x="303.50" y="479.90" width="34.00" height="5.80" fill="#cccccc" stroke="none" stroke-width="0.7" />
<rect x="303.50" y="585.30" width="5.00" height="1.80" fill="#cccccc" stroke="none" stroke-width="0.7" />
<path d="M76.8 392.2V626.1M87.6 392.2V626.1M117.2 392.2V626.1M137.3 392.2V626.1M155.0 392.2V626.1M171.4 392.2V626.1M185.7 392.2V626.1M193.0 392.2V626.1M200.6 392.2V626.1M208.4 392.2V626.1M215.7 392.2V626.1M221.2 392.2V626.1M226.1 392.2V626.1M231.6 392.2V626.1M237.2 392.2V626.1M243.4 392.2V626.1M248.3 392.2V626.1M250.8 392.2V626.1M253.8 392.2V626.1M258.2 392.2V626.1M261.5 392.2V626.1M264.2 392.2V626.1M267.6 392.2V626.1M269.8 392.2V626.1M271.6 392.2V626.1M273.5 392.2V626.1M276.3 392.2V626.1M278.5 392.2V626.1M280.3 392.2V626.1M283.0 392.2V626.1M285.6 392.2V626.1M288.6 392.2V626.1M292.0 392.2V626.1M294.0 392.2V626.1M69.4 400.5H303.5M69.4 405.9H303.5M69.4 409.5H303.5M69.4 413.9H303.5M69.4 416.6H303.5M69.4 420.5H303.5M69.4 422.8H303.5M69.4 424.5H303.5M69.4 427.4H303.5M69.4 428.8H303.5M69.4 433.2H303.5M69.4 437.8H303.5M69.4 442.6H303.5M69.4 446.7H303.5M69.4 450.6H303.5M69.4 452.4H303.5M69.4 457.7H303.5M69.4 463.0H303.5M69.4 469.2H303.5M69.4 473.7H303.5M69.4 479.9H303.5M69.4 485.7H303.5M69.4 493.0H303.5M69.4 500.2H303.5M69.4 507.8H303.5M69.4 516.3H303.5M69.4 530.6H303.5M69.4 543.7H303.5M69.4 548.5H303.5M69.4 566.1H303.5M69.4 586.2H303.5M69.4 604.2H303.5M69.4 617.9H303.5" stroke="#999" stroke-width="0.35" stroke-opacity="0.22" fill="none"/>
<rect x="69.40" y="392.20" width="234.10" height="233.90" fill="none" stroke="#444" stroke-width="0.8" />
<path d="M76.8 392.2v-5.2M87.6 392.2v-5.2M117.2 392.2v-5.2M137.3 392.2v-5.2M155.0 392.2v-5.2M171.4 392.2v-5.2M185.7 392.2v-5.2M193.0 392.2v-5.2M200.6 392.2v-5.2M208.4 392.2v-5.2M215.7 392.2v-5.2M221.2 392.2v-5.2M226.1 392.2v-5.2M231.6 392.2v-5.2M237.2 392.2v-5.2M243.4 392.2v-5.2M248.3 392.2v-5.2M250.8 392.2v-5.2M253.8 392.2v-5.2M258.2 392.2v-5.2M261.5 392.2v-5.2M264.2 392.2v-5.2M267.6 392.2v-5.2M269.8 392.2v-5.2M271.6 392.2v-5.2M273.5 392.2v-5.2M276.3 392.2v-5.2M278.5 392.2v-5.2M280.3 392.2v-5.2M283.0 392.2v-5.2M285.6 392.2v-5.2M288.6 392.2v-5.2M292.0 392.2v-5.2M294.0 392.2v-5.2M303.5 400.5h5M303.5 405.9h5M303.5 409.5h5M303.5 413.9h5M303.5 416.6h5M303.5 420.5h5M303.5 422.8h5M303.5 424.5h5M303.5 427.4h5M303.5 428.8h5M303.5 433.2h5M303.5 437.8h5M303.5 442.6h5M303.5 446.7h5M303.5 450.6h5M303.5 452.4h5M303.5 457.7h5M303.5 463.0h5M303.5 469.2h5M303.5 473.7h5M303.5 479.9h5M303.5 485.7h5M303.5 493.0h5M303.5 500.2h5M303.5 507.8h5M303.5 516.3h5M303.5 530.6h5M303.5 543.7h5M303.5 548.5h5M303.5 566.1h5M303.5 586.2h5M303.5 604.2h5M303.5 617.9h5M76.4 626.1v4.8M151.2 626.1v4.8M226.1 626.1v4.8M300.9 626.1v4.8M69.4 617.4h-4.8M69.4 586.8h-4.8M69.4 556.1h-4.8M69.4 525.4h-4.8M69.4 494.8h-4.8M69.4 464.1h-4.8M69.4 433.5h-4.8M69.4 402.8h-4.8" stroke="#444" stroke-width="0.7" fill="none"/>
<text font-size="9.0" text-anchor="start" fill="#111" transform="translate(85.20 381.50) rotate(-90) scale(0.93 1)" stroke="#111" stroke-width="0.12">GgaZ</text>
<text font-size="9.0" text-anchor="start" fill="#111" transform="translate(104.70 381.50) rotate(-90) scale(0.93 1)" stroke="#111" stroke-width="0.12">Gga1</text>
<text font-size="9.0" text-anchor="start" fill="#111" transform="translate(130.60 381.50) rotate(-90) scale(0.93 1)" stroke="#111" stroke-width="0.12">Gga2</text>
<text font-size="9.0" text-anchor="start" fill="#111" transform="translate(149.70 381.50) rotate(-90) scale(0.93 1)" stroke="#111" stroke-width="0.12">Gga3</text>
<text font-size="9.0" text-anchor="start" fill="#111" transform="translate(165.40 381.50) rotate(-90) scale(0.93 1)" stroke="#111" stroke-width="0.12">Gga4</text>
<text font-size="9.0" text-anchor="start" fill="#111" transform="translate(182.20 381.50) rotate(-90) scale(0.93 1)" stroke="#111" stroke-width="0.12">Gga5</text>
<text font-size="9.0" text-anchor="start" fill="#111" transform="translate(191.50 381.50) rotate(-90) scale(0.93 1)" stroke="#111" stroke-width="0.12">Gga6</text>
<text font-size="9.0" text-anchor="start" fill="#111" transform="translate(199.90 381.50) rotate(-90) scale(0.93 1)" stroke="#111" stroke-width="0.12">Gga7</text>
<text font-size="9.0" text-anchor="start" fill="#111" transform="translate(207.90 381.50) rotate(-90) scale(0.93 1)" stroke="#111" stroke-width="0.12">Gga8</text>
<text font-size="9.0" text-anchor="start" fill="#111" transform="translate(215.20 381.50) rotate(-90) scale(0.93 1)" stroke="#111" stroke-width="0.12">Gga9</text>
<text font-size="9.0" text-anchor="start" fill="#111" transform="translate(221.70 381.50) rotate(-90) scale(0.93 1)" stroke="#111" stroke-width="0.12">Gga10</text>
<text font-size="9.0" text-anchor="start" fill="#111" transform="translate(232.10 381.50) rotate(-90) scale(0.93 1)" stroke="#111" stroke-width="0.12">Gga12</text>
<text font-size="9.0" text-anchor="start" fill="#111" transform="translate(243.90 381.50) rotate(-90) scale(0.93 1)" stroke="#111" stroke-width="0.12">Gga14</text>
<text font-size="9.0" text-anchor="start" fill="#111" transform="translate(249.80 381.50) rotate(-90) scale(0.93 1)" stroke="#111" stroke-width="0.12">Gga16</text>
<text font-size="9.0" text-anchor="start" fill="#111" transform="translate(259.70 381.50) rotate(-90) scale(0.93 1)" stroke="#111" stroke-width="0.12">Gga18</text>
<text font-size="9.0" text-anchor="start" fill="#111" transform="translate(268.70 381.50) rotate(-90) scale(0.93 1)" stroke="#111" stroke-width="0.12">Gga20</text>
<text font-size="9.0" text-anchor="start" fill="#111" transform="translate(274.20 381.50) rotate(-90) scale(0.93 1)" stroke="#111" stroke-width="0.12">Gga22</text>
<text font-size="9.0" text-anchor="start" fill="#111" transform="translate(279.70 381.50) rotate(-90) scale(0.93 1)" stroke="#111" stroke-width="0.12">Gga24</text>
<text font-size="9.0" text-anchor="start" fill="#111" transform="translate(284.80 381.50) rotate(-90) scale(0.93 1)" stroke="#111" stroke-width="0.12">Gga26</text>
<text font-size="9.0" text-anchor="start" fill="#111" transform="translate(289.40 381.50) rotate(-90) scale(0.93 1)" stroke="#111" stroke-width="0.12">Gga27</text>
<text font-size="9.0" text-anchor="start" fill="#111" transform="translate(294.50 381.50) rotate(-90) scale(0.93 1)" stroke="#111" stroke-width="0.12">Gga28</text>
<text font-size="9.0" text-anchor="start" fill="#111" transform="translate(302.10 381.50) rotate(-90) scale(0.93 1)" stroke="#111" stroke-width="0.12">Gga33</text>
<text font-size="9.0" text-anchor="start" fill="#111" transform="translate(227.20 355.50) rotate(-90) scale(0.93 1)" stroke="#111" stroke-width="0.12">Gga11</text>
<text font-size="9.0" text-anchor="start" fill="#111" transform="translate(236.90 355.50) rotate(-90) scale(0.93 1)" stroke="#111" stroke-width="0.12">Gga13</text>
<text font-size="9.0" text-anchor="start" fill="#111" transform="translate(248.00 355.50) rotate(-90) scale(0.93 1)" stroke="#111" stroke-width="0.12">Gga15</text>
<text font-size="9.0" text-anchor="start" fill="#111" transform="translate(254.20 355.50) rotate(-90) scale(0.93 1)" stroke="#111" stroke-width="0.12">Gga17</text>
<text font-size="9.0" text-anchor="start" fill="#111" transform="translate(262.40 355.50) rotate(-90) scale(0.93 1)" stroke="#111" stroke-width="0.12">Gga19</text>
<text font-size="9.0" text-anchor="start" fill="#111" transform="translate(272.10 355.50) rotate(-90) scale(0.93 1)" stroke="#111" stroke-width="0.12">Gga21</text>
<text font-size="9.0" text-anchor="start" fill="#111" transform="translate(277.60 355.50) rotate(-90) scale(0.93 1)" stroke="#111" stroke-width="0.12">Gga23</text>
<text font-size="9.0" text-anchor="start" fill="#111" transform="translate(283.10 355.50) rotate(-90) scale(0.93 1)" stroke="#111" stroke-width="0.12">Gga25</text>
<text font-size="9.0" text-anchor="start" fill="#111" transform="translate(289.00 355.50) rotate(-90) scale(0.93 1)" stroke="#111" stroke-width="0.12">Gga29</text>
<text font-size="9.0" text-anchor="start" fill="#111" transform="translate(297.80 355.50) rotate(-90) scale(0.93 1)" stroke="#111" stroke-width="0.12">Gga32</text>
<text font-size="9.0" text-anchor="start" fill="#111" transform="translate(309.80 400.60) scale(0.93 1)" stroke="#111" stroke-width="0.12">Tgu30</text>
<text font-size="9.0" text-anchor="start" fill="#111" transform="translate(309.80 406.80) scale(0.93 1)" stroke="#111" stroke-width="0.12">Tgu29</text>
<text font-size="9.0" text-anchor="start" fill="#111" transform="translate(309.80 414.80) scale(0.93 1)" stroke="#111" stroke-width="0.12">Tgu27</text>
<text font-size="9.0" text-anchor="start" fill="#111" transform="translate(309.80 421.50) scale(0.93 1)" stroke="#111" stroke-width="0.12">Tgu25</text>
<text font-size="9.0" text-anchor="start" fill="#111" transform="translate(309.80 428.60) scale(0.93 1)" stroke="#111" stroke-width="0.12">Tgu23</text>
<text font-size="9.0" text-anchor="start" fill="#111" transform="translate(309.80 435.70) scale(0.93 1)" stroke="#111" stroke-width="0.12">Tgu21</text>
<text font-size="9.0" text-anchor="start" fill="#111" transform="translate(309.80 444.10) scale(0.93 1)" stroke="#111" stroke-width="0.12">Tgu19</text>
<text font-size="9.0" text-anchor="start" fill="#111" transform="translate(309.80 452.00) scale(0.93 1)" stroke="#111" stroke-width="0.12">Tgu17</text>
<text font-size="9.0" text-anchor="start" fill="#111" transform="translate(309.80 458.80) scale(0.93 1)" stroke="#111" stroke-width="0.12">Tgu15</text>
<text font-size="9.0" text-anchor="start" fill="#111" transform="translate(309.80 469.40) scale(0.93 1)" stroke="#111" stroke-width="0.12">Tgu13</text>
<text font-size="9.0" text-anchor="start" fill="#111" transform="translate(309.80 480.40) scale(0.93 1)" stroke="#111" stroke-width="0.12">Tgu11</text>
<text font-size="9.0" text-anchor="start" fill="#111" transform="translate(309.80 492.00) scale(0.93 1)" stroke="#111" stroke-width="0.12">Tgu9</text>
<text font-size="9.0" text-anchor="start" fill="#111" transform="translate(309.80 500.50) scale(0.93 1)" stroke="#111" stroke-width="0.12">Gga8</text>
<text font-size="9.0" text-anchor="start" fill="#111" transform="translate(309.80 507.50) scale(0.93 1)" stroke="#111" stroke-width="0.12">Tgu7</text>
<text font-size="9.0" text-anchor="start" fill="#111" transform="translate(309.80 517.30) scale(0.93 1)" stroke="#111" stroke-width="0.12">Tgu6</text>
<text font-size="9.0" text-anchor="start" fill="#111" transform="translate(309.80 527.20) scale(0.93 1)" stroke="#111" stroke-width="0.12">Tgu5</text>
<text font-size="9.0" text-anchor="start" fill="#111" transform="translate(309.80 540.70) scale(0.93 1)" stroke="#111" stroke-width="0.12">Tgu4</text>
<text font-size="9.0" text-anchor="start" fill="#111" transform="translate(309.80 548.60) scale(0.93 1)" stroke="#111" stroke-width="0.12">Tgu4A</text>
<text font-size="9.0" text-anchor="start" fill="#111" transform="translate(309.80 561.40) scale(0.93 1)" stroke="#111" stroke-width="0.12">Tgu3</text>
<text font-size="9.0" text-anchor="start" fill="#111" transform="translate(309.80 579.40) scale(0.93 1)" stroke="#111" stroke-width="0.12">Tgu2</text>
<text font-size="9.0" text-anchor="start" fill="#111" transform="translate(309.80 599.80) scale(0.93 1)" stroke="#111" stroke-width="0.12">Tgu1</text>
<text font-size="9.0" text-anchor="start" fill="#111" transform="translate(309.80 614.70) scale(0.93 1)" stroke="#111" stroke-width="0.12">Tgu1A</text>
<text font-size="9.0" text-anchor="start" fill="#111" transform="translate(338.80 411.20) scale(0.93 1)" stroke="#111" stroke-width="0.12">Tgu28</text>
<text font-size="9.0" text-anchor="start" fill="#111" transform="translate(338.80 418.30) scale(0.93 1)" stroke="#111" stroke-width="0.12">Tgu26</text>
<text font-size="9.0" text-anchor="start" fill="#111" transform="translate(338.80 425.40) scale(0.93 1)" stroke="#111" stroke-width="0.12">Tgu24</text>
<text font-size="9.0" text-anchor="start" fill="#111" transform="translate(338.80 431.30) scale(0.93 1)" stroke="#111" stroke-width="0.12">Tgu22</text>
<text font-size="9.0" text-anchor="start" fill="#111" transform="translate(338.80 440.20) scale(0.93 1)" stroke="#111" stroke-width="0.12">Tgu20</text>
<text font-size="9.0" text-anchor="start" fill="#111" transform="translate(338.80 448.00) scale(0.93 1)" stroke="#111" stroke-width="0.12">Tgu18</text>
<text font-size="9.0" text-anchor="start" fill="#111" transform="translate(338.80 454.70) scale(0.93 1)" stroke="#111" stroke-width="0.12">Tgu16</text>
<text font-size="9.0" text-anchor="start" fill="#111" transform="translate(338.80 463.20) scale(0.93 1)" stroke="#111" stroke-width="0.12">Tgu14</text>
<text font-size="9.0" text-anchor="start" fill="#111" transform="translate(338.80 474.70) scale(0.93 1)" stroke="#111" stroke-width="0.12">Tgu12</text>
<text font-size="9.0" text-anchor="start" fill="#111" transform="translate(338.80 485.40) scale(0.93 1)" stroke="#111" stroke-width="0.12">Tgu10</text>
<text x="76.70" y="644.60" font-size="10.6" text-anchor="middle" fill="#111" letter-spacing="-1.35">0</text>
<text x="150.85" y="644.60" font-size="10.6" text-anchor="middle" fill="#111" letter-spacing="-1.35">5000</text>
<text x="225.70" y="644.60" font-size="10.6" text-anchor="middle" fill="#111" letter-spacing="-1.35">10000</text>
<text x="300.55" y="644.60" font-size="10.6" text-anchor="middle" fill="#111" letter-spacing="-1.35">15000</text>
<text x="57.00" y="616.80" font-size="10.6" text-anchor="middle" fill="#111" transform="rotate(-90 57.00 616.80)" letter-spacing="-1.2">0</text>
<text x="57.00" y="586.15" font-size="10.6" text-anchor="middle" fill="#111" transform="rotate(-90 57.00 586.15)" letter-spacing="-1.2">2000</text>
<text x="57.00" y="555.50" font-size="10.6" text-anchor="middle" fill="#111" transform="rotate(-90 57.00 555.50)" letter-spacing="-1.2">4000</text>
<text x="57.00" y="524.85" font-size="10.6" text-anchor="middle" fill="#111" transform="rotate(-90 57.00 524.85)" letter-spacing="-1.2">6000</text>
<text x="57.00" y="494.20" font-size="10.6" text-anchor="middle" fill="#111" transform="rotate(-90 57.00 494.20)" letter-spacing="-1.2">8000</text>
<text x="57.00" y="463.55" font-size="10.6" text-anchor="middle" fill="#111" transform="rotate(-90 57.00 463.55)" letter-spacing="-1.2">10000</text>
<text x="57.00" y="432.90" font-size="10.6" text-anchor="middle" fill="#111" transform="rotate(-90 57.00 432.90)" letter-spacing="-1.2">12000</text>
<text x="57.00" y="402.25" font-size="10.6" text-anchor="middle" fill="#111" transform="rotate(-90 57.00 402.25)" letter-spacing="-1.2">14000</text>
<text x="149.30" y="657.60" font-size="13.1" text-anchor="start" fill="#111">Chicken</text>
<text x="150.30" y="672.00" font-size="12.8" text-anchor="start" fill="#111" font-style="italic">Gallus gallus domesticus</text>
<text x="25.20" y="568.00" font-size="12.5" text-anchor="middle" fill="#111" transform="rotate(-90 25.20 568.00)">Zebrafinch</text>
<text x="41.00" y="540.00" font-size="12.5" text-anchor="middle" fill="#111" transform="rotate(-90 41.00 540.00)" font-style="italic">Taeniopygia guttata</text>
<text x="17.60" y="381.70" font-size="20.5" text-anchor="start" fill="#000" font-weight="bold">b</text>
<path d="M111.6 550.9h0.8v0.8h-0.8zM216.0 504.1h0.8v0.8h-0.8zM123.0 573.7h0.8v0.8h-0.8zM254.4 511.5h0.8v0.8h-0.8zM187.2 450.2h0.8v0.8h-0.8zM75.7 480.1h0.8v0.8h-0.8zM205.0 413.2h0.8v0.8h-0.8zM251.3 449.3h0.8v0.8h-0.8zM126.7 407.2h0.8v0.8h-0.8zM296.6 561.7h0.8v0.8h-0.8zM269.3 534.5h0.8v0.8h-0.8zM82.6 470.8h0.8v0.8h-0.8zM185.5 423.5h0.8v0.8h-0.8zM286.4 479.6h0.8v0.8h-0.8zM109.4 579.2h0.8v0.8h-0.8zM102.7 603.7h0.8v0.8h-0.8zM175.6 520.3h0.8v0.8h-0.8zM151.2 505.4h0.8v0.8h-0.8zM116.5 406.0h0.8v0.8h-0.8zM267.3 449.9h0.8v0.8h-0.8zM248.3 444.1h0.8v0.8h-0.8zM290.2 596.2h0.8v0.8h-0.8zM242.6 567.1h0.8v0.8h-0.8zM204.0 559.7h0.8v0.8h-0.8zM102.2 503.5h0.8v0.8h-0.8zM258.7 442.4h0.8v0.8h-0.8zM280.0 594.7h0.8v0.8h-0.8zM166.0 478.8h0.8v0.8h-0.8zM175.2 483.4h0.8v0.8h-0.8zM296.0 483.6h0.8v0.8h-0.8zM81.0 418.5h0.8v0.8h-0.8zM234.5 618.1h0.8v0.8h-0.8zM185.2 506.9h0.8v0.8h-0.8zM197.3 563.8h0.8v0.8h-0.8zM124.3 532.9h0.8v0.8h-0.8zM198.6 536.0h0.8v0.8h-0.8zM115.1 435.5h0.8v0.8h-0.8zM152.3 603.5h0.8v0.8h-0.8zM152.0 530.3h0.8v0.8h-0.8zM143.1 420.7h0.8v0.8h-0.8zM89.6 578.4h0.8v0.8h-0.8zM247.6 481.0h0.8v0.8h-0.8zM226.8 547.8h0.8v0.8h-0.8zM274.6 610.4h0.8v0.8h-0.8zM165.4 617.3h0.8v0.8h-0.8zM288.5 528.8h0.8v0.8h-0.8zM271.2 506.7h0.8v0.8h-0.8zM158.4 452.7h0.8v0.8h-0.8zM269.6 433.8h0.8v0.8h-0.8zM90.4 576.5h0.8v0.8h-0.8zM246.9 505.0h0.8v0.8h-0.8zM260.9 409.4h0.8v0.8h-0.8zM132.3 462.1h0.8v0.8h-0.8zM168.2 435.7h0.8v0.8h-0.8zM90.4 472.8h0.8v0.8h-0.8zM274.7 616.0h0.8v0.8h-0.8zM240.7 504.1h0.8v0.8h-0.8zM131.0 610.6h0.8v0.8h-0.8zM191.7 559.5h0.8v0.8h-0.8zM81.3 444.9h0.8v0.8h-0.8zM261.2 574.3h0.8v0.8h-0.8zM270.8 531.2h0.8v0.8h-0.8zM169.6 526.8h0.8v0.8h-0.8zM263.6 466.1h0.8v0.8h-0.8zM193.7 459.0h0.8v0.8h-0.8zM245.6 400.1h0.8v0.8h-0.8zM227.2 609.5h0.8v0.8h-0.8zM80.2 529.5h0.8v0.8h-0.8zM218.0 586.8h0.8v0.8h-0.8zM204.8 454.9h0.8v0.8h-0.8zM165.1 610.5h0.8v0.8h-0.8zM276.1 427.4h0.8v0.8h-0.8zM96.1 418.6h0.8v0.8h-0.8zM80.6 497.0h0.8v0.8h-0.8zM106.3 590.3h0.8v0.8h-0.8zM220.5 425.9h0.8v0.8h-0.8zM194.6 469.8h0.8v0.8h-0.8zM184.7 446.5h0.8v0.8h-0.8zM111.9 438.6h0.8v0.8h-0.8zM158.9 555.3h0.8v0.8h-0.8zM197.2 408.0h0.8v0.8h-0.8zM232.9 591.7h0.8v0.8h-0.8zM247.0 573.3h0.8v0.8h-0.8zM76.7 500.7h0.8v0.8h-0.8zM89.1 567.3h0.8v0.8h-0.8zM113.9 555.7h0.8v0.8h-0.8zM131.2 552.4h0.8v0.8h-0.8zM144.7 407.1h0.8v0.8h-0.8zM161.4 466.5h0.8v0.8h-0.8zM275.1 463.3h0.8v0.8h-0.8zM186.7 519.7h0.8v0.8h-0.8zM285.6 419.7h0.8v0.8h-0.8zM208.5 510.6h0.8v0.8h-0.8zM238.1 612.4h0.8v0.8h-0.8zM143.9 553.0h0.8v0.8h-0.8zM191.8 522.2h0.8v0.8h-0.8zM89.2 578.6h0.8v0.8h-0.8zM292.0 476.6h0.8v0.8h-0.8zM145.6 618.2h0.8v0.8h-0.8zM98.9 414.7h0.8v0.8h-0.8zM91.3 578.5h0.8v0.8h-0.8zM243.8 497.2h0.8v0.8h-0.8zM213.0 402.2h0.8v0.8h-0.8zM218.2 496.0h0.8v0.8h-0.8zM189.9 484.2h0.8v0.8h-0.8zM164.2 447.8h0.8v0.8h-0.8zM85.8 494.1h0.8v0.8h-0.8zM129.9 554.1h0.8v0.8h-0.8zM256.5 558.4h0.8v0.8h-0.8zM176.3 450.3h0.8v0.8h-0.8zM160.6 505.8h0.8v0.8h-0.8zM215.3 611.5h0.8v0.8h-0.8zM94.0 504.2h0.8v0.8h-0.8zM184.2 556.9h0.8v0.8h-0.8zM272.8 570.8h0.8v0.8h-0.8zM214.2 566.1h0.8v0.8h-0.8zM223.4 588.4h0.8v0.8h-0.8zM230.3 549.4h0.8v0.8h-0.8zM129.5 601.2h0.8v0.8h-0.8zM160.7 534.2h0.8v0.8h-0.8zM258.2 611.6h0.8v0.8h-0.8zM294.7 399.2h0.8v0.8h-0.8zM144.4 467.0h0.8v0.8h-0.8zM161.9 430.1h0.8v0.8h-0.8zM197.9 415.4h0.8v0.8h-0.8zM142.2 607.2h0.8v0.8h-0.8zM239.9 500.4h0.8v0.8h-0.8zM99.0 609.9h0.8v0.8h-0.8zM231.3 443.5h0.8v0.8h-0.8zM149.5 540.2h0.8v0.8h-0.8zM226.4 455.7h0.8v0.8h-0.8zM286.3 469.3h0.8v0.8h-0.8zM131.5 585.4h0.8v0.8h-0.8zM109.1 549.0h0.8v0.8h-0.8zM119.4 530.5h0.8v0.8h-0.8zM136.6 481.9h0.8v0.8h-0.8zM283.9 501.4h0.8v0.8h-0.8zM172.0 534.7h0.8v0.8h-0.8zM137.3 436.5h0.8v0.8h-0.8zM160.4 458.2h0.8v0.8h-0.8zM116.9 611.0h0.8v0.8h-0.8zM82.6 577.6h0.8v0.8h-0.8zM282.6 554.2h0.8v0.8h-0.8zM79.2 509.0h0.8v0.8h-0.8zM83.7 532.7h0.8v0.8h-0.8zM230.6 451.1h0.8v0.8h-0.8zM76.7 518.6h0.8v0.8h-0.8zM96.0 466.4h0.8v0.8h-0.8zM175.9 596.3h0.8v0.8h-0.8zM157.2 427.7h0.8v0.8h-0.8zM250.8 580.3h0.8v0.8h-0.8zM192.6 408.7h0.8v0.8h-0.8zM116.7 487.2h0.8v0.8h-0.8zM197.6 447.8h0.8v0.8h-0.8zM253.2 585.0h0.8v0.8h-0.8zM280.5 593.9h0.8v0.8h-0.8zM78.9 527.0h0.8v0.8h-0.8zM92.9 597.4h0.8v0.8h-0.8zM240.9 566.3h0.8v0.8h-0.8zM116.8 411.0h0.8v0.8h-0.8zM256.1 532.4h0.8v0.8h-0.8zM212.8 502.3h0.8v0.8h-0.8zM252.7 472.8h0.8v0.8h-0.8zM134.9 476.2h0.8v0.8h-0.8zM141.2 537.0h0.8v0.8h-0.8zM272.7 413.6h0.8v0.8h-0.8zM90.0 511.4h0.8v0.8h-0.8zM225.6 439.9h0.8v0.8h-0.8zM134.9 410.8h0.8v0.8h-0.8zM83.3 507.7h0.8v0.8h-0.8zM226.2 542.7h0.8v0.8h-0.8zM110.1 420.9h0.8v0.8h-0.8zM281.7 517.3h0.8v0.8h-0.8zM165.7 551.1h0.8v0.8h-0.8zM236.6 514.2h0.8v0.8h-0.8zM92.4 581.4h0.8v0.8h-0.8zM122.5 406.8h0.8v0.8h-0.8zM153.2 516.0h0.8v0.8h-0.8zM214.5 436.4h0.8v0.8h-0.8zM232.6 507.4h0.8v0.8h-0.8zM111.0 586.6h0.8v0.8h-0.8zM254.2 598.9h0.8v0.8h-0.8zM225.9 446.0h0.8v0.8h-0.8zM247.7 598.1h0.8v0.8h-0.8zM193.4 599.4h0.8v0.8h-0.8zM290.5 484.4h0.8v0.8h-0.8zM284.2 605.7h0.8v0.8h-0.8zM251.3 400.3h0.8v0.8h-0.8zM153.2 534.0h0.8v0.8h-0.8zM209.9 565.5h0.8v0.8h-0.8zM218.7 433.6h0.8v0.8h-0.8zM281.7 516.8h0.8v0.8h-0.8zM270.8 443.7h0.8v0.8h-0.8zM296.7 520.9h0.8v0.8h-0.8zM247.3 562.0h0.8v0.8h-0.8zM271.1 478.2h0.8v0.8h-0.8zM93.4 487.8h0.8v0.8h-0.8zM114.6 517.6h0.8v0.8h-0.8zM256.0 478.2h0.8v0.8h-0.8zM104.1 403.8h0.8v0.8h-0.8zM168.9 526.6h0.8v0.8h-0.8zM80.8 545.5h0.8v0.8h-0.8zM121.8 421.6h0.8v0.8h-0.8zM281.0 513.9h0.8v0.8h-0.8zM273.8 511.8h0.8v0.8h-0.8zM102.3 451.1h0.8v0.8h-0.8zM169.2 540.0h0.8v0.8h-0.8zM246.2 564.5h0.8v0.8h-0.8zM219.5 453.9h0.8v0.8h-0.8zM170.5 481.7h0.8v0.8h-0.8zM183.7 456.7h0.8v0.8h-0.8zM194.4 499.6h0.8v0.8h-0.8zM82.9 580.4h0.8v0.8h-0.8zM205.2 575.9h0.8v0.8h-0.8zM238.6 560.0h0.8v0.8h-0.8zM295.6 481.4h0.8v0.8h-0.8zM162.4 398.6h0.8v0.8h-0.8zM222.6 526.8h0.8v0.8h-0.8zM203.0 619.2h0.8v0.8h-0.8zM118.7 448.2h0.8v0.8h-0.8zM238.1 578.1h0.8v0.8h-0.8zM182.2 410.0h0.8v0.8h-0.8zM157.3 581.2h0.8v0.8h-0.8zM186.0 500.2h0.8v0.8h-0.8zM161.5 537.3h0.8v0.8h-0.8zM207.9 551.6h0.8v0.8h-0.8zM267.2 564.5h0.8v0.8h-0.8zM158.3 453.4h0.8v0.8h-0.8zM248.7 573.7h0.8v0.8h-0.8zM281.1 441.9h0.8v0.8h-0.8z" fill="#000" fill-opacity="0.5"/>
<path d="M263.3 428.3h0.8v0.8h-0.8zM92.2 409.7h0.8v0.8h-0.8zM215.7 404.5h0.8v0.8h-0.8zM259.6 408.3h0.8v0.8h-0.8zM226.6 409.3h0.8v0.8h-0.8zM123.5 406.4h0.8v0.8h-0.8zM185.5 422.6h0.8v0.8h-0.8zM123.4 421.8h0.8v0.8h-0.8zM149.4 420.6h0.8v0.8h-0.8zM156.8 406.0h0.8v0.8h-0.8zM106.3 401.6h0.8v0.8h-0.8zM229.7 413.0h0.8v0.8h-0.8zM102.4 428.0h0.8v0.8h-0.8zM220.4 400.5h0.8v0.8h-0.8zM236.0 418.8h0.8v0.8h-0.8zM173.6 415.8h0.8v0.8h-0.8zM288.7 411.8h0.8v0.8h-0.8zM216.3 420.1h0.8v0.8h-0.8zM156.2 410.9h0.8v0.8h-0.8zM242.7 420.1h0.8v0.8h-0.8zM176.5 416.2h0.8v0.8h-0.8zM124.6 425.1h0.8v0.8h-0.8zM79.4 420.4h0.8v0.8h-0.8zM176.0 406.9h0.8v0.8h-0.8zM205.3 418.5h0.8v0.8h-0.8zM94.3 415.5h0.8v0.8h-0.8zM111.7 425.4h0.8v0.8h-0.8zM147.6 410.3h0.8v0.8h-0.8zM122.8 401.3h0.8v0.8h-0.8zM116.5 404.7h0.8v0.8h-0.8zM213.6 426.9h0.8v0.8h-0.8zM124.1 403.4h0.8v0.8h-0.8zM193.7 403.5h0.8v0.8h-0.8zM165.0 424.1h0.8v0.8h-0.8zM120.1 422.2h0.8v0.8h-0.8zM194.6 402.5h0.8v0.8h-0.8zM128.9 419.0h0.8v0.8h-0.8zM96.4 406.3h0.8v0.8h-0.8zM203.1 426.0h0.8v0.8h-0.8zM190.6 421.0h0.8v0.8h-0.8zM77.0 409.5h0.8v0.8h-0.8zM145.7 429.0h0.8v0.8h-0.8zM154.4 424.9h0.8v0.8h-0.8zM82.6 415.7h0.8v0.8h-0.8zM273.0 424.5h0.8v0.8h-0.8zM203.7 405.6h0.8v0.8h-0.8zM280.7 402.4h0.8v0.8h-0.8zM289.3 424.6h0.8v0.8h-0.8zM234.8 416.8h0.8v0.8h-0.8zM111.4 410.7h0.8v0.8h-0.8zM222.5 420.8h0.8v0.8h-0.8zM161.5 425.4h0.8v0.8h-0.8zM86.9 409.0h0.8v0.8h-0.8zM95.1 410.2h0.8v0.8h-0.8zM251.1 423.9h0.8v0.8h-0.8zM108.2 409.7h0.8v0.8h-0.8zM99.9 421.0h0.8v0.8h-0.8zM173.3 407.2h0.8v0.8h-0.8zM158.1 427.5h0.8v0.8h-0.8zM169.4 421.9h0.8v0.8h-0.8z" fill="#000" fill-opacity="0.5"/>
<path d="M260.8 456.5h0.8v0.8h-0.8zM253.8 443.4h0.8v0.8h-0.8zM218.9 459.0h0.8v0.8h-0.8zM229.3 439.3h0.8v0.8h-0.8zM217.8 509.2h0.8v0.8h-0.8zM241.1 423.8h0.8v0.8h-0.8zM202.7 425.5h0.8v0.8h-0.8zM284.3 440.2h0.8v0.8h-0.8zM264.6 427.4h0.8v0.8h-0.8zM263.0 453.7h0.8v0.8h-0.8zM271.4 463.1h0.8v0.8h-0.8zM236.2 433.4h0.8v0.8h-0.8zM257.5 499.5h0.8v0.8h-0.8zM267.0 457.3h0.8v0.8h-0.8zM231.6 506.6h0.8v0.8h-0.8zM282.1 417.3h0.8v0.8h-0.8zM265.8 492.3h0.8v0.8h-0.8zM265.5 515.3h0.8v0.8h-0.8zM285.3 429.3h0.8v0.8h-0.8zM296.8 439.1h0.8v0.8h-0.8zM236.6 516.8h0.8v0.8h-0.8zM215.9 447.2h0.8v0.8h-0.8zM260.6 432.5h0.8v0.8h-0.8zM225.6 494.9h0.8v0.8h-0.8zM259.3 488.9h0.8v0.8h-0.8zM276.6 504.3h0.8v0.8h-0.8zM286.7 498.4h0.8v0.8h-0.8zM295.0 459.6h0.8v0.8h-0.8zM268.0 461.4h0.8v0.8h-0.8zM294.1 478.3h0.8v0.8h-0.8zM241.6 479.4h0.8v0.8h-0.8zM228.4 415.3h0.8v0.8h-0.8zM237.3 416.2h0.8v0.8h-0.8zM200.0 410.9h0.8v0.8h-0.8zM243.9 491.2h0.8v0.8h-0.8zM204.3 476.1h0.8v0.8h-0.8zM210.5 460.9h0.8v0.8h-0.8zM228.4 453.2h0.8v0.8h-0.8zM269.0 449.3h0.8v0.8h-0.8zM237.8 487.1h0.8v0.8h-0.8zM210.9 441.6h0.8v0.8h-0.8zM268.0 499.8h0.8v0.8h-0.8zM295.1 430.6h0.8v0.8h-0.8zM260.6 437.3h0.8v0.8h-0.8zM268.0 501.2h0.8v0.8h-0.8zM212.8 441.1h0.8v0.8h-0.8zM290.9 442.0h0.8v0.8h-0.8zM261.2 497.9h0.8v0.8h-0.8zM226.8 493.7h0.8v0.8h-0.8zM200.0 440.6h0.8v0.8h-0.8zM215.9 441.2h0.8v0.8h-0.8zM220.4 402.8h0.8v0.8h-0.8zM277.9 420.6h0.8v0.8h-0.8zM255.5 466.2h0.8v0.8h-0.8zM282.4 501.3h0.8v0.8h-0.8zM260.2 420.0h0.8v0.8h-0.8zM273.8 411.5h0.8v0.8h-0.8zM290.1 436.7h0.8v0.8h-0.8zM224.2 425.7h0.8v0.8h-0.8zM238.2 494.6h0.8v0.8h-0.8z" fill="#000" fill-opacity="0.55"/>
<line x1="87.70" y1="617.30" x2="99.60" y2="605.40" stroke="#000" stroke-width="1.25" stroke-linecap="round"/>
<line x1="100.60" y1="599.00" x2="105.40" y2="603.80" stroke="#000" stroke-width="1.25" stroke-linecap="round"/>
<line x1="105.40" y1="587.50" x2="111.20" y2="592.30" stroke="#000" stroke-width="1.25" stroke-linecap="round"/>
<line x1="112.30" y1="594.50" x2="114.00" y2="596.30" stroke="#000" stroke-width="1.25" stroke-linecap="round"/>
<line x1="115.40" y1="598.00" x2="117.20" y2="600.50" stroke="#000" stroke-width="1.25" stroke-linecap="round"/>
<line x1="117.20" y1="600.50" x2="116.80" y2="603.00" stroke="#000" stroke-width="1.25" stroke-linecap="round"/>
<line x1="116.50" y1="587.50" x2="138.10" y2="566.30" stroke="#000" stroke-width="1.25" stroke-linecap="round"/>
<line x1="142.90" y1="553.80" x2="155.00" y2="566.30" stroke="#000" stroke-width="1.25" stroke-linecap="round"/>
<line x1="166.50" y1="537.50" x2="171.70" y2="543.30" stroke="#000" stroke-width="1.25" stroke-linecap="round"/>
<line x1="173.70" y1="526.90" x2="194.40" y2="507.30" stroke="#000" stroke-width="1.25" stroke-linecap="round"/>
<line x1="195.40" y1="502.50" x2="199.20" y2="507.30" stroke="#000" stroke-width="1.25" stroke-linecap="round"/>
<line x1="202.10" y1="492.90" x2="208.50" y2="500.60" stroke="#000" stroke-width="1.25" stroke-linecap="round"/>
<line x1="209.80" y1="491.50" x2="222.30" y2="479.40" stroke="#000" stroke-width="1.25" stroke-linecap="round"/>
<line x1="229.00" y1="469.80" x2="231.50" y2="474.60" stroke="#000" stroke-width="1.25" stroke-linecap="round"/>
<line x1="234.80" y1="465.00" x2="237.30" y2="468.80" stroke="#000" stroke-width="1.25" stroke-linecap="round"/>
<line x1="237.70" y1="462.10" x2="243.50" y2="457.30" stroke="#000" stroke-width="1.25" stroke-linecap="round"/>
<line x1="245.40" y1="452.50" x2="247.70" y2="457.30" stroke="#000" stroke-width="1.25" stroke-linecap="round"/>
<line x1="248.30" y1="450.60" x2="254.00" y2="446.70" stroke="#000" stroke-width="1.25" stroke-linecap="round"/>
<line x1="256.00" y1="443.80" x2="257.90" y2="446.70" stroke="#000" stroke-width="1.25" stroke-linecap="round"/>
<line x1="259.80" y1="439.00" x2="262.30" y2="442.90" stroke="#000" stroke-width="1.25" stroke-linecap="round"/>
<line x1="262.70" y1="437.10" x2="276.20" y2="424.60" stroke="#000" stroke-width="1.25" stroke-linecap="round"/>
<path d="M99.5 604.3h0.8v0.8h-0.8zM98.7 604.7h0.8v0.8h-0.8zM98.5 605.7h0.8v0.8h-0.8zM97.5 605.8h0.8v0.8h-0.8zM99.1 605.2h0.8v0.8h-0.8zM100.3 604.9h0.8v0.8h-0.8zM97.8 605.5h0.8v0.8h-0.8zM98.9 604.8h0.8v0.8h-0.8zM97.3 603.9h0.8v0.8h-0.8zM105.1 601.4h0.8v0.8h-0.8zM105.0 603.1h0.8v0.8h-0.8zM102.5 602.6h0.8v0.8h-0.8zM104.4 603.3h0.8v0.8h-0.8zM104.9 603.4h0.8v0.8h-0.8zM104.0 602.3h0.8v0.8h-0.8zM103.9 602.9h0.8v0.8h-0.8zM103.3 601.8h0.8v0.8h-0.8zM105.6 603.2h0.8v0.8h-0.8zM127.2 576.3h0.8v0.8h-0.8zM125.9 576.2h0.8v0.8h-0.8zM125.9 576.1h0.8v0.8h-0.8zM125.4 576.9h0.8v0.8h-0.8zM126.7 577.0h0.8v0.8h-0.8zM126.5 576.0h0.8v0.8h-0.8zM127.9 577.1h0.8v0.8h-0.8zM126.9 577.1h0.8v0.8h-0.8zM126.3 577.0h0.8v0.8h-0.8zM144.5 556.5h0.8v0.8h-0.8zM145.6 556.4h0.8v0.8h-0.8zM145.3 555.9h0.8v0.8h-0.8zM145.2 556.3h0.8v0.8h-0.8zM144.7 556.3h0.8v0.8h-0.8zM145.5 554.9h0.8v0.8h-0.8zM143.8 556.0h0.8v0.8h-0.8zM144.8 555.2h0.8v0.8h-0.8zM144.1 555.0h0.8v0.8h-0.8zM152.9 564.7h0.8v0.8h-0.8zM152.9 563.8h0.8v0.8h-0.8zM153.9 566.0h0.8v0.8h-0.8zM154.8 564.9h0.8v0.8h-0.8zM154.3 564.8h0.8v0.8h-0.8zM153.9 564.5h0.8v0.8h-0.8zM154.0 564.3h0.8v0.8h-0.8zM153.5 564.9h0.8v0.8h-0.8zM153.9 566.4h0.8v0.8h-0.8zM185.5 514.2h0.8v0.8h-0.8zM186.5 515.4h0.8v0.8h-0.8zM186.6 514.9h0.8v0.8h-0.8zM185.0 514.7h0.8v0.8h-0.8zM185.2 514.9h0.8v0.8h-0.8zM187.3 514.8h0.8v0.8h-0.8zM186.2 515.7h0.8v0.8h-0.8zM185.2 515.5h0.8v0.8h-0.8zM185.9 514.5h0.8v0.8h-0.8zM209.1 490.4h0.8v0.8h-0.8zM210.0 491.2h0.8v0.8h-0.8zM209.1 491.4h0.8v0.8h-0.8zM208.4 489.2h0.8v0.8h-0.8zM210.3 490.7h0.8v0.8h-0.8zM209.9 490.5h0.8v0.8h-0.8zM208.1 490.3h0.8v0.8h-0.8zM210.0 491.3h0.8v0.8h-0.8zM209.0 491.6h0.8v0.8h-0.8zM138.9 550.7h0.8v0.8h-0.8zM138.3 549.0h0.8v0.8h-0.8zM139.1 551.0h0.8v0.8h-0.8zM138.5 551.7h0.8v0.8h-0.8zM139.3 551.8h0.8v0.8h-0.8zM139.5 551.4h0.8v0.8h-0.8zM138.9 549.6h0.8v0.8h-0.8zM140.6 551.5h0.8v0.8h-0.8zM139.6 549.9h0.8v0.8h-0.8zM141.7 548.9h0.8v0.8h-0.8zM141.4 550.2h0.8v0.8h-0.8zM141.4 548.9h0.8v0.8h-0.8zM141.5 549.7h0.8v0.8h-0.8zM141.5 550.5h0.8v0.8h-0.8zM140.6 549.0h0.8v0.8h-0.8zM139.6 550.6h0.8v0.8h-0.8zM140.5 550.5h0.8v0.8h-0.8zM141.3 550.4h0.8v0.8h-0.8zM157.0 545.1h0.8v0.8h-0.8zM156.7 545.1h0.8v0.8h-0.8zM156.2 545.5h0.8v0.8h-0.8zM155.7 544.4h0.8v0.8h-0.8zM156.6 544.8h0.8v0.8h-0.8zM156.8 544.1h0.8v0.8h-0.8zM156.9 542.9h0.8v0.8h-0.8zM156.4 544.7h0.8v0.8h-0.8zM156.4 545.4h0.8v0.8h-0.8zM162.0 533.4h0.8v0.8h-0.8zM161.3 533.7h0.8v0.8h-0.8zM162.6 532.0h0.8v0.8h-0.8zM163.0 532.3h0.8v0.8h-0.8zM161.2 533.6h0.8v0.8h-0.8zM163.3 533.5h0.8v0.8h-0.8zM162.0 532.6h0.8v0.8h-0.8zM161.6 533.2h0.8v0.8h-0.8zM162.3 532.4h0.8v0.8h-0.8zM164.4 533.0h0.8v0.8h-0.8zM164.2 533.9h0.8v0.8h-0.8zM163.2 536.0h0.8v0.8h-0.8zM164.5 534.3h0.8v0.8h-0.8zM163.3 535.5h0.8v0.8h-0.8zM164.1 534.0h0.8v0.8h-0.8zM162.4 535.2h0.8v0.8h-0.8zM164.6 534.9h0.8v0.8h-0.8zM163.3 533.3h0.8v0.8h-0.8zM172.8 528.3h0.8v0.8h-0.8zM172.6 526.8h0.8v0.8h-0.8zM171.9 529.0h0.8v0.8h-0.8zM172.0 529.8h0.8v0.8h-0.8zM172.7 529.3h0.8v0.8h-0.8zM172.5 528.4h0.8v0.8h-0.8zM171.5 528.0h0.8v0.8h-0.8zM172.9 528.4h0.8v0.8h-0.8zM170.6 528.7h0.8v0.8h-0.8zM174.6 528.7h0.8v0.8h-0.8zM174.8 528.4h0.8v0.8h-0.8zM176.4 528.7h0.8v0.8h-0.8zM173.9 529.1h0.8v0.8h-0.8zM174.7 529.7h0.8v0.8h-0.8zM174.7 529.5h0.8v0.8h-0.8zM174.6 528.9h0.8v0.8h-0.8zM173.8 528.6h0.8v0.8h-0.8zM174.5 528.2h0.8v0.8h-0.8zM224.7 474.9h0.8v0.8h-0.8zM225.0 475.7h0.8v0.8h-0.8zM223.9 477.3h0.8v0.8h-0.8zM225.1 474.7h0.8v0.8h-0.8zM224.5 474.7h0.8v0.8h-0.8zM223.5 475.3h0.8v0.8h-0.8zM223.8 475.8h0.8v0.8h-0.8zM223.2 475.3h0.8v0.8h-0.8zM225.1 475.3h0.8v0.8h-0.8zM227.1 478.4h0.8v0.8h-0.8zM224.9 476.8h0.8v0.8h-0.8zM225.4 478.1h0.8v0.8h-0.8zM225.4 475.6h0.8v0.8h-0.8zM225.3 476.8h0.8v0.8h-0.8zM225.6 476.9h0.8v0.8h-0.8zM225.8 476.5h0.8v0.8h-0.8zM225.7 476.7h0.8v0.8h-0.8zM225.5 476.9h0.8v0.8h-0.8zM232.1 466.6h0.8v0.8h-0.8zM232.0 465.9h0.8v0.8h-0.8zM230.4 466.3h0.8v0.8h-0.8zM232.1 466.4h0.8v0.8h-0.8zM231.2 465.4h0.8v0.8h-0.8zM231.8 465.9h0.8v0.8h-0.8zM230.4 466.7h0.8v0.8h-0.8zM231.6 467.3h0.8v0.8h-0.8zM230.7 465.5h0.8v0.8h-0.8zM239.1 460.6h0.8v0.8h-0.8zM239.2 460.0h0.8v0.8h-0.8zM238.1 459.7h0.8v0.8h-0.8zM238.0 458.3h0.8v0.8h-0.8zM239.5 460.3h0.8v0.8h-0.8zM238.6 459.7h0.8v0.8h-0.8zM239.4 459.4h0.8v0.8h-0.8zM239.1 459.8h0.8v0.8h-0.8zM238.5 458.8h0.8v0.8h-0.8zM249.9 450.7h0.8v0.8h-0.8zM249.3 448.7h0.8v0.8h-0.8zM250.9 448.6h0.8v0.8h-0.8zM249.1 450.4h0.8v0.8h-0.8zM250.0 449.6h0.8v0.8h-0.8zM248.1 450.0h0.8v0.8h-0.8zM249.4 449.8h0.8v0.8h-0.8zM249.9 450.3h0.8v0.8h-0.8zM250.2 450.3h0.8v0.8h-0.8zM264.1 435.1h0.8v0.8h-0.8zM265.0 434.0h0.8v0.8h-0.8zM263.6 434.2h0.8v0.8h-0.8zM264.0 434.1h0.8v0.8h-0.8zM264.2 433.9h0.8v0.8h-0.8zM264.7 434.5h0.8v0.8h-0.8zM263.9 433.8h0.8v0.8h-0.8zM264.7 434.0h0.8v0.8h-0.8zM264.2 433.7h0.8v0.8h-0.8zM265.8 431.9h0.8v0.8h-0.8zM266.4 432.0h0.8v0.8h-0.8zM266.9 431.8h0.8v0.8h-0.8zM267.7 431.5h0.8v0.8h-0.8zM267.9 432.3h0.8v0.8h-0.8zM268.9 431.4h0.8v0.8h-0.8zM266.6 432.3h0.8v0.8h-0.8zM267.6 431.9h0.8v0.8h-0.8zM267.6 432.2h0.8v0.8h-0.8zM268.6 430.0h0.8v0.8h-0.8zM270.2 430.1h0.8v0.8h-0.8zM269.5 429.2h0.8v0.8h-0.8zM270.1 430.8h0.8v0.8h-0.8zM268.6 430.2h0.8v0.8h-0.8zM268.3 429.9h0.8v0.8h-0.8zM267.7 429.7h0.8v0.8h-0.8zM270.0 428.8h0.8v0.8h-0.8zM268.6 429.9h0.8v0.8h-0.8zM271.9 427.6h0.8v0.8h-0.8zM273.1 426.6h0.8v0.8h-0.8zM272.2 426.0h0.8v0.8h-0.8zM270.0 426.7h0.8v0.8h-0.8zM270.2 427.7h0.8v0.8h-0.8zM272.7 427.7h0.8v0.8h-0.8zM270.9 426.8h0.8v0.8h-0.8zM270.9 427.2h0.8v0.8h-0.8zM271.4 428.1h0.8v0.8h-0.8zM274.9 424.2h0.8v0.8h-0.8zM275.6 425.2h0.8v0.8h-0.8zM275.2 425.1h0.8v0.8h-0.8zM275.5 425.9h0.8v0.8h-0.8zM275.1 426.1h0.8v0.8h-0.8zM275.0 425.3h0.8v0.8h-0.8zM274.1 423.6h0.8v0.8h-0.8zM275.5 425.5h0.8v0.8h-0.8zM273.8 425.7h0.8v0.8h-0.8z" fill="#000" fill-opacity="0.9"/>
<path d="M276.9 422.5h0.9v0.9h-0.9zM278.4 423.3h0.9v0.9h-0.9zM275.5 422.5h0.9v0.9h-0.9zM277.7 423.5h0.9v0.9h-0.9zM277.2 422.1h0.9v0.9h-0.9zM277.1 420.7h0.9v0.9h-0.9zM277.9 422.4h0.9v0.9h-0.9zM276.2 421.8h0.9v0.9h-0.9zM276.9 421.7h0.9v0.9h-0.9zM275.8 421.6h0.9v0.9h-0.9zM278.3 422.3h0.9v0.9h-0.9zM277.2 422.8h0.9v0.9h-0.9zM276.2 423.2h0.9v0.9h-0.9zM276.6 421.8h0.9v0.9h-0.9zM275.8 422.1h0.9v0.9h-0.9zM276.3 423.7h0.9v0.9h-0.9zM274.5 423.5h0.9v0.9h-0.9zM278.1 423.8h0.9v0.9h-0.9zM276.1 421.7h0.9v0.9h-0.9zM277.9 423.1h0.9v0.9h-0.9zM277.0 421.7h0.9v0.9h-0.9zM276.5 421.4h0.9v0.9h-0.9zM278.3 423.4h0.9v0.9h-0.9zM276.4 423.4h0.9v0.9h-0.9zM276.9 420.6h0.9v0.9h-0.9zM277.3 421.8h0.9v0.9h-0.9zM277.0 422.0h0.9v0.9h-0.9zM275.8 422.1h0.9v0.9h-0.9zM277.7 421.4h0.9v0.9h-0.9zM275.9 421.1h0.9v0.9h-0.9zM278.0 421.5h0.9v0.9h-0.9zM279.2 421.3h0.9v0.9h-0.9zM279.0 422.1h0.9v0.9h-0.9zM279.9 422.2h0.9v0.9h-0.9zM277.8 420.2h0.9v0.9h-0.9zM279.3 421.4h0.9v0.9h-0.9zM278.1 420.6h0.9v0.9h-0.9zM279.4 420.6h0.9v0.9h-0.9zM277.9 421.0h0.9v0.9h-0.9zM278.0 421.3h0.9v0.9h-0.9zM278.8 420.5h0.9v0.9h-0.9zM277.7 421.7h0.9v0.9h-0.9zM277.8 420.9h0.9v0.9h-0.9zM278.2 420.8h0.9v0.9h-0.9zM278.2 421.7h0.9v0.9h-0.9zM278.6 419.8h0.9v0.9h-0.9zM277.4 421.4h0.9v0.9h-0.9zM278.4 421.9h0.9v0.9h-0.9zM279.0 421.9h0.9v0.9h-0.9zM277.3 420.4h0.9v0.9h-0.9zM279.7 419.6h0.9v0.9h-0.9zM279.2 420.7h0.9v0.9h-0.9zM279.5 420.5h0.9v0.9h-0.9zM277.9 421.5h0.9v0.9h-0.9zM280.5 419.7h0.9v0.9h-0.9zM278.8 420.0h0.9v0.9h-0.9zM279.0 421.2h0.9v0.9h-0.9zM277.9 419.5h0.9v0.9h-0.9zM278.6 420.8h0.9v0.9h-0.9zM279.4 420.7h0.9v0.9h-0.9zM281.3 419.3h0.9v0.9h-0.9zM281.7 420.0h0.9v0.9h-0.9zM279.1 418.8h0.9v0.9h-0.9zM280.8 418.8h0.9v0.9h-0.9zM280.7 420.6h0.9v0.9h-0.9zM279.6 418.4h0.9v0.9h-0.9zM279.6 420.0h0.9v0.9h-0.9zM282.4 418.3h0.9v0.9h-0.9zM282.5 417.8h0.9v0.9h-0.9zM280.5 419.2h0.9v0.9h-0.9zM280.7 418.5h0.9v0.9h-0.9zM279.3 418.9h0.9v0.9h-0.9zM281.3 418.9h0.9v0.9h-0.9zM280.8 419.5h0.9v0.9h-0.9zM281.7 418.1h0.9v0.9h-0.9zM281.8 420.8h0.9v0.9h-0.9zM279.3 420.1h0.9v0.9h-0.9zM278.7 418.3h0.9v0.9h-0.9zM280.1 419.1h0.9v0.9h-0.9zM278.7 418.4h0.9v0.9h-0.9zM278.9 419.9h0.9v0.9h-0.9zM279.5 419.3h0.9v0.9h-0.9zM279.9 419.6h0.9v0.9h-0.9zM278.1 419.0h0.9v0.9h-0.9zM279.1 418.2h0.9v0.9h-0.9zM280.7 419.8h0.9v0.9h-0.9zM279.6 418.6h0.9v0.9h-0.9zM282.2 419.1h0.9v0.9h-0.9zM281.3 420.0h0.9v0.9h-0.9zM281.1 419.0h0.9v0.9h-0.9zM282.1 418.0h0.9v0.9h-0.9zM279.7 416.5h0.9v0.9h-0.9zM282.6 417.7h0.9v0.9h-0.9zM282.7 416.7h0.9v0.9h-0.9zM281.4 415.9h0.9v0.9h-0.9zM282.4 417.2h0.9v0.9h-0.9zM282.3 415.1h0.9v0.9h-0.9zM281.8 416.2h0.9v0.9h-0.9zM283.0 417.8h0.9v0.9h-0.9zM282.8 417.7h0.9v0.9h-0.9zM283.2 417.4h0.9v0.9h-0.9zM281.4 417.3h0.9v0.9h-0.9zM282.2 417.5h0.9v0.9h-0.9zM282.6 417.2h0.9v0.9h-0.9zM282.4 417.1h0.9v0.9h-0.9zM281.9 416.2h0.9v0.9h-0.9zM281.5 416.7h0.9v0.9h-0.9zM283.8 417.0h0.9v0.9h-0.9zM281.4 417.7h0.9v0.9h-0.9zM282.6 416.9h0.9v0.9h-0.9zM283.0 416.3h0.9v0.9h-0.9zM281.1 416.7h0.9v0.9h-0.9zM281.8 416.9h0.9v0.9h-0.9zM282.2 418.0h0.9v0.9h-0.9zM282.2 417.5h0.9v0.9h-0.9zM281.9 416.2h0.9v0.9h-0.9zM282.1 416.3h0.9v0.9h-0.9zM282.8 416.9h0.9v0.9h-0.9zM281.2 417.1h0.9v0.9h-0.9zM282.3 416.7h0.9v0.9h-0.9zM282.9 415.3h0.9v0.9h-0.9zM283.3 415.1h0.9v0.9h-0.9zM281.5 414.9h0.9v0.9h-0.9zM285.5 416.8h0.9v0.9h-0.9zM284.6 415.4h0.9v0.9h-0.9zM284.6 416.0h0.9v0.9h-0.9zM283.8 415.5h0.9v0.9h-0.9zM283.8 414.2h0.9v0.9h-0.9zM284.6 416.3h0.9v0.9h-0.9zM284.0 415.8h0.9v0.9h-0.9zM283.1 415.5h0.9v0.9h-0.9zM283.2 414.7h0.9v0.9h-0.9zM284.0 417.3h0.9v0.9h-0.9zM285.2 415.6h0.9v0.9h-0.9zM283.4 417.2h0.9v0.9h-0.9zM283.1 415.0h0.9v0.9h-0.9zM284.1 417.1h0.9v0.9h-0.9zM285.0 414.0h0.9v0.9h-0.9zM282.2 414.6h0.9v0.9h-0.9zM284.7 414.8h0.9v0.9h-0.9zM283.2 416.5h0.9v0.9h-0.9zM282.9 416.8h0.9v0.9h-0.9zM282.2 415.0h0.9v0.9h-0.9zM284.8 414.7h0.9v0.9h-0.9zM286.0 413.9h0.9v0.9h-0.9zM286.4 413.6h0.9v0.9h-0.9zM286.2 413.7h0.9v0.9h-0.9zM285.9 412.9h0.9v0.9h-0.9zM287.2 412.5h0.9v0.9h-0.9zM285.9 412.7h0.9v0.9h-0.9zM285.7 414.0h0.9v0.9h-0.9zM284.7 412.2h0.9v0.9h-0.9zM286.1 413.3h0.9v0.9h-0.9zM285.9 413.1h0.9v0.9h-0.9zM286.2 413.0h0.9v0.9h-0.9zM286.6 413.1h0.9v0.9h-0.9zM284.8 412.4h0.9v0.9h-0.9zM286.2 412.6h0.9v0.9h-0.9zM284.7 413.6h0.9v0.9h-0.9zM285.8 413.8h0.9v0.9h-0.9zM286.8 412.2h0.9v0.9h-0.9zM286.2 412.7h0.9v0.9h-0.9zM285.7 413.5h0.9v0.9h-0.9zM286.0 413.1h0.9v0.9h-0.9zM287.9 411.4h0.9v0.9h-0.9zM285.6 411.9h0.9v0.9h-0.9zM288.3 411.5h0.9v0.9h-0.9zM287.7 412.3h0.9v0.9h-0.9zM287.6 411.6h0.9v0.9h-0.9zM287.3 409.8h0.9v0.9h-0.9zM288.0 411.5h0.9v0.9h-0.9zM286.5 412.1h0.9v0.9h-0.9zM288.2 411.4h0.9v0.9h-0.9zM287.1 410.3h0.9v0.9h-0.9zM287.6 411.3h0.9v0.9h-0.9zM287.5 411.1h0.9v0.9h-0.9zM288.1 411.4h0.9v0.9h-0.9zM288.2 411.1h0.9v0.9h-0.9zM286.6 411.5h0.9v0.9h-0.9zM288.1 411.9h0.9v0.9h-0.9zM288.1 410.4h0.9v0.9h-0.9zM288.1 412.1h0.9v0.9h-0.9zM289.1 411.2h0.9v0.9h-0.9zM288.0 411.2h0.9v0.9h-0.9zM291.6 408.7h0.9v0.9h-0.9zM292.8 408.5h0.9v0.9h-0.9zM290.5 409.3h0.9v0.9h-0.9zM291.4 407.8h0.9v0.9h-0.9zM290.8 407.9h0.9v0.9h-0.9zM289.5 408.8h0.9v0.9h-0.9zM290.2 408.5h0.9v0.9h-0.9zM291.2 407.8h0.9v0.9h-0.9zM291.3 408.0h0.9v0.9h-0.9zM290.9 408.0h0.9v0.9h-0.9zM289.9 406.6h0.9v0.9h-0.9zM290.2 407.8h0.9v0.9h-0.9zM292.8 408.1h0.9v0.9h-0.9zM291.0 407.8h0.9v0.9h-0.9zM291.7 408.9h0.9v0.9h-0.9zM290.9 408.6h0.9v0.9h-0.9zM288.9 407.7h0.9v0.9h-0.9zM290.6 409.8h0.9v0.9h-0.9zM292.6 407.9h0.9v0.9h-0.9zM291.1 408.6h0.9v0.9h-0.9zM292.7 407.8h0.9v0.9h-0.9zM291.0 408.8h0.9v0.9h-0.9zM290.7 408.0h0.9v0.9h-0.9zM291.1 408.6h0.9v0.9h-0.9zM291.4 406.5h0.9v0.9h-0.9zM292.0 406.5h0.9v0.9h-0.9zM292.6 406.2h0.9v0.9h-0.9zM291.4 407.2h0.9v0.9h-0.9zM291.7 406.5h0.9v0.9h-0.9zM292.3 406.5h0.9v0.9h-0.9zM290.9 406.7h0.9v0.9h-0.9zM292.2 406.8h0.9v0.9h-0.9zM292.7 406.9h0.9v0.9h-0.9zM292.0 407.5h0.9v0.9h-0.9zM293.0 402.2h0.9v0.9h-0.9zM293.6 404.7h0.9v0.9h-0.9zM293.5 403.5h0.9v0.9h-0.9zM293.8 405.0h0.9v0.9h-0.9zM293.5 403.5h0.9v0.9h-0.9zM293.1 404.4h0.9v0.9h-0.9zM292.4 404.8h0.9v0.9h-0.9zM292.4 405.3h0.9v0.9h-0.9zM292.9 404.7h0.9v0.9h-0.9zM293.6 402.8h0.9v0.9h-0.9zM293.7 403.6h0.9v0.9h-0.9zM293.0 404.2h0.9v0.9h-0.9zM292.3 403.9h0.9v0.9h-0.9zM293.5 404.6h0.9v0.9h-0.9zM294.0 404.4h0.9v0.9h-0.9zM291.5 404.4h0.9v0.9h-0.9zM292.7 403.0h0.9v0.9h-0.9zM293.5 404.8h0.9v0.9h-0.9zM293.3 403.9h0.9v0.9h-0.9zM292.6 403.8h0.9v0.9h-0.9zM293.7 404.2h0.9v0.9h-0.9zM293.4 403.8h0.9v0.9h-0.9z" fill="#000" fill-opacity="0.95"/>
<line x1="276.40" y1="424.10" x2="284.70" y2="415.80" stroke="#000" stroke-width="1.4" />
<rect x="407.30" y="394.20" width="262.10" height="234.40" fill="none" stroke="#555" stroke-width="0.8" />
<text x="414.50" y="644.00" font-size="11" text-anchor="middle" fill="#111">0</text>
<text x="450.80" y="644.00" font-size="11" text-anchor="middle" fill="#111">20</text>
<text x="487.10" y="644.00" font-size="11" text-anchor="middle" fill="#111">40</text>
<text x="523.40" y="644.00" font-size="11" text-anchor="middle" fill="#111">60</text>
<text x="559.70" y="644.00" font-size="11" text-anchor="middle" fill="#111">80</text>
<text x="596.00" y="644.00" font-size="11" text-anchor="middle" fill="#111">100</text>
<text x="632.30" y="644.00" font-size="11" text-anchor="middle" fill="#111">120</text>
<text x="668.60" y="644.00" font-size="11" text-anchor="middle" fill="#111">140</text>
<text x="396.80" y="619.40" font-size="11" text-anchor="middle" fill="#111" transform="rotate(-90 396.80 619.40)" letter-spacing="-0.7">0</text>
<text x="396.80" y="576.06" font-size="11" text-anchor="middle" fill="#111" transform="rotate(-90 396.80 576.06)" letter-spacing="-0.7">02</text>
<text x="396.80" y="532.72" font-size="11" text-anchor="middle" fill="#111" transform="rotate(-90 396.80 532.72)" letter-spacing="-0.7">04</text>
<text x="396.80" y="489.38" font-size="11" text-anchor="middle" fill="#111" transform="rotate(-90 396.80 489.38)" letter-spacing="-0.7">06</text>
<text x="396.80" y="446.04" font-size="11" text-anchor="middle" fill="#111" transform="rotate(-90 396.80 446.04)" letter-spacing="-0.7">08</text>
<text x="396.80" y="401.00" font-size="11" text-anchor="middle" fill="#111" transform="rotate(-90 396.80 401.00)" letter-spacing="-1.3">1.0</text>
<path d="M414.5 628.6v5M450.8 628.6v5M487.1 628.6v5M523.4 628.6v5M559.7 628.6v5M596.0 628.6v5M632.3 628.6v5M668.6 628.6v5M407.3 619.7h-5M407.3 576.4h-5M407.3 533.0h-5M407.3 489.7h-5M407.3 446.3h-5M407.3 403.0h-5" stroke="#444" stroke-width="0.7" fill="none"/>
<text x="486.40" y="660.20" font-size="14.4" text-anchor="start" fill="#111">Run length, genes</text>
<text x="383.80" y="516.00" font-size="13.6" text-anchor="middle" fill="#111" transform="rotate(-90 383.80 516.00)">Cumulative genes, %</text>
<text x="336.70" y="383.50" font-size="20.5" text-anchor="start" fill="#000" font-weight="bold">d</text>
<g fill="#000"><circle cx="416.31" cy="619.70" r="1.55"/><circle cx="418.13" cy="585.68" r="1.55"/><circle cx="419.94" cy="554.69" r="1.55"/><circle cx="421.76" cy="526.52" r="1.55"/><circle cx="423.57" cy="503.55" r="1.55"/><circle cx="425.39" cy="484.05" r="1.55"/><circle cx="427.20" cy="463.24" r="1.55"/><circle cx="429.02" cy="450.24" r="1.55"/><circle cx="430.83" cy="441.57" r="1.55"/><circle cx="432.65" cy="431.60" r="1.55"/><circle cx="434.46" cy="425.75" r="1.55"/><circle cx="436.28" cy="420.77" r="1.55"/><circle cx="438.10" cy="415.57" r="1.55"/><circle cx="439.91" cy="410.15" r="1.55"/><circle cx="441.73" cy="408.42" r="1.55"/><circle cx="443.54" cy="406.90" r="1.55"/><circle cx="445.36" cy="405.38" r="1.55"/><circle cx="447.17" cy="404.52" r="1.55"/><circle cx="448.99" cy="404.19" r="1.55"/><circle cx="450.80" cy="403.87" r="1.55"/><circle cx="452.62" cy="403.70" r="1.55"/><circle cx="454.43" cy="403.54" r="1.55"/><circle cx="456.25" cy="403.38" r="1.55"/><circle cx="458.06" cy="403.22" r="1.55"/><circle cx="459.88" cy="403.11" r="1.55"/><circle cx="461.69" cy="403.00" r="1.55"/><circle cx="463.50" cy="403.00" r="1.55"/><circle cx="465.32" cy="403.00" r="1.55"/><circle cx="467.13" cy="403.00" r="1.55"/><circle cx="468.95" cy="403.00" r="1.55"/><circle cx="470.76" cy="403.00" r="1.55"/><circle cx="472.58" cy="403.00" r="1.55"/><circle cx="474.39" cy="403.00" r="1.55"/><circle cx="476.21" cy="403.00" r="1.55"/><circle cx="478.02" cy="403.00" r="1.55"/><circle cx="479.84" cy="403.00" r="1.55"/><circle cx="481.65" cy="403.00" r="1.55"/><circle cx="483.47" cy="403.00" r="1.55"/><circle cx="485.28" cy="403.00" r="1.55"/><circle cx="487.10" cy="403.00" r="1.55"/><circle cx="488.91" cy="403.00" r="1.55"/><circle cx="490.73" cy="403.00" r="1.55"/><circle cx="492.55" cy="403.00" r="1.55"/><circle cx="494.36" cy="403.00" r="1.55"/><circle cx="496.18" cy="403.00" r="1.55"/><circle cx="497.99" cy="403.00" r="1.55"/><circle cx="499.81" cy="403.00" r="1.55"/><circle cx="501.62" cy="403.00" r="1.55"/><circle cx="503.44" cy="403.00" r="1.55"/><circle cx="505.25" cy="403.00" r="1.55"/><circle cx="507.06" cy="403.00" r="1.55"/><circle cx="508.88" cy="403.00" r="1.55"/><circle cx="510.69" cy="403.00" r="1.55"/><circle cx="512.51" cy="403.00" r="1.55"/><circle cx="514.33" cy="403.00" r="1.55"/><circle cx="516.14" cy="403.00" r="1.55"/><circle cx="517.96" cy="403.00" r="1.55"/><circle cx="519.77" cy="403.00" r="1.55"/><circle cx="521.59" cy="403.00" r="1.55"/><circle cx="523.40" cy="403.00" r="1.55"/><circle cx="525.22" cy="403.00" r="1.55"/><circle cx="527.03" cy="403.00" r="1.55"/><circle cx="528.85" cy="403.00" r="1.55"/><circle cx="530.66" cy="403.00" r="1.55"/><circle cx="532.48" cy="403.00" r="1.55"/><circle cx="534.29" cy="403.00" r="1.55"/><circle cx="536.11" cy="403.00" r="1.55"/><circle cx="537.92" cy="403.00" r="1.55"/><circle cx="539.74" cy="403.00" r="1.55"/><circle cx="541.55" cy="403.00" r="1.55"/><circle cx="543.37" cy="403.00" r="1.55"/><circle cx="545.18" cy="403.00" r="1.55"/><circle cx="547.00" cy="403.00" r="1.55"/><circle cx="548.81" cy="403.00" r="1.55"/><circle cx="550.62" cy="403.00" r="1.55"/><circle cx="552.44" cy="403.00" r="1.55"/><circle cx="554.25" cy="403.00" r="1.55"/><circle cx="556.07" cy="403.00" r="1.55"/><circle cx="557.88" cy="403.00" r="1.55"/><circle cx="559.70" cy="403.00" r="1.55"/><circle cx="561.51" cy="403.00" r="1.55"/><circle cx="563.33" cy="403.00" r="1.55"/><circle cx="565.14" cy="403.00" r="1.55"/><circle cx="566.96" cy="403.00" r="1.55"/><circle cx="568.77" cy="403.00" r="1.55"/><circle cx="570.59" cy="403.00" r="1.55"/><circle cx="572.40" cy="403.00" r="1.55"/><circle cx="574.22" cy="403.00" r="1.55"/><circle cx="576.03" cy="403.00" r="1.55"/><circle cx="577.85" cy="403.00" r="1.55"/><circle cx="579.66" cy="403.00" r="1.55"/><circle cx="581.48" cy="403.00" r="1.55"/><circle cx="583.29" cy="403.00" r="1.55"/><circle cx="585.11" cy="403.00" r="1.55"/><circle cx="586.92" cy="403.00" r="1.55"/><circle cx="588.74" cy="403.00" r="1.55"/><circle cx="590.56" cy="403.00" r="1.55"/><circle cx="592.37" cy="403.00" r="1.55"/><circle cx="594.18" cy="403.00" r="1.55"/><circle cx="596.00" cy="403.00" r="1.55"/><circle cx="597.82" cy="403.00" r="1.55"/><circle cx="599.63" cy="403.00" r="1.55"/><circle cx="601.44" cy="403.00" r="1.55"/><circle cx="603.26" cy="403.00" r="1.55"/><circle cx="605.08" cy="403.00" r="1.55"/><circle cx="606.89" cy="403.00" r="1.55"/><circle cx="608.70" cy="403.00" r="1.55"/><circle cx="610.52" cy="403.00" r="1.55"/><circle cx="612.34" cy="403.00" r="1.55"/><circle cx="614.15" cy="403.00" r="1.55"/><circle cx="615.97" cy="403.00" r="1.55"/><circle cx="617.78" cy="403.00" r="1.55"/><circle cx="619.60" cy="403.00" r="1.55"/><circle cx="621.41" cy="403.00" r="1.55"/><circle cx="623.23" cy="403.00" r="1.55"/><circle cx="625.04" cy="403.00" r="1.55"/><circle cx="626.86" cy="403.00" r="1.55"/><circle cx="628.67" cy="403.00" r="1.55"/><circle cx="630.49" cy="403.00" r="1.55"/><circle cx="632.30" cy="403.00" r="1.55"/><circle cx="634.12" cy="403.00" r="1.55"/><circle cx="635.93" cy="403.00" r="1.55"/><circle cx="637.75" cy="403.00" r="1.55"/><circle cx="639.56" cy="403.00" r="1.55"/><circle cx="641.38" cy="403.00" r="1.55"/><circle cx="643.19" cy="403.00" r="1.55"/><circle cx="645.00" cy="403.00" r="1.55"/><circle cx="646.82" cy="403.00" r="1.55"/><circle cx="648.63" cy="403.00" r="1.55"/><circle cx="650.45" cy="403.00" r="1.55"/><circle cx="652.26" cy="403.00" r="1.55"/><circle cx="654.08" cy="403.00" r="1.55"/><circle cx="655.89" cy="403.00" r="1.55"/><circle cx="657.71" cy="403.00" r="1.55"/><circle cx="659.52" cy="403.00" r="1.55"/></g>
<g fill="#5aae57"><circle cx="416.31" cy="619.70" r="1.55"/><circle cx="418.13" cy="615.15" r="1.55"/><circle cx="419.94" cy="609.95" r="1.55"/><circle cx="421.76" cy="605.61" r="1.55"/><circle cx="423.57" cy="599.33" r="1.55"/><circle cx="425.39" cy="594.78" r="1.55"/><circle cx="427.20" cy="590.01" r="1.55"/><circle cx="429.02" cy="585.68" r="1.55"/><circle cx="430.83" cy="580.26" r="1.55"/><circle cx="432.65" cy="575.06" r="1.55"/><circle cx="434.46" cy="571.38" r="1.55"/><circle cx="436.28" cy="565.96" r="1.55"/><circle cx="438.10" cy="559.67" r="1.55"/><circle cx="439.91" cy="553.82" r="1.55"/><circle cx="441.73" cy="548.41" r="1.55"/><circle cx="443.54" cy="543.42" r="1.55"/><circle cx="445.36" cy="537.57" r="1.55"/><circle cx="447.17" cy="534.75" r="1.55"/><circle cx="448.99" cy="530.42" r="1.55"/><circle cx="450.80" cy="527.17" r="1.55"/><circle cx="452.62" cy="522.84" r="1.55"/><circle cx="454.43" cy="518.93" r="1.55"/><circle cx="456.25" cy="513.52" r="1.55"/><circle cx="458.06" cy="510.27" r="1.55"/><circle cx="459.88" cy="507.02" r="1.55"/><circle cx="461.69" cy="503.77" r="1.55"/><circle cx="463.50" cy="500.52" r="1.55"/><circle cx="465.32" cy="497.91" r="1.55"/><circle cx="467.13" cy="489.68" r="1.55"/><circle cx="468.95" cy="486.43" r="1.55"/><circle cx="470.76" cy="483.61" r="1.55"/><circle cx="472.58" cy="482.10" r="1.55"/><circle cx="474.39" cy="478.85" r="1.55"/><circle cx="476.21" cy="475.59" r="1.55"/><circle cx="478.02" cy="473.43" r="1.55"/><circle cx="479.84" cy="470.61" r="1.55"/><circle cx="481.65" cy="470.18" r="1.55"/><circle cx="483.47" cy="468.01" r="1.55"/><circle cx="485.28" cy="465.41" r="1.55"/><circle cx="487.10" cy="463.68" r="1.55"/><circle cx="488.91" cy="462.38" r="1.55"/><circle cx="490.73" cy="461.51" r="1.55"/><circle cx="492.55" cy="461.29" r="1.55"/><circle cx="494.36" cy="460.21" r="1.55"/><circle cx="496.18" cy="458.91" r="1.55"/><circle cx="497.99" cy="452.84" r="1.55"/><circle cx="499.81" cy="451.54" r="1.55"/><circle cx="501.62" cy="449.81" r="1.55"/><circle cx="503.44" cy="448.07" r="1.55"/><circle cx="505.25" cy="446.99" r="1.55"/><circle cx="507.06" cy="444.61" r="1.55"/><circle cx="508.88" cy="443.31" r="1.55"/><circle cx="510.69" cy="441.57" r="1.55"/><circle cx="512.51" cy="437.67" r="1.55"/><circle cx="514.33" cy="436.81" r="1.55"/><circle cx="516.14" cy="436.37" r="1.55"/><circle cx="517.96" cy="436.33" r="1.55"/><circle cx="519.77" cy="436.29" r="1.55"/><circle cx="521.59" cy="436.24" r="1.55"/><circle cx="523.40" cy="436.20" r="1.55"/><circle cx="525.22" cy="436.16" r="1.55"/><circle cx="527.03" cy="433.34" r="1.55"/><circle cx="528.85" cy="430.30" r="1.55"/><circle cx="530.66" cy="429.00" r="1.55"/><circle cx="532.48" cy="428.14" r="1.55"/><circle cx="534.29" cy="427.27" r="1.55"/><circle cx="536.11" cy="426.40" r="1.55"/><circle cx="537.92" cy="425.54" r="1.55"/><circle cx="539.74" cy="424.02" r="1.55"/><circle cx="541.55" cy="422.50" r="1.55"/><circle cx="543.37" cy="422.07" r="1.55"/><circle cx="545.18" cy="421.90" r="1.55"/><circle cx="547.00" cy="421.72" r="1.55"/><circle cx="548.81" cy="421.55" r="1.55"/><circle cx="550.62" cy="421.38" r="1.55"/><circle cx="552.44" cy="421.20" r="1.55"/><circle cx="554.25" cy="420.77" r="1.55"/><circle cx="556.07" cy="420.34" r="1.55"/><circle cx="557.88" cy="420.12" r="1.55"/><circle cx="559.70" cy="419.90" r="1.55"/><circle cx="561.51" cy="418.60" r="1.55"/><circle cx="563.33" cy="417.30" r="1.55"/><circle cx="565.14" cy="416.87" r="1.55"/><circle cx="566.96" cy="416.44" r="1.55"/><circle cx="568.77" cy="416.00" r="1.55"/><circle cx="570.59" cy="415.35" r="1.55"/><circle cx="572.40" cy="414.27" r="1.55"/><circle cx="574.22" cy="413.18" r="1.55"/><circle cx="576.03" cy="413.11" r="1.55"/><circle cx="577.85" cy="413.04" r="1.55"/><circle cx="579.66" cy="412.97" r="1.55"/><circle cx="581.48" cy="411.45" r="1.55"/><circle cx="583.29" cy="409.93" r="1.55"/><circle cx="585.11" cy="409.28" r="1.55"/><circle cx="586.92" cy="409.00" r="1.55"/><circle cx="588.74" cy="408.71" r="1.55"/><circle cx="590.56" cy="408.42" r="1.55"/><circle cx="592.37" cy="408.20" r="1.55"/><circle cx="594.18" cy="407.98" r="1.55"/><circle cx="596.00" cy="407.77" r="1.55"/><circle cx="597.82" cy="404.52" r="1.55"/><circle cx="599.63" cy="404.52" r="1.55"/><circle cx="601.44" cy="404.52" r="1.55"/><circle cx="603.26" cy="404.52" r="1.55"/><circle cx="605.08" cy="404.52" r="1.55"/><circle cx="606.89" cy="404.52" r="1.55"/><circle cx="608.70" cy="404.52" r="1.55"/><circle cx="610.52" cy="404.52" r="1.55"/><circle cx="612.34" cy="404.52" r="1.55"/><circle cx="614.15" cy="404.52" r="1.55"/><circle cx="615.97" cy="404.52" r="1.55"/><circle cx="617.78" cy="404.52" r="1.55"/><circle cx="619.60" cy="404.52" r="1.55"/><circle cx="621.41" cy="404.52" r="1.55"/><circle cx="623.23" cy="404.52" r="1.55"/><circle cx="625.04" cy="404.52" r="1.55"/><circle cx="626.86" cy="404.52" r="1.55"/><circle cx="628.67" cy="404.52" r="1.55"/><circle cx="630.49" cy="404.52" r="1.55"/><circle cx="632.30" cy="404.52" r="1.55"/><circle cx="634.12" cy="404.52" r="1.55"/><circle cx="635.93" cy="404.52" r="1.55"/><circle cx="637.75" cy="404.52" r="1.55"/><circle cx="639.56" cy="404.52" r="1.55"/><circle cx="641.38" cy="404.52" r="1.55"/><circle cx="643.19" cy="404.52" r="1.55"/><circle cx="645.00" cy="404.52" r="1.55"/><circle cx="646.82" cy="404.52" r="1.55"/><circle cx="648.63" cy="404.52" r="1.55"/><circle cx="650.45" cy="404.52" r="1.55"/><circle cx="652.26" cy="404.52" r="1.55"/><circle cx="654.08" cy="404.52" r="1.55"/><circle cx="655.89" cy="404.52" r="1.55"/><circle cx="657.71" cy="404.52" r="1.55"/><circle cx="659.52" cy="403.00" r="1.55"/></g>
<rect x="552.20" y="478.70" width="100.60" height="27.50" fill="#fff" stroke="#333" stroke-width="0.6" />
<rect x="558.80" y="485.60" width="6.00" height="5.60" fill="#000" stroke="none" stroke-width="0.7" />
<rect x="558.80" y="494.40" width="6.00" height="5.60" fill="#5aae57" stroke="#333" stroke-width="0.4" />
<text x="571.60" y="491.20" font-size="7.5" text-anchor="start" fill="#111">Euprymna&#8722;Doryteuthis</text>
<text x="571.60" y="500.00" font-size="7.5" text-anchor="start" fill="#111">Chicken&#8722;Zebrafinch</text>
<g transform="translate(78.1 330.4)" fill="none" stroke="#222" stroke-width="0.6" stroke-linecap="round"><path d="M22.6 -12.3C26 -14.5 30 -15.5 33.5 -15.3C38 -15.2 42.5 -13 43 -7.9C43.3 -3.5 38 1.3 32.2 1.3C28 1.3 23.5 .3 20 -2.2"/>
<path d="M11.8 -7.8C11.6 -11.3 13.8 -13.2 16.5 -13.2C19.5 -13.3 22.3 -11.8 23.4 -9.4C24.2 -6.5 22.8 -3.8 20 -2.2C17 -1 14 -.4 12.1 -.4C8 .3 4 1 1.6 .9"/>
<path d="M11.8 -7.8L.3 -.9M.8 0L9 -5M2.5 .7L11 -4M4.5 .8L12.5 -3M6.5 .5L13.5 -2M.3 -.9L1.6 .9"/>
<circle cx="19.5" cy="-6.9" r="2.5" stroke-width="0.75"/><circle cx="19.5" cy="-6.9" r="1.0"/>
<path d="M15.6 -9.6C14.6 -7 15.2 -4.4 17 -3.2M16.2 -10.8C18.5 -12 21.5 -11 23 -8.6"/>
<path d="M39.2 -9.2C41.5 -7.5 40.5 -4.5 37.5 -3.9C35.5 -3.5 33.5 -3.9 32.2 -4.4"/></g>
<g transform="translate(430.2 29.5)" fill="none" stroke="#222" stroke-width="0.6" stroke-linecap="round"><path d="M22.6 -12.3C26 -14.5 30 -15.5 33.5 -15.3C38 -15.2 42.5 -13 43 -7.9C43.3 -3.5 38 1.3 32.2 1.3C28 1.3 23.5 .3 20 -2.2"/>
<path d="M11.8 -7.8C11.6 -11.3 13.8 -13.2 16.5 -13.2C19.5 -13.3 22.3 -11.8 23.4 -9.4C24.2 -6.5 22.8 -3.8 20 -2.2C17 -1 14 -.4 12.1 -.4C8 .3 4 1 1.6 .9"/>
<path d="M11.8 -7.8L.3 -.9M.8 0L9 -5M2.5 .7L11 -4M4.5 .8L12.5 -3M6.5 .5L13.5 -2M.3 -.9L1.6 .9"/>
<circle cx="19.5" cy="-6.9" r="2.5" stroke-width="0.75"/><circle cx="19.5" cy="-6.9" r="1.0"/>
<path d="M15.6 -9.6C14.6 -7 15.2 -4.4 17 -3.2M16.2 -10.8C18.5 -12 21.5 -11 23 -8.6"/>
<path d="M39.2 -9.2C41.5 -7.5 40.5 -4.5 37.5 -3.9C35.5 -3.5 33.5 -3.9 32.2 -4.4"/></g>
<g fill="none" stroke="#222" stroke-width="0.55" stroke-linecap="round"><path d="M64.8 57.5C61 58 57 58.4 53.2 59.2C48 60.2 44 61.4 39.9 62.5C35 63.8 32 64.6 28.6 65.5L24.6 67.2"/>
<path d="M64.8 57.5C63 59.2 61 60.8 58.6 62.5C56 64.3 53.5 65.8 50.6 67.2C47 69 43.5 70.6 39.9 71.9C37.5 72.7 35.3 73.2 33.3 73.2C31.5 73.2 30.2 73 29.3 72.5L27.9 70.5"/>
<path d="M43.3 64.3C46.5 63.6 50 62.6 53.2 61.5C57 60.2 61 58.9 64.8 57.5"/>
<path d="M24.6 67.2L27.9 70.5M27.6 66L29.3 72.5"/>
<circle cx="25.6" cy="69" r="1.3"/>
<path d="M24 67.6C16 71.5 8 76 .7 80.5C9 77.5 18 75 26.6 71.9M20 70.5C15 73 10 75.8 5.3 78.5M23 72C17 74.2 10 77 4 79.3"/></g>
<g transform="translate(0 420) scale(0.08759)" fill="none" stroke="#555" stroke-width="5.14" stroke-linecap="round" stroke-linejoin="round"><path d="M100 208C110 185 140 155 180 152C220 150 250 180 260 210C300 255 380 330 430 410L535 540L520 555L430 460"/>
<path d="M100 208L145 232C160 260 160 300 175 335C195 385 250 425 300 440"/>
<path d="M100 208L150 185L152 235"/>
<path d="M172 185C168 210 172 235 185 243C210 248 235 230 232 200"/>
<path d="M195 310C215 355 280 395 370 425C400 435 420 450 430 460"/>
<path d="M175 462C210 445 260 438 320 436C370 436 410 447 430 460"/>
<path d="M255 460L310 430M270 462L320 438"/></g>
<g transform="translate(100 628) scale(0.08759)" fill="none" stroke="#111" stroke-width="7.08" stroke-linecap="round" stroke-linejoin="round"><path d="M85 150C80 125 95 100 110 97C120 100 125 112 135 113C160 112 180 125 195 160C205 195 215 225 240 240C290 258 370 255 430 245C470 238 500 228 525 225C510 240 480 258 440 268"/>
<path d="M440 268C470 268 500 272 512 285C495 292 475 295 458 296C480 300 500 308 510 318C490 322 475 322 458 320C475 328 488 338 492 347C470 348 455 345 440 340"/>
<path d="M412 268C425 295 420 330 408 347C400 358 392 365 385 368"/>
<path d="M118 185C95 225 80 270 88 300C100 345 150 385 220 410C260 425 300 432 345 422C370 412 378 398 362 382"/>
<path d="M135 300C150 330 190 345 240 352C290 362 330 378 362 382C385 375 400 362 408 347"/>
<path d="M285 430L240 490M170 510C195 500 220 493 240 490L282 500"/>
<path d="M85 150L100 172L125 180M95 130L115 120M100 145L120 150M105 100L100 120M118 105L112 122"/></g>
<g transform="translate(580 0) scale(0.09489)" fill="none" stroke="#111" stroke-width="7.17" stroke-linecap="round" stroke-linejoin="round"><path d="M300 100C340 95 400 105 440 100C480 97 510 95 522 86C525 120 505 165 475 195C450 218 400 222 360 212C340 207 320 197 310 190"/>
<path d="M300 100C270 115 235 150 215 185C200 215 195 235 170 247C155 255 140 257 130 260"/>
<ellipse cx="120" cy="280" rx="34" ry="22"/>
<path d="M150 285C150 320 175 350 215 362C250 370 275 355 268 330C262 315 240 318 235 332"/>
<path d="M245 210C225 240 200 268 160 290"/>
<path d="M190 330C185 300 215 282 260 275C310 265 360 268 400 285C440 300 480 305 510 295C520 288 515 275 503 277"/>
<path d="M310 190C335 225 390 240 440 240C490 240 520 247 545 240C558 232 552 215 538 218"/>
<path d="M315 208C345 250 400 262 450 265C480 266 505 265 520 268"/>
<path d="M350 262C390 280 440 285 490 287"/>
<path d="M268 183L292 180M285 130C295 120 310 118 325 135M290 140L305 128"/></g>
</g>
</svg>
</body></html>
